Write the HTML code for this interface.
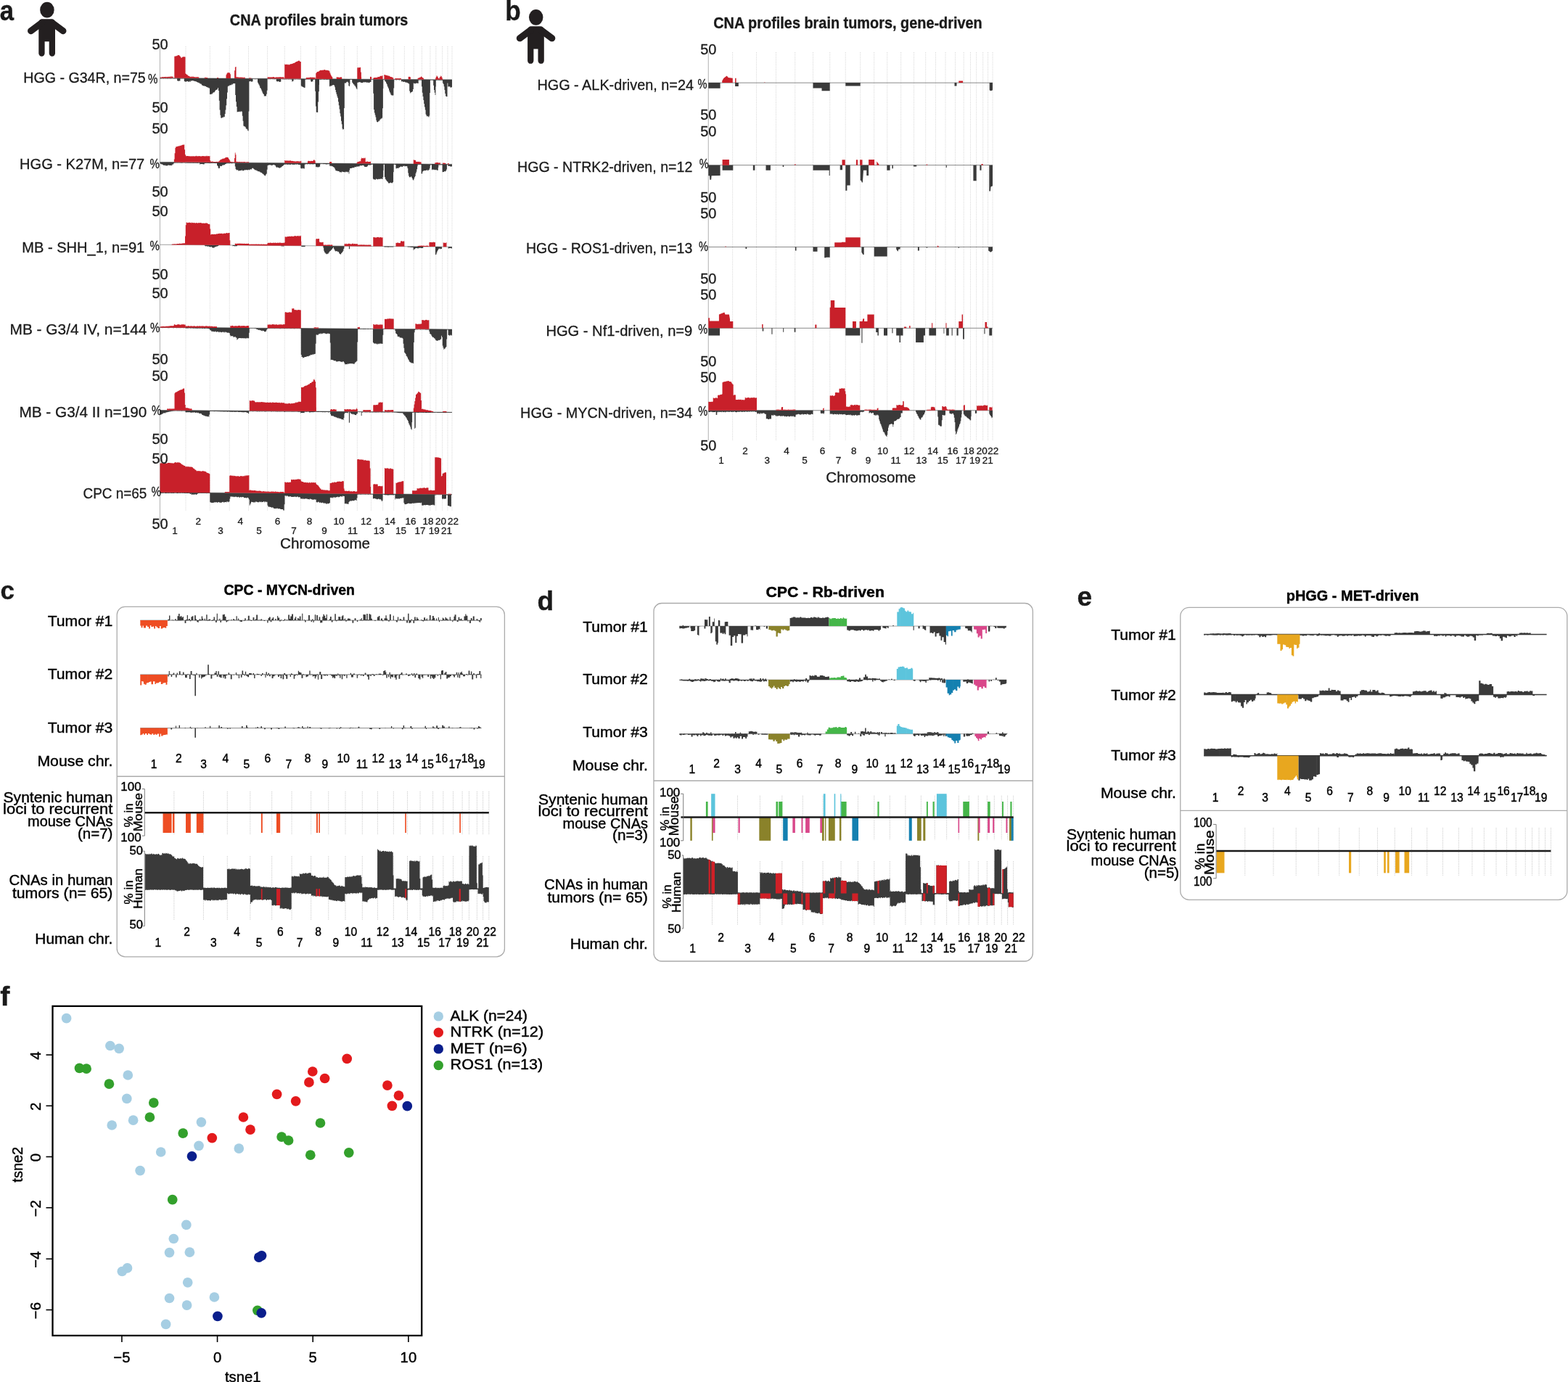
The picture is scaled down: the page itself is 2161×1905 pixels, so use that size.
<!DOCTYPE html>
<html lang="en"><head><meta charset="utf-8"><title>CNA profiles brain tumors</title>
<style>html,body{margin:0;padding:0;background:#fff}svg{display:block}text{font-family:"Liberation Sans", sans-serif;fill:#1a1a1a}text.r{stroke:#1a1a1a;stroke-width:0.3px}text.b{stroke:#1a1a1a;stroke-width:0.35px}text.k{fill:#000;stroke:#000;stroke-width:0.42px}</style></head>
<body><svg width="2161" height="1905" viewBox="0 0 2161 1905">
<line x1="255.97" y1="64.00" x2="255.97" y2="704.00" stroke="#c8c8c8" stroke-width="0.8" stroke-dasharray="1 1.3"/>
<line x1="289.33" y1="64.00" x2="289.33" y2="704.00" stroke="#c8c8c8" stroke-width="0.8" stroke-dasharray="1 1.3"/>
<line x1="316.24" y1="64.00" x2="316.24" y2="704.00" stroke="#c8c8c8" stroke-width="0.8" stroke-dasharray="1 1.3"/>
<line x1="342.50" y1="64.00" x2="342.50" y2="704.00" stroke="#c8c8c8" stroke-width="0.8" stroke-dasharray="1 1.3"/>
<line x1="368.55" y1="64.00" x2="368.55" y2="704.00" stroke="#c8c8c8" stroke-width="0.8" stroke-dasharray="1 1.3"/>
<line x1="392.23" y1="64.00" x2="392.23" y2="704.00" stroke="#c8c8c8" stroke-width="0.8" stroke-dasharray="1 1.3"/>
<line x1="414.40" y1="64.00" x2="414.40" y2="704.00" stroke="#c8c8c8" stroke-width="0.8" stroke-dasharray="1 1.3"/>
<line x1="435.28" y1="64.00" x2="435.28" y2="704.00" stroke="#c8c8c8" stroke-width="0.8" stroke-dasharray="1 1.3"/>
<line x1="455.73" y1="64.00" x2="455.73" y2="704.00" stroke="#c8c8c8" stroke-width="0.8" stroke-dasharray="1 1.3"/>
<line x1="474.46" y1="64.00" x2="474.46" y2="704.00" stroke="#c8c8c8" stroke-width="0.8" stroke-dasharray="1 1.3"/>
<line x1="492.33" y1="64.00" x2="492.33" y2="704.00" stroke="#c8c8c8" stroke-width="0.8" stroke-dasharray="1 1.3"/>
<line x1="511.49" y1="64.00" x2="511.49" y2="704.00" stroke="#c8c8c8" stroke-width="0.8" stroke-dasharray="1 1.3"/>
<line x1="527.63" y1="64.00" x2="527.63" y2="704.00" stroke="#c8c8c8" stroke-width="0.8" stroke-dasharray="1 1.3"/>
<line x1="542.70" y1="64.00" x2="542.70" y2="704.00" stroke="#c8c8c8" stroke-width="0.8" stroke-dasharray="1 1.3"/>
<line x1="557.34" y1="64.00" x2="557.34" y2="704.00" stroke="#c8c8c8" stroke-width="0.8" stroke-dasharray="1 1.3"/>
<line x1="570.25" y1="64.00" x2="570.25" y2="704.00" stroke="#c8c8c8" stroke-width="0.8" stroke-dasharray="1 1.3"/>
<line x1="581.45" y1="64.00" x2="581.45" y2="704.00" stroke="#c8c8c8" stroke-width="0.8" stroke-dasharray="1 1.3"/>
<line x1="592.86" y1="64.00" x2="592.86" y2="704.00" stroke="#c8c8c8" stroke-width="0.8" stroke-dasharray="1 1.3"/>
<line x1="600.82" y1="64.00" x2="600.82" y2="704.00" stroke="#c8c8c8" stroke-width="0.8" stroke-dasharray="1 1.3"/>
<line x1="609.65" y1="64.00" x2="609.65" y2="704.00" stroke="#c8c8c8" stroke-width="0.8" stroke-dasharray="1 1.3"/>
<line x1="616.97" y1="64.00" x2="616.97" y2="704.00" stroke="#c8c8c8" stroke-width="0.8" stroke-dasharray="1 1.3"/>
<line x1="622.99" y1="64.00" x2="622.99" y2="704.00" stroke="#c8c8c8" stroke-width="0.8" stroke-dasharray="1 1.3"/>
<line x1="220.45" y1="64.00" x2="220.45" y2="722.00" stroke="#a8a8a8" stroke-width="0.9"/>
<line x1="220.45" y1="107.48" x2="622.99" y2="109.84" stroke="#8a8a8a" stroke-width="0.8"/>
<path d="M244.1,107.6V111.3H244.9V111.4H245.7V111.9H246.5V111.3H247.3V111.4H248.1V111.5H248.4V107.6ZM253.8,107.7V112.0H254.6V112.4H255.4V112.6H256.2V112.8H257.0V111.9H257.8V112.2H258.6V111.9H259.4V112.8H260.2V112.7H261.0V111.8H261.8V113.1H262.6V111.5H263.4V111.3H264.2V111.4H265.0V111.0H265.8V111.0H266.6V111.9H267.4V111.5H268.2V111.9H269.0V112.2H269.8V112.1H270.6V112.9H271.4V113.1H272.2V113.8H273.0V113.7H273.8V114.3H274.6V114.6H275.4V115.4H276.2V115.6H277.0V115.8H277.8V117.3H278.6V117.8H279.4V118.1H280.2V118.4H281.0V118.4H281.8V118.6H282.6V119.0H283.4V118.9H284.2V120.1H285.0V119.9H285.8V120.7H286.6V120.4H287.4V121.4H288.2V121.5H289.0V130.0H289.8V129.8H290.6V130.3H291.4V129.2H292.2V129.4H293.0V128.1H293.8V127.2H294.6V127.4H295.4V126.8H296.2V125.3H297.0V124.2H297.8V123.8H298.6V123.8H299.4V122.7H300.2V121.1H301.0V124.9H301.8V138.7H302.6V151.5H303.4V158.8H304.2V162.5H305.0V162.7H305.8V162.2H306.6V161.6H307.4V162.0H308.2V160.8H309.0V161.2H309.8V157.1H310.6V151.5H311.4V145.2H312.2V136.3H313.0V127.6H313.8V119.2H314.6V118.2H315.4V118.6H316.2V117.4H317.0V117.3H317.8V117.5H318.6V116.9H319.4V115.8H320.2V116.6H321.0V115.2H321.8V114.9H322.6V115.3H323.4V115.1H324.2V131.1H325.0V140.3H325.8V147.1H326.6V154.5H327.4V153.9H328.2V154.3H329.0V153.8H329.8V153.8H330.6V154.4H331.4V153.6H332.2V153.6H333.0V153.8H333.8V159.7H334.6V166.8H335.4V173.5H336.2V174.2H337.0V174.3H337.8V175.1H338.6V176.7H339.4V177.9H340.2V177.8H341.0V179.7H341.8V180.4H342.6V153.5H343.4V112.3H344.2V111.9H345.0V111.8H345.8V113.1H346.6V112.1H347.4V112.7H348.2V112.1H348.5V108.2ZM355.0,108.3V113.8H355.8V115.4H356.6V116.8H357.4V118.5H358.2V121.0H359.0V121.7H359.8V123.5H360.6V125.6H361.4V127.6H362.2V128.9H363.0V130.0H363.8V132.5H364.6V132.5H365.4V132.2H366.2V132.6H367.0V129.7H367.8V124.7H368.6V108.3ZM380.8,108.4V112.0H381.6V112.2H382.4V112.5H383.2V111.9H384.0V112.2H384.8V113.0H385.6V113.1H386.4V112.6H387.2V112.7H387.3V108.5ZM402.3,108.5V112.5H403.1V111.9H403.9V111.8H404.5V108.6ZM414.8,108.6V118.2H415.6V119.4H416.4V119.2H417.2V119.9H418.0V120.3H418.8V121.1H419.6V120.7H420.4V120.9H420.6V108.7ZM428.2,108.7V112.2H429.0V113.1H429.8V111.9H430.6V112.5H431.4V112.7H431.4V108.7ZM434.2,108.7V125.7H435.0V146.6H435.8V154.7H436.6V154.8H437.4V155.0H438.2V140.5H439.0V126.2H439.8V117.1H440.0V108.8ZM454.0,108.8V119.3H454.8V118.4H455.6V118.6H456.4V118.4H457.2V117.8H458.0V117.6H458.8V117.0H459.6V117.0H460.4V118.1H461.2V120.3H462.0V123.9H462.8V127.3H463.6V130.0H464.4V132.7H465.2V135.1H466.0V140.2H466.8V145.3H467.6V150.4H468.4V156.3H469.2V160.6H470.0V166.8H470.8V171.2H471.6V177.3H472.4V178.8H473.2V177.9H474.0V149.1H474.8V114.5H475.6V114.4H476.4V114.5H477.2V113.3H478.0V112.7H478.8V112.8H479.6V114.1H480.4V118.3H481.2V118.9H482.0V116.5H482.4V109.0ZM485.2,109.0V113.7H486.0V114.7H486.8V116.3H487.6V116.6H488.4V118.2H489.2V118.6H490.0V120.2H490.8V121.9H491.6V123.3H492.4V114.0H493.2V113.4H494.0V113.6H494.8V113.3H495.6V113.0H496.4V113.5H497.2V114.0H498.0V114.0H498.8V113.9H499.6V114.2H500.4V113.3H501.2V113.2H502.0V113.5H502.8V113.3H503.6V113.2H504.4V113.5H505.2V113.8H506.0V113.7H506.8V113.4H507.6V114.1H508.4V114.3H509.2V113.6H510.0V113.1H510.8V113.1H511.5V109.2ZM514.3,109.2V128.7H515.1V151.1H515.9V155.4H516.7V158.6H517.5V161.6H518.3V165.7H519.1V168.1H519.9V168.4H520.7V168.0H521.5V166.6H522.3V166.9H523.1V165.3H523.9V164.4H524.7V163.4H525.5V163.4H526.3V162.4H527.1V149.2H527.9V122.0H528.3V109.3ZM530.4,109.3V112.1H531.2V112.7H532.0V114.5H532.8V115.9H533.6V118.4H534.4V120.2H535.2V122.0H536.0V124.7H536.8V127.1H537.6V128.4H538.4V130.5H539.2V131.2H540.0V131.6H540.8V131.4H541.6V131.5H542.4V121.5H543.2V112.7H543.3V109.4ZM553.0,109.4V112.2H553.8V112.6H554.6V111.8H555.4V113.1H556.2V113.0H557.0V112.4H557.8V113.1H558.6V113.5H559.4V114.1H560.2V113.6H561.0V114.1H561.8V114.7H562.6V114.8H563.4V115.7H564.2V125.4H565.0V128.4H565.8V127.2H566.6V127.3H567.4V126.8H568.2V125.9H569.0V123.1H569.8V114.4H570.6V115.1H571.4V115.2H572.2V115.2H573.0V114.6H573.8V115.0H574.6V114.3H575.4V115.1H576.2V115.1H576.7V109.6ZM581.0,109.6V119.2H581.8V127.7H582.6V133.0H583.4V137.9H584.2V143.0H585.0V147.4H585.8V151.6H586.6V157.5H587.4V159.3H588.2V160.6H589.0V160.1H589.8V160.7H590.6V161.6H591.4V159.4H592.2V128.0H592.9V109.7ZM597.2,109.7V117.8H598.0V124.0H598.8V127.7H599.6V131.0H600.4V119.5H600.8V109.7ZM610.1,109.8V114.6H610.9V115.9H611.7V119.3H612.5V124.0H613.3V128.9H614.1V132.6H614.9V133.2H615.7V133.1H616.5V114.6H617.3V119.4H618.1V119.2H618.9V119.2H619.7V119.5H620.5V120.4H621.3V120.7H622.1V120.0H622.9V121.1H623.0V109.8ZM220.5,107.5V108.5H221.3V108.4H222.1V108.4H222.9V108.2H223.7V108.4H224.5V108.4H225.3V108.4H226.1V108.2H226.9V108.6H227.7V108.4H228.5V108.3H229.3V108.5H230.1V108.4H230.9V108.4H231.7V108.5H232.5V108.2H233.3V108.4H234.1V108.4H234.9V108.6H235.7V108.6H236.5V108.3H237.3V108.4H238.1V108.3H238.9V108.4H239.7V108.6H240.5V108.6H241.3V108.5H242.1V108.4H242.9V108.4H243.7V108.5H244.5V108.6H245.3V108.3H246.1V108.6H246.9V108.3H247.7V108.4H248.5V108.4H249.3V108.6H250.1V108.4H250.9V108.5H251.7V108.6H252.5V108.4H253.3V108.6H254.1V108.4H254.9V108.5H255.7V108.4H256.5V108.4H257.3V108.6H258.1V108.5H258.9V108.5H259.7V108.5H260.5V108.6H261.3V108.4H262.1V108.5H262.9V108.6H263.7V108.6H264.5V108.6H265.3V108.7H266.1V108.7H266.9V108.8H267.7V108.5H268.5V108.7H269.3V108.7H270.1V108.8H270.9V108.6H271.7V108.6H272.5V108.8H273.3V108.5H274.1V108.8H274.9V108.8H275.7V108.5H276.5V108.6H277.3V108.8H278.1V108.6H278.9V108.5H279.7V108.8H280.5V108.7H281.3V108.8H282.1V108.6H282.9V108.7H283.7V108.8H284.5V108.5H285.3V108.6H286.1V108.8H286.9V108.9H287.7V108.9H288.5V108.6H289.3V108.7H290.1V108.8H290.9V108.8H291.7V108.8H292.5V108.6H293.3V108.6H294.1V108.6H294.9V108.6H295.7V108.8H296.5V108.8H297.3V108.8H298.1V108.7H298.9V108.7H299.7V108.7H300.5V108.9H301.3V109.0H302.1V109.0H302.9V108.7H303.7V108.7H304.5V109.0H305.3V108.8H306.1V108.9H306.9V108.8H307.7V108.8H308.5V108.9H309.3V108.8H310.1V108.9H310.9V108.7H311.7V109.0H312.5V109.0H313.3V108.8H314.1V108.9H314.9V109.0H315.7V108.9H316.5V108.8H317.3V108.8H318.1V108.9H318.9V108.7H319.7V109.1H320.5V109.0H321.3V109.0H322.1V109.1H322.9V109.0H323.7V108.9H324.5V109.0H325.3V109.0H326.1V109.1H326.9V109.1H327.7V108.9H328.5V109.1H329.3V109.1H330.1V109.1H330.9V109.1H331.7V109.0H332.5V109.2H333.3V109.2H334.1V109.1H334.9V109.1H335.7V109.1H336.5V109.0H337.3V109.1H338.1V108.9H338.9V109.0H339.7V109.0H340.5V108.9H341.3V109.0H342.1V109.1H342.9V109.1H343.7V109.0H344.5V109.2H345.3V109.1H346.1V109.0H346.9V109.1H347.7V109.1H348.5V109.1H349.3V109.1H350.1V109.3H350.9V109.2H351.7V109.2H352.5V109.2H353.3V109.3H354.1V108.9H354.9V109.2H355.7V109.2H356.5V109.0H357.3V109.1H358.1V109.0H358.9V109.0H359.7V109.1H360.5V109.0H361.3V109.1H362.1V109.3H362.9V109.2H363.7V109.2H364.5V109.4H365.3V109.2H366.1V109.4H366.9V109.3H367.7V109.3H368.5V109.0H369.3V109.3H370.1V109.3H370.9V109.0H371.7V109.4H372.5V109.1H373.3V109.2H374.1V109.1H374.9V109.2H375.7V109.3H376.5V109.1H377.3V109.4H378.1V109.2H378.9V109.3H379.7V109.3H380.5V109.2H381.3V109.2H382.1V109.3H382.9V109.3H383.7V109.2H384.5V109.4H385.3V109.2H386.1V109.1H386.9V109.2H387.7V109.1H388.5V109.2H389.3V109.4H390.1V109.3H390.9V109.5H391.7V109.4H392.5V109.2H393.3V109.5H394.1V109.5H394.9V109.2H395.7V109.5H396.5V109.3H397.3V109.4H398.1V109.6H398.9V109.3H399.7V109.4H400.5V109.6H401.3V109.5H402.1V109.4H402.9V109.6H403.7V109.5H404.5V109.5H405.3V109.3H406.1V109.5H406.9V109.4H407.7V109.3H408.5V109.3H409.3V109.5H410.1V109.3H410.9V109.4H411.7V109.5H412.5V109.5H413.3V109.4H414.1V109.5H414.9V109.5H415.7V109.6H416.5V109.5H417.3V109.7H418.1V109.7H418.9V109.6H419.7V109.4H420.5V109.4H421.3V109.7H422.1V109.6H422.9V109.6H423.7V109.5H424.5V109.5H425.3V109.6H426.1V109.6H426.9V109.6H427.7V109.6H428.5V109.7H429.3V109.4H430.1V109.5H430.9V109.8H431.7V109.7H432.5V109.7H433.3V109.4H434.1V109.4H434.9V109.5H435.7V109.6H436.5V109.7H437.3V109.5H438.1V109.6H438.9V109.5H439.7V109.5H440.5V109.7H441.3V109.7H442.1V109.7H442.9V109.6H443.7V109.6H444.5V109.5H445.3V109.6H446.1V109.8H446.9V109.8H447.7V109.5H448.5V109.5H449.3V109.8H450.1V109.7H450.9V109.8H451.7V109.6H452.5V109.7H453.3V109.6H454.1V109.8H454.9V109.7H455.7V109.8H456.5V109.9H457.3V109.7H458.1V109.8H458.9V109.8H459.7V109.9H460.5V109.7H461.3V109.7H462.1V109.6H462.9V109.9H463.7V109.6H464.5V109.6H465.3V109.8H466.1V109.8H466.9V109.9H467.7V109.7H468.5V109.9H469.3V109.6H470.1V109.7H470.9V109.9H471.7V109.7H472.5V109.7H473.3V109.9H474.1V109.9H474.9V109.8H475.7V109.7H476.5V109.8H477.3V109.9H478.1V109.8H478.9V109.7H479.7V109.9H480.5V109.9H481.3V110.0H482.1V110.0H482.9V110.0H483.7V109.9H484.5V110.0H485.3V109.8H486.1V109.8H486.9V109.9H487.7V110.1H488.5V110.1H489.3V109.8H490.1V109.9H490.9V109.9H491.7V109.9H492.5V109.9H493.3V109.9H494.1V109.8H494.9V110.0H495.7V110.1H496.5V110.0H497.3V110.1H498.1V110.0H498.9V109.9H499.7V110.1H500.5V110.1H501.3V109.9H502.1V109.8H502.9V110.0H503.7V110.0H504.5V110.0H505.3V110.2H506.1V110.1H506.9V110.1H507.7V109.9H508.5V110.1H509.3V110.1H510.1V109.9H510.9V109.9H511.7V110.1H512.5V110.2H513.3V109.9H514.1V110.1H514.9V109.9H515.7V110.2H516.5V110.1H517.3V110.0H518.1V110.0H518.9V110.2H519.7V110.1H520.5V110.2H521.3V110.1H522.1V110.1H522.9V110.3H523.7V110.2H524.5V110.1H525.3V110.1H526.1V110.2H526.9V110.2H527.7V110.3H528.5V110.1H529.3V110.3H530.1V110.2H530.9V110.3H531.7V110.3H532.5V110.3H533.3V110.3H534.1V110.4H534.9V110.2H535.7V110.2H536.5V110.3H537.3V110.3H538.1V110.2H538.9V110.2H539.7V110.1H540.5V110.3H541.3V110.4H542.1V110.2H542.9V110.1H543.7V110.1H544.5V110.2H545.3V110.2H546.1V110.4H546.9V110.1H547.7V110.2H548.5V110.1H549.3V110.3H550.1V110.4H550.9V110.2H551.7V110.1H552.5V110.3H553.3V110.3H554.1V110.5H554.9V110.1H555.7V110.2H556.5V110.2H557.3V110.2H558.1V110.2H558.9V110.4H559.7V110.4H560.5V110.2H561.3V110.2H562.1V110.3H562.9V110.2H563.7V110.5H564.5V110.3H565.3V110.4H566.1V110.5H566.9V110.4H567.7V110.3H568.5V110.5H569.3V110.6H570.1V110.3H570.9V110.4H571.7V110.6H572.5V110.4H573.3V110.3H574.1V110.2H574.9V110.6H575.7V110.5H576.5V110.4H577.3V110.4H578.1V110.4H578.9V110.4H579.7V110.6H580.5V110.5H581.3V110.4H582.1V110.3H582.9V110.5H583.7V110.4H584.5V110.6H585.3V110.6H586.1V110.5H586.9V110.4H587.7V110.4H588.5V110.4H589.3V110.4H590.1V110.7H590.9V110.5H591.7V110.6H592.5V110.7H593.3V110.4H594.1V110.6H594.9V110.4H595.7V110.7H596.5V110.4H597.3V110.7H598.1V110.7H598.9V110.7H599.7V110.4H600.5V110.5H601.3V110.7H602.1V110.4H602.9V110.6H603.7V110.6H604.5V110.8H605.3V110.6H606.1V110.7H606.9V110.5H607.7V110.7H608.5V110.6H609.3V110.8H610.1V110.5H610.9V110.8H611.7V110.5H612.5V110.7H613.3V110.7H614.1V110.5H614.9V110.8H615.7V110.6H616.5V110.6H617.3V110.5H618.1V110.6H618.9V110.7H619.7V110.8H620.5V110.6H621.3V110.8H622.1V110.5H622.9V110.7H623.0V109.8Z" fill="#3a3a3a"/>
<path d="M220.5,107.5V106.4H221.3V106.5H222.1V106.4H222.9V106.3H223.7V106.0H224.5V106.1H225.3V106.2H226.1V106.0H226.9V106.1H227.7V106.0H228.5V105.8H229.3V106.2H230.1V106.1H230.9V105.7H231.7V105.9H232.5V105.7H233.3V105.7H234.1V105.8H234.9V105.6H235.7V105.6H236.5V105.6H237.3V105.7H238.1V105.4H238.7V107.6ZM240.3,107.6V77.6H241.1V77.8H241.9V77.1H242.7V77.4H243.5V76.8H244.3V76.6H245.1V76.0H245.9V76.1H246.7V76.3H247.5V77.2H248.3V78.0H249.1V79.4H249.9V79.7H250.7V78.7H251.5V78.4H252.3V78.3H253.1V78.3H253.9V78.2H254.7V78.6H255.5V101.6H256.3V102.1H257.1V102.9H257.9V103.1H258.7V104.4H259.5V104.5H260.3V105.1H261.1V105.6H261.9V105.8H262.7V105.9H263.5V105.6H264.3V105.7H265.1V105.8H265.9V105.6H266.7V105.9H267.5V106.1H268.3V106.3H269.1V106.2H269.9V106.2H270.7V106.2H271.5V106.0H272.3V106.2H273.1V106.3H273.9V106.4H274.3V107.8ZM281.8,107.8V106.7H282.6V106.8H283.4V106.8H284.2V106.9H285.0V106.9H285.8V106.9H286.1V107.9ZM299.0,107.9V107.0H299.8V107.1H300.6V107.2H301.2V108.0ZM311.5,108.0V103.2H312.3V101.6H313.1V100.4H313.9V99.8H314.7V100.3H315.5V100.6H316.3V100.2H317.1V102.3H317.9V106.7H318.0V108.0ZM323.1,108.1V97.2H323.9V92.4H324.7V92.1H325.5V106.2H326.3V106.2H327.1V106.3H327.9V106.5H328.7V106.6H329.5V106.5H330.3V106.8H331.1V106.5H331.9V106.6H332.7V106.5H333.5V106.9H334.3V106.6H335.1V106.9H335.9V106.8H336.7V106.8H337.5V106.8H337.8V108.2ZM343.2,108.2V107.2H344.0V107.4H344.8V107.4H345.6V107.4H346.4V107.3H346.4V108.2ZM368.6,108.3V106.2H369.4V106.6H370.2V106.3H371.0V106.6H371.8V106.2H372.6V106.4H373.4V106.6H374.2V106.2H375.0V106.4H375.8V106.1H376.6V106.1H377.4V106.2H378.2V106.7H379.0V106.7H379.8V106.5H380.6V106.3H381.4V106.5H382.2V106.5H383.0V106.3H383.8V106.5H384.6V106.6H385.4V106.1H386.2V106.2H387.0V106.4H387.8V106.2H388.6V106.3H389.4V106.4H390.2V106.2H391.0V106.4H391.6V108.5ZM392.2,108.5V88.6H393.0V88.9H393.8V88.7H394.6V89.1H395.4V88.6H396.2V89.2H397.0V88.8H397.8V89.5H398.6V88.9H399.4V88.6H400.2V88.2H401.0V88.2H401.8V88.0H402.6V87.7H403.4V87.5H404.2V86.9H405.0V87.0H405.8V86.5H406.6V86.1H407.4V85.3H408.2V85.0H409.0V84.7H409.8V84.6H410.6V83.9H411.4V83.5H412.2V83.8H413.0V84.8H413.8V84.9H414.6V85.0H414.8V108.6ZM421.7,108.7V107.0H422.5V107.0H423.3V107.0H424.1V106.9H424.9V107.0H425.7V106.7H426.5V106.9H427.3V106.6H428.1V106.6H428.9V106.8H429.7V106.8H430.5V106.8H431.3V106.6H432.1V106.9H432.9V106.8H433.7V106.7H434.5V106.7H434.6V108.7ZM435.3,108.7V101.0H436.1V99.7H436.9V98.8H437.7V99.1H438.5V98.7H439.3V97.9H440.1V97.6H440.9V96.8H441.7V97.1H442.5V96.5H443.3V96.9H444.1V96.6H444.9V96.9H445.7V96.1H446.5V96.6H447.3V96.0H448.1V96.5H448.9V97.1H449.7V96.4H450.5V96.8H451.3V97.1H452.1V97.3H452.9V97.2H453.7V98.3H454.5V100.5H455.3V102.4H456.1V104.2H456.9V105.6H457.7V106.3H458.3V108.9ZM463.7,108.9V106.0H464.5V106.7H465.3V106.3H466.1V106.4H466.9V106.7H467.7V106.8H468.5V106.4H469.3V106.2H470.1V106.2H470.9V106.7H471.2V109.0ZM492.3,109.1V93.4H493.1V92.8H493.9V93.4H494.7V92.9H495.5V93.0H496.3V92.8H497.1V99.4H497.9V106.1H498.1V109.1ZM510.0,109.2V105.7H510.8V106.1H511.6V105.7H512.1V109.2ZM514.3,109.2V107.8H515.1V107.1H515.9V107.0H516.7V107.1H517.5V106.7H518.3V106.9H519.1V106.7H519.9V106.4H520.7V105.7H521.5V106.0H522.3V106.0H523.1V105.3H523.9V104.8H524.7V104.7H525.5V104.5H526.3V104.7H527.1V104.0H527.6V109.3ZM529.4,109.3V102.9H530.2V103.1H531.0V103.6H531.8V103.9H532.6V103.6H533.4V104.0H534.2V104.5H535.0V104.6H535.8V104.6H536.6V105.0H537.4V105.8H538.2V105.9H539.0V105.9H539.8V106.5H540.6V106.4H541.4V107.4H542.2V107.2H542.3V109.4ZM544.4,109.4V108.1H545.2V108.1H546.0V107.9H546.8V108.2H547.6V108.0H548.4V108.0H549.2V108.2H550.0V108.0H550.8V108.0H551.6V108.2H552.4V108.0H553.0V109.4ZM562.7,109.5V105.8H563.5V106.0H564.3V105.7H565.1V106.3H565.9V106.4H565.9V109.5ZM575.6,109.6V107.7H576.4V107.5H577.2V107.3H578.0V106.7H578.8V106.8H579.6V106.0H580.4V105.3H581.2V106.2H582.0V107.0H582.8V107.5H583.6V108.3H584.2V109.6ZM600.0,109.7V107.8H600.8V105.9H601.6V104.2H602.4V105.3H603.2V106.6H604.0V107.9H604.8V108.2H605.6V106.6H606.4V106.1H607.2V104.4H608.0V105.3H608.8V106.7H609.6V108.4H610.1V109.8Z" fill="#c8202a"/>
<line x1="220.45" y1="223.39" x2="622.99" y2="226.40" stroke="#8a8a8a" stroke-width="0.8"/>
<path d="M220.5,223.4V225.3H221.3V225.9H222.1V226.4H222.9V226.2H223.7V227.0H224.5V227.2H225.3V228.1H226.1V228.1H226.9V227.5H227.7V228.3H228.5V228.4H229.3V228.2H230.1V228.6H230.9V227.7H231.7V227.7H232.5V227.5H233.3V228.1H234.1V228.0H234.9V228.0H235.7V227.8H236.5V228.3H237.3V226.5H238.1V226.8H238.9V225.5H239.7V225.0H239.8V223.5ZM275.3,223.8V226.7H276.1V226.1H276.9V226.0H277.7V226.2H278.5V225.9H279.3V226.2H280.1V226.5H280.9V226.4H281.7V226.1H281.8V223.8ZM299.0,224.0V228.1H299.8V229.0H300.6V231.6H301.4V232.2H302.2V231.7H303.0V228.7H303.8V229.2H304.6V229.1H305.4V228.8H306.2V227.5H307.0V227.7H307.8V227.4H308.6V226.9H309.4V227.6H310.2V226.0H311.0V225.9H311.8V225.8H311.9V224.1ZM323.8,224.2V229.4H324.6V233.1H325.4V233.9H326.2V234.7H327.0V234.1H327.8V234.8H328.6V236.1H329.4V235.1H330.2V235.3H331.0V235.1H331.8V235.2H332.6V234.6H333.4V234.4H334.2V235.6H335.0V235.2H335.8V235.1H336.6V234.3H337.4V234.2H338.2V234.5H339.0V234.0H339.8V234.2H340.6V234.8H341.4V233.9H342.2V233.8H343.0V234.5H343.8V233.9H344.6V233.1H345.4V233.4H346.2V233.5H347.0V231.9H347.8V231.5H348.6V232.1H349.4V233.1H350.2V233.5H351.0V234.4H351.8V234.2H352.6V234.5H353.4V235.5H354.2V235.3H355.0V236.2H355.8V235.9H356.6V236.4H357.4V236.6H358.2V237.5H359.0V237.4H359.8V238.0H360.6V238.5H361.4V239.4H362.2V239.7H363.0V240.5H363.8V241.7H364.6V241.8H365.4V242.6H366.2V240.5H367.0V239.5H367.8V233.8H368.6V228.3H369.4V227.8H370.2V227.6H371.0V227.2H371.8V227.4H372.6V227.4H373.4V227.5H374.2V228.2H375.0V227.8H375.8V227.2H376.6V227.2H377.4V226.9H378.2V227.8H379.0V228.1H379.8V229.7H380.6V230.6H381.4V231.2H382.2V230.2H383.0V230.9H383.8V231.3H384.6V231.2H385.4V231.9H386.2V230.7H387.0V230.8H387.8V230.0H388.6V228.9H389.4V228.8H390.2V227.9H391.0V227.0H391.8V226.5H392.6V226.9H393.4V226.4H394.2V226.6H395.0V226.8H395.8V226.9H396.6V226.5H397.4V227.0H398.2V226.6H399.0V227.0H399.8V227.0H400.6V226.5H401.4V226.6H402.2V226.6H403.0V227.0H403.8V226.7H404.6V226.7H405.4V227.2H406.2V226.6H407.0V226.6H407.8V226.7H408.6V226.6H409.4V226.4H410.2V226.4H411.0V226.9H411.8V226.9H412.6V227.1H413.4V227.3H414.2V231.7H415.0V232.2H415.8V232.6H416.6V231.6H417.4V232.3H418.2V232.2H419.0V232.6H419.8V226.7H420.6V226.2H421.4V226.5H422.2V226.1H423.0V226.4H423.8V226.3H424.6V226.1H425.4V226.3H426.2V226.3H427.0V226.4H427.8V226.3H428.6V226.2H429.4V226.3H430.2V226.4H431.0V226.2H431.8V226.5H432.6V226.2H433.4V226.1H434.2V226.3H435.0V230.2H435.8V229.8H436.6V230.4H437.4V230.5H438.2V230.3H439.0V230.5H439.8V229.6H440.6V230.1H441.1V225.0ZM445.4,225.1V226.3H446.2V226.1H447.0V226.3H447.8V226.1H448.6V226.4H449.4V226.4H450.2V226.4H451.0V226.3H451.8V226.3H452.6V226.1H453.4V226.3H454.2V228.8H455.0V228.7H455.8V228.5H456.6V229.3H457.4V229.0H458.2V229.6H459.0V230.1H459.8V230.8H460.6V231.2H461.4V233.0H462.2V235.1H463.0V235.3H463.8V235.4H464.6V235.7H465.4V235.7H466.2V236.1H467.0V236.2H467.8V237.3H468.6V237.6H469.4V237.0H470.2V237.7H471.0V236.5H471.8V236.7H472.6V237.2H473.4V236.9H474.2V237.0H475.0V237.8H475.8V236.7H476.6V236.7H477.4V236.8H478.2V237.4H479.0V236.8H479.8V237.2H480.6V239.4H481.4V234.6H482.2V231.9H483.0V232.0H483.8V232.0H484.6V231.6H485.4V231.5H486.2V231.1H487.0V231.3H487.8V231.2H488.6V230.1H489.4V229.9H490.2V230.4H491.0V229.4H491.8V229.7H492.6V229.4H493.4V229.3H494.2V229.5H495.0V229.2H495.8V228.1H496.6V228.6H497.4V228.3H498.2V228.3H499.0V227.9H499.8V227.7H500.6V228.0H501.4V228.8H502.2V229.9H503.0V229.9H503.8V230.0H504.6V229.8H505.4V230.1H506.2V228.7H507.0V227.7H507.8V227.3H508.6V227.3H509.4V227.9H510.2V227.3H511.0V227.6H511.5V225.6ZM513.9,225.6V246.5H514.7V247.4H515.5V246.9H516.3V247.8H517.1V247.7H517.9V246.6H518.7V246.8H519.5V247.0H520.3V247.4H521.1V246.8H521.9V247.1H522.7V246.4H523.5V247.0H524.3V246.4H525.1V246.3H525.9V246.8H526.7V246.9H527.5V244.2H528.3V235.1H528.7V225.7ZM530.0,225.7V243.9H530.8V246.7H531.6V247.7H532.4V249.1H533.2V250.2H534.0V250.4H534.8V251.9H535.6V253.1H536.4V252.3H537.2V252.0H538.0V251.6H538.8V252.1H539.6V252.4H540.4V252.3H541.2V250.9H542.0V237.2H542.7V225.8ZM545.5,225.8V232.2H546.3V232.2H547.1V231.6H547.9V232.1H548.7V231.9H549.5V230.4H550.3V231.0H551.1V229.9H551.9V229.5H552.7V229.6H553.5V229.9H554.3V230.0H555.1V228.7H555.9V229.0H556.7V228.6H557.5V229.3H558.3V229.2H559.1V229.0H559.9V228.9H560.7V229.6H561.5V232.0H562.3V238.4H563.1V242.6H563.9V244.3H564.7V244.2H565.5V244.2H566.3V243.1H567.1V244.5H567.9V246.0H568.7V248.1H569.5V248.5H570.3V246.5H571.1V244.3H571.9V242.7H572.7V239.1H573.5V236.8H574.3V233.2H575.1V229.2H575.6V226.0ZM580.6,226.1V239.4H581.4V239.2H582.2V236.6H583.0V235.8H583.8V235.2H584.6V235.1H585.4V235.3H586.2V235.0H587.0V234.8H587.8V234.4H588.6V234.3H589.4V235.4H590.2V234.5H591.0V234.1H591.8V231.9H592.6V229.3H592.9V226.2ZM595.0,226.2V234.2H595.8V233.3H596.6V234.2H597.4V233.8H598.2V233.8H599.0V234.5H599.8V234.0H600.6V233.7H601.4V234.4H602.2V234.7H603.0V234.7H603.8V230.8H604.3V226.3ZM609.6,226.3V237.3H610.4V237.0H611.2V237.0H612.0V236.1H612.8V236.5H613.6V236.2H614.4V235.3H615.2V233.4H615.9V226.3ZM617.6,226.4V229.0H618.4V228.9H619.2V228.8H620.0V229.2H620.8V229.8H621.6V229.2H622.4V229.4H623.0V226.4ZM220.5,223.4V224.2H221.3V224.3H222.1V224.7H222.9V224.2H223.7V224.5H224.5V224.6H225.3V224.6H226.1V224.6H226.9V224.5H227.7V224.7H228.5V224.7H229.3V224.7H230.1V224.8H230.9V224.3H231.7V224.8H232.5V224.5H233.3V224.7H234.1V224.4H234.9V224.8H235.7V224.3H236.5V224.6H237.3V224.5H238.1V224.5H238.9V224.5H239.7V224.7H240.5V224.8H241.3V224.6H242.1V224.7H242.9V224.6H243.7V224.5H244.5V224.8H245.3V224.6H246.1V224.5H246.9V224.6H247.7V224.8H248.5V224.5H249.3V224.8H250.1V224.7H250.9V224.8H251.7V224.5H252.5V224.5H253.3V224.5H254.1V224.6H254.9V224.7H255.7V224.5H256.5V224.7H257.3V224.7H258.1V224.7H258.9V224.8H259.7V225.0H260.5V224.6H261.3V225.0H262.1V224.7H262.9V224.9H263.7V224.6H264.5V225.0H265.3V224.8H266.1V225.0H266.9V224.7H267.7V224.8H268.5V224.9H269.3V224.7H270.1V224.7H270.9V224.9H271.7V225.1H272.5V224.8H273.3V224.7H274.1V224.8H274.9V225.1H275.7V224.7H276.5V224.9H277.3V224.8H278.1V225.0H278.9V224.8H279.7V225.0H280.5V225.1H281.3V225.1H282.1V225.0H282.9V224.9H283.7V225.0H284.5V224.8H285.3V225.1H286.1V225.0H286.9V224.9H287.7V225.0H288.5V224.9H289.3V224.9H290.1V224.9H290.9V225.0H291.7V225.0H292.5V225.0H293.3V224.8H294.1V225.1H294.9V225.0H295.7V225.1H296.5V225.1H297.3V225.2H298.1V224.9H298.9V225.0H299.7V225.3H300.5V225.2H301.3V225.0H302.1V225.2H302.9V225.3H303.7V225.0H304.5V225.3H305.3V224.9H306.1V225.3H306.9V225.1H307.7V225.0H308.5V225.3H309.3V225.2H310.1V225.3H310.9V225.3H311.7V225.3H312.5V225.2H313.3V225.4H314.1V225.0H314.9V225.4H315.7V225.3H316.5V225.1H317.3V225.3H318.1V225.2H318.9V225.2H319.7V225.4H320.5V225.1H321.3V225.1H322.1V225.3H322.9V225.0H323.7V225.3H324.5V225.4H325.3V225.2H326.1V225.1H326.9V225.4H327.7V225.4H328.5V225.4H329.3V225.3H330.1V225.5H330.9V225.4H331.7V225.1H332.5V225.2H333.3V225.1H334.1V225.1H334.9V225.2H335.7V225.5H336.5V225.5H337.3V225.2H338.1V225.2H338.9V225.3H339.7V225.5H340.5V225.4H341.3V225.6H342.1V225.2H342.9V225.6H343.7V225.2H344.5V225.5H345.3V225.6H346.1V225.5H346.9V225.3H347.7V225.5H348.5V225.4H349.3V225.2H350.1V225.4H350.9V225.4H351.7V225.5H352.5V225.3H353.3V225.5H354.1V225.6H354.9V225.3H355.7V225.3H356.5V225.6H357.3V225.5H358.1V225.3H358.9V225.3H359.7V225.7H360.5V225.6H361.3V225.4H362.1V225.4H362.9V225.8H363.7V225.6H364.5V225.7H365.3V225.5H366.1V225.5H366.9V225.5H367.7V225.4H368.5V225.6H369.3V225.5H370.1V225.7H370.9V225.5H371.7V225.6H372.5V225.6H373.3V225.8H374.1V225.5H374.9V225.7H375.7V225.5H376.5V225.7H377.3V225.5H378.1V225.8H378.9V225.5H379.7V225.8H380.5V225.7H381.3V225.6H382.1V225.9H382.9V225.6H383.7V225.8H384.5V225.7H385.3V225.7H386.1V225.5H386.9V225.7H387.7V225.6H388.5V225.7H389.3V225.9H390.1V225.6H390.9V225.8H391.7V225.8H392.5V225.6H393.3V225.7H394.1V225.6H394.9V226.0H395.7V225.7H396.5V225.7H397.3V225.7H398.1V226.0H398.9V226.0H399.7V225.9H400.5V225.8H401.3V225.6H402.1V226.0H402.9V225.6H403.7V225.8H404.5V225.8H405.3V226.0H406.1V225.9H406.9V225.8H407.7V226.1H408.5V226.1H409.3V225.6H410.1V225.9H410.9V225.9H411.7V225.8H412.5V225.9H413.3V225.8H414.1V226.0H414.9V226.0H415.7V226.2H416.5V226.2H417.3V226.2H418.1V225.9H418.9V226.1H419.7V226.0H420.5V226.1H421.3V226.2H422.1V225.8H422.9V226.0H423.7V225.9H424.5V226.1H425.3V225.9H426.1V226.2H426.9V225.9H427.7V226.0H428.5V225.8H429.3V226.0H430.1V226.2H430.9V225.8H431.7V225.9H432.5V226.1H433.3V226.1H434.1V226.2H434.9V226.0H435.7V226.2H436.5V226.2H437.3V226.2H438.1V225.9H438.9V226.1H439.7V225.9H440.5V226.3H441.3V226.3H442.1V226.3H442.9V225.9H443.7V226.1H444.5V226.2H445.3V226.2H446.1V226.0H446.9V226.3H447.7V226.1H448.5V226.2H449.3V226.0H450.1V226.2H450.9V226.0H451.7V226.0H452.5V226.2H453.3V226.1H454.1V226.3H454.9V226.1H455.7V226.2H456.5V226.0H457.3V226.1H458.1V226.2H458.9V226.3H459.7V226.2H460.5V226.4H461.3V226.1H462.1V226.4H462.9V226.1H463.7V226.5H464.5V226.3H465.3V226.3H466.1V226.4H466.9V226.5H467.7V226.5H468.5V226.3H469.3V226.1H470.1V226.2H470.9V226.5H471.7V226.5H472.5V226.5H473.3V226.2H474.1V226.4H474.9V226.1H475.7V226.2H476.5V226.3H477.3V226.6H478.1V226.5H478.9V226.6H479.7V226.2H480.5V226.4H481.3V226.2H482.1V226.3H482.9V226.2H483.7V226.6H484.5V226.4H485.3V226.4H486.1V226.5H486.9V226.6H487.7V226.7H488.5V226.5H489.3V226.5H490.1V226.7H490.9V226.4H491.7V226.4H492.5V226.6H493.3V226.4H494.1V226.4H494.9V226.5H495.7V226.5H496.5V226.5H497.3V226.5H498.1V226.5H498.9V226.3H499.7V226.7H500.5V226.3H501.3V226.6H502.1V226.6H502.9V226.5H503.7V226.5H504.5V226.4H505.3V226.5H506.1V226.5H506.9V226.6H507.7V226.5H508.5V226.7H509.3V226.6H510.1V226.4H510.9V226.6H511.7V226.9H512.5V226.4H513.3V226.7H514.1V226.9H514.9V226.6H515.7V226.7H516.5V226.6H517.3V226.6H518.1V226.7H518.9V226.7H519.7V226.6H520.5V226.7H521.3V226.7H522.1V226.8H522.9V226.5H523.7V226.5H524.5V226.6H525.3V226.6H526.1V226.9H526.9V226.7H527.7V226.9H528.5V226.7H529.3V226.7H530.1V226.9H530.9V226.6H531.7V227.0H532.5V227.0H533.3V226.7H534.1V226.7H534.9V227.0H535.7V227.0H536.5V226.9H537.3V226.6H538.1V227.0H538.9V226.6H539.7V226.9H540.5V226.9H541.3V227.1H542.1V226.9H542.9V226.6H543.7V227.1H544.5V227.0H545.3V226.9H546.1V226.7H546.9V227.0H547.7V226.9H548.5V227.0H549.3V227.2H550.1V227.1H550.9V226.7H551.7V227.1H552.5V226.9H553.3V227.1H554.1V226.9H554.9V226.9H555.7V226.9H556.5V226.8H557.3V226.9H558.1V227.1H558.9V226.8H559.7V226.8H560.5V227.2H561.3V227.1H562.1V227.0H562.9V226.8H563.7V226.8H564.5V226.9H565.3V227.3H566.1V227.1H566.9V227.3H567.7V226.9H568.5V227.0H569.3V227.1H570.1V227.2H570.9V226.9H571.7V227.3H572.5V227.1H573.3V226.9H574.1V227.1H574.9V227.1H575.7V227.2H576.5V227.3H577.3V227.1H578.1V227.2H578.9V227.1H579.7V227.3H580.5V227.0H581.3V227.3H582.1V227.0H582.9V227.2H583.7V227.0H584.5V227.1H585.3V227.0H586.1V227.1H586.9V227.3H587.7V227.2H588.5V227.2H589.3V227.3H590.1V227.4H590.9V227.2H591.7V227.3H592.5V227.2H593.3V227.5H594.1V227.2H594.9V227.4H595.7V227.1H596.5V227.2H597.3V227.4H598.1V227.3H598.9V227.2H599.7V227.1H600.5V227.5H601.3V227.3H602.1V227.4H602.9V227.3H603.7V227.4H604.5V227.4H605.3V227.6H606.1V227.6H606.9V227.3H607.7V227.4H608.5V227.2H609.3V227.5H610.1V227.2H610.9V227.3H611.7V227.6H612.5V227.2H613.3V227.5H614.1V227.4H614.9V227.4H615.7V227.3H616.5V227.3H617.3V227.7H618.1V227.6H618.9V227.6H619.7V227.3H620.5V227.6H621.3V227.3H622.1V227.3H622.9V227.5H623.0V226.4Z" fill="#3a3a3a"/>
<path d="M239.8,223.5V219.6H240.6V211.3H241.4V204.0H242.2V202.2H243.0V202.3H243.8V202.1H244.6V201.7H245.4V201.3H246.2V201.6H247.0V201.2H247.8V200.6H248.6V200.9H249.4V200.6H250.2V200.0H251.0V199.8H251.8V199.4H252.6V199.7H253.4V199.3H254.2V206.2H255.0V212.9H255.8V214.7H256.6V215.2H257.4V215.0H258.2V215.0H259.0V215.0H259.8V215.2H260.6V215.5H261.4V214.9H262.2V215.5H263.0V215.5H263.8V215.3H264.6V215.2H265.4V215.4H266.2V215.2H267.0V215.3H267.8V215.6H268.6V215.5H269.4V215.0H270.2V214.8H271.0V215.6H271.8V215.1H272.6V215.5H273.4V215.0H274.2V215.2H275.0V215.1H275.8V215.4H276.6V215.6H277.4V215.2H278.2V215.3H279.0V215.1H279.8V215.0H280.6V215.6H281.4V214.9H282.2V215.6H283.0V215.3H283.8V214.8H284.6V215.6H285.4V214.8H286.2V215.3H287.0V214.9H287.8V215.6H288.6V215.0H289.4V221.2H290.2V222.6H291.0V222.8H291.8V222.6H292.6V222.6H293.4V222.8H294.2V223.0H295.0V222.9H295.8V223.0H296.6V223.0H297.4V222.9H298.2V222.8H299.0V222.9H299.8V222.8H300.6V223.0H301.4V222.3H302.2V221.6H303.0V220.6H303.8V220.3H304.6V219.6H305.4V219.4H306.2V218.7H307.0V218.8H307.8V218.5H308.6V218.6H309.4V217.9H310.2V217.3H311.0V217.1H311.8V216.8H312.6V216.9H313.4V216.8H314.2V217.6H315.0V218.9H315.8V220.2H316.6V221.5H317.4V223.0H318.2V223.1H319.0V223.2H319.8V223.3H320.6V223.3H321.4V223.4H322.2V223.4H323.0V218.1H323.8V210.5H324.6V213.3H325.4V223.1H326.2V222.8H327.0V222.9H327.8V223.1H328.6V223.2H329.4V222.9H330.2V222.9H331.0V223.2H331.8V223.2H332.6V223.1H333.4V223.2H334.2V223.3H335.0V223.3H335.8V223.1H336.6V223.1H337.4V223.3H338.2V223.4H339.0V223.4H339.8V223.3H340.6V223.3H341.4V223.3H342.2V223.2H343.0V223.5H343.2V224.3ZM392.2,224.7V221.0H393.0V221.4H393.8V221.4H394.6V221.2H395.4V221.6H396.2V221.4H397.0V221.2H397.8V221.9H398.6V221.3H399.4V221.3H400.2V221.4H401.0V221.7H401.8V222.1H402.6V221.8H403.4V221.9H404.2V222.3H405.0V222.2H405.8V222.5H406.6V222.3H407.4V222.7H408.2V222.2H409.0V222.2H409.8V222.2H410.6V222.2H411.4V222.4H412.2V222.4H413.0V222.4H413.8V222.2H414.6V221.8H415.3V224.8ZM423.9,224.9V222.3H424.7V221.8H425.5V221.7H426.3V221.9H427.1V222.3H427.9V221.7H428.7V221.7H429.5V222.1H430.3V222.1H431.1V221.5H431.9V220.5H432.7V220.3H433.5V221.3H434.3V221.7H434.6V225.0ZM454.0,225.1V223.3H454.8V223.1H455.6V223.0H456.4V223.2H457.2V223.3H457.2V225.2ZM491.7,225.4V223.7H492.5V223.6H493.3V222.8H494.1V222.9H494.9V222.6H495.7V222.0H496.5V222.5H497.3V219.3H498.1V217.5H498.9V218.1H499.7V218.2H500.5V218.2H501.3V217.6H502.1V218.2H502.9V217.5H503.7V222.9H504.5V223.1H505.3V222.5H506.1V222.4H506.9V222.9H507.7V223.1H508.5V222.9H509.3V223.1H510.1V222.7H510.9V222.6H511.1V225.6ZM569.8,226.0V220.2H570.6V220.4H571.4V221.0H572.2V220.7H573.0V222.7H573.8V223.0H574.6V222.8H575.4V223.0H576.2V222.9H577.0V222.8H577.8V223.2H578.6V223.2H579.4V223.2H580.2V223.4H580.6V226.1ZM599.3,226.2V224.3H600.1V224.5H600.9V224.0H601.7V224.1H602.5V224.0H603.3V224.1H604.1V224.4H604.9V224.5H605.7V224.2H606.5V224.0H606.8V226.3ZM610.1,226.3V224.6H610.9V224.7H611.7V224.6H612.5V224.8H613.3V224.9H614.1V224.7H614.4V226.3ZM617.0,226.4V225.1H617.8V225.2H618.6V225.1H618.7V226.4Z" fill="#c8202a"/>
<line x1="220.45" y1="337.26" x2="622.99" y2="340.27" stroke="#8a8a8a" stroke-width="0.8"/>
<path d="M281.8,337.7V338.5H282.6V339.3H283.4V339.5H284.2V339.0H285.0V339.7H285.8V339.6H286.6V339.5H287.4V339.7H288.2V339.9H289.0V340.7H289.8V340.2H290.6V340.1H291.4V340.6H292.2V341.5H293.0V341.3H293.8V341.7H294.6V341.4H295.4V340.7H296.2V340.2H297.0V340.3H297.8V339.7H298.6V339.6H299.4V339.6H300.2V339.1H301.0V339.0H301.2V337.9ZM320.5,338.0V339.3H321.3V339.1H322.1V339.1H322.9V339.4H323.7V339.2H324.5V339.2H325.3V339.2H326.1V339.2H326.9V339.1H327.0V338.1ZM387.3,338.5V339.6H388.1V339.3H388.9V339.6H389.7V339.6H390.5V339.6H391.3V339.3H391.6V338.5ZM415.3,338.7V340.1H416.1V340.3H416.9V339.9H417.7V339.9H418.5V340.2H419.3V339.9H420.1V340.1H420.6V338.8ZM445.4,338.9V341.5H446.2V345.7H447.0V347.8H447.8V348.5H448.6V349.7H449.4V349.7H450.2V350.4H451.0V349.8H451.8V349.7H452.6V348.4H453.4V347.5H454.2V346.3H455.0V346.1H455.8V344.8H456.6V344.2H457.4V343.3H458.2V342.1H459.0V340.8H459.8V342.7H460.6V344.3H461.4V345.7H462.2V346.5H463.0V345.9H463.8V346.4H464.6V346.3H465.4V347.5H466.2V347.1H467.0V348.7H467.8V349.9H468.6V350.4H469.4V350.5H470.2V349.0H471.0V347.9H471.8V347.2H472.6V345.7H473.4V342.9H474.2V341.5H474.5V339.2ZM480.9,339.2V343.0H481.7V343.7H482.0V339.2ZM529.4,339.6V340.5H530.2V340.4H531.0V340.4H531.8V340.4H532.6V340.6H533.4V340.6H534.2V340.7H535.0V340.7H535.8V340.6H536.6V340.6H537.4V340.6H538.2V340.6H539.0V340.6H539.8V340.4H540.6V340.6H541.4V340.4H542.2V340.4H542.3V339.7ZM561.6,339.8V340.6H562.4V340.4H563.2V340.6H564.0V340.6H564.8V340.8H565.6V340.8H566.4V341.0H567.2V341.0H568.0V340.9H568.8V341.0H569.6V344.8H570.4V343.2H571.2V343.6H572.0V342.6H572.8V342.0H573.6V341.8H574.4V342.3H575.2V342.3H576.0V342.4H576.8V342.0H577.6V341.5H578.4V342.0H579.2V341.4H580.0V342.0H580.8V341.9H581.6V341.8H582.4V341.9H583.2V340.0ZM600.0,340.1V351.2H600.8V350.6H601.6V348.2H602.4V346.2H603.2V344.8H604.0V343.6H604.8V342.6H605.6V342.7H606.4V343.5H607.2V342.7H608.0V343.1H608.8V343.2H609.0V340.2ZM617.6,340.2V342.4H618.4V342.2H619.2V342.0H620.0V342.0H620.8V341.9H621.6V342.3H622.4V342.4H623.0V340.3Z" fill="#3a3a3a"/>
<path d="M236.6,337.4V336.7H237.4V336.5H238.2V336.6H239.0V336.5H239.8V336.3H240.6V336.5H241.4V336.3H242.2V336.4H243.0V336.2H243.8V336.0H244.6V335.9H245.4V336.0H246.2V335.9H247.0V335.6H247.8V336.0H248.6V335.8H249.4V335.7H250.2V335.8H251.0V335.4H251.8V335.3H252.6V335.5H253.4V335.2H254.2V335.2H255.0V325.4H255.8V310.2H256.6V306.6H257.4V306.8H258.2V307.2H259.0V306.9H259.8V306.8H260.6V306.8H261.4V306.7H262.2V306.9H263.0V307.4H263.8V306.6H264.6V306.9H265.4V307.2H266.2V307.3H267.0V307.1H267.8V307.2H268.6V307.5H269.4V307.5H270.2V307.0H271.0V307.3H271.8V307.7H272.6V307.3H273.4V307.0H274.2V307.6H275.0V307.0H275.8V307.1H276.6V307.5H277.4V307.3H278.2V307.7H279.0V307.7H279.8V307.4H280.6V307.8H281.4V307.7H282.2V307.8H283.0V307.6H283.8V307.6H284.6V307.4H285.4V307.7H286.2V308.5H287.0V309.0H287.8V308.8H288.6V309.3H289.4V315.4H290.2V323.4H291.0V323.1H291.8V322.8H292.6V323.0H293.4V323.1H294.2V323.1H295.0V322.8H295.8V322.9H296.6V322.9H297.4V322.8H298.2V322.2H299.0V322.7H299.8V322.1H300.6V322.0H301.4V322.3H302.2V321.8H303.0V321.8H303.8V322.0H304.6V322.0H305.4V321.6H306.2V322.3H307.0V322.2H307.8V321.8H308.6V321.8H309.4V321.5H310.2V322.0H311.0V321.2H311.8V321.3H312.6V321.1H313.4V321.6H314.2V321.3H315.0V321.1H315.8V321.0H316.6V331.2H317.3V338.0ZM323.8,338.0V335.6H324.6V336.0H325.4V335.9H326.2V335.7H327.0V335.7H327.8V335.7H328.6V335.7H329.4V335.6H330.2V335.8H331.0V335.7H331.8V335.6H332.6V335.9H333.4V335.7H334.2V335.7H335.0V336.0H335.8V335.7H336.6V335.7H337.4V336.0H338.2V336.1H339.0V336.0H339.8V335.7H340.6V335.9H341.4V335.9H342.2V335.6H343.0V335.9H343.2V338.2ZM343.2,338.2V336.8H344.0V336.7H344.8V336.7H345.6V336.6H346.4V336.7H347.2V336.5H348.0V336.7H348.8V336.6H349.6V336.8H350.4V336.5H351.2V336.7H352.0V336.4H352.8V336.6H353.6V336.7H354.4V336.5H355.2V336.7H356.0V336.5H356.8V336.6H357.6V336.9H358.4V336.5H359.2V336.8H360.0V336.4H360.8V336.7H361.6V336.8H362.4V336.8H363.2V336.6H364.0V336.7H364.8V336.7H365.6V336.8H366.4V336.7H367.2V336.7H368.0V336.5H368.6V338.4ZM368.6,338.4V334.9H369.4V334.7H370.2V334.7H371.0V335.1H371.8V334.3H372.6V334.9H373.4V334.5H374.2V334.9H375.0V335.1H375.8V334.5H376.6V334.7H377.4V334.7H378.2V334.7H379.0V334.4H379.8V334.8H380.6V335.0H381.4V334.8H382.2V334.5H383.0V335.0H383.8V334.6H384.6V334.4H385.4V334.8H386.2V334.6H387.0V334.7H387.8V335.1H388.6V334.7H389.4V335.1H390.2V334.5H391.0V334.9H391.8V334.3H392.6V326.3H393.4V326.6H394.2V326.5H395.0V326.6H395.8V326.1H396.6V326.0H397.4V326.0H398.2V326.1H399.0V325.6H399.8V325.9H400.6V326.1H401.4V325.5H402.2V325.6H403.0V326.1H403.8V326.1H404.6V325.4H405.4V325.3H406.2V325.2H407.0V325.1H407.8V325.7H408.6V325.6H409.4V325.1H410.2V325.3H411.0V325.4H411.8V324.7H412.6V325.4H413.4V325.4H414.2V324.7H415.0V332.7H415.3V338.7ZM435.3,338.9V329.5H436.1V329.1H436.9V329.6H437.7V329.0H438.5V329.3H439.3V329.1H440.1V333.6H440.9V334.0H441.7V333.8H442.5V333.9H443.3V334.3H444.1V333.7H444.9V333.8H445.7V337.0H445.8V338.9ZM445.4,338.9V337.3H446.2V337.7H447.0V337.4H447.8V337.4H448.6V337.4H449.4V337.6H450.2V337.7H451.0V337.6H451.8V337.3H452.6V337.4H453.4V337.6H454.2V337.3H455.0V337.7H455.8V337.6H456.6V337.3H457.4V337.4H458.2V337.3H458.3V339.0ZM474.5,339.2V336.4H475.3V335.8H476.1V336.4H476.9V335.8H477.7V336.5H478.5V336.2H479.3V336.3H480.1V335.8H480.9V335.8H481.7V336.1H482.5V336.6H483.3V336.3H484.1V336.5H484.9V335.8H485.7V335.8H486.5V335.8H487.3V336.4H488.1V335.9H488.9V336.0H489.7V336.3H490.5V336.4H491.3V336.0H492.1V336.2H492.9V337.4H493.7V337.5H494.5V337.4H495.3V337.4H496.1V337.3H496.9V337.4H497.7V337.3H498.5V337.2H499.3V337.4H500.1V337.5H500.9V337.3H501.7V337.3H502.5V337.7H503.3V337.5H504.1V337.5H504.9V337.4H505.7V337.7H506.5V337.6H507.3V337.5H508.1V337.6H508.9V337.6H509.7V337.5H510.5V337.4H511.3V337.4H511.5V339.4ZM514.3,339.5V327.1H515.1V327.1H515.9V327.2H516.7V327.2H517.5V327.4H518.3V327.5H519.1V326.9H519.9V326.7H520.7V327.0H521.5V326.7H522.3V327.4H523.1V327.3H523.9V326.9H524.7V326.9H525.5V327.5H526.3V327.4H527.1V327.3H527.6V339.6ZM545.5,339.7V334.8H546.3V334.9H547.1V334.6H547.9V334.6H548.7V334.7H549.5V335.0H550.3V335.1H551.1V335.1H551.9V332.8H552.7V332.1H553.5V332.3H554.3V332.9H555.1V332.6H555.9V332.5H556.7V332.4H557.3V339.8ZM575.6,339.9V338.9H576.4V338.8H577.2V338.9H578.0V338.6H578.8V338.9H579.6V338.6H580.4V338.6H581.2V338.7H582.0V338.8H582.8V338.6H583.6V338.8H584.4V338.9H585.2V338.7H586.0V338.9H586.8V338.8H587.6V338.8H588.4V338.6H589.2V338.8H590.0V338.9H590.7V340.0ZM591.4,340.0V334.2H592.2V333.8H593.0V334.0H593.8V334.1H594.6V333.9H595.4V334.1H596.2V334.1H597.0V333.6H597.8V333.8H598.6V334.2H599.4V333.8H600.0V340.1ZM610.7,340.2V334.3H611.5V334.9H612.3V334.5H613.1V335.1H613.9V334.7H614.7V334.3H615.5V340.2Z" fill="#c8202a"/>
<line x1="220.45" y1="451.35" x2="622.99" y2="453.93" stroke="#8a8a8a" stroke-width="0.8"/>
<path d="M256.0,451.6V452.5H256.8V452.4H257.6V452.6H258.4V452.6H259.2V452.6H260.0V452.3H260.8V452.3H261.6V452.6H262.4V452.4H263.2V452.4H264.0V452.3H264.8V452.4H265.6V452.5H266.4V452.8H267.2V452.5H268.0V452.5H268.8V452.7H269.6V452.5H270.4V452.7H271.2V452.7H272.0V452.8H272.8V452.5H273.6V452.7H274.4V452.6H275.2V452.8H276.0V452.6H276.8V452.8H277.6V452.6H278.4V452.7H279.2V453.0H280.0V452.6H280.8V452.7H281.6V453.0H282.4V452.9H283.2V452.6H284.0V452.7H284.8V452.7H285.6V452.7H286.4V453.0H287.2V452.9H288.0V453.3H288.8V454.5H289.6V455.3H290.4V455.6H291.2V456.7H292.0V457.0H292.8V456.6H293.6V457.2H294.4V457.1H295.2V457.4H296.0V456.8H296.8V456.8H297.6V458.1H298.4V457.3H299.2V457.3H300.0V457.1H300.8V457.8H301.6V458.2H302.4V457.3H303.2V457.8H304.0V457.8H304.8V458.2H305.6V458.0H306.4V457.6H307.2V457.6H308.0V458.3H308.8V457.5H309.6V458.6H310.4V457.5H311.2V457.8H312.0V458.2H312.8V458.8H313.6V458.5H314.4V458.7H315.2V458.8H316.0V459.3H316.8V461.9H317.6V463.8H318.4V463.1H319.2V463.3H320.0V463.3H320.8V463.5H321.6V464.9H322.4V464.4H323.2V464.2H324.0V464.3H324.8V465.6H325.6V465.6H326.4V468.4H327.2V467.4H328.0V466.7H328.8V466.1H329.6V466.0H330.4V465.9H331.2V466.0H332.0V466.6H332.8V466.0H333.6V466.0H334.4V466.5H335.2V466.3H336.0V465.9H336.8V466.5H337.6V466.4H338.4V466.3H339.2V466.4H340.0V465.8H340.8V466.6H341.6V466.0H342.4V466.2H343.2V458.8H343.8V452.1ZM352.8,452.2V453.4H353.6V454.0H354.4V454.1H355.2V454.4H356.0V455.1H356.8V454.4H357.6V454.9H358.4V455.6H359.2V455.3H360.0V456.0H360.8V456.5H361.6V455.5H362.4V456.1H363.2V456.3H364.0V457.1H364.8V457.4H365.6V457.1H366.4V456.5H367.2V454.6H368.0V454.1H368.6V452.3ZM414.8,452.6V489.0H415.6V492.1H416.4V491.9H417.2V493.5H418.0V492.9H418.8V492.8H419.6V491.9H420.4V491.9H421.2V492.1H422.0V491.8H422.8V491.1H423.6V491.3H424.4V491.2H425.2V490.7H426.0V490.2H426.8V490.4H427.6V489.1H428.4V489.3H429.2V489.3H430.0V488.5H430.8V489.2H431.6V488.0H432.4V488.6H433.2V487.9H434.0V487.8H434.8V473.8H435.6V461.6H436.4V461.6H437.2V461.8H438.0V461.7H438.8V460.4H439.6V460.2H440.4V460.3H441.2V459.5H442.0V460.4H442.8V459.6H443.6V460.0H444.4V459.7H445.2V459.3H446.0V459.3H446.8V459.3H447.6V459.7H448.4V459.7H449.2V460.6H450.0V460.1H450.8V459.4H451.6V460.3H452.4V459.6H453.2V459.9H454.0V460.3H454.8V472.5H455.6V496.2H456.4V495.8H457.2V495.9H458.0V496.2H458.8V496.3H459.6V497.2H460.4V497.0H461.2V497.6H462.0V497.1H462.8V498.2H463.6V498.7H464.4V497.9H465.2V498.5H466.0V497.9H466.8V497.8H467.6V498.3H468.4V498.1H469.2V498.8H470.0V498.7H470.8V498.8H471.6V499.3H472.4V498.1H473.2V498.5H474.0V499.7H474.8V501.4H475.6V502.4H476.4V502.1H477.2V501.9H478.0V502.3H478.8V501.6H479.6V501.3H480.4V502.0H481.2V501.1H482.0V501.3H482.8V501.0H483.6V501.2H484.4V501.0H485.2V501.6H486.0V501.1H486.8V501.7H487.6V502.0H488.4V500.8H489.2V499.5H490.0V499.2H490.8V498.3H491.6V497.5H492.4V471.4H493.2V453.5H494.0V453.6H494.8V453.6H495.6V453.6H496.4V453.5H497.2V453.6H498.0V453.6H498.8V453.6H499.6V453.5H500.4V453.6H501.2V453.6H502.0V453.6H502.8V453.6H503.6V453.6H504.4V453.5H505.2V453.6H506.0V453.7H506.8V453.7H507.6V453.8H508.4V453.8H509.2V453.6H510.0V453.7H510.8V453.7H511.5V453.2ZM513.9,453.2V471.9H514.7V472.9H515.5V473.8H516.3V473.4H517.1V473.5H517.9V473.8H518.7V473.8H519.5V474.9H520.3V473.8H521.1V474.2H521.9V473.6H522.7V474.3H523.5V473.5H524.3V473.4H525.1V473.7H525.9V473.8H526.7V473.9H527.5V461.7H528.3V454.3H528.3V453.3ZM544.4,453.4V456.0H545.2V459.6H546.0V460.0H546.8V461.1H547.6V463.6H548.4V464.3H549.2V464.1H550.0V464.3H550.8V465.6H551.6V465.7H552.4V465.0H553.2V466.1H554.0V465.8H554.8V466.7H555.6V473.7H556.4V479.7H557.2V485.9H558.0V486.7H558.8V488.0H559.6V490.5H560.4V491.2H561.2V492.7H562.0V494.8H562.8V495.9H563.6V497.8H564.4V499.0H565.2V499.5H566.0V499.8H566.8V500.6H567.6V500.4H568.4V500.2H569.2V501.0H570.0V471.9H570.8V458.3H571.6V455.1H572.4V453.6ZM591.4,453.7V457.1H592.2V460.0H593.0V460.6H593.8V461.3H594.6V463.0H595.4V464.3H596.2V465.1H597.0V464.8H597.8V466.1H598.6V466.4H599.4V467.6H600.2V468.9H601.0V469.5H601.8V469.4H602.6V470.0H603.4V469.3H604.2V468.7H605.0V469.1H605.8V468.7H606.6V467.7H607.4V467.5H608.2V462.8H609.0V464.8H609.8V476.4H610.6V479.3H611.4V481.8H612.2V480.8H613.0V480.6H613.8V479.0H614.6V478.1H615.4V467.6H616.1V453.9ZM617.6,453.9V461.9H618.4V461.7H619.2V462.8H620.0V462.3H620.8V461.6H621.6V462.4H622.4V462.2H623.0V453.9ZM220.5,451.4V452.0H221.3V452.1H222.1V452.0H222.9V452.1H223.7V452.2H224.5V452.0H225.3V452.1H226.1V452.0H226.9V452.0H227.7V452.0H228.5V452.1H229.3V452.0H230.1V452.0H230.9V452.2H231.7V452.2H232.5V452.1H233.3V452.2H234.1V452.1H234.9V452.1H235.7V452.0H236.5V452.0H237.3V452.0H238.1V452.2H238.9V452.2H239.7V452.1H240.5V452.1H241.3V452.0H242.1V452.0H242.9V452.2H243.7V452.3H244.5V452.0H245.3V452.1H246.1V452.2H246.9V452.1H247.7V452.3H248.5V452.1H249.3V452.2H250.1V452.1H250.9V452.1H251.7V452.2H252.5V452.1H253.3V452.3H254.1V452.1H254.9V452.3H255.7V452.3H256.5V452.2H257.3V452.1H258.1V452.1H258.9V452.1H259.7V452.3H260.5V452.3H261.3V452.1H262.1V452.3H262.9V452.3H263.7V452.2H264.5V452.1H265.3V452.3H266.1V452.2H266.9V452.4H267.7V452.3H268.5V452.4H269.3V452.4H270.1V452.3H270.9V452.2H271.7V452.4H272.5V452.2H273.3V452.4H274.1V452.2H274.9V452.2H275.7V452.3H276.5V452.3H277.3V452.5H278.1V452.4H278.9V452.5H279.7V452.5H280.5V452.5H281.3V452.4H282.1V452.4H282.9V452.5H283.7V452.5H284.5V452.3H285.3V452.4H286.1V452.4H286.9V452.4H287.7V452.5H288.5V452.5H289.3V452.5H290.1V452.5H290.9V452.5H291.7V452.3H292.5V452.4H293.3V452.3H294.1V452.4H294.9V452.6H295.7V452.4H296.5V452.5H297.3V452.5H298.1V452.5H298.9V452.4H299.7V452.6H300.5V452.5H301.3V452.6H302.1V452.6H302.9V452.4H303.7V452.5H304.5V452.4H305.3V452.7H306.1V452.4H306.9V452.5H307.7V452.6H308.5V452.6H309.3V452.6H310.1V452.5H310.9V452.6H311.7V452.5H312.5V452.6H313.3V452.5H314.1V452.7H314.9V452.5H315.7V452.5H316.5V452.5H317.3V452.6H318.1V452.6H318.9V452.5H319.7V452.8H320.5V452.7H321.3V452.6H322.1V452.6H322.9V452.8H323.7V452.8H324.5V452.6H325.3V452.7H326.1V452.8H326.9V452.8H327.7V452.6H328.5V452.6H329.3V452.6H330.1V452.6H330.9V452.8H331.7V452.8H332.5V452.7H333.3V452.6H334.1V452.7H334.9V452.7H335.7V452.8H336.5V452.8H337.3V452.8H338.1V452.7H338.9V452.7H339.7V452.8H340.5V452.7H341.3V452.8H342.1V452.8H342.9V452.8H343.7V452.7H344.5V452.8H345.3V452.7H346.1V452.7H346.9V452.8H347.7V452.8H348.5V452.7H349.3V452.7H350.1V452.8H350.9V453.0H351.7V452.9H352.5V452.7H353.3V452.8H354.1V452.8H354.9V452.8H355.7V452.8H356.5V452.9H357.3V453.0H358.1V452.8H358.9V452.8H359.7V452.8H360.5V452.8H361.3V453.0H362.1V452.8H362.9V453.0H363.7V453.0H364.5V452.8H365.3V452.8H366.1V452.9H366.9V453.0H367.7V453.0H368.5V452.9H369.3V452.9H370.1V452.9H370.9V453.0H371.7V453.1H372.5V452.9H373.3V453.1H374.1V453.1H374.9V453.0H375.7V453.1H376.5V453.1H377.3V452.9H378.1V453.2H378.9V452.9H379.7V453.1H380.5V452.9H381.3V453.0H382.1V453.0H382.9V453.1H383.7V453.1H384.5V453.0H385.3V453.2H386.1V453.2H386.9V453.1H387.7V452.9H388.5V453.0H389.3V453.0H390.1V453.1H390.9V453.2H391.7V453.1H392.5V453.2H393.3V453.0H394.1V453.0H394.9V453.2H395.7V453.1H396.5V453.0H397.3V453.0H398.1V453.0H398.9V453.1H399.7V453.2H400.5V453.1H401.3V453.2H402.1V453.1H402.9V453.0H403.7V453.2H404.5V453.1H405.3V453.2H406.1V453.2H406.9V453.1H407.7V453.1H408.5V453.1H409.3V453.2H410.1V453.1H410.9V453.1H411.7V453.2H412.5V453.1H413.3V453.3H414.1V453.2H414.9V453.2H415.7V453.3H416.5V453.1H417.3V453.1H418.1V453.3H418.9V453.3H419.7V453.3H420.5V453.2H421.3V453.4H422.1V453.3H422.9V453.4H423.7V453.4H424.5V453.4H425.3V453.4H426.1V453.4H426.9V453.3H427.7V453.3H428.5V453.4H429.3V453.3H430.1V453.4H430.9V453.5H431.7V453.2H432.5V453.4H433.3V453.4H434.1V453.4H434.9V453.5H435.7V453.2H436.5V453.4H437.3V453.4H438.1V453.5H438.9V453.3H439.7V453.4H440.5V453.3H441.3V453.5H442.1V453.4H442.9V453.5H443.7V453.4H444.5V453.5H445.3V453.3H446.1V453.4H446.9V453.5H447.7V453.6H448.5V453.5H449.3V453.4H450.1V453.3H450.9V453.5H451.7V453.5H452.5V453.4H453.3V453.6H454.1V453.5H454.9V453.4H455.7V453.5H456.5V453.5H457.3V453.4H458.1V453.6H458.9V453.7H459.7V453.4H460.5V453.5H461.3V453.5H462.1V453.6H462.9V453.4H463.7V453.5H464.5V453.5H465.3V453.6H466.1V453.6H466.9V453.6H467.7V453.7H468.5V453.7H469.3V453.7H470.1V453.7H470.9V453.5H471.7V453.5H472.5V453.6H473.3V453.7H474.1V453.7H474.9V453.6H475.7V453.8H476.5V453.6H477.3V453.5H478.1V453.5H478.9V453.6H479.7V453.7H480.5V453.8H481.3V453.5H482.1V453.6H482.9V453.6H483.7V453.8H484.5V453.8H485.3V453.6H486.1V453.6H486.9V453.8H487.7V453.9H488.5V453.8H489.3V453.7H490.1V453.8H490.9V453.8H491.7V453.7H492.5V453.7H493.3V453.8H494.1V453.8H494.9V453.7H495.7V453.8H496.5V453.7H497.3V453.9H498.1V453.7H498.9V453.7H499.7V453.9H500.5V453.9H501.3V453.9H502.1V453.9H502.9V453.9H503.7V453.9H504.5V453.8H505.3V453.7H506.1V453.9H506.9V453.9H507.7V453.9H508.5V453.7H509.3V453.7H510.1V453.9H510.9V453.9H511.7V454.0H512.5V454.0H513.3V453.9H514.1V453.9H514.9V453.9H515.7V453.9H516.5V453.9H517.3V453.9H518.1V453.8H518.9V454.0H519.7V454.0H520.5V454.0H521.3V453.9H522.1V453.8H522.9V453.9H523.7V454.0H524.5V454.0H525.3V453.8H526.1V453.8H526.9V453.9H527.7V453.9H528.5V453.9H529.3V453.9H530.1V454.0H530.9V454.0H531.7V454.1H532.5V454.1H533.3V453.9H534.1V454.1H534.9V454.0H535.7V454.1H536.5V454.1H537.3V454.0H538.1V454.0H538.9V453.9H539.7V454.1H540.5V453.9H541.3V454.1H542.1V454.2H542.9V454.1H543.7V454.1H544.5V454.2H545.3V454.2H546.1V454.2H546.9V454.2H547.7V454.1H548.5V454.0H549.3V454.1H550.1V454.2H550.9V454.2H551.7V454.2H552.5V454.1H553.3V454.0H554.1V454.2H554.9V454.2H555.7V454.3H556.5V454.2H557.3V454.3H558.1V454.2H558.9V454.3H559.7V454.2H560.5V454.3H561.3V454.2H562.1V454.0H562.9V454.1H563.7V454.2H564.5V454.3H565.3V454.2H566.1V454.2H566.9V454.3H567.7V454.1H568.5V454.2H569.3V454.2H570.1V454.1H570.9V454.3H571.7V454.2H572.5V454.3H573.3V454.2H574.1V454.4H574.9V454.2H575.7V454.3H576.5V454.2H577.3V454.1H578.1V454.2H578.9V454.4H579.7V454.2H580.5V454.3H581.3V454.3H582.1V454.3H582.9V454.3H583.7V454.2H584.5V454.3H585.3V454.3H586.1V454.4H586.9V454.4H587.7V454.4H588.5V454.4H589.3V454.5H590.1V454.4H590.9V454.2H591.7V454.3H592.5V454.5H593.3V454.5H594.1V454.5H594.9V454.5H595.7V454.3H596.5V454.4H597.3V454.5H598.1V454.5H598.9V454.3H599.7V454.6H600.5V454.4H601.3V454.4H602.1V454.6H602.9V454.4H603.7V454.3H604.5V454.5H605.3V454.4H606.1V454.4H606.9V454.4H607.7V454.5H608.5V454.4H609.3V454.5H610.1V454.6H610.9V454.6H611.7V454.6H612.5V454.6H613.3V454.4H614.1V454.6H614.9V454.4H615.7V454.6H616.5V454.4H617.3V454.4H618.1V454.7H618.9V454.4H619.7V454.6H620.5V454.6H621.3V454.4H622.1V454.7H622.9V454.5H623.0V453.9Z" fill="#3a3a3a"/>
<path d="M220.5,451.4V450.4H221.3V450.3H222.1V450.1H222.9V450.1H223.7V449.8H224.5V450.1H225.3V449.7H226.1V449.9H226.9V450.0H227.7V449.9H228.5V449.5H229.3V449.8H230.1V449.7H230.9V449.5H231.7V449.7H232.5V449.5H233.3V449.3H234.1V449.4H234.9V449.1H235.7V449.1H236.5V449.4H237.3V449.0H238.1V449.3H238.9V448.9H239.7V447.2H240.5V447.0H241.3V447.9H242.1V447.7H242.9V447.9H243.7V447.6H244.5V447.1H245.3V447.2H246.1V447.1H246.9V447.6H247.7V447.6H248.5V447.9H249.3V447.3H250.1V447.2H250.9V447.2H251.7V447.2H252.5V447.1H253.3V447.5H254.1V447.4H254.9V447.4H255.7V449.7H256.5V449.3H257.3V449.6H258.1V449.5H258.9V449.2H259.7V449.1H260.5V449.5H261.3V449.7H262.1V449.2H262.9V449.6H263.7V449.3H264.5V449.6H265.3V449.7H266.1V449.6H266.9V449.3H267.7V449.3H268.5V449.8H269.3V449.8H270.1V449.8H270.9V449.5H271.7V449.2H272.5V449.4H273.3V449.8H274.1V449.3H274.9V449.4H275.7V449.2H276.5V449.8H277.3V449.5H278.1V449.3H278.9V449.5H279.7V449.4H280.5V449.5H281.3V449.7H282.1V449.7H282.9V449.3H283.7V449.6H284.5V449.3H285.3V449.6H286.1V449.8H286.9V449.5H287.7V449.8H288.5V449.5H289.3V449.6H290.1V449.9H290.9V449.5H291.7V449.8H292.5V449.9H293.3V450.0H294.1V450.2H294.9V450.1H295.7V449.9H296.5V450.0H297.3V450.2H298.1V450.1H298.9V450.3H299.0V451.9ZM317.3,452.0V448.9H318.1V449.4H318.9V449.1H319.7V448.8H320.5V448.9H321.3V449.6H322.1V449.5H322.9V449.5H323.7V449.1H324.5V449.6H325.3V448.9H326.1V449.4H326.9V449.6H327.7V448.9H328.5V448.8H329.3V448.9H330.1V448.8H330.9V449.5H331.7V449.3H332.5V449.2H333.3V448.9H334.1V449.3H334.9V448.9H335.7V448.9H336.5V449.3H337.3V449.3H338.1V449.5H338.9V449.5H339.7V448.9H340.5V449.0H341.3V448.9H342.1V449.2H342.9V448.8H343.2V452.1ZM368.6,452.3V447.6H369.4V447.4H370.2V447.5H371.0V447.2H371.8V447.6H372.6V447.6H373.4V447.6H374.2V447.5H375.0V447.0H375.8V447.1H376.6V446.9H377.4V447.5H378.2V447.2H379.0V447.7H379.8V447.1H380.6V447.2H381.4V447.6H382.2V447.7H383.0V447.5H383.8V447.6H384.6V447.6H385.4V447.1H386.2V447.4H387.0V446.9H387.8V447.4H388.6V447.7H389.4V447.3H390.2V446.9H391.0V447.3H391.8V446.9H392.6V430.4H393.4V430.1H394.2V430.4H395.0V430.8H395.8V430.7H396.6V430.8H397.4V430.4H398.2V430.4H399.0V430.1H399.8V430.7H400.6V430.5H401.4V430.4H402.2V425.2H403.0V425.5H403.8V425.1H404.6V425.2H405.4V426.9H406.2V427.2H407.0V426.9H407.8V427.5H408.6V427.3H409.4V427.6H410.2V427.3H411.0V426.9H411.8V427.0H412.6V427.5H413.4V427.3H414.2V427.4H414.8V452.6ZM432.5,452.7V451.4H433.3V451.2H434.1V451.2H434.9V451.3H435.7V451.5H436.5V451.5H437.3V451.4H438.1V451.2H438.9V451.2H438.9V452.8ZM492.8,453.1V451.0H493.6V450.9H494.4V451.2H495.2V450.7H496.0V450.7H496.0V453.1ZM514.3,453.2V447.0H515.1V447.1H515.9V447.8H516.7V447.8H517.5V447.2H518.3V447.0H519.1V447.5H519.9V447.2H520.7V447.6H521.5V447.8H522.3V447.7H523.1V447.3H523.9V447.6H524.7V447.3H525.5V447.7H526.3V447.3H527.1V447.8H527.6V453.3ZM530.0,453.3V439.7H530.8V439.9H531.6V439.4H532.4V439.9H533.2V439.6H534.0V439.3H534.8V439.6H535.6V439.3H536.4V439.2H537.2V439.1H538.0V439.6H538.8V439.3H539.6V439.2H540.4V439.8H541.2V439.2H542.0V439.7H542.7V453.4ZM572.4,453.6V446.2H573.2V446.3H574.0V446.8H574.8V446.7H575.6V446.7H576.4V446.8H577.2V446.5H578.0V446.8H578.8V446.5H579.6V446.5H580.4V446.2H581.2V441.1H582.0V441.3H582.8V441.0H583.6V441.4H584.4V441.6H585.2V441.4H586.0V441.0H586.8V440.8H587.6V441.1H588.4V441.2H589.2V441.5H590.0V441.3H590.8V441.2H591.4V453.7Z" fill="#c8202a"/>
<line x1="220.45" y1="565.44" x2="622.99" y2="568.24" stroke="#8a8a8a" stroke-width="0.8"/>
<path d="M220.5,565.4V571.9H221.3V571.5H222.1V571.3H222.9V570.8H223.7V570.4H224.5V569.7H225.3V569.2H226.1V569.2H226.9V569.5H227.7V569.3H228.5V568.2H229.3V568.5H230.1V568.2H230.9V568.0H231.7V567.6H232.5V568.1H233.3V567.2H234.1V567.3H234.9V567.2H235.7V567.0H236.5V566.8H237.3V566.7H238.1V566.8H238.9V566.5H239.7V566.6H239.8V565.6ZM255.5,565.7V568.2H256.3V568.4H257.1V568.3H257.9V568.4H258.7V568.1H259.5V568.3H260.3V568.6H261.1V568.0H261.9V568.7H262.7V568.5H263.5V569.0H264.3V568.6H265.1V568.5H265.9V568.8H266.7V568.3H267.5V568.4H268.3V568.5H269.1V568.9H269.9V568.9H270.7V568.2H271.5V569.2H272.3V569.3H273.1V568.8H273.9V569.9H274.7V569.8H275.5V569.9H276.3V569.9H277.1V570.2H277.9V571.4H278.7V571.9H279.5V572.2H280.3V572.8H281.1V572.8H281.9V573.4H282.7V573.5H283.5V573.7H284.3V573.8H285.1V574.2H285.9V574.3H286.7V573.8H287.5V574.8H288.3V571.5H289.1V567.6H289.3V565.9ZM294.7,566.0V567.2H295.5V567.0H296.3V566.8H297.1V567.0H297.9V567.0H298.7V566.9H299.5V567.3H300.3V567.0H301.1V567.3H301.9V567.0H302.7V567.2H303.5V567.5H304.3V567.0H305.1V567.5H305.9V567.0H306.7V567.6H307.5V567.6H308.3V567.3H309.1V567.5H309.9V567.4H310.7V567.2H311.5V567.3H312.3V567.4H313.1V567.7H313.9V567.3H314.7V567.6H315.5V567.5H316.3V567.6H317.1V567.8H317.9V567.7H318.7V567.5H319.5V568.0H320.3V567.8H321.1V567.6H321.9V567.8H322.7V568.0H323.5V567.4H324.3V567.9H325.1V567.8H325.9V567.7H326.7V567.6H327.5V567.7H328.3V567.9H329.1V567.9H329.9V568.0H330.7V567.8H331.5V568.1H332.3V568.0H333.1V568.3H333.9V568.3H334.7V567.9H335.5V568.5H336.3V568.2H337.1V568.0H337.9V568.0H338.7V568.4H339.5V568.2H340.3V569.0H341.1V569.0H341.9V570.2H342.7V569.4H343.2V566.3ZM414.2,566.8V569.5H415.0V569.0H415.8V569.0H416.6V569.2H417.4V569.1H418.2V569.1H419.0V569.2H419.6V566.8ZM426.0,566.9V568.5H426.8V568.4H427.6V568.0H428.4V568.5H429.2V567.9H430.0V568.0H430.8V568.4H431.6V568.1H432.4V568.0H432.5V566.9ZM436.8,566.9V567.7H437.6V567.8H438.4V568.0H439.2V567.7H440.0V567.8H440.8V567.7H441.6V567.7H442.4V567.9H443.2V568.0H444.0V568.2H444.8V568.1H445.6V568.2H446.4V568.1H447.2V568.3H448.0V568.2H448.8V568.0H449.6V568.1H450.4V568.1H451.2V568.0H452.0V568.4H452.8V568.2H453.6V568.1H454.4V568.2H455.2V570.9H456.0V572.7H456.8V573.4H457.6V573.0H458.4V573.4H459.2V573.6H460.0V574.2H460.8V574.7H461.6V574.4H462.4V575.2H463.2V575.3H464.0V575.8H464.8V576.4H465.6V575.7H466.4V576.8H467.2V576.5H468.0V576.9H468.8V576.9H469.6V577.2H470.4V578.3H471.2V578.0H472.0V578.3H472.8V578.8H473.6V575.9H474.4V570.6H475.2V568.9H476.0V569.3H476.8V569.1H477.6V568.8H478.4V569.3H479.2V569.5H479.8V567.2ZM480.9,567.3V582.8H481.7V582.6H482.0V567.3ZM482.4,567.3V569.3H483.2V569.8H484.0V570.4H484.8V570.7H485.6V570.4H486.4V571.4H487.2V570.8H488.0V571.2H488.8V572.0H489.6V571.9H490.4V572.3H491.2V570.6H492.0V570.2H492.8V567.3ZM497.7,567.4V572.9H498.5V573.4H498.6V567.4ZM514.3,567.5V568.4H515.1V568.2H515.9V568.3H516.7V568.2H517.5V568.2H518.3V568.1H519.1V568.3H519.9V568.4H520.7V568.3H521.5V568.2H522.3V568.2H523.1V568.2H523.9V568.2H524.7V568.3H525.5V568.1H526.3V568.2H527.1V568.2H527.9V568.1H528.3V567.6ZM544.4,567.7V568.8H545.2V568.6H546.0V568.8H546.8V568.8H547.6V569.0H548.4V569.0H549.2V569.2H550.0V569.1H550.8V569.4H551.6V569.3H552.4V569.1H553.2V569.4H554.0V569.3H554.8V569.4H555.6V571.2H556.4V571.6H557.2V573.0H558.0V573.3H558.8V575.0H559.6V575.7H560.4V577.4H561.2V578.9H562.0V580.3H562.8V583.1H563.6V585.0H564.4V586.6H565.2V588.6H566.0V591.3H566.8V592.6H567.6V581.9H568.1V567.9ZM571.3,567.9V590.8H572.1V589.8H572.8V567.9ZM220.5,565.4V566.2H221.3V566.4H222.1V566.4H222.9V566.2H223.7V566.3H224.5V566.4H225.3V566.4H226.1V566.4H226.9V566.2H227.7V566.2H228.5V566.2H229.3V566.4H230.1V566.4H230.9V566.4H231.7V566.4H232.5V566.4H233.3V566.4H234.1V566.4H234.9V566.5H235.7V566.4H236.5V566.6H237.3V566.6H238.1V566.6H238.9V566.5H239.7V566.5H240.5V566.5H241.3V566.4H242.1V566.3H242.9V566.5H243.7V566.4H244.5V566.5H245.3V566.5H246.1V566.5H246.9V566.5H247.7V566.4H248.5V566.4H249.3V566.6H250.1V566.7H250.9V566.4H251.7V566.4H252.5V566.5H253.3V566.5H254.1V566.6H254.9V566.6H255.7V566.7H256.5V566.7H257.3V566.6H258.1V566.7H258.9V566.6H259.7V566.6H260.5V566.6H261.3V566.5H262.1V566.7H262.9V566.6H263.7V566.6H264.5V566.6H265.3V566.6H266.1V566.4H266.9V566.5H267.7V566.6H268.5V566.8H269.3V566.5H270.1V566.8H270.9V566.8H271.7V566.8H272.5V566.6H273.3V566.5H274.1V566.8H274.9V566.5H275.7V566.6H276.5V566.9H277.3V566.8H278.1V566.8H278.9V566.8H279.7V566.6H280.5V566.7H281.3V566.6H282.1V566.7H282.9V566.7H283.7V566.9H284.5V566.7H285.3V566.8H286.1V566.6H286.9V566.7H287.7V566.6H288.5V566.8H289.3V566.8H290.1V566.9H290.9V566.8H291.7V567.0H292.5V566.9H293.3V566.8H294.1V567.0H294.9V566.7H295.7V566.7H296.5V566.9H297.3V566.9H298.1V567.0H298.9V566.9H299.7V566.7H300.5V567.0H301.3V566.9H302.1V566.8H302.9V567.0H303.7V566.9H304.5V567.0H305.3V566.9H306.1V566.8H306.9V566.9H307.7V566.9H308.5V566.9H309.3V567.0H310.1V566.8H310.9V566.8H311.7V566.8H312.5V566.8H313.3V567.0H314.1V567.0H314.9V566.9H315.7V567.1H316.5V567.0H317.3V567.0H318.1V566.9H318.9V567.1H319.7V566.9H320.5V567.1H321.3V566.9H322.1V567.2H322.9V567.1H323.7V566.9H324.5V567.1H325.3V566.9H326.1V567.0H326.9V567.0H327.7V567.0H328.5V567.0H329.3V566.9H330.1V567.0H330.9V566.9H331.7V567.2H332.5V567.0H333.3V567.2H334.1V567.1H334.9V567.3H335.7V567.3H336.5V567.2H337.3V567.2H338.1V567.3H338.9V567.3H339.7V567.1H340.5V567.2H341.3V567.0H342.1V567.1H342.9V567.1H343.7V567.2H344.5V567.0H345.3V567.3H346.1V567.0H346.9V567.2H347.7V567.2H348.5V567.3H349.3V567.3H350.1V567.1H350.9V567.3H351.7V567.1H352.5V567.3H353.3V567.2H354.1V567.4H354.9V567.2H355.7V567.2H356.5V567.2H357.3V567.4H358.1V567.2H358.9V567.2H359.7V567.3H360.5V567.3H361.3V567.5H362.1V567.1H362.9V567.2H363.7V567.4H364.5V567.3H365.3V567.4H366.1V567.4H366.9V567.2H367.7V567.2H368.5V567.2H369.3V567.3H370.1V567.2H370.9V567.3H371.7V567.2H372.5V567.2H373.3V567.4H374.1V567.5H374.9V567.2H375.7V567.2H376.5V567.5H377.3V567.2H378.1V567.3H378.9V567.4H379.7V567.3H380.5V567.5H381.3V567.4H382.1V567.4H382.9V567.4H383.7V567.3H384.5V567.6H385.3V567.4H386.1V567.6H386.9V567.3H387.7V567.4H388.5V567.5H389.3V567.3H390.1V567.3H390.9V567.7H391.7V567.7H392.5V567.7H393.3V567.5H394.1V567.6H394.9V567.6H395.7V567.5H396.5V567.4H397.3V567.6H398.1V567.5H398.9V567.6H399.7V567.4H400.5V567.5H401.3V567.4H402.1V567.7H402.9V567.6H403.7V567.5H404.5V567.7H405.3V567.6H406.1V567.5H406.9V567.6H407.7V567.4H408.5V567.4H409.3V567.4H410.1V567.8H410.9V567.8H411.7V567.7H412.5V567.8H413.3V567.7H414.1V567.7H414.9V567.5H415.7V567.6H416.5V567.7H417.3V567.6H418.1V567.7H418.9V567.6H419.7V567.7H420.5V567.6H421.3V567.7H422.1V567.7H422.9V567.7H423.7V567.5H424.5V567.6H425.3V567.8H426.1V567.6H426.9V567.7H427.7V567.9H428.5V567.8H429.3V567.8H430.1V567.9H430.9V567.9H431.7V567.7H432.5V567.7H433.3V567.9H434.1V567.6H434.9V567.8H435.7V567.7H436.5V567.8H437.3V567.9H438.1V568.0H438.9V567.8H439.7V567.9H440.5V567.7H441.3V567.9H442.1V568.0H442.9V567.9H443.7V567.9H444.5V567.9H445.3V567.8H446.1V567.7H446.9V567.8H447.7V568.0H448.5V567.9H449.3V567.7H450.1V567.9H450.9V568.0H451.7V568.0H452.5V567.8H453.3V568.1H454.1V567.8H454.9V567.9H455.7V567.9H456.5V567.8H457.3V567.9H458.1V567.8H458.9V567.8H459.7V567.8H460.5V568.0H461.3V568.0H462.1V567.9H462.9V568.2H463.7V568.0H464.5V568.0H465.3V568.2H466.1V568.1H466.9V568.0H467.7V568.1H468.5V568.1H469.3V568.0H470.1V567.9H470.9V568.1H471.7V568.1H472.5V568.1H473.3V567.9H474.1V568.2H474.9V567.9H475.7V568.2H476.5V568.1H477.3V568.1H478.1V567.9H478.9V568.0H479.7V568.2H480.5V568.0H481.3V567.9H482.1V568.1H482.9V568.3H483.7V568.2H484.5V568.0H485.3V568.0H486.1V568.3H486.9V568.3H487.7V568.2H488.5V568.1H489.3V568.3H490.1V568.0H490.9V568.1H491.7V568.1H492.5V568.4H493.3V568.0H494.1V568.1H494.9V568.3H495.7V568.3H496.5V568.1H497.3V568.1H498.1V568.4H498.9V568.4H499.7V568.4H500.5V568.3H501.3V568.1H502.1V568.4H502.9V568.3H503.7V568.4H504.5V568.4H505.3V568.3H506.1V568.5H506.9V568.3H507.7V568.3H508.5V568.4H509.3V568.4H510.1V568.4H510.9V568.5H511.7V568.2H512.5V568.5H513.3V568.5H514.1V568.3H514.9V568.2H515.7V568.4H516.5V568.4H517.3V568.5H518.1V568.4H518.9V568.5H519.7V568.5H520.5V568.3H521.3V568.5H522.1V568.4H522.9V568.3H523.7V568.3H524.5V568.4H525.3V568.5H526.1V568.4H526.9V568.4H527.7V568.3H528.5V568.6H529.3V568.5H530.1V568.6H530.9V568.6H531.7V568.3H532.5V568.4H533.3V568.5H534.1V568.4H534.9V568.6H535.7V568.4H536.5V568.3H537.3V568.5H538.1V568.3H538.9V568.3H539.7V568.6H540.5V568.6H541.3V568.6H542.1V568.4H542.9V568.6H543.7V568.6H544.5V568.5H545.3V568.5H546.1V568.4H546.9V568.6H547.7V568.5H548.5V568.6H549.3V568.7H550.1V568.5H550.9V568.6H551.7V568.5H552.5V568.7H553.3V568.5H554.1V568.7H554.9V568.7H555.7V568.8H556.5V568.7H557.3V568.8H558.1V568.8H558.9V568.8H559.7V568.6H560.5V568.6H561.3V568.7H562.1V568.5H562.9V568.6H563.7V568.5H564.5V568.8H565.3V568.7H566.1V568.9H566.9V568.8H567.7V568.7H568.5V568.7H569.3V568.7H570.1V568.6H570.9V568.6H571.7V568.9H572.5V568.7H573.3V568.6H574.1V568.9H574.9V568.7H575.7V568.9H576.5V568.8H577.3V569.0H578.1V568.6H578.9V568.8H579.7V568.9H580.5V568.6H581.3V569.0H582.1V568.8H582.9V568.9H583.7V568.7H584.5V568.7H585.3V568.7H586.1V569.0H586.9V569.0H587.7V569.0H588.5V568.9H589.3V568.7H590.1V569.0H590.9V568.9H591.7V569.0H592.5V568.9H593.3V568.9H594.1V568.8H594.9V568.8H595.7V568.7H596.5V568.9H597.3V568.8H598.1V569.1H598.9V568.8H599.7V569.0H600.5V568.8H601.3V568.8H602.1V569.1H602.9V568.9H603.7V569.0H604.5V569.0H605.3V568.9H606.1V568.9H606.9V568.9H607.7V569.1H608.5V569.0H609.3V569.0H610.1V569.1H610.9V568.9H611.7V569.0H612.5V569.0H613.3V569.2H614.1V569.1H614.9V568.9H615.7V569.0H616.5V568.9H617.3V569.1H618.1V568.9H618.9V568.9H619.7V569.1H620.5V569.1H621.3V569.0H622.1V569.1H622.9V569.0H623.0V568.2Z" fill="#3a3a3a"/>
<path d="M230.1,565.5V563.6H230.9V563.2H231.7V563.7H232.5V563.5H233.3V563.3H234.1V563.4H234.9V563.6H235.7V563.3H236.5V563.8H237.3V563.3H238.1V563.4H238.9V563.2H239.7V563.5H240.5V542.2H241.3V541.0H242.1V540.6H242.9V540.5H243.7V540.1H244.5V539.2H245.3V538.8H246.1V538.8H246.9V538.0H247.7V537.4H248.5V537.5H249.3V537.3H250.1V536.9H250.9V536.7H251.7V535.8H252.5V535.6H253.3V535.6H254.1V541.5H254.9V558.1H255.7V562.3H256.5V562.2H257.3V562.3H258.1V562.3H258.9V562.4H259.7V562.9H260.5V562.6H261.3V563.4H262.1V563.6H262.9V563.1H263.7V563.8H264.5V563.6H264.6V565.7ZM343.8,566.3V552.1H344.6V552.4H345.4V552.4H346.2V552.4H347.0V552.1H347.8V552.3H348.6V552.1H349.4V552.5H350.2V552.5H351.0V553.8H351.8V554.5H352.6V554.5H353.4V554.1H354.2V554.4H355.0V554.0H355.8V554.4H356.6V554.5H357.4V554.1H358.2V554.5H359.0V554.2H359.8V554.0H360.6V554.3H361.4V554.0H362.2V554.6H363.0V554.2H363.8V554.4H364.6V554.8H365.4V554.6H366.2V554.9H367.0V554.8H367.8V554.7H368.6V554.8H369.4V554.8H370.2V555.0H371.0V554.8H371.8V554.8H372.6V554.8H373.4V554.8H374.2V555.2H375.0V554.6H375.8V554.5H376.6V554.9H377.4V554.7H378.2V555.1H379.0V555.0H379.8V554.5H380.6V554.7H381.4V555.1H382.2V554.9H383.0V555.2H383.8V555.0H384.6V554.7H385.4V555.3H386.2V555.6H387.0V554.8H387.8V555.3H388.6V555.3H389.4V555.3H390.2V555.3H391.0V555.3H391.8V555.8H392.6V556.5H393.4V556.1H394.2V556.5H395.0V556.3H395.8V556.5H396.6V556.6H397.4V555.8H398.2V555.9H399.0V555.9H399.8V556.5H400.6V556.6H401.4V555.9H402.2V556.1H403.0V556.3H403.8V555.9H404.6V555.6H405.4V555.7H406.2V555.5H407.0V554.6H407.8V555.2H408.6V554.4H409.4V554.5H410.2V554.4H411.0V553.8H411.8V553.6H412.6V554.0H413.4V553.7H414.2V553.7H415.0V533.8H415.8V534.0H416.6V533.8H417.4V533.7H418.2V533.2H419.0V532.5H419.8V532.0H420.6V531.8H421.4V531.6H422.2V531.5H423.0V531.0H423.8V530.5H424.6V529.8H425.4V529.8H426.2V529.3H427.0V528.1H427.8V527.9H428.6V527.8H429.4V526.6H430.2V526.2H431.0V525.9H431.8V523.4H432.6V522.4H433.4V523.9H434.2V526.1H435.0V534.2H435.8V561.6H435.9V566.9ZM455.1,567.1V564.7H455.9V564.0H456.7V564.0H457.5V564.5H458.3V564.7H459.1V564.1H459.9V564.1H460.7V564.3H461.5V564.6H462.3V564.4H463.1V564.5H463.7V567.1ZM474.5,567.2V564.0H475.3V564.1H476.1V564.4H476.9V564.6H477.7V564.0H478.5V564.0H479.3V564.2H480.1V564.3H480.9V564.2H481.7V564.1H482.5V564.0H483.3V564.5H484.1V564.8H484.9V564.5H485.7V564.7H486.5V564.0H487.3V564.5H488.1V564.2H488.9V564.7H489.7V564.5H490.5V564.0H491.3V562.6H492.1V564.1H492.8V567.3ZM500.3,567.4V565.0H501.1V565.2H501.9V565.0H502.7V565.3H503.5V565.0H504.3V565.4H505.1V565.1H505.9V564.9H506.7V565.5H507.5V565.0H508.3V565.1H509.1V565.2H509.9V564.9H510.7V565.4H511.1V567.5ZM514.3,567.5V558.5H515.1V558.0H515.9V558.4H516.7V558.0H517.5V558.4H518.3V558.0H519.1V558.1H519.9V558.3H520.7V557.2H521.5V554.8H522.3V555.1H523.1V554.5H523.9V554.5H524.7V554.4H525.5V554.9H526.3V554.6H527.1V554.4H527.6V567.6ZM530.0,567.6V565.0H530.8V565.2H531.6V565.5H532.4V565.2H533.2V565.4H534.0V565.2H534.8V565.3H535.6V565.0H536.4V565.2H537.2V565.4H538.0V564.9H538.8V565.2H539.6V565.0H540.4V565.1H541.2V565.1H542.0V565.0H542.3V567.7ZM569.8,567.9V562.5H570.6V557.4H571.4V553.1H572.2V548.6H573.0V544.0H573.8V543.3H574.6V542.2H575.4V541.5H576.2V539.8H577.0V540.1H577.8V540.7H578.6V541.3H579.4V542.0H580.2V552.1H581.0V563.9H581.8V563.6H582.6V563.8H583.4V564.2H584.2V564.5H585.0V564.3H585.8V564.7H586.6V564.7H587.4V565.5H588.2V565.1H589.0V565.3H589.8V565.4H590.6V566.0H591.4V565.7H592.2V566.0H593.0V566.1H593.8V566.3H594.6V566.8H595.4V566.8H596.2V566.9H597.0V566.9H597.2V568.1ZM610.1,568.1V567.1H610.9V567.1H611.7V567.0H612.5V566.8H613.3V566.8H614.1V567.0H614.9V566.9H615.5V568.2Z" fill="#c8202a"/>
<line x1="220.45" y1="678.71" x2="622.99" y2="681.51" stroke="#8a8a8a" stroke-width="0.8"/>
<path d="M220.5,678.7V680.0H221.3V680.0H222.1V679.9H222.9V679.7H223.7V680.0H224.5V679.8H225.3V679.6H226.1V679.6H226.9V680.0H227.7V679.9H228.5V679.9H229.3V679.9H230.1V679.6H230.9V680.0H231.7V679.7H232.5V679.9H233.3V679.8H234.1V679.8H234.9V679.8H235.7V680.0H236.5V679.9H237.3V679.7H238.1V679.9H238.9V679.6H239.7V679.7H240.5V679.7H241.3V679.6H242.1V679.7H242.9V679.6H243.7V680.0H244.5V679.9H245.3V679.8H246.1V679.6H246.9V679.7H247.7V679.9H248.5V679.7H249.3V679.6H250.1V679.8H250.9V679.8H251.7V679.6H252.5V679.7H253.3V679.8H254.1V679.9H254.9V679.7H255.7V680.0H256.5V679.7H257.3V679.9H258.1V679.6H258.9V679.9H259.7V679.8H260.5V679.9H261.3V680.5H262.1V680.9H262.9V680.6H263.7V681.7H264.5V682.0H265.3V681.3H266.1V681.8H266.9V681.8H267.7V681.6H268.5V681.4H269.3V681.3H270.1V681.9H270.9V681.6H271.7V681.0H272.5V679.9H273.3V679.8H274.1V679.8H274.9V679.7H275.7V679.6H276.5V679.9H277.3V679.9H278.1V679.8H278.9V679.7H279.7V679.8H280.5V679.9H281.3V679.7H282.1V679.8H282.9V679.8H283.7V679.8H284.5V679.9H285.3V679.8H286.1V679.9H286.9V679.7H287.7V679.8H288.5V679.7H289.3V692.3H290.1V692.6H290.9V693.0H291.7V692.9H292.5V692.9H293.3V693.0H294.1V692.7H294.9V692.8H295.7V691.9H296.5V692.4H297.3V692.5H298.1V692.0H298.9V693.1H299.7V692.4H300.5V692.3H301.3V692.1H302.1V692.7H302.9V692.5H303.7V693.2H304.5V692.8H305.3V692.4H306.1V692.0H306.9V691.8H307.7V692.6H308.5V692.4H309.3V692.2H310.1V692.1H310.9V691.9H311.7V692.5H312.5V691.3H313.3V691.5H314.1V692.2H314.9V691.5H315.7V691.4H316.5V687.5H317.3V684.3H318.1V684.9H318.9V684.1H319.7V684.8H320.5V685.0H321.3V684.6H322.1V685.2H322.9V684.7H323.7V685.1H324.5V684.5H325.3V684.8H326.1V685.2H326.9V685.3H327.7V685.2H328.5V684.7H329.3V685.4H330.1V685.9H330.9V685.1H331.7V685.1H332.5V685.7H333.3V685.2H334.1V685.1H334.9V685.1H335.7V685.9H336.5V686.3H337.3V686.2H338.1V686.1H338.9V686.5H339.7V686.5H340.5V685.8H341.3V686.0H342.1V686.8H342.9V688.5H343.7V696.7H344.5V695.2H345.3V693.4H346.1V691.7H346.9V692.0H347.7V691.9H348.5V692.4H349.3V692.4H350.1V692.3H350.9V692.7H351.7V691.4H352.5V691.7H353.3V691.5H354.1V691.9H354.9V692.6H355.7V691.9H356.5V692.4H357.3V691.5H358.1V691.7H358.9V692.3H359.7V691.6H360.5V692.2H361.3V692.0H362.1V692.0H362.9V691.1H363.7V691.6H364.5V692.4H365.3V691.5H366.1V691.4H366.9V692.3H367.7V691.8H368.5V696.4H369.3V698.3H370.1V698.7H370.9V698.6H371.7V698.7H372.5V698.9H373.3V699.0H374.1V699.9H374.9V699.3H375.7V699.6H376.5V700.3H377.3V701.1H378.1V701.0H378.9V700.9H379.7V701.2H380.5V700.6H381.3V701.1H382.1V700.6H382.9V701.4H383.7V700.9H384.5V701.2H385.3V701.3H386.1V701.8H386.9V702.1H387.7V701.9H388.5V701.9H389.3V702.1H390.1V703.4H390.9V703.6H391.7V695.2H392.5V683.2H393.3V683.3H394.1V684.3H394.9V683.2H395.7V683.4H396.5V684.2H397.3V684.6H398.1V684.6H398.9V684.6H399.7V683.9H400.5V684.5H401.3V684.9H402.1V684.9H402.9V685.0H403.7V684.8H404.5V684.9H405.3V684.8H406.1V684.5H406.9V684.8H407.7V685.3H408.5V684.9H409.3V684.2H410.1V684.8H410.9V685.5H411.7V685.3H412.5V685.0H413.3V685.7H414.1V687.7H414.9V687.0H415.7V687.7H416.5V688.0H417.3V686.8H418.1V688.1H418.9V687.5H419.7V688.1H420.5V687.0H421.3V687.5H422.1V687.5H422.9V687.4H423.7V688.0H424.5V688.3H425.3V688.1H426.1V688.5H426.9V687.5H427.7V687.7H428.5V687.9H429.3V688.5H430.1V688.5H430.9V688.9H431.7V688.7H432.5V688.3H433.3V688.6H434.1V688.8H434.9V688.4H435.7V692.0H436.5V692.4H437.3V692.5H438.1V691.7H438.9V691.7H439.7V692.7H440.5V693.0H441.3V692.3H442.1V693.3H442.9V693.3H443.7V692.7H444.5V692.8H445.3V693.6H446.1V693.7H446.9V693.2H447.7V694.3H448.5V693.5H449.3V694.5H450.1V694.8H450.9V693.8H451.7V694.6H452.5V694.0H453.3V694.0H454.1V693.0H454.9V686.1H455.7V685.8H456.5V686.5H457.3V685.7H458.1V686.4H458.9V685.2H459.7V686.2H460.5V685.0H461.3V685.8H462.1V686.0H462.9V685.1H463.7V685.4H464.5V685.0H465.3V684.5H466.1V685.4H466.9V684.9H467.7V685.2H468.5V684.1H469.3V684.2H470.1V684.2H470.9V684.9H471.7V683.7H472.5V683.6H473.3V684.0H474.1V683.9H474.9V694.3H475.7V694.5H476.5V693.8H477.3V694.7H478.1V694.3H478.9V695.1H479.7V694.7H480.5V692.3H481.3V691.2H482.1V690.4H482.9V690.4H483.7V690.4H484.5V690.5H485.3V690.0H486.1V690.1H486.9V690.4H487.7V690.1H488.5V689.4H489.3V689.2H490.1V689.3H490.9V690.1H491.7V686.6H492.5V681.7H493.3V681.7H494.1V681.6H494.9V681.5H495.7V681.6H496.5V681.5H497.3V681.7H498.1V681.5H498.9V681.6H499.7V681.6H500.5V681.6H501.3V681.4H502.1V681.5H502.9V681.5H503.7V681.6H504.5V681.6H505.3V681.4H506.1V681.5H506.9V681.4H507.7V681.7H508.5V681.5H509.3V681.5H510.1V681.7H510.9V681.6H511.7V681.6H512.1V680.7ZM513.9,680.7V687.4H514.7V686.9H515.5V687.3H516.3V687.0H517.1V687.5H517.9V687.7H518.7V687.8H519.5V688.5H520.3V688.0H521.1V687.6H521.9V687.7H522.7V688.4H523.5V688.3H524.3V688.2H525.1V689.6H525.9V691.2H526.7V689.9H527.5V688.7H527.6V680.8ZM529.4,680.9V682.1H530.2V682.4H531.0V682.2H531.8V682.4H532.6V682.3H533.4V682.5H534.2V682.7H535.0V682.5H535.8V682.4H536.6V682.4H537.4V682.1H538.2V682.5H539.0V682.2H539.8V682.3H540.6V682.4H541.4V682.2H542.2V682.6H543.0V682.4H543.3V681.0ZM544.4,681.0V688.5H545.2V687.1H546.0V687.6H546.8V687.3H547.6V687.5H548.4V687.5H549.2V687.3H550.0V687.7H550.8V686.9H551.6V686.7H552.4V687.1H553.2V686.7H554.0V686.2H554.8V687.0H555.6V685.9H556.4V693.1H557.2V694.8H558.0V695.2H558.8V695.1H559.6V694.9H560.4V694.5H561.2V694.3H562.0V693.9H562.8V693.6H563.6V693.9H564.4V694.4H565.2V693.9H566.0V694.4H566.8V694.1H567.6V693.7H568.4V693.7H569.2V693.4H570.0V694.0H570.8V693.8H571.6V692.9H572.4V693.8H573.2V693.5H574.0V693.0H574.8V693.4H575.6V693.0H576.4V693.3H577.2V692.9H578.0V693.1H578.8V693.4H579.6V693.3H580.4V692.7H581.2V696.4H582.0V696.8H582.8V696.7H583.6V695.9H584.4V696.5H585.2V696.1H586.0V696.6H586.8V695.9H587.6V696.1H588.4V696.0H589.2V696.0H590.0V696.3H590.8V696.7H591.6V696.4H592.4V696.4H593.2V696.5H594.0V696.0H594.8V696.0H595.6V696.3H596.4V695.6H597.2V696.3H598.0V696.5H598.8V696.5H599.3V681.3ZM609.0,681.4V687.2H609.8V688.3H610.6V687.4H611.4V687.3H612.2V687.9H613.0V687.5H613.8V687.3H614.6V687.9H615.0V681.5ZM617.0,681.5V697.1H617.8V697.3H618.6V697.5H619.4V697.8H620.2V698.2H621.0V698.3H621.8V698.3H621.9V681.5ZM220.5,678.7V679.7H221.3V679.6H222.1V679.6H222.9V679.4H223.7V679.4H224.5V679.6H225.3V679.7H226.1V679.5H226.9V679.8H227.7V679.5H228.5V679.6H229.3V679.6H230.1V679.8H230.9V679.5H231.7V679.6H232.5V679.7H233.3V679.6H234.1V679.6H234.9V679.5H235.7V679.8H236.5V679.7H237.3V679.7H238.1V679.6H238.9V679.9H239.7V679.6H240.5V679.8H241.3V679.5H242.1V679.7H242.9V679.7H243.7V679.9H244.5V679.7H245.3V679.9H246.1V679.6H246.9V679.7H247.7V680.0H248.5V679.7H249.3V679.6H250.1V679.7H250.9V679.7H251.7V679.8H252.5V679.7H253.3V679.7H254.1V679.8H254.9V679.8H255.7V679.7H256.5V679.8H257.3V679.9H258.1V679.9H258.9V679.9H259.7V679.8H260.5V679.7H261.3V680.0H262.1V679.7H262.9V679.8H263.7V679.8H264.5V679.8H265.3V679.8H266.1V680.0H266.9V679.8H267.7V679.9H268.5V679.9H269.3V679.8H270.1V679.9H270.9V679.8H271.7V679.9H272.5V680.0H273.3V680.1H274.1V680.1H274.9V679.8H275.7V679.9H276.5V680.0H277.3V679.9H278.1V680.1H278.9V680.0H279.7V680.1H280.5V679.8H281.3V680.0H282.1V680.1H282.9V680.1H283.7V680.0H284.5V680.2H285.3V680.1H286.1V680.0H286.9V680.1H287.7V680.0H288.5V679.9H289.3V680.2H290.1V680.2H290.9V680.2H291.7V680.0H292.5V680.2H293.3V679.9H294.1V680.1H294.9V680.0H295.7V680.1H296.5V680.1H297.3V680.1H298.1V680.1H298.9V680.2H299.7V680.2H300.5V680.0H301.3V680.0H302.1V680.0H302.9V680.1H303.7V680.1H304.5V680.2H305.3V680.3H306.1V680.4H306.9V680.1H307.7V680.1H308.5V680.2H309.3V680.0H310.1V680.2H310.9V680.0H311.7V680.2H312.5V680.2H313.3V680.2H314.1V680.4H314.9V680.2H315.7V680.0H316.5V680.1H317.3V680.1H318.1V680.3H318.9V680.3H319.7V680.2H320.5V680.4H321.3V680.1H322.1V680.2H322.9V680.3H323.7V680.3H324.5V680.4H325.3V680.2H326.1V680.5H326.9V680.4H327.7V680.4H328.5V680.4H329.3V680.2H330.1V680.4H330.9V680.5H331.7V680.2H332.5V680.3H333.3V680.3H334.1V680.3H334.9V680.5H335.7V680.4H336.5V680.2H337.3V680.5H338.1V680.5H338.9V680.2H339.7V680.2H340.5V680.4H341.3V680.6H342.1V680.4H342.9V680.4H343.7V680.4H344.5V680.5H345.3V680.6H346.1V680.5H346.9V680.5H347.7V680.4H348.5V680.6H349.3V680.6H350.1V680.5H350.9V680.4H351.7V680.4H352.5V680.7H353.3V680.5H354.1V680.3H354.9V680.5H355.7V680.5H356.5V680.6H357.3V680.4H358.1V680.7H358.9V680.5H359.7V680.7H360.5V680.5H361.3V680.7H362.1V680.6H362.9V680.6H363.7V680.5H364.5V680.7H365.3V680.6H366.1V680.6H366.9V680.5H367.7V680.6H368.5V680.5H369.3V680.6H370.1V680.5H370.9V680.5H371.7V680.6H372.5V680.4H373.3V680.7H374.1V680.5H374.9V680.8H375.7V680.6H376.5V680.6H377.3V680.7H378.1V680.6H378.9V680.8H379.7V680.6H380.5V680.8H381.3V680.5H382.1V680.5H382.9V680.8H383.7V680.8H384.5V680.6H385.3V680.8H386.1V680.7H386.9V680.7H387.7V680.6H388.5V680.8H389.3V680.8H390.1V680.9H390.9V680.7H391.7V680.8H392.5V680.8H393.3V680.9H394.1V680.8H394.9V680.9H395.7V681.0H396.5V680.8H397.3V680.8H398.1V681.0H398.9V680.8H399.7V680.8H400.5V680.9H401.3V680.9H402.1V680.8H402.9V680.9H403.7V680.8H404.5V680.8H405.3V680.7H406.1V680.9H406.9V681.0H407.7V681.0H408.5V681.1H409.3V681.0H410.1V680.7H410.9V680.8H411.7V681.1H412.5V680.8H413.3V681.1H414.1V681.0H414.9V680.8H415.7V680.8H416.5V681.0H417.3V681.0H418.1V680.8H418.9V681.0H419.7V680.8H420.5V681.1H421.3V681.0H422.1V680.8H422.9V680.9H423.7V680.8H424.5V681.1H425.3V681.1H426.1V681.1H426.9V680.8H427.7V681.2H428.5V680.9H429.3V681.1H430.1V681.1H430.9V681.1H431.7V680.9H432.5V680.9H433.3V681.1H434.1V680.9H434.9V681.0H435.7V681.2H436.5V681.0H437.3V680.9H438.1V681.1H438.9V681.0H439.7V681.2H440.5V681.0H441.3V681.2H442.1V681.2H442.9V681.0H443.7V681.1H444.5V681.1H445.3V681.0H446.1V681.3H446.9V681.1H447.7V681.2H448.5V681.0H449.3V681.3H450.1V681.4H450.9V681.2H451.7V681.0H452.5V681.2H453.3V681.2H454.1V681.2H454.9V681.1H455.7V681.1H456.5V681.3H457.3V681.3H458.1V681.3H458.9V681.3H459.7V681.2H460.5V681.3H461.3V681.2H462.1V681.3H462.9V681.2H463.7V681.4H464.5V681.2H465.3V681.2H466.1V681.1H466.9V681.1H467.7V681.2H468.5V681.1H469.3V681.3H470.1V681.3H470.9V681.5H471.7V681.1H472.5V681.5H473.3V681.2H474.1V681.5H474.9V681.3H475.7V681.2H476.5V681.4H477.3V681.3H478.1V681.2H478.9V681.2H479.7V681.4H480.5V681.5H481.3V681.6H482.1V681.3H482.9V681.5H483.7V681.3H484.5V681.4H485.3V681.3H486.1V681.4H486.9V681.6H487.7V681.3H488.5V681.4H489.3V681.6H490.1V681.4H490.9V681.6H491.7V681.5H492.5V681.4H493.3V681.6H494.1V681.5H494.9V681.4H495.7V681.7H496.5V681.3H497.3V681.6H498.1V681.6H498.9V681.6H499.7V681.5H500.5V681.6H501.3V681.3H502.1V681.6H502.9V681.7H503.7V681.5H504.5V681.6H505.3V681.6H506.1V681.6H506.9V681.7H507.7V681.6H508.5V681.4H509.3V681.6H510.1V681.7H510.9V681.5H511.7V681.6H512.5V681.7H513.3V681.4H514.1V681.8H514.9V681.6H515.7V681.6H516.5V681.7H517.3V681.7H518.1V681.6H518.9V681.5H519.7V681.6H520.5V681.8H521.3V681.9H522.1V681.8H522.9V681.8H523.7V681.8H524.5V681.8H525.3V681.6H526.1V681.6H526.9V681.8H527.7V681.5H528.5V681.7H529.3V681.7H530.1V681.9H530.9V681.8H531.7V681.6H532.5V681.6H533.3V681.7H534.1V681.8H534.9V681.7H535.7V681.8H536.5V681.6H537.3V681.7H538.1V681.9H538.9V681.7H539.7V681.7H540.5V681.7H541.3V682.0H542.1V682.0H542.9V681.8H543.7V681.8H544.5V681.8H545.3V682.0H546.1V682.0H546.9V682.0H547.7V682.0H548.5V681.9H549.3V681.7H550.1V682.0H550.9V681.7H551.7V682.0H552.5V681.8H553.3V681.7H554.1V682.0H554.9V681.8H555.7V682.1H556.5V681.8H557.3V682.0H558.1V681.9H558.9V681.7H559.7V681.8H560.5V681.9H561.3V682.0H562.1V682.1H562.9V682.1H563.7V681.8H564.5V681.9H565.3V681.9H566.1V681.9H566.9V681.9H567.7V682.1H568.5V681.8H569.3V682.0H570.1V681.9H570.9V681.9H571.7V681.9H572.5V682.0H573.3V682.2H574.1V682.1H574.9V682.0H575.7V682.2H576.5V682.0H577.3V681.9H578.1V682.1H578.9V682.2H579.7V682.2H580.5V682.1H581.3V682.2H582.1V682.0H582.9V682.3H583.7V682.2H584.5V682.2H585.3V682.1H586.1V682.3H586.9V682.1H587.7V682.3H588.5V682.1H589.3V682.3H590.1V682.1H590.9V682.2H591.7V682.2H592.5V682.2H593.3V682.3H594.1V682.3H594.9V682.1H595.7V682.3H596.5V682.2H597.3V682.2H598.1V682.0H598.9V682.4H599.7V682.4H600.5V682.3H601.3V682.2H602.1V682.1H602.9V682.2H603.7V682.2H604.5V682.1H605.3V682.2H606.1V682.2H606.9V682.2H607.7V682.1H608.5V682.1H609.3V682.5H610.1V682.3H610.9V682.2H611.7V682.3H612.5V682.2H613.3V682.3H614.1V682.2H614.9V682.4H615.7V682.5H616.5V682.4H617.3V682.5H618.1V682.5H618.9V682.4H619.7V682.4H620.5V682.4H621.3V682.3H622.1V682.2H622.9V682.3H623.0V681.5Z" fill="#3a3a3a"/>
<path d="M220.5,678.7V638.7H221.3V638.6H222.1V638.0H222.9V638.7H223.7V638.0H224.5V638.5H225.3V638.2H226.1V638.3H226.9V638.2H227.7V638.6H228.5V638.6H229.3V638.8H230.1V638.5H230.9V638.1H231.7V638.0H232.5V638.1H233.3V638.1H234.1V638.2H234.9V638.3H235.7V638.1H236.5V638.8H237.3V638.3H238.1V638.4H238.9V638.7H239.7V637.9H240.5V637.4H241.3V637.0H242.1V637.4H242.9V637.8H243.7V637.4H244.5V637.2H245.3V637.5H246.1V637.4H246.9V637.4H247.7V638.0H248.5V638.6H249.3V639.3H250.1V639.9H250.9V640.4H251.7V640.8H252.5V641.2H253.3V641.9H254.1V641.9H254.9V642.4H255.7V643.5H256.5V643.2H257.3V642.8H258.1V643.5H258.9V643.0H259.7V643.2H260.5V643.8H261.3V643.2H262.1V643.8H262.9V643.3H263.7V643.9H264.5V643.7H265.3V644.6H266.1V645.4H266.9V646.1H267.7V646.4H268.5V647.5H269.3V647.7H270.1V648.5H270.9V649.5H271.7V648.9H272.5V649.2H273.3V649.0H274.1V649.4H274.9V649.1H275.7V649.3H276.5V649.9H277.3V649.4H278.1V649.5H278.9V649.1H279.7V649.4H280.5V649.3H281.3V649.7H282.1V649.7H282.9V650.1H283.7V650.5H284.5V651.4H285.3V651.8H286.1V651.9H286.9V652.3H287.7V652.7H288.5V653.3H289.3V653.6H289.3V679.2ZM309.8,679.3V677.9H310.6V677.9H311.4V678.1H312.2V678.0H313.0V678.1H313.8V677.9H314.6V677.9H315.4V677.9H316.2V655.8H317.0V655.6H317.8V655.2H318.6V655.6H319.4V655.9H320.2V655.6H321.0V656.2H321.8V655.5H322.6V656.0H323.4V656.2H324.2V655.9H325.0V656.7H325.8V656.3H326.6V656.0H327.4V656.7H328.2V656.1H329.0V656.7H329.8V656.8H330.6V656.5H331.4V655.9H332.2V655.9H333.0V656.5H333.8V656.5H334.6V655.9H335.4V656.4H336.2V656.2H337.0V655.5H337.8V656.2H338.6V655.3H339.4V655.6H340.2V655.4H341.0V655.3H341.8V655.5H342.6V655.1H343.4V676.0H344.2V675.3H345.0V675.8H345.8V675.6H346.6V676.2H347.4V675.9H348.2V675.9H349.0V676.2H349.8V676.1H350.6V676.1H351.4V675.9H352.2V676.5H353.0V676.5H353.8V676.4H354.6V676.9H355.4V676.5H356.2V676.8H357.0V676.4H357.8V676.6H358.6V676.9H359.4V676.7H360.2V677.4H361.0V677.4H361.8V677.2H362.6V677.3H363.4V677.1H364.2V677.5H365.0V677.6H365.8V677.4H366.6V677.5H367.4V677.7H368.2V677.5H369.0V677.4H369.8V677.5H370.6V677.7H371.4V677.8H372.2V677.9H373.0V677.6H373.8V677.5H374.6V677.7H375.4V677.6H376.2V677.6H377.0V677.8H377.8V677.9H378.6V677.6H379.4V677.6H380.2V677.8H381.0V677.9H381.8V677.7H382.6V678.0H383.4V678.0H384.2V678.2H385.0V678.2H385.8V678.0H386.6V677.7H387.4V678.0H388.2V677.9H389.0V677.9H389.8V677.8H390.6V678.2H391.4V678.1H391.6V679.9ZM392.2,679.9V664.5H393.0V664.5H393.8V665.2H394.6V664.8H395.4V664.9H396.2V664.5H397.0V665.1H397.8V664.9H398.6V664.7H399.4V664.4H400.2V664.7H401.0V661.0H401.8V661.1H402.6V661.6H403.4V660.9H404.2V660.9H405.0V661.0H405.8V661.5H406.6V660.7H407.4V660.9H408.2V660.9H409.0V660.4H409.8V660.8H410.6V660.3H411.4V660.4H412.2V660.4H413.0V660.9H413.8V660.5H414.6V662.8H415.4V663.7H416.2V663.9H417.0V664.1H417.8V664.5H418.6V665.1H419.4V665.0H420.2V664.9H421.0V664.7H421.8V665.4H422.6V665.0H423.4V664.9H424.2V665.5H425.0V665.6H425.8V665.2H426.6V664.8H427.4V665.4H428.2V665.4H429.0V664.7H429.8V665.0H430.6V665.4H431.4V665.1H432.2V664.9H433.0V665.6H433.8V664.9H434.6V665.3H435.4V666.7H436.2V667.9H437.0V668.5H437.8V668.8H438.6V669.8H439.4V670.9H440.2V672.2H441.0V673.4H441.8V673.5H442.6V675.0H443.4V675.3H444.2V674.8H445.0V675.6H445.8V675.2H446.6V675.3H447.4V675.7H448.2V675.6H449.0V675.7H449.8V675.3H450.6V675.9H451.4V675.5H452.2V676.2H453.0V676.3H453.8V676.2H454.6V665.9H455.4V666.0H456.2V665.8H457.0V665.6H457.8V665.1H458.6V664.7H459.4V665.5H460.2V664.5H461.0V664.4H461.8V664.7H462.6V665.0H463.4V664.4H464.2V664.0H465.0V663.8H465.8V663.8H466.6V663.8H467.4V663.7H468.2V663.5H469.0V663.9H469.8V663.9H470.6V663.8H471.4V663.0H472.2V663.3H473.0V663.3H473.8V673.6H474.6V676.6H475.4V676.5H476.2V676.9H477.0V676.5H477.8V677.1H478.6V677.1H479.4V677.0H480.2V676.5H481.0V676.6H481.8V677.3H482.6V677.5H483.4V676.9H484.2V677.3H485.0V677.4H485.8V677.6H486.6V677.0H487.4V677.1H488.2V677.0H489.0V677.6H489.8V677.4H490.6V677.7H491.4V677.3H492.2V633.2H493.0V632.9H493.8V633.1H494.6V633.3H495.4V633.7H496.2V633.2H497.0V633.8H497.8V633.3H498.6V633.5H499.4V634.0H500.2V633.6H501.0V634.4H501.8V634.5H502.6V634.0H503.4V634.6H504.2V634.6H505.0V635.0H505.8V634.7H506.6V634.7H507.4V635.3H508.2V634.8H509.0V635.5H509.8V645.5H510.6V670.9H511.1V680.7ZM514.3,680.8V667.6H515.1V667.5H515.9V667.0H516.7V667.4H517.5V667.7H518.3V667.2H519.1V667.4H519.9V667.4H520.7V670.3H521.5V670.0H522.3V670.0H523.1V669.8H523.9V670.2H524.7V669.9H525.5V670.4H526.3V669.7H527.1V670.3H527.6V680.8ZM530.0,680.9V645.1H530.8V645.8H531.6V645.8H532.4V645.5H533.2V645.3H534.0V645.5H534.8V645.5H535.6V646.3H536.4V646.2H537.2V645.6H538.0V645.6H538.8V646.2H539.6V646.2H540.4V646.3H541.2V646.7H542.0V646.7H542.3V680.9ZM545.5,681.0V665.4H546.3V665.9H547.1V665.3H547.9V665.1H548.7V664.6H549.5V664.5H550.3V664.3H551.1V664.2H551.9V664.2H552.7V663.8H553.5V663.6H554.3V663.2H555.1V663.0H555.9V663.6H556.3V681.0ZM568.1,681.1V676.3H568.9V676.3H569.7V676.0H570.5V676.8H571.3V675.9H572.1V676.6H572.9V675.9H573.7V676.2H574.5V673.3H575.3V673.2H576.1V673.4H576.9V673.2H577.7V673.3H578.5V672.6H579.3V672.8H580.1V672.7H580.9V672.9H581.7V672.8H582.5V672.4H583.3V672.4H584.1V672.3H584.9V672.2H585.7V672.7H586.5V672.9H587.3V672.5H588.1V672.1H588.9V672.4H589.7V672.3H590.5V675.7H591.3V676.2H592.1V675.7H592.9V675.7H593.7V675.5H594.5V675.7H595.3V676.3H596.1V675.9H596.9V676.1H597.7V675.9H598.5V675.7H599.3V630.2H600.1V630.4H600.9V630.3H601.7V630.6H602.5V630.3H603.3V630.7H604.1V630.6H604.9V631.0H605.7V631.1H606.5V631.6H607.3V631.7H608.1V656.5H608.9V656.1H609.7V652.7H610.5V652.8H611.3V651.8H612.1V651.7H612.9V651.1H613.7V651.4H614.5V651.1H615.0V681.5ZM617.6,681.5V680.8H618.4V680.6H619.2V680.7H620.0V680.7H620.8V680.7H621.6V680.6H621.9V681.5Z" fill="#c8202a"/>
<text x="220.5" y="67.7" font-size="20" text-anchor="middle" class="r">50</text>
<text x="220.5" y="154.9" font-size="20" text-anchor="middle" class="r">50</text>
<text x="220.5" y="183.9" font-size="20" text-anchor="middle" class="r">50</text>
<text x="220.5" y="271.1" font-size="20" text-anchor="middle" class="r">50</text>
<text x="220.5" y="297.6" font-size="20" text-anchor="middle" class="r">50</text>
<text x="220.5" y="384.8" font-size="20" text-anchor="middle" class="r">50</text>
<text x="220.5" y="411.2" font-size="20" text-anchor="middle" class="r">50</text>
<text x="220.5" y="501.6" font-size="20" text-anchor="middle" class="r">50</text>
<text x="220.5" y="525.2" font-size="20" text-anchor="middle" class="r">50</text>
<text x="220.5" y="612.0" font-size="20" text-anchor="middle" class="r">50</text>
<text x="220.5" y="638.9" font-size="20" text-anchor="middle" class="r">50</text>
<text x="220.5" y="729.3" font-size="20" text-anchor="middle" class="r">50</text>
<text x="32.3" y="113.7" font-size="20.5" textLength="168.5" lengthAdjust="spacingAndGlyphs" class="r">HGG - G34R, n=75</text>
<text x="204.1" y="114.6" font-size="17.5" textLength="13.4" lengthAdjust="spacingAndGlyphs" class="r">%</text>
<text x="27.1" y="233.1" font-size="20.5" textLength="172.1" lengthAdjust="spacingAndGlyphs" class="r">HGG - K27M, n=77</text>
<text x="206.4" y="231.8" font-size="17.5" textLength="13.4" lengthAdjust="spacingAndGlyphs" class="r">%</text>
<text x="30.3" y="348.1" font-size="20.5" textLength="168.9" lengthAdjust="spacingAndGlyphs" class="r">MB - SHH_1, n=91</text>
<text x="206.4" y="344.8" font-size="17.5" textLength="13.4" lengthAdjust="spacingAndGlyphs" class="r">%</text>
<text x="13.5" y="460.7" font-size="20.5" textLength="188.9" lengthAdjust="spacingAndGlyphs" class="r">MB - G3/4 IV, n=144</text>
<text x="207.0" y="457.5" font-size="17.5" textLength="13.4" lengthAdjust="spacingAndGlyphs" class="r">%</text>
<text x="26.4" y="574.7" font-size="20.5" textLength="176.0" lengthAdjust="spacingAndGlyphs" class="r">MB - G3/4 II n=190</text>
<text x="209.0" y="571.5" font-size="17.5" textLength="13.4" lengthAdjust="spacingAndGlyphs" class="r">%</text>
<text x="114.6" y="686.7" font-size="20.5" textLength="87.8" lengthAdjust="spacingAndGlyphs" class="r">CPC n=65</text>
<text x="208.6" y="684.2" font-size="17.5" textLength="13.4" lengthAdjust="spacingAndGlyphs" class="r">%</text>
<text x="240.9" y="736.2" font-size="13.5" text-anchor="middle" class="r">1</text>
<text x="273.2" y="723.3" font-size="13.5" text-anchor="middle" class="r">2</text>
<text x="304.0" y="736.2" font-size="13.5" text-anchor="middle" class="r">3</text>
<text x="331.3" y="723.3" font-size="13.5" text-anchor="middle" class="r">4</text>
<text x="357.1" y="736.2" font-size="13.5" text-anchor="middle" class="r">5</text>
<text x="382.5" y="723.3" font-size="13.5" text-anchor="middle" class="r">6</text>
<text x="404.9" y="736.2" font-size="13.5" text-anchor="middle" class="r">7</text>
<text x="426.5" y="723.3" font-size="13.5" text-anchor="middle" class="r">8</text>
<text x="446.9" y="736.2" font-size="13.5" text-anchor="middle" class="r">9</text>
<text x="466.9" y="723.3" font-size="13.5" text-anchor="middle" class="r">10</text>
<text x="485.9" y="736.2" font-size="13.5" text-anchor="middle" class="r">11</text>
<text x="504.6" y="723.3" font-size="13.5" text-anchor="middle" class="r">12</text>
<text x="522.3" y="736.2" font-size="13.5" text-anchor="middle" class="r">13</text>
<text x="537.5" y="723.3" font-size="13.5" text-anchor="middle" class="r">14</text>
<text x="552.4" y="736.2" font-size="13.5" text-anchor="middle" class="r">15</text>
<text x="565.9" y="723.3" font-size="13.5" text-anchor="middle" class="r">16</text>
<text x="578.9" y="736.2" font-size="13.5" text-anchor="middle" class="r">17</text>
<text x="590.1" y="723.3" font-size="13.5" text-anchor="middle" class="r">18</text>
<text x="598.2" y="736.2" font-size="13.5" text-anchor="middle" class="r">19</text>
<text x="607.5" y="723.3" font-size="13.5" text-anchor="middle" class="r">20</text>
<text x="615.5" y="736.2" font-size="13.5" text-anchor="middle" class="r">21</text>
<text x="624.5" y="723.3" font-size="13.5" text-anchor="middle" class="r">22</text>
<text x="448.1" y="755.5" font-size="20" text-anchor="middle" textLength="124.0" lengthAdjust="spacingAndGlyphs" class="r">Chromosome</text>
<text x="439.6" y="34.9" font-size="21.6" text-anchor="middle" font-weight="bold" textLength="245.5" lengthAdjust="spacingAndGlyphs" class="b">CNA profiles brain tumors</text>
<text x="-0.2" y="28.3" font-size="38" font-weight="bold" textLength="19.3" lengthAdjust="spacingAndGlyphs" class="b">a</text>
<g transform="translate(0.0 0.0)" fill="#231f20" stroke="#231f20"><ellipse cx="64.9" cy="13.7" rx="9.75" ry="10.85" stroke="none"/><path d="M58.1,26.2 h13.1 a4.8,4.8 0 0 1 4.8,4.8 v42.6 a4.15,4.15 0 0 1 -8.3,0 v-16.3 h-6.1 v16.3 a4.15,4.15 0 0 1 -8.3,0 v-42.6 a4.8,4.8 0 0 1 4.8,-4.8 z" stroke="none"/><path d="M57.6,31.4 L42.6,42.6 M71.8,31.4 L86.9,42.6" stroke-width="9.2" stroke-linecap="round" fill="none"/></g>
<line x1="1009.63" y1="72.00" x2="1009.63" y2="607.00" stroke="#c8c8c8" stroke-width="0.8" stroke-dasharray="1 1.3"/>
<line x1="1042.56" y1="72.00" x2="1042.56" y2="607.00" stroke="#c8c8c8" stroke-width="0.8" stroke-dasharray="1 1.3"/>
<line x1="1069.47" y1="72.00" x2="1069.47" y2="607.00" stroke="#c8c8c8" stroke-width="0.8" stroke-dasharray="1 1.3"/>
<line x1="1095.73" y1="72.00" x2="1095.73" y2="607.00" stroke="#c8c8c8" stroke-width="0.8" stroke-dasharray="1 1.3"/>
<line x1="1120.49" y1="72.00" x2="1120.49" y2="607.00" stroke="#c8c8c8" stroke-width="0.8" stroke-dasharray="1 1.3"/>
<line x1="1143.74" y1="72.00" x2="1143.74" y2="607.00" stroke="#c8c8c8" stroke-width="0.8" stroke-dasharray="1 1.3"/>
<line x1="1165.26" y1="72.00" x2="1165.26" y2="607.00" stroke="#c8c8c8" stroke-width="0.8" stroke-dasharray="1 1.3"/>
<line x1="1185.71" y1="72.00" x2="1185.71" y2="607.00" stroke="#c8c8c8" stroke-width="0.8" stroke-dasharray="1 1.3"/>
<line x1="1204.66" y1="72.00" x2="1204.66" y2="607.00" stroke="#c8c8c8" stroke-width="0.8" stroke-dasharray="1 1.3"/>
<line x1="1222.74" y1="72.00" x2="1222.74" y2="607.00" stroke="#c8c8c8" stroke-width="0.8" stroke-dasharray="1 1.3"/>
<line x1="1241.68" y1="72.00" x2="1241.68" y2="607.00" stroke="#c8c8c8" stroke-width="0.8" stroke-dasharray="1 1.3"/>
<line x1="1259.55" y1="72.00" x2="1259.55" y2="607.00" stroke="#c8c8c8" stroke-width="0.8" stroke-dasharray="1 1.3"/>
<line x1="1275.69" y1="72.00" x2="1275.69" y2="607.00" stroke="#c8c8c8" stroke-width="0.8" stroke-dasharray="1 1.3"/>
<line x1="1289.47" y1="72.00" x2="1289.47" y2="607.00" stroke="#c8c8c8" stroke-width="0.8" stroke-dasharray="1 1.3"/>
<line x1="1303.03" y1="72.00" x2="1303.03" y2="607.00" stroke="#c8c8c8" stroke-width="0.8" stroke-dasharray="1 1.3"/>
<line x1="1316.59" y1="72.00" x2="1316.59" y2="607.00" stroke="#c8c8c8" stroke-width="0.8" stroke-dasharray="1 1.3"/>
<line x1="1328.22" y1="72.00" x2="1328.22" y2="607.00" stroke="#c8c8c8" stroke-width="0.8" stroke-dasharray="1 1.3"/>
<line x1="1337.48" y1="72.00" x2="1337.48" y2="607.00" stroke="#c8c8c8" stroke-width="0.8" stroke-dasharray="1 1.3"/>
<line x1="1345.66" y1="72.00" x2="1345.66" y2="607.00" stroke="#c8c8c8" stroke-width="0.8" stroke-dasharray="1 1.3"/>
<line x1="1354.70" y1="72.00" x2="1354.70" y2="607.00" stroke="#c8c8c8" stroke-width="0.8" stroke-dasharray="1 1.3"/>
<line x1="1361.59" y1="72.00" x2="1361.59" y2="607.00" stroke="#c8c8c8" stroke-width="0.8" stroke-dasharray="1 1.3"/>
<line x1="1368.04" y1="72.00" x2="1368.04" y2="607.00" stroke="#c8c8c8" stroke-width="0.8" stroke-dasharray="1 1.3"/>
<line x1="976.26" y1="72.00" x2="976.26" y2="607.00" stroke="#a8a8a8" stroke-width="0.9"/>
<line x1="976.26" y1="114.15" x2="1368.04" y2="114.15" stroke="#6a6a6a" stroke-width="0.8"/>
<path d="M976.3,114.1L976.3,121.7L992.6,121.7L992.6,114.1ZM1013.1,114.1L1013.1,118.9L1017.8,118.9L1017.8,114.1ZM1120.5,114.1L1120.5,121.5L1132.5,121.5L1132.5,125.3L1143.7,125.3L1143.7,114.1ZM1165.3,114.1L1165.3,118.5L1185.7,118.5L1185.7,114.1ZM1315.5,114.1L1315.5,118.5L1318.5,118.5L1318.5,114.1ZM1363.7,114.1L1363.7,124.3L1365.5,125.3L1368.0,124.3L1368.0,114.1Z" fill="#3a3a3a"/>
<path d="M995.2,114.1L995.2,111.4L997.4,107.7L1001.7,104.5L1003.8,107.0L1009.8,107.7L1009.8,114.1ZM1013.1,114.1L1013.1,107.7L1014.6,107.7L1014.6,114.1ZM1053.3,114.1L1053.3,113.5L1054.4,113.5L1054.4,114.1ZM1321.3,114.1L1321.3,111.4L1327.1,111.4L1327.1,114.1Z" fill="#c8202a"/>
<line x1="976.26" y1="227.65" x2="1368.04" y2="227.65" stroke="#6a6a6a" stroke-width="0.8"/>
<path d="M976.3,227.7L976.3,242.3L978.0,242.3L978.4,247.7L980.1,247.7L980.6,242.3L992.6,241.9L992.6,227.7ZM995.6,227.7L995.6,234.8L1010.3,234.8L1010.3,227.7ZM1037.8,227.7L1037.8,234.8L1040.4,234.8L1040.4,227.7ZM1055.5,227.7L1055.5,234.8L1061.9,234.8L1061.9,227.7ZM1078.7,227.7L1078.7,230.0L1080.2,230.0L1080.2,227.7ZM1120.5,227.7L1120.5,234.8L1142.7,234.8L1142.7,241.9L1143.7,241.9L1143.7,227.7ZM1157.7,227.7L1157.7,234.3L1161.0,234.3L1161.0,227.7ZM1165.3,227.7L1165.3,262.7L1167.4,262.7L1167.4,255.6L1171.7,255.6L1171.7,227.7ZM1185.7,227.7L1185.7,248.7L1186.8,248.7L1187.9,251.5L1188.9,251.5L1190.0,234.8L1194.3,234.8L1194.3,241.9L1197.1,241.9L1197.1,227.7ZM1222.3,227.7L1222.3,234.8L1226.6,234.8L1226.6,227.7ZM1229.4,227.7L1229.4,232.2L1230.9,232.2L1230.9,227.7ZM1258.9,227.7L1258.9,229.6L1263.2,229.6L1263.2,227.7ZM1303.7,227.7L1303.7,231.1L1304.8,231.1L1304.8,227.7ZM1341.4,227.7L1341.4,249.2L1345.7,249.2L1345.7,227.7ZM1350.4,227.7L1350.4,234.8L1352.5,234.8L1352.5,227.7ZM1363.3,227.7L1363.3,263.4L1365.0,263.4L1365.5,257.4L1368.0,256.3L1368.0,227.7Z" fill="#3a3a3a"/>
<path d="M995.6,227.7L995.6,220.1L1004.9,220.1L1004.9,227.7ZM1160.5,227.7L1160.5,220.3L1164.8,220.3L1164.8,227.7ZM1179.9,227.7L1179.9,220.3L1182.1,220.3L1182.1,227.7ZM1185.1,227.7L1185.1,220.3L1188.5,220.3L1188.5,227.7ZM1197.1,227.7L1197.1,219.9L1205.1,219.9L1205.1,227.7ZM1208.3,227.7L1208.3,222.5L1211.5,226.8L1211.5,227.7ZM1095.3,227.7L1095.3,226.1L1096.4,226.1L1096.4,227.7ZM1276.8,227.7L1276.8,226.4L1278.1,226.4L1278.1,227.7ZM1352.5,227.7L1352.5,226.1L1354.7,226.1L1354.7,227.7Z" fill="#c8202a"/>
<line x1="976.26" y1="340.45" x2="1368.04" y2="340.45" stroke="#6a6a6a" stroke-width="0.8"/>
<path d="M1027.5,340.5L1027.5,343.0L1029.2,343.0L1029.2,340.5ZM1095.9,340.5L1095.9,345.6L1097.5,345.6L1097.5,340.5ZM1120.5,340.5L1120.5,346.7L1126.5,346.7L1126.5,340.5ZM1136.2,340.5L1136.2,355.3L1138.4,355.3L1138.4,354.7L1143.7,354.7L1143.7,340.5ZM1187.4,340.5L1187.4,347.8L1189.4,351.0L1190.7,351.0L1190.7,340.5ZM1204.7,340.5L1204.7,353.6L1222.7,353.6L1222.7,340.5ZM1235.2,340.5L1235.2,343.5L1237.4,346.7L1238.5,343.5L1240.6,343.5L1240.6,340.5ZM1264.9,340.5L1264.9,345.6L1266.9,345.6L1266.9,340.5ZM1276.8,340.5L1276.8,341.7L1278.1,341.7L1278.1,340.5ZM1320.7,340.5L1320.7,341.7L1322.0,341.7L1322.0,340.5ZM1362.2,340.5L1362.2,345.6L1365.5,347.8L1368.0,345.6L1368.0,340.5Z" fill="#3a3a3a"/>
<path d="M1150.2,340.5L1150.2,334.2L1159.9,334.2L1159.9,333.8L1165.3,333.8L1165.3,327.3L1185.7,327.3L1185.7,340.5ZM1291.2,340.5L1291.2,340.5L1292.7,338.3L1294.0,340.5L1294.0,340.5ZM999.5,340.5L999.5,339.6L1000.6,339.6L1000.6,340.5Z" fill="#c8202a"/>
<line x1="976.26" y1="452.31" x2="1368.04" y2="452.31" stroke="#6a6a6a" stroke-width="0.8"/>
<path d="M976.3,452.3L976.3,462.4L992.0,462.4L992.0,452.3ZM1050.7,452.3L1050.7,456.4L1052.3,456.4L1052.3,452.3ZM1063.4,452.3L1063.4,460.7L1064.5,460.7L1064.5,452.3ZM1079.2,452.3L1079.2,457.7L1080.2,457.7L1080.2,452.3ZM1094.7,452.3L1094.7,457.7L1096.4,457.7L1096.4,452.3ZM1165.3,452.3L1165.3,462.4L1185.3,462.4L1185.3,452.3ZM1187.4,452.3L1187.4,472.8L1188.5,472.8L1188.5,452.3ZM1207.2,452.3L1207.2,458.1L1209.4,458.1L1209.4,462.4L1210.9,462.4L1210.9,452.3ZM1218.0,452.3L1218.0,462.4L1223.0,462.4L1223.0,452.3ZM1229.4,452.3L1229.4,459.2L1230.5,459.2L1230.5,452.3ZM1235.2,452.3L1235.2,462.4L1239.5,462.4L1239.5,472.1L1241.0,472.1L1241.0,462.4L1244.5,462.4L1244.5,452.3ZM1262.1,452.3L1262.1,472.1L1272.9,472.1L1272.9,462.4L1275.0,462.4L1275.0,452.3ZM1280.4,452.3L1280.4,462.4L1290.1,462.4L1290.1,452.3ZM1300.5,452.3L1300.5,459.8L1301.3,459.8L1301.3,452.3ZM1304.1,452.3L1304.1,462.4L1307.8,462.4L1307.8,452.3ZM1311.6,452.3L1311.6,462.4L1312.7,462.4L1312.7,452.3ZM1318.5,452.3L1318.5,462.4L1320.7,462.4L1320.7,452.3ZM1327.1,452.3L1327.1,467.4L1328.9,467.4L1328.9,452.3ZM1356.4,452.3L1356.4,460.3L1357.5,460.3L1357.5,452.3ZM1363.3,452.3L1363.3,462.4L1367.2,462.4L1367.2,452.3Z" fill="#3a3a3a"/>
<path d="M976.3,452.3L976.3,438.3L978.0,438.3L978.0,442.6L990.9,442.6L990.9,433.4L998.4,430.6L999.5,433.4L1004.9,433.4L1006.0,439.8L1006.0,443.1L1010.3,443.1L1010.3,452.3ZM1050.1,452.3L1050.1,446.9L1051.6,446.9L1051.6,452.3ZM1123.3,452.3L1123.3,447.4L1125.4,447.4L1125.4,452.3ZM1143.7,452.3L1143.7,423.7L1144.8,423.7L1144.8,414.0L1150.2,414.0L1150.2,424.1L1165.3,424.1L1165.3,452.3ZM1175.0,452.3L1175.0,443.1L1179.9,443.1L1179.9,452.3ZM1184.6,452.3L1184.6,443.1L1188.5,443.1L1189.4,439.2L1191.1,439.2L1191.1,443.1L1195.4,443.1L1195.4,433.4L1204.7,433.4L1204.7,452.3ZM1246.0,452.3L1246.0,450.6L1249.2,450.6L1249.2,452.3ZM1253.1,452.3L1253.1,449.1L1254.6,449.1L1254.6,452.3ZM1284.1,452.3L1284.1,445.2L1285.2,445.2L1285.2,452.3ZM1303.5,452.3L1303.5,445.2L1304.5,445.2L1304.5,452.3ZM1321.3,452.3L1321.3,443.1L1325.6,443.1L1325.6,433.4L1327.1,433.4L1327.1,452.3ZM1357.5,452.3L1357.5,444.1L1360.1,444.1L1360.1,450.6L1361.6,450.6L1361.6,452.3Z" fill="#c8202a"/>
<line x1="976.26" y1="565.75" x2="1368.04" y2="565.75" stroke="#6a6a6a" stroke-width="0.8"/>
<path d="M976.3,565.8V567.9H977.1V568.1H977.9V568.1H978.7V567.5H979.5V567.4H980.3V567.8H981.1V567.7H981.9V568.2H982.7V568.1H983.5V568.0H984.3V568.0H985.1V568.1H985.9V567.5H986.7V572.1H987.5V571.7H988.3V568.3H989.1V567.4H989.9V568.2H990.7V567.4H991.5V568.1H992.3V567.7H993.1V567.8H993.9V568.2H994.7V567.4H995.5V567.4H996.3V568.3H997.1V567.9H997.9V567.4H998.7V568.3H999.5V568.3H1000.3V567.4H1001.1V567.7H1001.9V567.4H1002.7V567.6H1003.5V567.9H1004.3V567.4H1005.1V568.0H1005.9V567.3H1006.7V567.4H1007.5V568.1H1008.3V567.7H1009.1V567.7H1009.9V567.8H1010.7V567.7H1011.5V567.6H1012.3V567.3H1013.1V567.9H1013.9V568.2H1014.7V568.2H1015.5V567.9H1016.3V567.6H1017.1V567.6H1017.9V567.9H1018.7V567.8H1019.5V567.3H1020.3V567.4H1021.1V567.5H1021.9V567.7H1022.7V567.9H1023.5V567.6H1024.3V567.2H1025.1V567.9H1025.9V567.5H1026.7V567.6H1027.5V567.3H1028.3V567.5H1029.1V567.5H1029.9V567.8H1030.7V567.2H1031.5V567.6H1032.3V567.3H1033.1V567.7H1033.9V567.1H1034.7V567.3H1035.5V567.4H1036.3V567.6H1037.1V567.1H1037.9V567.5H1038.7V567.3H1039.5V567.3H1040.3V567.5H1041.1V567.9H1041.9V567.5H1042.7V567.9H1043.0V565.8ZM1043.0,565.8V569.6H1043.8V570.7H1044.6V569.9H1045.4V569.6H1046.2V570.4H1047.0V570.7H1047.8V569.3H1048.6V569.7H1049.4V570.5H1050.2V569.8H1051.0V569.7H1051.8V569.3H1052.6V569.4H1053.4V570.2H1054.2V570.8H1055.0V570.8H1055.8V577.6H1056.6V576.9H1057.4V577.3H1058.2V578.0H1059.0V578.1H1059.8V577.8H1060.6V577.2H1061.4V577.6H1062.2V577.6H1063.0V572.4H1063.8V571.9H1064.6V572.9H1065.4V572.8H1066.2V571.7H1067.0V571.9H1067.8V572.8H1068.6V572.5H1069.4V574.0H1070.2V573.3H1071.0V573.6H1071.8V573.7H1072.6V572.9H1073.4V573.1H1074.2V573.0H1075.0V573.7H1075.8V573.7H1076.6V572.9H1077.4V574.1H1078.2V573.4H1079.0V573.1H1079.8V573.4H1080.6V574.3H1081.4V573.7H1082.2V573.8H1083.0V574.3H1083.8V574.3H1084.6V574.1H1085.4V573.6H1086.2V573.8H1087.0V574.3H1087.8V574.2H1088.6V573.9H1089.4V573.5H1090.2V573.6H1091.0V574.2H1091.8V573.9H1092.6V573.1H1093.4V574.2H1094.2V574.5H1095.0V574.4H1095.8V574.5H1096.6V571.8H1097.4V571.2H1098.2V571.6H1099.0V571.0H1099.8V570.5H1100.6V570.9H1101.4V570.9H1102.2V571.8H1103.0V571.4H1103.8V571.2H1104.6V571.3H1105.4V570.6H1106.2V571.2H1107.0V571.4H1107.8V571.0H1108.6V570.8H1109.4V571.0H1110.2V570.9H1111.0V571.4H1111.8V570.6H1112.6V570.5H1113.4V570.9H1114.2V571.4H1115.0V571.5H1115.8V571.4H1116.6V571.8H1117.4V570.9H1118.2V570.4H1119.0V571.1H1119.8V571.1H1120.5V565.8ZM1130.8,565.8V569.6H1131.6V570.3H1132.4V569.8H1133.2V569.7H1134.0V569.8H1134.8V570.7H1135.6V569.3H1136.2V565.8ZM1143.7,565.8V570.7H1144.5V570.6H1145.3V570.5H1146.1V570.8H1146.9V570.5H1147.7V571.5H1148.5V570.9H1149.3V571.2H1150.1V570.4H1150.9V570.9H1151.7V571.1H1152.5V571.4H1153.3V570.5H1154.1V570.9H1154.9V571.5H1155.7V571.4H1156.5V570.5H1157.3V571.0H1158.1V571.3H1158.9V570.8H1159.7V571.2H1160.5V571.2H1161.3V571.6H1162.1V571.0H1162.9V571.2H1163.7V570.7H1164.5V571.3H1165.3V565.8ZM1165.3,565.8V571.9H1166.1V572.2H1166.9V572.0H1167.7V571.9H1168.5V571.7H1169.3V571.8H1170.1V572.3H1170.9V571.8H1171.7V571.5H1172.5V572.7H1173.3V571.9H1174.1V572.9H1174.9V572.4H1175.7V572.0H1176.5V572.8H1177.3V572.8H1178.1V571.9H1178.9V571.7H1179.7V572.4H1180.5V572.7H1181.3V572.4H1182.1V572.6H1182.9V572.1H1183.7V572.4H1184.5V571.9H1185.3V568.3H1186.1V567.8H1186.9V567.8H1187.7V567.8H1188.5V568.2H1189.3V567.6H1190.1V567.6H1190.9V567.6H1191.1V565.8ZM1197.6,565.8V569.7H1198.4V569.0H1199.2V568.3H1200.0V569.5H1200.8V569.5H1201.6V569.5H1202.4V568.8H1203.2V569.3H1204.0V571.9H1204.8V571.7H1205.6V572.8H1206.4V572.7H1207.2V571.8H1208.0V572.8H1208.8V571.5H1209.6V571.9H1210.4V573.2H1211.2V578.2H1212.0V580.4H1212.8V583.5H1213.6V585.1H1214.4V587.2H1215.2V589.4H1216.0V591.8H1216.8V594.7H1217.6V595.7H1218.4V596.3H1219.2V598.6H1220.0V599.8H1220.8V601.1H1221.6V602.0H1222.4V599.4H1223.2V593.9H1224.0V589.6H1224.8V586.8H1225.6V585.0H1226.4V585.0H1227.2V584.5H1228.0V584.3H1228.8V584.2H1229.6V584.9H1230.4V588.3H1231.2V585.0H1232.0V580.6H1232.8V580.7H1233.6V580.0H1234.4V580.0H1235.2V579.1H1236.0V578.3H1236.8V577.8H1237.6V577.7H1238.4V577.4H1239.2V577.1H1240.0V575.6H1240.8V575.1H1241.6V569.5H1242.4V569.4H1243.2V569.4H1243.8V565.8ZM1262.1,565.8V568.0H1262.9V569.9H1263.7V571.0H1264.5V573.1H1265.3V574.3H1266.1V576.1H1266.9V577.3H1267.7V578.3H1268.5V578.8H1269.3V576.2H1270.1V575.3H1270.9V575.2H1271.7V573.3H1272.5V571.7H1273.3V570.9H1274.1V568.8H1274.9V568.1H1275.0V565.8ZM1292.3,565.8V574.4H1293.1V585.8H1293.9V585.8H1294.7V586.8H1295.5V587.5H1296.3V587.8H1297.1V587.6H1297.9V579.3H1298.7V572.0H1299.5V571.9H1300.3V572.8H1301.1V572.4H1301.9V572.5H1302.7V571.5H1303.0V565.8ZM1308.4,565.8V569.7H1309.2V570.0H1310.0V570.4H1310.8V570.5H1311.6V570.4H1312.4V569.8H1313.2V569.9H1314.0V571.8H1314.8V575.7H1315.6V581.9H1316.4V594.6H1317.2V598.7H1318.0V597.5H1318.8V594.7H1319.6V591.9H1320.4V589.9H1321.2V588.1H1322.0V585.3H1322.8V583.8H1323.6V580.5H1324.4V575.4H1325.2V571.0H1325.6V565.8ZM1327.8,565.8V570.7H1328.6V571.7H1329.4V573.3H1330.2V573.8H1331.0V573.8H1331.8V575.1H1332.6V575.8H1333.4V576.4H1334.2V576.8H1335.0V577.4H1335.8V578.0H1336.6V579.6H1337.4V579.2H1338.2V574.1H1338.6V565.8ZM1343.9,565.8V570.0H1344.7V569.6H1345.5V569.9H1346.1V565.8ZM1363.3,565.8V570.4H1364.1V572.1H1364.9V573.2H1365.7V574.3H1366.5V576.2H1367.3V575.3H1368.0V565.8Z" fill="#3a3a3a"/>
<path d="M976.3,565.8V553.7H977.1V554.1H977.9V553.8H978.7V553.9H979.5V554.1H980.3V553.5H981.1V554.1H981.9V553.5H982.7V548.3H983.5V548.8H984.3V549.0H985.1V548.7H985.9V548.2H986.7V548.5H987.5V548.3H988.3V548.9H989.1V544.8H989.9V544.5H990.7V544.7H991.5V544.4H992.3V544.1H993.1V543.7H993.9V543.9H994.7V543.2H995.5V527.3H996.3V526.5H997.1V526.4H997.9V526.1H998.7V526.3H999.5V526.1H1000.3V525.4H1001.1V525.5H1001.9V525.5H1002.7V525.0H1003.5V525.0H1004.3V525.4H1005.1V525.9H1005.9V525.9H1006.7V526.3H1007.5V526.4H1008.3V528.2H1009.1V529.3H1009.9V530.1H1010.7V544.7H1011.5V544.6H1012.3V543.9H1013.1V544.6H1013.9V551.0H1014.7V550.9H1015.5V550.9H1016.3V551.0H1017.1V550.7H1017.9V550.7H1018.7V550.7H1019.5V550.9H1020.3V550.8H1021.1V550.7H1021.9V551.4H1022.7V551.0H1023.5V551.1H1024.3V551.2H1025.1V551.5H1025.9V550.8H1026.7V547.8H1027.5V548.5H1028.3V548.5H1029.1V548.5H1029.9V548.1H1030.7V548.0H1031.5V547.8H1032.3V548.5H1033.1V548.4H1033.9V548.2H1034.7V548.4H1035.5V547.9H1036.3V548.1H1037.1V548.5H1037.9V547.7H1038.7V548.2H1039.5V547.8H1040.3V548.4H1041.1V548.4H1041.9V548.2H1042.7V548.0H1043.0V565.8ZM1069.5,565.8V564.5H1070.3V564.7H1071.1V564.6H1071.9V564.6H1072.7V564.5H1073.5V564.8H1074.3V564.7H1075.1V564.7H1075.9V564.8H1076.7V561.4H1077.5V561.1H1078.3V561.1H1079.1V564.8H1079.9V564.6H1080.7V564.8H1081.5V564.5H1082.3V564.8H1083.1V564.7H1083.9V564.7H1084.7V564.9H1085.5V564.6H1086.3V564.6H1087.1V564.8H1087.9V564.8H1088.7V564.7H1089.5V564.8H1090.3V564.7H1091.1V564.8H1091.9V564.7H1092.7V564.6H1093.5V564.6H1094.3V564.5H1095.1V564.5H1095.9V564.5H1096.4V565.8ZM1134.1,565.8V563.0H1134.9V562.2H1135.6V565.8ZM1143.7,565.8V545.4H1144.5V544.9H1145.3V545.8H1146.1V545.3H1146.9V545.0H1147.7V545.6H1148.5V545.7H1149.3V545.8H1150.1V545.0H1150.9V540.9H1151.7V541.2H1152.5V540.8H1153.3V541.1H1154.1V541.2H1154.9V541.2H1155.7V541.3H1156.5V535.9H1157.3V535.4H1158.1V535.9H1158.9V535.6H1159.7V535.3H1160.5V535.1H1161.3V535.7H1162.1V535.5H1162.9V535.2H1163.7V535.6H1164.5V539.3H1165.3V543.2H1166.1V560.4H1166.9V560.4H1167.7V560.4H1168.5V560.9H1169.3V560.8H1170.1V560.2H1170.9V560.7H1171.7V558.0H1172.5V558.7H1173.3V557.8H1174.1V558.0H1174.9V558.7H1175.7V558.4H1176.5V558.4H1177.3V557.9H1178.1V557.8H1178.9V558.7H1179.7V557.8H1180.5V557.9H1181.3V558.1H1182.1V558.5H1182.9V558.4H1183.7V558.7H1184.5V558.5H1185.3V565.8ZM1191.1,565.8V564.7H1191.9V564.8H1192.7V564.6H1193.5V564.5H1194.3V564.8H1195.1V564.8H1195.9V564.7H1196.7V564.7H1197.5V564.6H1198.3V564.6H1199.1V564.5H1199.9V564.5H1200.7V564.7H1201.5V564.8H1202.3V564.8H1203.1V564.7H1203.9V564.7H1204.7V564.7H1205.5V564.8H1206.3V564.8H1207.1V564.9H1207.9V564.8H1208.7V562.7H1209.5V562.6H1210.3V562.2H1210.5V565.8ZM1229.8,565.8V562.5H1230.6V562.5H1231.4V562.2H1232.2V562.2H1233.0V562.4H1233.8V562.2H1234.6V562.6H1235.4V558.0H1236.2V558.7H1237.0V558.4H1237.8V558.2H1238.6V558.2H1239.4V558.1H1240.2V557.9H1241.0V558.7H1241.8V558.6H1242.6V558.4H1243.4V558.3H1244.2V552.9H1245.0V553.3H1245.8V561.1H1246.6V561.3H1247.4V561.5H1248.2V561.1H1249.0V561.2H1249.8V561.7H1250.6V561.4H1251.4V562.5H1252.2V563.1H1253.0V564.1H1253.5V565.8ZM1277.2,565.8V564.8H1278.0V564.7H1278.8V564.7H1279.6V564.7H1280.4V564.6H1281.2V564.8H1282.0V564.7H1282.8V561.4H1283.6V560.7H1284.4V560.8H1285.2V561.1H1286.0V560.8H1286.8V561.4H1287.6V560.9H1288.4V563.3H1289.0V565.8ZM1298.3,565.8V560.0H1299.1V560.1H1299.9V560.8H1300.7V560.8H1301.5V560.5H1302.3V560.3H1303.1V559.9H1303.9V561.5H1304.7V564.1H1305.5V564.6H1306.3V564.7H1307.1V564.8H1307.9V564.6H1308.7V564.5H1309.5V564.8H1310.3V564.5H1311.1V564.8H1311.9V564.5H1312.7V564.6H1313.5V564.6H1314.3V564.7H1315.1V564.8H1315.9V564.8H1315.9V565.8ZM1327.8,565.8V558.7H1328.6V558.2H1329.4V558.3H1329.9V565.8ZM1346.1,565.8V559.1H1346.9V559.6H1347.7V559.7H1348.5V558.8H1349.3V559.1H1350.1V559.8H1350.9V558.9H1351.7V558.9H1352.5V559.1H1353.3V559.7H1354.1V559.1H1354.9V559.2H1355.7V558.3H1356.5V558.8H1357.3V558.3H1358.1V558.7H1358.9V558.9H1359.7V559.0H1360.5V558.6H1361.2V565.8ZM1363.3,565.8V561.5H1364.1V560.9H1364.9V561.5H1365.7V561.4H1366.5V561.5H1367.3V560.6H1367.6V565.8Z" fill="#c8202a"/>
<text x="976.3" y="75.4" font-size="20" text-anchor="middle" class="r">50</text>
<text x="976.3" y="165.4" font-size="20" text-anchor="middle" class="r">50</text>
<text x="976.3" y="188.1" font-size="20" text-anchor="middle" class="r">50</text>
<text x="976.3" y="278.8" font-size="20" text-anchor="middle" class="r">50</text>
<text x="976.3" y="300.9" font-size="20" text-anchor="middle" class="r">50</text>
<text x="976.3" y="391.4" font-size="20" text-anchor="middle" class="r">50</text>
<text x="976.3" y="412.8" font-size="20" text-anchor="middle" class="r">50</text>
<text x="976.3" y="504.5" font-size="20" text-anchor="middle" class="r">50</text>
<text x="976.3" y="526.6" font-size="20" text-anchor="middle" class="r">50</text>
<text x="976.3" y="621.1" font-size="20" text-anchor="middle" class="r">50</text>
<text x="740.4" y="124.0" font-size="20.5" textLength="215.6" lengthAdjust="spacingAndGlyphs" class="r">HGG - ALK-driven, n=24</text>
<text x="961.6" y="122.3" font-size="17.5" textLength="13.0" lengthAdjust="spacingAndGlyphs" class="r">%</text>
<text x="713.0" y="237.0" font-size="20.5" textLength="241.3" lengthAdjust="spacingAndGlyphs" class="r">HGG - NTRK2-driven, n=12</text>
<text x="963.8" y="231.8" font-size="17.5" textLength="13.0" lengthAdjust="spacingAndGlyphs" class="r">%</text>
<text x="725.0" y="349.3" font-size="20.5" textLength="229.3" lengthAdjust="spacingAndGlyphs" class="r">HGG - ROS1-driven, n=13</text>
<text x="963.1" y="345.9" font-size="17.5" textLength="13.0" lengthAdjust="spacingAndGlyphs" class="r">%</text>
<text x="752.4" y="462.9" font-size="20.5" textLength="201.9" lengthAdjust="spacingAndGlyphs" class="r">HGG - Nf1-driven, n=9</text>
<text x="962.3" y="459.5" font-size="17.5" textLength="13.0" lengthAdjust="spacingAndGlyphs" class="r">%</text>
<text x="717.1" y="576.2" font-size="20.5" textLength="237.2" lengthAdjust="spacingAndGlyphs" class="r">HGG - MYCN-driven, n=34</text>
<text x="962.3" y="572.5" font-size="17.5" textLength="13.0" lengthAdjust="spacingAndGlyphs" class="r">%</text>
<text x="994.1" y="639.1" font-size="13.5" text-anchor="middle" class="r">1</text>
<text x="1027.1" y="626.2" font-size="13.5" text-anchor="middle" class="r">2</text>
<text x="1057.2" y="639.1" font-size="13.5" text-anchor="middle" class="r">3</text>
<text x="1084.1" y="626.2" font-size="13.5" text-anchor="middle" class="r">4</text>
<text x="1108.9" y="639.1" font-size="13.5" text-anchor="middle" class="r">5</text>
<text x="1133.4" y="626.2" font-size="13.5" text-anchor="middle" class="r">6</text>
<text x="1155.6" y="639.1" font-size="13.5" text-anchor="middle" class="r">7</text>
<text x="1176.7" y="626.2" font-size="13.5" text-anchor="middle" class="r">8</text>
<text x="1196.5" y="639.1" font-size="13.5" text-anchor="middle" class="r">9</text>
<text x="1216.5" y="626.2" font-size="13.5" text-anchor="middle" class="r">10</text>
<text x="1234.6" y="639.1" font-size="13.5" text-anchor="middle" class="r">11</text>
<text x="1253.1" y="626.2" font-size="13.5" text-anchor="middle" class="r">12</text>
<text x="1270.1" y="639.1" font-size="13.5" text-anchor="middle" class="r">13</text>
<text x="1285.4" y="626.2" font-size="13.5" text-anchor="middle" class="r">14</text>
<text x="1299.2" y="639.1" font-size="13.5" text-anchor="middle" class="r">15</text>
<text x="1312.9" y="626.2" font-size="13.5" text-anchor="middle" class="r">16</text>
<text x="1324.6" y="639.1" font-size="13.5" text-anchor="middle" class="r">17</text>
<text x="1335.3" y="626.2" font-size="13.5" text-anchor="middle" class="r">18</text>
<text x="1343.5" y="639.1" font-size="13.5" text-anchor="middle" class="r">19</text>
<text x="1353.2" y="626.2" font-size="13.5" text-anchor="middle" class="r">20</text>
<text x="1361.2" y="639.1" font-size="13.5" text-anchor="middle" class="r">21</text>
<text x="1368.7" y="626.2" font-size="13.5" text-anchor="middle" class="r">22</text>
<text x="1200.3" y="665.0" font-size="20" text-anchor="middle" textLength="124.0" lengthAdjust="spacingAndGlyphs" class="r">Chromosome</text>
<text x="1168.5" y="38.6" font-size="21.6" text-anchor="middle" font-weight="bold" textLength="370.5" lengthAdjust="spacingAndGlyphs" class="b">CNA profiles brain tumors, gene-driven</text>
<text x="696.3" y="28.3" font-size="38" font-weight="bold" textLength="21.5" lengthAdjust="spacingAndGlyphs" class="b">b</text>
<g transform="translate(673.8 10.1)" fill="#231f20" stroke="#231f20"><ellipse cx="64.9" cy="13.7" rx="9.75" ry="10.85" stroke="none"/><path d="M58.1,26.2 h13.1 a4.8,4.8 0 0 1 4.8,4.8 v42.6 a4.15,4.15 0 0 1 -8.3,0 v-16.3 h-6.1 v16.3 a4.15,4.15 0 0 1 -8.3,0 v-42.6 a4.8,4.8 0 0 1 4.8,-4.8 z" stroke="none"/><path d="M57.6,31.4 L42.6,42.6 M71.8,31.4 L86.9,42.6" stroke-width="9.2" stroke-linecap="round" fill="none"/></g>
<rect x="161.2" y="836.4" width="534.2" height="482.4" rx="11" ry="11" fill="none" stroke="#ababab" stroke-width="1.3"/>
<line x1="161.20" y1="1070.20" x2="695.40" y2="1070.20" stroke="#ababab" stroke-width="1.4"/>
<line x1="193.29" y1="855.14" x2="663.70" y2="855.14" stroke="#555" stroke-width="0.7"/>
<path d="M193.3,855.1h1.39v7.4h-1.39zM194.6,855.1h1.83v10.1h-1.83zM196.4,855.1h1.54v7.4h-1.54zM197.9,855.1h1.64v10.4h-1.64zM199.5,855.1h1.55v10.3h-1.55zM201.0,855.1h2.13v7.5h-2.13zM203.1,855.1h1.99v9.0h-1.99zM205.0,855.1h1.85v11.5h-1.85zM206.8,855.1h1.49v7.0h-1.49zM208.3,855.1h2.45v8.8h-2.45zM210.7,855.1h1.61v8.4h-1.61zM212.2,855.1h1.80v11.3h-1.80zM214.0,855.1h1.62v7.9h-1.62zM215.5,855.1h2.05v9.4h-2.05zM217.5,855.1h2.47v10.8h-2.47zM219.9,855.1h1.79v7.8h-1.79zM221.7,855.1h2.33v11.5h-2.33zM224.0,855.1h1.41v10.3h-1.41zM225.3,855.1h2.37v9.9h-2.37zM227.6,855.1h1.63v10.6h-1.63zM229.2,855.1h1.65v7.8h-1.65z" fill="#ee4d23"/>
<path d="M231.4,853.7h1.68v1.5h-1.68zM233.0,848.5h1.40v6.6h-1.40zM236.3,854.4h1.99v0.7h-1.99zM238.2,854.7h1.66v0.5h-1.66zM241.0,853.3h1.64v1.8h-1.64zM242.6,855.1h1.92v0.5h-1.92zM244.5,849.3h1.51v5.9h-1.51zM246.0,846.0h1.61v9.2h-1.61zM247.5,850.3h1.21v4.9h-1.21zM248.7,849.3h1.87v5.9h-1.87zM250.5,851.2h1.35v3.9h-1.35zM251.8,850.1h1.13v5.0h-1.13zM254.6,855.1h1.79v3.9h-1.79zM256.3,854.0h1.41v1.2h-1.41zM257.7,848.1h1.26v7.1h-1.26zM258.9,854.4h1.14v0.8h-1.14zM260.0,852.9h1.84v2.2h-1.84zM261.7,855.1h1.73v1.1h-1.73zM263.4,850.2h1.57v4.9h-1.57zM264.9,849.3h1.52v5.8h-1.52zM268.1,848.3h1.72v6.9h-1.72zM269.8,853.4h1.21v1.7h-1.21zM271.0,855.1h1.38v1.6h-1.38zM272.3,855.1h1.32v2.9h-1.32zM273.6,855.1h1.13v0.7h-1.13zM274.6,853.3h1.28v1.9h-1.28zM275.9,854.3h1.84v0.9h-1.84zM277.7,849.5h1.41v5.6h-1.41zM279.0,852.7h1.16v2.4h-1.16zM281.6,852.7h1.35v2.5h-1.35zM282.9,854.9h1.37v0.3h-1.37zM284.2,847.3h1.44v7.9h-1.44zM285.6,855.1h1.62v0.6h-1.62zM287.2,853.8h1.64v1.4h-1.64zM288.8,853.5h1.19v1.7h-1.19zM291.5,855.1h1.71v0.8h-1.71zM293.1,854.2h1.45v0.9h-1.45zM294.5,850.4h1.47v4.8h-1.47zM297.0,855.1h1.72v2.8h-1.72zM298.7,845.7h1.16v9.5h-1.16zM299.8,854.8h1.23v0.3h-1.23zM301.0,854.5h1.47v0.6h-1.47zM302.4,852.7h1.12v2.4h-1.12zM303.5,855.1h1.53v2.9h-1.53zM305.0,854.7h1.75v0.5h-1.75zM306.7,847.3h1.87v7.8h-1.87zM308.5,846.7h1.39v8.4h-1.39zM309.8,850.1h1.72v5.1h-1.72zM311.5,855.1h1.51v2.5h-1.51zM312.9,855.1h1.92v1.2h-1.92zM314.8,854.5h1.60v0.6h-1.60zM317.9,854.2h1.88v0.9h-1.88zM321.1,853.0h1.48v2.1h-1.48zM322.6,854.2h1.70v0.9h-1.70zM325.5,849.3h1.25v5.8h-1.25zM326.7,854.7h1.34v0.4h-1.34zM328.0,852.6h1.19v2.5h-1.19zM329.1,854.8h1.42v0.4h-1.42zM330.5,855.1h1.64v1.6h-1.64zM332.1,855.1h1.80v1.9h-1.80zM335.6,855.1h1.60v0.7h-1.60zM337.2,852.2h1.59v3.0h-1.59zM340.6,854.5h1.33v0.6h-1.33zM341.8,848.8h1.97v6.3h-1.97zM343.8,854.4h1.88v0.7h-1.88zM345.6,855.1h1.51v0.9h-1.51zM348.5,850.9h1.84v4.2h-1.84zM350.3,855.1h1.27v0.5h-1.27zM351.5,853.6h1.74v1.5h-1.74zM353.2,847.5h1.87v7.6h-1.87zM355.0,854.7h1.67v0.5h-1.67zM356.6,854.4h1.83v0.7h-1.83zM358.4,854.8h1.17v0.4h-1.17zM359.5,853.3h1.37v1.9h-1.37zM360.8,854.7h1.56v0.4h-1.56zM363.5,855.1h1.88v0.8h-1.88zM368.2,855.1h1.42v3.3h-1.42zM369.6,852.0h1.25v3.1h-1.25zM370.8,850.6h1.93v4.6h-1.93zM372.7,855.1h1.68v2.1h-1.68zM374.3,852.8h1.54v2.3h-1.54zM375.8,850.9h1.43v4.2h-1.43zM379.1,853.0h1.52v2.1h-1.52zM382.1,849.0h1.14v6.1h-1.14zM383.2,851.6h1.96v3.5h-1.96zM385.1,855.1h1.63v1.3h-1.63zM386.7,854.2h1.59v1.0h-1.59zM389.9,855.1h1.95v0.7h-1.95zM391.8,853.3h1.51v1.8h-1.51zM394.9,854.0h1.22v1.1h-1.22zM397.2,847.5h1.73v7.6h-1.73zM398.8,853.0h1.46v2.2h-1.46zM400.2,849.5h1.96v5.7h-1.96zM402.1,846.6h1.94v8.5h-1.94zM404.0,855.1h1.65v0.4h-1.65zM405.6,852.6h1.33v2.5h-1.33zM406.9,850.3h1.37v4.8h-1.37zM408.2,855.1h1.78v0.2h-1.78zM410.0,852.0h1.61v3.1h-1.61zM411.5,853.4h1.18v1.7h-1.18zM412.7,849.6h1.85v5.6h-1.85zM416.2,845.8h1.14v9.3h-1.14zM418.9,854.2h1.30v0.9h-1.30zM420.1,855.1h1.57v2.3h-1.57zM423.4,854.8h1.64v0.4h-1.64zM425.0,848.0h1.93v7.2h-1.93zM426.9,854.7h1.72v0.4h-1.72zM428.6,855.1h1.33v2.1h-1.33zM429.9,853.4h1.64v1.8h-1.64zM431.5,855.1h1.15v2.9h-1.15zM432.5,855.1h1.32v0.5h-1.32zM433.8,847.3h1.42v7.8h-1.42zM436.3,848.0h1.70v7.1h-1.70zM437.9,854.7h1.74v0.5h-1.74zM439.6,850.4h1.67v4.7h-1.67zM441.2,855.1h1.33v3.3h-1.33zM442.5,855.1h1.83v3.2h-1.83zM444.3,850.0h1.13v5.1h-1.13zM445.4,846.7h1.40v8.5h-1.40zM446.7,848.8h1.49v6.4h-1.49zM448.2,852.0h1.61v3.2h-1.61zM449.7,847.1h1.17v8.0h-1.17zM452.2,854.9h1.75v0.3h-1.75zM453.9,853.2h1.18v1.9h-1.18zM455.0,849.9h1.73v5.2h-1.73zM456.7,855.1h1.85v2.5h-1.85zM458.5,854.7h1.30v0.5h-1.30zM461.3,846.2h1.54v9.0h-1.54zM462.8,855.1h1.59v1.1h-1.59zM464.4,854.4h1.99v0.8h-1.99zM466.3,850.1h1.11v5.0h-1.11zM467.4,850.2h1.86v5.0h-1.86zM469.2,854.0h1.68v1.2h-1.68zM470.8,849.5h1.12v5.7h-1.12zM471.9,848.3h1.50v6.8h-1.50zM473.3,854.3h1.60v0.8h-1.60zM474.9,852.4h1.17v2.7h-1.17zM476.0,855.1h1.92v1.4h-1.92zM477.9,854.4h1.19v0.8h-1.19zM479.0,852.6h1.80v2.6h-1.80zM480.8,852.7h1.98v2.5h-1.98zM482.7,854.8h1.43v0.3h-1.43zM485.5,855.1h1.78v3.7h-1.78zM488.6,852.2h1.90v2.9h-1.90zM491.9,855.1h1.32v1.8h-1.32zM495.8,854.0h1.90v1.1h-1.90zM497.6,851.9h1.16v3.3h-1.16zM498.7,855.1h1.82v0.4h-1.82zM500.5,847.0h1.74v8.1h-1.74zM502.2,847.2h1.89v7.9h-1.89zM504.0,853.9h1.26v1.2h-1.26zM505.2,846.1h1.54v9.0h-1.54zM506.7,854.6h1.79v0.6h-1.79zM508.5,846.3h1.66v8.8h-1.66zM510.1,847.2h1.44v7.9h-1.44zM511.5,852.8h1.41v2.3h-1.41zM516.0,855.1h2.00v0.7h-2.00zM519.9,850.4h1.97v4.7h-1.97zM521.8,849.1h1.62v6.1h-1.62zM525.0,852.5h1.97v2.7h-1.97zM527.0,855.1h1.26v1.2h-1.26zM529.6,852.2h1.82v2.9h-1.82zM531.4,848.3h1.31v6.8h-1.31zM532.7,852.4h1.22v2.8h-1.22zM533.8,854.8h1.33v0.4h-1.33zM535.1,855.1h1.84v1.5h-1.84zM536.9,846.8h1.87v8.3h-1.87zM541.7,848.8h1.18v6.3h-1.18zM544.7,855.1h1.45v0.5h-1.45zM546.1,855.1h1.84v2.3h-1.84zM547.9,850.4h1.31v4.7h-1.31zM550.8,853.0h1.58v2.2h-1.58zM552.3,854.3h1.64v0.8h-1.64zM553.9,855.1h1.67v0.4h-1.67zM555.6,850.6h1.76v4.5h-1.76zM557.3,855.1h1.47v0.2h-1.47zM560.2,855.1h1.89v3.5h-1.89zM562.1,845.7h1.47v9.4h-1.47zM563.5,855.1h1.27v3.8h-1.27zM564.7,855.1h1.87v3.1h-1.87zM566.5,853.7h1.48v1.4h-1.48zM567.9,855.1h1.61v0.2h-1.61zM569.5,855.1h1.64v4.0h-1.64zM571.1,850.5h1.74v4.7h-1.74zM572.8,854.2h1.32v0.9h-1.32zM574.1,850.9h1.29v4.3h-1.29zM575.3,852.9h1.52v2.2h-1.52zM580.3,854.1h1.24v1.0h-1.24zM581.5,855.1h1.35v0.9h-1.35zM582.8,855.1h1.39v1.4h-1.39zM584.1,851.3h1.98v3.9h-1.98zM586.1,854.3h1.75v0.8h-1.75zM587.8,852.6h1.20v2.6h-1.20zM588.9,855.1h1.13v0.2h-1.13zM590.0,854.8h1.99v0.3h-1.99zM591.9,848.0h1.73v7.1h-1.73zM594.7,853.7h1.24v1.4h-1.24zM595.9,848.9h1.91v6.2h-1.91zM597.7,851.8h1.49v3.4h-1.49zM601.0,852.6h1.12v2.6h-1.12zM603.8,851.0h1.14v4.1h-1.14zM604.9,855.1h1.27v2.1h-1.27zM606.1,854.7h1.68v0.4h-1.68zM607.8,855.1h1.95v0.3h-1.95zM609.7,851.5h1.11v3.7h-1.11zM610.7,852.5h1.38v2.6h-1.38zM612.0,854.4h1.47v0.8h-1.47zM613.5,850.9h1.37v4.2h-1.37zM614.8,852.4h1.89v2.7h-1.89zM616.6,854.0h1.24v1.2h-1.24zM617.8,854.8h1.93v0.3h-1.93zM619.7,850.5h1.26v4.6h-1.26zM620.9,854.6h1.25v0.6h-1.25zM623.3,855.1h1.12v2.2h-1.12zM624.4,854.2h1.11v0.9h-1.11zM625.5,849.7h1.22v5.4h-1.22zM626.6,847.3h1.91v7.9h-1.91zM629.7,855.1h1.98v1.9h-1.98zM631.6,850.7h1.73v4.4h-1.73zM633.3,853.7h1.54v1.4h-1.54zM634.8,852.8h1.72v2.4h-1.72zM636.5,855.1h1.93v0.4h-1.93zM639.5,849.6h1.84v5.5h-1.84zM641.3,846.6h1.17v8.5h-1.17zM642.4,848.8h2.00v6.3h-2.00zM644.4,855.1h1.24v1.4h-1.24zM647.0,855.1h1.86v3.9h-1.86zM648.8,852.0h1.72v3.2h-1.72zM650.5,854.4h1.36v0.7h-1.36zM651.8,849.4h1.96v5.8h-1.96zM653.7,854.9h1.82v0.3h-1.82zM656.5,853.3h1.96v1.9h-1.96zM658.4,855.1h1.37v0.3h-1.37zM659.8,855.1h1.20v1.4h-1.20zM660.9,855.1h1.17v2.6h-1.17zM662.0,852.1h1.76v3.0h-1.76z" fill="#3a3a3a"/>
<line x1="193.29" y1="929.93" x2="663.70" y2="929.93" stroke="#555" stroke-width="0.7"/>
<path d="M193.3,929.9h1.89v14.7h-1.89zM195.1,929.9h1.41v9.2h-1.41zM196.5,929.9h1.42v9.5h-1.42zM197.9,929.9h1.74v12.9h-1.74zM199.5,929.9h2.24v13.9h-2.24zM201.7,929.9h1.47v11.5h-1.47zM203.2,929.9h2.05v11.1h-2.05zM205.2,929.9h1.69v10.1h-1.69zM206.8,929.9h1.77v9.6h-1.77zM208.5,929.9h2.52v13.4h-2.52zM211.0,929.9h2.46v9.4h-2.46zM213.4,929.9h1.51v13.0h-1.51zM214.9,929.9h2.49v11.5h-2.49zM217.3,929.9h1.74v11.4h-1.74zM219.0,929.9h1.38v10.3h-1.38zM220.3,929.9h1.55v9.9h-1.55zM221.8,929.9h2.49v13.0h-2.49zM224.3,929.9h2.33v11.6h-2.33zM226.5,929.9h1.99v11.2h-1.99zM228.5,929.9h1.91v13.8h-1.91zM230.3,929.9h0.54v10.0h-0.54z" fill="#ee4d23"/>
<path d="M231.4,929.9h1.34v2.7h-1.34zM232.7,925.1h1.14v4.8h-1.14zM233.7,929.4h1.98v0.5h-1.98zM235.7,929.9h1.47v3.1h-1.47zM237.1,929.4h1.66v0.5h-1.66zM238.7,927.5h1.54v2.4h-1.54zM242.0,929.9h1.62v3.8h-1.62zM243.6,927.4h1.30v2.6h-1.30zM246.8,925.2h1.78v4.7h-1.78zM248.5,929.7h1.54v0.3h-1.54zM250.0,929.9h1.96v0.5h-1.96zM251.9,926.4h1.66v3.6h-1.66zM253.5,929.7h1.53v0.3h-1.53zM255.0,929.9h1.40v4.1h-1.40zM256.3,929.9h1.51v4.4h-1.51zM257.8,929.2h1.78v0.8h-1.78zM259.5,929.7h1.44v0.2h-1.44zM260.9,929.9h1.76v6.1h-1.76zM262.6,925.0h1.91v4.9h-1.91zM264.5,929.7h1.14v0.3h-1.14zM265.6,929.9h1.87v0.9h-1.87zM267.4,929.9h1.32v1.1h-1.32zM270.3,927.8h1.19v2.1h-1.19zM274.1,929.9h1.46v4.2h-1.46zM275.5,929.7h1.69v0.3h-1.69zM277.1,929.9h1.30v5.6h-1.30zM278.4,929.9h1.34v3.9h-1.34zM279.7,929.9h1.88v3.3h-1.88zM281.5,929.9h1.59v2.5h-1.59zM283.1,929.9h1.60v0.9h-1.60zM285.8,929.5h1.85v0.4h-1.85zM287.6,929.3h1.44v0.6h-1.44zM290.4,929.9h1.95v5.5h-1.95zM292.3,929.9h1.98v0.6h-1.98zM294.2,929.9h1.37v0.7h-1.37zM295.5,927.5h1.87v2.4h-1.87zM297.4,925.1h1.37v4.8h-1.37zM298.7,929.9h1.74v2.9h-1.74zM300.4,925.3h1.47v4.7h-1.47zM301.8,929.9h1.94v3.4h-1.94zM303.7,929.9h1.92v4.4h-1.92zM305.5,929.9h1.77v0.4h-1.77zM307.3,929.9h1.21v4.6h-1.21zM308.4,929.9h1.22v2.3h-1.22zM309.6,929.9h1.85v5.6h-1.85zM311.4,929.9h1.79v1.0h-1.79zM314.6,927.2h1.40v2.7h-1.40zM315.9,929.5h1.88v0.4h-1.88zM317.8,929.9h1.85v6.4h-1.85zM321.2,929.9h1.89v0.7h-1.89zM324.9,927.0h1.19v3.0h-1.19zM326.0,929.9h1.32v1.1h-1.32zM327.3,929.9h1.60v0.4h-1.60zM328.8,929.9h1.20v5.1h-1.20zM331.8,929.9h1.72v3.8h-1.72zM333.5,924.6h1.65v5.3h-1.65zM335.1,929.3h1.58v0.7h-1.58zM336.6,929.9h1.24v1.6h-1.24zM337.8,925.7h1.37v4.2h-1.37zM339.2,929.9h1.98v1.9h-1.98zM341.1,929.9h2.00v3.4h-2.00zM343.0,928.1h1.98v1.9h-1.98zM345.0,928.1h1.84v1.8h-1.84zM348.5,928.0h1.64v2.0h-1.64zM350.1,929.9h1.42v5.0h-1.42zM353.7,928.7h1.33v1.2h-1.33zM355.0,929.0h1.68v0.9h-1.68zM356.6,929.6h1.62v0.4h-1.62zM359.4,929.9h1.64v1.8h-1.64zM361.0,928.1h1.67v1.8h-1.67zM364.0,929.6h1.45v0.3h-1.45zM365.4,929.9h1.14v4.0h-1.14zM366.5,926.2h1.41v3.7h-1.41zM367.8,929.9h1.70v1.6h-1.70zM369.5,927.7h1.50v2.3h-1.50zM370.9,929.9h1.89v2.4h-1.89zM372.8,929.7h1.87v0.2h-1.87zM374.6,929.9h1.92v5.1h-1.92zM376.5,929.9h1.97v2.3h-1.97zM378.4,929.9h1.65v0.6h-1.65zM381.9,929.9h1.22v0.4h-1.22zM383.0,929.9h1.84v3.2h-1.84zM384.8,929.9h1.79v1.0h-1.79zM386.6,929.9h1.62v5.1h-1.62zM388.1,929.9h1.38v0.7h-1.38zM389.5,929.9h1.77v6.4h-1.77zM391.2,927.9h1.97v2.0h-1.97zM393.1,929.9h1.22v1.5h-1.22zM394.3,929.9h1.94v5.9h-1.94zM397.9,929.7h1.83v0.2h-1.83zM399.7,929.9h1.26v3.2h-1.26zM400.9,928.3h1.40v1.6h-1.40zM402.2,929.1h1.30v0.8h-1.30zM404.7,929.9h1.48v5.9h-1.48zM406.1,929.9h1.59v1.5h-1.59zM407.7,929.2h1.42v0.7h-1.42zM409.0,929.9h1.78v0.8h-1.78zM410.8,924.7h1.21v5.3h-1.21zM411.9,926.6h1.96v3.3h-1.96zM413.8,927.2h1.72v2.8h-1.72zM415.5,929.9h1.96v4.8h-1.96zM417.4,929.0h1.26v0.9h-1.26zM418.6,929.9h1.64v0.6h-1.64zM421.5,929.9h1.49v3.3h-1.49zM422.9,929.9h1.91v2.5h-1.91zM424.8,929.9h1.55v0.7h-1.55zM426.3,924.6h1.33v5.4h-1.33zM427.6,929.9h1.30v0.5h-1.30zM428.8,929.5h1.98v0.4h-1.98zM430.7,929.9h1.21v2.6h-1.21zM431.9,929.9h1.94v1.9h-1.94zM433.8,929.9h1.39v5.4h-1.39zM435.1,929.9h1.41v2.5h-1.41zM436.5,929.2h1.46v0.7h-1.46zM437.9,929.9h1.22v6.8h-1.22zM440.3,926.1h1.97v3.8h-1.97zM442.2,929.9h1.96v6.1h-1.96zM445.5,929.9h1.78v1.0h-1.78zM447.3,929.9h1.91v1.7h-1.91zM449.1,929.6h1.15v0.3h-1.15zM450.2,929.9h1.76v1.5h-1.76zM454.6,929.5h1.76v0.4h-1.76zM456.3,929.9h1.77v1.9h-1.77zM458.0,929.9h1.35v4.5h-1.35zM459.3,929.9h1.11v3.4h-1.11zM460.4,929.9h1.78v5.2h-1.78zM462.1,929.9h1.64v1.4h-1.64zM463.7,929.9h1.38v1.8h-1.38zM465.0,928.6h1.43v1.3h-1.43zM466.4,929.9h1.69v1.2h-1.69zM468.1,929.9h1.46v4.6h-1.46zM469.5,929.7h1.40v0.2h-1.40zM470.8,929.9h1.44v6.4h-1.44zM472.2,929.9h1.75v0.6h-1.75zM473.9,929.9h1.89v1.9h-1.89zM477.3,929.9h1.34v4.9h-1.34zM479.7,929.7h1.72v0.2h-1.72zM482.7,927.8h1.35v2.1h-1.35zM484.0,929.9h1.61v3.7h-1.61zM485.5,929.9h1.38v3.6h-1.38zM486.9,928.6h2.00v1.4h-2.00zM491.7,929.9h1.29v4.8h-1.29zM492.9,929.9h1.59v0.5h-1.59zM494.5,929.2h1.16v0.8h-1.16zM496.7,929.9h1.77v1.3h-1.77zM498.4,929.9h1.66v0.6h-1.66zM500.0,929.9h1.66v2.2h-1.66zM502.7,927.6h1.75v2.3h-1.75zM505.8,929.9h1.56v2.6h-1.56zM507.3,929.9h1.62v6.9h-1.62zM508.9,929.9h1.56v0.7h-1.56zM510.4,929.9h1.38v2.1h-1.38zM511.7,929.5h1.55v0.4h-1.55zM513.2,929.0h1.65v0.9h-1.65zM514.8,929.9h1.64v2.1h-1.64zM516.4,929.9h1.11v0.4h-1.11zM517.4,929.4h1.23v0.5h-1.23zM518.6,929.3h1.55v0.6h-1.55zM521.5,928.8h1.67v1.1h-1.67zM523.1,928.6h1.61v1.4h-1.61zM524.6,929.1h1.21v0.8h-1.21zM527.1,929.9h1.22v1.2h-1.22zM528.2,924.9h1.56v5.0h-1.56zM529.8,924.0h1.51v5.9h-1.51zM531.2,926.5h1.17v3.5h-1.17zM532.3,929.9h1.53v4.7h-1.53zM533.8,929.7h1.28v0.3h-1.28zM535.0,929.9h1.46v3.4h-1.46zM536.5,926.7h1.34v3.3h-1.34zM537.7,929.9h1.32v5.6h-1.32zM539.0,929.9h1.27v2.9h-1.27zM540.2,929.9h1.84v3.6h-1.84zM543.6,929.9h1.61v4.1h-1.61zM545.2,929.9h1.52v6.8h-1.52zM546.7,929.9h1.38v1.0h-1.38zM549.5,929.9h1.79v5.9h-1.79zM551.2,928.9h1.54v1.0h-1.54zM552.7,926.9h1.89v3.1h-1.89zM554.5,929.9h1.36v0.6h-1.36zM559.2,928.4h1.66v1.5h-1.66zM562.3,929.9h1.99v2.0h-1.99zM564.2,929.9h1.38v1.2h-1.38zM566.9,928.3h1.40v1.6h-1.40zM568.2,929.9h1.92v1.5h-1.92zM570.1,928.1h1.38v1.8h-1.38zM571.4,929.9h1.80v4.2h-1.80zM573.2,928.4h1.95v1.6h-1.95zM576.3,929.9h1.66v5.2h-1.66zM577.9,929.9h1.52v6.7h-1.52zM580.7,929.9h1.25v3.2h-1.25zM581.9,929.9h1.39v4.8h-1.39zM583.3,929.9h1.48v0.6h-1.48zM584.7,929.9h1.73v0.5h-1.73zM586.4,929.9h1.51v0.4h-1.51zM587.8,929.9h1.53v0.4h-1.53zM589.3,929.9h1.86v3.1h-1.86zM592.8,929.9h1.31v5.7h-1.31zM594.1,929.9h1.26v1.8h-1.26zM595.3,929.9h1.79v4.6h-1.79zM597.0,929.9h1.50v6.2h-1.50zM598.5,929.9h1.83v4.4h-1.83zM600.2,929.6h1.13v0.3h-1.13zM602.7,929.9h1.36v1.9h-1.36zM605.5,929.3h1.34v0.6h-1.34zM606.8,929.9h1.16v6.3h-1.16zM607.9,924.5h1.45v5.4h-1.45zM609.3,924.0h1.64v5.9h-1.64zM612.3,927.4h1.55v2.6h-1.55zM613.9,926.1h1.51v3.8h-1.51zM615.3,929.9h1.94v5.7h-1.94zM617.2,929.9h1.44v4.2h-1.44zM618.6,929.9h1.75v3.9h-1.75zM620.3,929.9h1.72v2.1h-1.72zM622.0,929.7h1.94v0.2h-1.94zM623.9,929.9h1.47v1.4h-1.47zM625.3,929.9h1.78v3.7h-1.78zM627.0,929.9h1.76v0.6h-1.76zM628.7,926.8h1.52v3.1h-1.52zM630.2,929.9h1.36v3.9h-1.36zM631.5,927.0h1.11v2.9h-1.11zM632.6,929.9h1.58v4.5h-1.58zM634.1,927.1h1.62v2.8h-1.62zM635.7,925.7h1.18v4.2h-1.18zM636.8,928.4h1.37v1.5h-1.37zM638.1,929.9h1.13v2.3h-1.13zM639.2,929.9h1.81v2.3h-1.81zM642.1,928.9h1.67v1.1h-1.67zM643.7,929.9h1.93v0.5h-1.93zM645.6,924.4h1.82v5.6h-1.82zM647.4,929.5h1.67v0.5h-1.67zM649.0,925.6h1.34v4.3h-1.34zM650.3,929.9h1.89v6.6h-1.89zM652.1,928.2h1.96v1.7h-1.96zM654.0,929.9h1.90v0.4h-1.90zM655.9,929.9h1.42v4.9h-1.42zM657.2,929.0h1.55v1.0h-1.55zM658.7,928.9h1.68v1.1h-1.68zM660.4,925.0h1.84v4.9h-1.84zM662.2,929.9h1.19v5.0h-1.19z" fill="#3a3a3a"/>
<rect x="268.38" y="929.93" width="1.60" height="29.32" fill="#3a3a3a"/>
<rect x="286.19" y="916.23" width="1.60" height="13.70" fill="#3a3a3a"/>
<line x1="193.29" y1="1003.63" x2="663.70" y2="1003.63" stroke="#555" stroke-width="0.7"/>
<path d="M193.3,1003.6h1.77v9.7h-1.77zM195.0,1003.6h1.84v9.0h-1.84zM196.8,1003.6h1.46v7.4h-1.46zM198.2,1003.6h1.84v9.1h-1.84zM200.0,1003.6h2.32v7.5h-2.32zM202.3,1003.6h1.74v9.5h-1.74zM204.0,1003.6h2.03v7.3h-2.03zM205.9,1003.6h2.03v8.7h-2.03zM207.9,1003.6h1.48v9.2h-1.48zM209.4,1003.6h2.02v7.6h-2.02zM211.3,1003.6h1.90v9.4h-1.90zM213.2,1003.6h1.43v8.2h-1.43zM214.6,1003.6h2.12v9.1h-2.12zM216.6,1003.6h2.47v7.9h-2.47zM219.1,1003.6h1.65v11.9h-1.65zM220.7,1003.6h1.50v8.0h-1.50zM222.1,1003.6h2.35v10.9h-2.35zM224.4,1003.6h1.63v9.7h-1.63zM226.0,1003.6h2.45v9.5h-2.45zM228.4,1003.6h2.44v8.8h-2.44zM230.8,1003.6h0.09v10.4h-0.09z" fill="#ee4d23"/>
<path d="M233.9,1003.4h1.49v0.2h-1.49zM235.3,1003.6h1.85v1.8h-1.85zM241.9,1000.5h1.18v3.1h-1.18zM246.6,999.8h1.41v3.8h-1.41zM254.6,1003.0h1.46v0.7h-1.46zM259.3,1003.5h1.27v0.1h-1.27zM261.7,1001.8h1.24v1.8h-1.24zM262.9,1003.6h1.91v0.7h-1.91zM271.6,1003.3h1.39v0.3h-1.39zM280.7,1003.5h1.69v0.1h-1.69zM282.3,1002.3h1.44v1.3h-1.44zM288.9,1000.8h1.35v2.8h-1.35zM301.3,1000.0h1.60v3.7h-1.60zM304.2,1002.1h1.97v1.5h-1.97zM311.6,1003.6h1.75v0.2h-1.75zM313.3,1003.6h1.29v1.4h-1.29zM316.2,1003.6h1.86v1.0h-1.86zM332.9,1001.0h1.70v2.6h-1.70zM336.3,1003.5h1.62v0.2h-1.62zM339.0,999.7h1.69v3.9h-1.69zM340.7,1002.6h1.11v1.0h-1.11zM352.1,1002.8h1.10v0.9h-1.10zM354.3,1002.0h1.72v1.6h-1.72zM359.3,1001.3h1.80v2.3h-1.80zM364.1,1003.6h1.80v1.6h-1.80zM373.1,1003.6h1.89v1.9h-1.89zM379.9,1003.2h1.84v0.4h-1.84zM381.7,1003.6h1.72v0.3h-1.72zM383.4,1003.6h1.96v1.4h-1.96zM386.7,1003.6h1.44v0.2h-1.44zM392.3,1001.6h1.61v2.0h-1.61zM403.3,1003.6h1.40v0.5h-1.40zM404.7,1003.6h1.26v0.7h-1.26zM410.1,1002.3h1.86v1.3h-1.86zM411.9,1002.5h1.46v1.1h-1.46zM416.1,1001.0h1.52v2.6h-1.52zM417.6,1003.6h1.75v0.9h-1.75zM419.3,1003.5h1.38v0.2h-1.38zM420.6,1003.1h1.68v0.5h-1.68zM423.5,1001.2h1.18v2.5h-1.18zM426.2,1002.0h1.98v1.7h-1.98zM440.6,1003.0h1.13v0.6h-1.13zM441.7,1003.6h1.81v1.1h-1.81zM452.8,1003.6h1.34v0.7h-1.34zM454.1,1003.0h1.84v0.6h-1.84zM463.7,1003.6h1.29v0.9h-1.29zM466.2,1003.4h1.34v0.2h-1.34zM467.5,1003.6h1.25v1.1h-1.25zM468.7,1002.3h1.75v1.3h-1.75zM478.8,1003.4h1.22v0.2h-1.22zM481.4,1003.6h1.49v0.6h-1.49zM482.9,1002.7h1.35v0.9h-1.35zM485.6,1003.1h1.63v0.5h-1.63zM489.1,1003.3h1.19v0.3h-1.19zM493.5,1001.8h1.91v1.8h-1.91zM509.2,1003.6h1.76v1.3h-1.76zM510.9,1003.6h1.89v1.6h-1.89zM522.4,1003.6h1.76v1.3h-1.76zM530.2,1003.6h1.83v0.1h-1.83zM532.0,1003.5h1.71v0.1h-1.71zM538.9,1001.0h1.40v2.6h-1.40zM541.8,1003.6h1.17v1.0h-1.17zM553.8,1003.6h1.85v1.6h-1.85zM555.6,999.9h1.57v3.7h-1.57zM557.2,1002.9h2.00v0.7h-2.00zM565.4,1001.1h1.96v2.5h-1.96zM567.3,1003.6h1.28v1.4h-1.28zM571.4,1003.5h1.25v0.1h-1.25zM575.7,1003.5h1.27v0.1h-1.27zM585.5,1000.8h1.45v2.8h-1.45zM586.9,1003.6h1.18v1.5h-1.18zM588.0,1003.4h1.98v0.2h-1.98zM596.1,1001.2h1.60v2.4h-1.60zM597.6,1002.8h1.82v0.9h-1.82zM599.4,1003.4h1.88v0.2h-1.88zM601.2,1000.2h1.95v3.5h-1.95zM603.1,1003.6h1.83v1.3h-1.83zM604.9,1003.0h1.58v0.6h-1.58zM609.2,999.7h1.96v4.0h-1.96zM611.1,1001.6h1.86v2.0h-1.86zM618.2,1001.3h1.39v2.4h-1.39zM622.6,1003.6h1.85v0.3h-1.85zM629.3,1003.2h1.83v0.4h-1.83zM632.7,1002.6h1.55v1.0h-1.55zM634.2,1001.9h1.33v1.7h-1.33zM647.4,1003.3h1.12v0.4h-1.12zM649.5,1003.0h1.36v0.7h-1.36zM652.6,1003.6h1.76v2.0h-1.76zM657.4,1003.6h1.66v0.9h-1.66zM659.0,1001.1h1.72v2.6h-1.72zM660.7,1002.2h1.73v1.5h-1.73z" fill="#3a3a3a"/>
<rect x="268.38" y="1003.63" width="1.60" height="13.15" fill="#3a3a3a"/>
<text x="212.2" y="1059.0" font-size="15.6" text-anchor="middle" class="r k">1</text>
<text x="246.4" y="1051.1" font-size="15.6" text-anchor="middle" class="r k">2</text>
<text x="280.7" y="1059.0" font-size="15.6" text-anchor="middle" class="r k">3</text>
<text x="310.8" y="1051.1" font-size="15.6" text-anchor="middle" class="r k">4</text>
<text x="339.9" y="1059.0" font-size="15.6" text-anchor="middle" class="r k">5</text>
<text x="368.9" y="1051.1" font-size="15.6" text-anchor="middle" class="r k">6</text>
<text x="397.9" y="1059.0" font-size="15.6" text-anchor="middle" class="r k">7</text>
<text x="424.2" y="1051.1" font-size="15.6" text-anchor="middle" class="r k">8</text>
<text x="447.8" y="1059.0" font-size="15.6" text-anchor="middle" class="r k">9</text>
<text x="473.3" y="1051.1" font-size="15.6" text-anchor="middle" class="r k">10</text>
<text x="498.8" y="1059.0" font-size="15.6" text-anchor="middle" class="r k">11</text>
<text x="521.2" y="1051.1" font-size="15.6" text-anchor="middle" class="r k">12</text>
<text x="544.5" y="1059.0" font-size="15.6" text-anchor="middle" class="r k">13</text>
<text x="567.8" y="1051.1" font-size="15.6" text-anchor="middle" class="r k">14</text>
<text x="589.2" y="1059.0" font-size="15.6" text-anchor="middle" class="r k">15</text>
<text x="608.4" y="1051.1" font-size="15.6" text-anchor="middle" class="r k">16</text>
<text x="627.3" y="1059.0" font-size="15.6" text-anchor="middle" class="r k">17</text>
<text x="644.5" y="1051.1" font-size="15.6" text-anchor="middle" class="r k">18</text>
<text x="660.1" y="1059.0" font-size="15.6" text-anchor="middle" class="r k">19</text>
<text x="65.7" y="862.9" font-size="21" textLength="89.7" lengthAdjust="spacingAndGlyphs" class="r k">Tumor #1</text>
<text x="65.7" y="935.9" font-size="21" textLength="89.7" lengthAdjust="spacingAndGlyphs" class="r k">Tumor #2</text>
<text x="65.7" y="1009.5" font-size="21" textLength="89.7" lengthAdjust="spacingAndGlyphs" class="r k">Tumor #3</text>
<text x="51.4" y="1055.7" font-size="21" textLength="104.0" lengthAdjust="spacingAndGlyphs" class="r k">Mouse chr.</text>
<text x="4.6" y="1106.0" font-size="21" textLength="150.8" lengthAdjust="spacingAndGlyphs" class="r k">Syntenic human</text>
<text x="4.1" y="1122.4" font-size="21" textLength="151.3" lengthAdjust="spacingAndGlyphs" class="r k">loci to recurrent</text>
<text x="38.1" y="1139.0" font-size="21" textLength="117.3" lengthAdjust="spacingAndGlyphs" class="r k">mouse CNAs</text>
<text x="106.9" y="1155.7" font-size="21" textLength="48.5" lengthAdjust="spacingAndGlyphs" class="r k">(n=7)</text>
<text x="12.5" y="1219.9" font-size="21" textLength="142.9" lengthAdjust="spacingAndGlyphs" class="r k">CNAs in human</text>
<text x="16.9" y="1238.0" font-size="21" textLength="138.5" lengthAdjust="spacingAndGlyphs" class="r k">tumors (n= 65)</text>
<text x="48.3" y="1301.2" font-size="21" textLength="107.1" lengthAdjust="spacingAndGlyphs" class="r k">Human chr.</text>
<text x="398.7" y="820.3" font-size="20.3" text-anchor="middle" font-weight="bold" textLength="180.6" lengthAdjust="spacingAndGlyphs" class="b k">CPC - MYCN-driven</text>
<text x="0.5" y="825.6" font-size="35" font-weight="bold" class="b">c</text>
<line x1="239.86" y1="1091.03" x2="239.86" y2="1149.93" stroke="#bdbdbd" stroke-width="0.8" stroke-dasharray="1.2 1.2"/>
<line x1="239.86" y1="1180.07" x2="239.86" y2="1267.74" stroke="#bdbdbd" stroke-width="0.8" stroke-dasharray="1.2 1.2"/>
<line x1="280.41" y1="1091.03" x2="280.41" y2="1149.93" stroke="#bdbdbd" stroke-width="0.8" stroke-dasharray="1.2 1.2"/>
<line x1="280.41" y1="1180.07" x2="280.41" y2="1267.74" stroke="#bdbdbd" stroke-width="0.8" stroke-dasharray="1.2 1.2"/>
<line x1="313.29" y1="1091.03" x2="313.29" y2="1149.93" stroke="#bdbdbd" stroke-width="0.8" stroke-dasharray="1.2 1.2"/>
<line x1="313.29" y1="1180.07" x2="313.29" y2="1267.74" stroke="#bdbdbd" stroke-width="0.8" stroke-dasharray="1.2 1.2"/>
<line x1="344.79" y1="1091.03" x2="344.79" y2="1149.93" stroke="#bdbdbd" stroke-width="0.8" stroke-dasharray="1.2 1.2"/>
<line x1="344.79" y1="1180.07" x2="344.79" y2="1267.74" stroke="#bdbdbd" stroke-width="0.8" stroke-dasharray="1.2 1.2"/>
<line x1="374.66" y1="1091.03" x2="374.66" y2="1149.93" stroke="#bdbdbd" stroke-width="0.8" stroke-dasharray="1.2 1.2"/>
<line x1="374.66" y1="1180.07" x2="374.66" y2="1267.74" stroke="#bdbdbd" stroke-width="0.8" stroke-dasharray="1.2 1.2"/>
<line x1="402.05" y1="1091.03" x2="402.05" y2="1149.93" stroke="#bdbdbd" stroke-width="0.8" stroke-dasharray="1.2 1.2"/>
<line x1="402.05" y1="1180.07" x2="402.05" y2="1267.74" stroke="#bdbdbd" stroke-width="0.8" stroke-dasharray="1.2 1.2"/>
<line x1="428.63" y1="1091.03" x2="428.63" y2="1149.93" stroke="#bdbdbd" stroke-width="0.8" stroke-dasharray="1.2 1.2"/>
<line x1="428.63" y1="1180.07" x2="428.63" y2="1267.74" stroke="#bdbdbd" stroke-width="0.8" stroke-dasharray="1.2 1.2"/>
<line x1="452.74" y1="1091.03" x2="452.74" y2="1149.93" stroke="#bdbdbd" stroke-width="0.8" stroke-dasharray="1.2 1.2"/>
<line x1="452.74" y1="1180.07" x2="452.74" y2="1267.74" stroke="#bdbdbd" stroke-width="0.8" stroke-dasharray="1.2 1.2"/>
<line x1="476.03" y1="1091.03" x2="476.03" y2="1149.93" stroke="#bdbdbd" stroke-width="0.8" stroke-dasharray="1.2 1.2"/>
<line x1="476.03" y1="1180.07" x2="476.03" y2="1267.74" stroke="#bdbdbd" stroke-width="0.8" stroke-dasharray="1.2 1.2"/>
<line x1="499.32" y1="1091.03" x2="499.32" y2="1149.93" stroke="#bdbdbd" stroke-width="0.8" stroke-dasharray="1.2 1.2"/>
<line x1="499.32" y1="1180.07" x2="499.32" y2="1267.74" stroke="#bdbdbd" stroke-width="0.8" stroke-dasharray="1.2 1.2"/>
<line x1="520.41" y1="1091.03" x2="520.41" y2="1149.93" stroke="#bdbdbd" stroke-width="0.8" stroke-dasharray="1.2 1.2"/>
<line x1="520.41" y1="1180.07" x2="520.41" y2="1267.74" stroke="#bdbdbd" stroke-width="0.8" stroke-dasharray="1.2 1.2"/>
<line x1="542.33" y1="1091.03" x2="542.33" y2="1149.93" stroke="#bdbdbd" stroke-width="0.8" stroke-dasharray="1.2 1.2"/>
<line x1="542.33" y1="1180.07" x2="542.33" y2="1267.74" stroke="#bdbdbd" stroke-width="0.8" stroke-dasharray="1.2 1.2"/>
<line x1="561.51" y1="1091.03" x2="561.51" y2="1149.93" stroke="#bdbdbd" stroke-width="0.8" stroke-dasharray="1.2 1.2"/>
<line x1="561.51" y1="1180.07" x2="561.51" y2="1267.74" stroke="#bdbdbd" stroke-width="0.8" stroke-dasharray="1.2 1.2"/>
<line x1="579.04" y1="1091.03" x2="579.04" y2="1149.93" stroke="#bdbdbd" stroke-width="0.8" stroke-dasharray="1.2 1.2"/>
<line x1="579.04" y1="1180.07" x2="579.04" y2="1267.74" stroke="#bdbdbd" stroke-width="0.8" stroke-dasharray="1.2 1.2"/>
<line x1="596.58" y1="1091.03" x2="596.58" y2="1149.93" stroke="#bdbdbd" stroke-width="0.8" stroke-dasharray="1.2 1.2"/>
<line x1="596.58" y1="1180.07" x2="596.58" y2="1267.74" stroke="#bdbdbd" stroke-width="0.8" stroke-dasharray="1.2 1.2"/>
<line x1="610.82" y1="1091.03" x2="610.82" y2="1149.93" stroke="#bdbdbd" stroke-width="0.8" stroke-dasharray="1.2 1.2"/>
<line x1="610.82" y1="1180.07" x2="610.82" y2="1267.74" stroke="#bdbdbd" stroke-width="0.8" stroke-dasharray="1.2 1.2"/>
<line x1="624.52" y1="1091.03" x2="624.52" y2="1149.93" stroke="#bdbdbd" stroke-width="0.8" stroke-dasharray="1.2 1.2"/>
<line x1="624.52" y1="1180.07" x2="624.52" y2="1267.74" stroke="#bdbdbd" stroke-width="0.8" stroke-dasharray="1.2 1.2"/>
<line x1="637.12" y1="1091.03" x2="637.12" y2="1149.93" stroke="#bdbdbd" stroke-width="0.8" stroke-dasharray="1.2 1.2"/>
<line x1="637.12" y1="1180.07" x2="637.12" y2="1267.74" stroke="#bdbdbd" stroke-width="0.8" stroke-dasharray="1.2 1.2"/>
<line x1="646.44" y1="1091.03" x2="646.44" y2="1149.93" stroke="#bdbdbd" stroke-width="0.8" stroke-dasharray="1.2 1.2"/>
<line x1="646.44" y1="1180.07" x2="646.44" y2="1267.74" stroke="#bdbdbd" stroke-width="0.8" stroke-dasharray="1.2 1.2"/>
<line x1="657.40" y1="1091.03" x2="657.40" y2="1149.93" stroke="#bdbdbd" stroke-width="0.8" stroke-dasharray="1.2 1.2"/>
<line x1="657.40" y1="1180.07" x2="657.40" y2="1267.74" stroke="#bdbdbd" stroke-width="0.8" stroke-dasharray="1.2 1.2"/>
<line x1="665.62" y1="1091.03" x2="665.62" y2="1149.93" stroke="#bdbdbd" stroke-width="0.8" stroke-dasharray="1.2 1.2"/>
<line x1="665.62" y1="1180.07" x2="665.62" y2="1267.74" stroke="#bdbdbd" stroke-width="0.8" stroke-dasharray="1.2 1.2"/>
<line x1="673.84" y1="1091.03" x2="673.84" y2="1149.93" stroke="#bdbdbd" stroke-width="0.8" stroke-dasharray="1.2 1.2"/>
<line x1="673.84" y1="1180.07" x2="673.84" y2="1267.74" stroke="#bdbdbd" stroke-width="0.8" stroke-dasharray="1.2 1.2"/>
<rect x="224.52" y="1120.34" width="12.05" height="27.67" fill="#ee4d23"/>
<rect x="237.95" y="1120.34" width="2.47" height="27.67" fill="#ee4d23"/>
<rect x="256.03" y="1120.34" width="6.85" height="27.67" fill="#ee4d23"/>
<rect x="270.82" y="1120.34" width="9.59" height="27.67" fill="#ee4d23"/>
<rect x="359.86" y="1120.34" width="1.92" height="27.67" fill="#ee4d23"/>
<rect x="380.96" y="1120.34" width="5.21" height="27.67" fill="#ee4d23"/>
<rect x="436.03" y="1120.34" width="1.92" height="27.67" fill="#ee4d23"/>
<rect x="439.32" y="1120.34" width="1.64" height="27.67" fill="#ee4d23"/>
<rect x="558.22" y="1120.34" width="1.64" height="27.67" fill="#ee4d23"/>
<rect x="633.29" y="1120.34" width="1.64" height="27.67" fill="#ee4d23"/>
<line x1="199.32" y1="1120.34" x2="673.84" y2="1120.34" stroke="#1a1a1a" stroke-width="2.5"/>
<path d="M195.7,1087.5H199.3V1152.1H195.7" fill="none" stroke="#6e6e6e" stroke-width="0.9"/>
<text x="166.3" y="1090.3" font-size="17" textLength="28.3" lengthAdjust="spacingAndGlyphs" class="r k">100</text>
<text x="166.3" y="1159.9" font-size="17" textLength="28.3" lengthAdjust="spacingAndGlyphs" class="r k">100</text>
<text x="182.6" y="1123.7" font-size="17" text-anchor="middle" transform="rotate(-90 182.6 1123.7)" textLength="33.0" lengthAdjust="spacingAndGlyphs" class="r k">% in</text>
<text x="196.1" y="1119.6" font-size="17.3" text-anchor="middle" transform="rotate(-90 196.1 1119.6)" textLength="53.5" lengthAdjust="spacingAndGlyphs" class="r k">Mouse</text>
<path d="M200.1,1225.3V1176.8H200.9V1177.2H201.7V1177.4H202.5V1177.5H203.3V1177.2H204.1V1177.8H204.9V1176.8H205.7V1177.8H206.5V1177.3H207.3V1177.2H208.1V1176.6H208.9V1176.7H209.7V1178.0H210.5V1176.7H211.3V1177.3H212.1V1177.2H212.9V1177.8H213.7V1177.7H214.5V1177.5H215.3V1177.1H216.1V1177.8H216.9V1177.5H217.7V1176.7H218.5V1177.0H219.3V1177.9H220.1V1179.1H220.9V1178.6H221.7V1178.4H222.5V1178.6H223.3V1176.1H224.1V1175.7H224.9V1177.0H225.7V1175.9H226.5V1176.3H227.3V1176.9H228.1V1175.7H228.9V1176.1H229.7V1176.9H230.5V1175.7H231.3V1176.7H232.1V1176.5H232.9V1177.5H233.7V1177.0H234.5V1177.4H235.3V1177.8H236.1V1178.5H236.9V1179.6H237.7V1180.5H238.5V1180.8H239.3V1180.6H240.1V1182.6H240.9V1183.1H241.7V1183.4H242.5V1183.9H243.3V1184.5H244.1V1182.7H244.9V1182.9H245.7V1183.8H246.5V1183.3H247.3V1183.9H248.1V1183.0H248.9V1183.3H249.7V1183.8H250.5V1182.7H251.3V1182.6H252.1V1183.8H252.9V1183.4H253.7V1183.8H254.5V1184.0H255.3V1184.5H256.1V1186.0H256.9V1186.5H257.7V1187.7H258.5V1188.9H259.3V1190.7H260.1V1189.7H260.9V1190.9H261.7V1189.7H262.5V1190.2H263.3V1190.3H264.1V1190.8H264.9V1189.9H265.7V1189.7H266.5V1189.9H267.3V1190.6H268.1V1190.1H268.9V1190.8H269.7V1191.0H270.5V1190.4H271.3V1190.8H272.1V1192.1H272.9V1193.1H273.7V1194.1H274.5V1194.3H275.3V1195.0H276.1V1194.9H276.9V1195.8H277.7V1195.2H278.5V1195.5H279.3V1195.1H280.1V1223.6H280.9V1223.6H281.7V1223.9H282.5V1223.6H283.3V1224.1H284.1V1224.0H284.9V1224.0H285.7V1223.6H286.5V1223.7H287.3V1223.9H288.1V1223.7H288.9V1223.9H289.7V1223.8H290.5V1223.6H291.3V1223.7H292.1V1223.6H292.9V1224.3H293.7V1223.6H294.5V1223.6H295.3V1223.6H296.1V1224.1H296.9V1224.3H297.7V1223.8H298.5V1224.1H299.3V1223.8H300.1V1223.8H300.9V1224.2H301.7V1223.6H302.5V1224.1H303.3V1224.2H304.1V1224.2H304.9V1223.8H305.7V1223.8H306.5V1224.1H307.3V1224.3H308.1V1223.7H308.9V1223.8H309.7V1223.8H310.5V1223.6H311.3V1224.2H312.1V1224.0H312.9V1197.8H313.7V1198.0H314.5V1198.2H315.3V1196.9H316.1V1198.2H316.9V1198.2H317.7V1197.8H318.5V1197.9H319.3V1197.3H320.1V1197.5H320.9V1197.6H321.7V1197.5H322.5V1197.8H323.3V1197.4H324.1V1197.6H324.9V1198.8H325.7V1197.5H326.5V1198.0H327.3V1199.0H328.1V1197.7H328.9V1198.7H329.7V1198.1H330.5V1198.6H331.3V1198.1H332.1V1197.7H332.9V1197.7H333.7V1198.1H334.5V1198.3H335.3V1198.7H336.1V1197.7H336.9V1198.2H337.7V1197.3H338.5V1197.0H339.3V1197.3H340.1V1198.1H340.9V1197.8H341.7V1197.5H342.5V1196.8H343.3V1197.3H344.1V1197.7H344.9V1220.9H345.7V1220.8H346.5V1220.7H347.3V1220.6H348.1V1221.5H348.9V1220.9H349.7V1221.5H350.5V1220.9H351.3V1221.0H352.1V1222.0H352.9V1221.1H353.7V1221.9H354.5V1221.2H355.3V1221.3H356.1V1221.2H356.9V1221.4H357.7V1221.0H358.5V1222.5H359.3V1222.5H360.1V1222.5H360.9V1222.8H361.7V1222.4H362.5V1222.7H363.3V1221.8H364.1V1222.8H364.9V1223.2H365.7V1221.9H366.5V1223.2H367.3V1222.5H368.1V1223.3H368.9V1222.4H369.7V1222.9H370.5V1223.4H371.3V1223.1H372.1V1222.8H372.9V1223.4H373.7V1223.5H374.5V1223.9H375.3V1223.2H376.1V1223.0H376.9V1223.4H377.7V1223.9H378.5V1223.0H379.3V1223.1H380.1V1223.1H380.9V1223.6H381.7V1223.5H382.5V1223.6H383.3V1224.0H384.1V1223.4H384.9V1223.7H385.7V1223.9H386.5V1224.0H387.3V1223.8H388.1V1223.8H388.9V1223.2H389.7V1224.0H390.5V1223.3H391.3V1223.9H392.1V1223.6H392.9V1223.3H393.7V1223.8H394.5V1223.6H395.3V1223.4H396.1V1223.8H396.9V1223.7H397.7V1224.0H398.5V1223.8H399.3V1224.0H400.1V1223.6H400.9V1223.5H401.7V1208.2H402.5V1207.4H403.3V1208.3H404.1V1208.6H404.9V1207.3H405.7V1207.5H406.5V1207.9H407.3V1207.6H408.1V1207.9H408.9V1207.8H409.7V1208.3H410.5V1208.1H411.3V1207.6H412.1V1208.5H412.9V1204.0H413.7V1205.0H414.5V1204.9H415.3V1204.3H416.1V1204.9H416.9V1203.7H417.7V1203.5H418.5V1204.6H419.3V1204.1H420.1V1203.8H420.9V1203.3H421.7V1203.6H422.5V1204.5H423.3V1203.8H424.1V1204.1H424.9V1203.1H425.7V1203.8H426.5V1203.1H427.3V1202.9H428.1V1203.9H428.9V1206.8H429.7V1206.9H430.5V1206.8H431.3V1207.7H432.1V1207.7H432.9V1207.0H433.7V1206.9H434.5V1207.8H435.3V1209.5H436.1V1208.8H436.9V1209.0H437.7V1209.9H438.5V1209.7H439.3V1210.1H440.1V1209.2H440.9V1210.1H441.7V1209.0H442.5V1210.1H443.3V1209.8H444.1V1209.6H444.9V1209.6H445.7V1208.6H446.5V1210.1H447.3V1209.8H448.1V1209.8H448.9V1209.8H449.7V1209.8H450.5V1209.3H451.3V1208.6H452.1V1209.1H452.9V1210.7H453.7V1210.4H454.5V1212.1H455.3V1212.4H456.1V1213.2H456.9V1215.3H457.7V1215.5H458.5V1216.7H459.3V1217.2H460.1V1219.1H460.9V1219.9H461.7V1220.4H462.5V1220.2H463.3V1221.5H464.1V1221.5H464.9V1221.0H465.7V1221.2H466.5V1220.8H467.3V1220.8H468.1V1220.6H468.9V1221.9H469.7V1221.7H470.5V1220.8H471.3V1221.1H472.1V1222.1H472.9V1221.9H473.7V1222.1H474.5V1222.4H475.3V1209.3H476.1V1209.1H476.9V1209.3H477.7V1209.0H478.5V1208.6H479.3V1208.5H480.1V1209.1H480.9V1208.3H481.7V1208.5H482.5V1208.6H483.3V1208.6H484.1V1208.2H484.9V1208.5H485.7V1207.4H486.5V1207.4H487.3V1207.1H488.1V1207.5H488.9V1207.8H489.7V1207.5H490.5V1206.7H491.3V1206.8H492.1V1206.6H492.9V1206.2H493.7V1206.8H494.5V1206.7H495.3V1206.4H496.1V1206.4H496.9V1206.4H497.7V1209.0H498.5V1218.2H499.3V1222.9H500.1V1223.3H500.9V1223.1H501.7V1222.7H502.5V1223.4H503.3V1222.2H504.1V1223.1H504.9V1222.8H505.7V1223.1H506.5V1222.7H507.3V1223.4H508.1V1223.0H508.9V1223.3H509.7V1222.9H510.5V1223.2H511.3V1222.9H512.1V1223.2H512.9V1223.5H513.7V1223.9H514.5V1223.5H515.3V1223.5H516.1V1223.3H516.9V1224.0H517.7V1224.0H518.5V1224.1H519.3V1223.8H520.1V1170.5H520.9V1171.4H521.7V1171.9H522.5V1172.8H523.3V1173.4H524.1V1172.6H524.9V1173.9H525.7V1174.0H526.5V1173.1H527.3V1173.0H528.1V1172.7H528.9V1172.9H529.7V1174.3H530.5V1172.9H531.3V1173.1H532.1V1173.9H532.9V1173.5H533.7V1173.7H534.5V1173.9H535.3V1174.3H536.1V1173.3H536.9V1174.3H537.7V1174.1H538.5V1173.6H539.3V1173.6H540.1V1174.5H540.9V1174.8H541.7V1206.4H542.5V1224.4H543.3V1224.4H544.1V1224.4H544.9V1224.6H545.7V1211.0H546.5V1211.7H547.3V1210.9H548.1V1211.0H548.9V1211.4H549.7V1210.8H550.5V1211.9H551.3V1211.6H552.1V1211.8H552.9V1212.3H553.7V1214.0H554.5V1214.5H555.3V1214.4H556.1V1213.9H556.9V1214.5H557.7V1214.6H558.5V1214.6H559.3V1214.3H560.1V1214.9H560.9V1214.6H561.7V1224.7H562.5V1224.4H563.3V1224.5H564.1V1186.9H564.9V1185.7H565.7V1186.9H566.5V1186.2H567.3V1186.4H568.1V1186.9H568.9V1186.8H569.7V1186.8H570.5V1187.4H571.3V1186.3H572.1V1187.5H572.9V1186.6H573.7V1186.7H574.5V1186.5H575.3V1186.8H576.1V1187.3H576.9V1187.7H577.7V1186.7H578.5V1211.0H579.3V1224.5H580.1V1224.4H580.9V1224.3H581.7V1224.6H582.5V1209.5H583.3V1209.0H584.1V1208.2H584.9V1209.1H585.7V1208.1H586.5V1209.0H587.3V1208.6H588.1V1207.4H588.9V1207.9H589.7V1207.3H590.5V1207.2H591.3V1207.5H592.1V1207.2H592.9V1206.3H593.7V1205.7H594.5V1205.6H595.3V1212.6H596.1V1223.6H596.9V1223.7H597.7V1223.9H598.5V1223.8H599.3V1223.7H600.1V1223.6H600.9V1223.6H601.7V1224.3H602.5V1224.1H603.3V1223.6H604.1V1223.9H604.9V1224.3H605.7V1223.6H606.5V1224.1H607.3V1223.7H608.1V1223.6H608.9V1223.8H609.7V1224.2H610.5V1221.5H611.3V1220.7H612.1V1220.4H612.9V1221.6H613.7V1221.0H614.5V1221.1H615.3V1221.3H616.1V1221.3H616.9V1220.6H617.7V1220.4H618.5V1214.8H619.3V1215.9H620.1V1214.8H620.9V1214.5H621.7V1215.3H622.5V1215.4H623.3V1215.7H624.1V1214.5H624.9V1214.7H625.7V1215.3H626.5V1215.2H627.3V1215.2H628.1V1214.6H628.9V1214.8H629.7V1214.5H630.5V1214.1H631.3V1215.0H632.1V1214.4H632.9V1214.8H633.7V1214.9H634.5V1214.6H635.3V1214.2H636.1V1215.0H636.9V1218.0H637.7V1218.3H638.5V1218.5H639.3V1218.5H640.1V1218.9H640.9V1217.7H641.7V1217.9H642.5V1218.9H643.3V1218.7H644.1V1218.0H644.9V1218.4H645.7V1219.2H646.5V1165.6H647.3V1166.2H648.1V1165.5H648.9V1165.5H649.7V1166.2H650.5V1165.2H651.3V1165.8H652.1V1166.7H652.9V1166.3H653.7V1166.7H654.5V1166.9H655.3V1165.6H656.1V1165.8H656.9V1217.3H657.7V1224.5H658.5V1224.6H659.3V1191.5H660.1V1191.6H660.9V1190.4H661.7V1189.8H662.5V1189.7H663.3V1189.4H664.1V1188.8H664.9V1206.5H665.7V1224.1H666.5V1224.0H667.3V1223.3H668.1V1223.5H668.9V1223.0H669.7V1222.9H670.5V1222.9H671.3V1223.0H672.1V1223.2H672.9V1223.0H673.7V1223.4H673.8V1225.3ZM200.1,1225.3V1226.9H200.9V1226.6H201.7V1226.9H202.5V1226.4H203.3V1227.0H204.1V1226.4H204.9V1227.0H205.7V1226.6H206.5V1226.5H207.3V1226.4H208.1V1226.6H208.9V1226.7H209.7V1226.3H210.5V1226.8H211.3V1226.7H212.1V1226.3H212.9V1226.3H213.7V1226.5H214.5V1226.6H215.3V1226.4H216.1V1226.4H216.9V1226.9H217.7V1226.4H218.5V1226.3H219.3V1226.4H220.1V1226.9H220.9V1226.7H221.7V1226.3H222.5V1226.4H223.3V1226.8H224.1V1226.5H224.9V1226.3H225.7V1226.7H226.5V1226.5H227.3V1226.6H228.1V1226.5H228.9V1226.8H229.7V1226.8H230.5V1226.6H231.3V1226.8H232.1V1226.3H232.9V1226.5H233.7V1227.0H234.5V1227.0H235.3V1226.4H236.1V1226.4H236.9V1226.4H237.7V1226.8H238.5V1226.4H239.3V1226.7H240.1V1226.4H240.9V1227.2H241.7V1227.6H242.5V1227.4H243.3V1228.5H244.1V1228.4H244.9V1228.7H245.7V1227.9H246.5V1228.0H247.3V1228.1H248.1V1227.6H248.9V1227.5H249.7V1228.5H250.5V1228.6H251.3V1227.6H252.1V1227.8H252.9V1228.3H253.7V1228.0H254.5V1227.2H255.3V1227.0H256.1V1227.1H256.9V1226.9H257.7V1226.5H258.5V1226.5H259.3V1226.7H260.1V1226.9H260.9V1226.5H261.7V1226.4H262.5V1226.5H263.3V1226.5H264.1V1226.4H264.9V1226.4H265.7V1226.9H266.5V1226.6H267.3V1226.9H268.1V1226.5H268.9V1226.7H269.7V1226.7H270.5V1226.4H271.3V1226.8H272.1V1226.8H272.9V1226.8H273.7V1226.5H274.5V1226.4H275.3V1226.6H276.1V1227.0H276.9V1226.9H277.7V1226.7H278.5V1226.3H279.3V1226.7H280.1V1240.6H280.9V1240.6H281.7V1240.5H282.5V1241.8H283.3V1240.4H284.1V1240.4H284.9V1241.2H285.7V1241.0H286.5V1241.4H287.3V1240.9H288.1V1241.0H288.9V1241.4H289.7V1241.7H290.5V1241.0H291.3V1240.2H292.1V1240.6H292.9V1241.5H293.7V1240.4H294.5V1240.9H295.3V1241.2H296.1V1240.4H296.9V1240.7H297.7V1241.2H298.5V1240.5H299.3V1241.0H300.1V1241.2H300.9V1240.8H301.7V1239.9H302.5V1240.6H303.3V1240.0H304.1V1241.1H304.9V1240.8H305.7V1240.5H306.5V1240.3H307.3V1240.9H308.1V1240.1H308.9V1240.2H309.7V1240.4H310.5V1240.2H311.3V1239.9H312.1V1240.0H312.9V1231.3H313.7V1231.7H314.5V1232.2H315.3V1232.4H316.1V1231.7H316.9V1231.8H317.7V1231.8H318.5V1231.4H319.3V1232.0H320.1V1231.5H320.9V1232.2H321.7V1232.4H322.5V1231.6H323.3V1231.8H324.1V1233.0H324.9V1232.7H325.7V1231.8H326.5V1232.2H327.3V1231.9H328.1V1232.7H328.9V1232.8H329.7V1232.1H330.5V1233.2H331.3V1233.2H332.1V1232.5H332.9V1232.1H333.7V1232.4H334.5V1233.1H335.3V1233.4H336.1V1232.4H336.9V1232.2H337.7V1233.2H338.5V1232.7H339.3V1233.6H340.1V1233.6H340.9V1233.6H341.7V1232.8H342.5V1232.8H343.3V1233.6H344.1V1233.0H344.9V1246.0H345.7V1243.8H346.5V1243.2H347.3V1243.4H348.1V1241.2H348.9V1241.6H349.7V1240.1H350.5V1240.4H351.3V1240.3H352.1V1239.8H352.9V1239.8H353.7V1240.7H354.5V1240.4H355.3V1239.8H356.1V1240.5H356.9V1240.4H357.7V1239.9H358.5V1240.1H359.3V1240.1H360.1V1239.7H360.9V1241.1H361.7V1240.6H362.5V1240.2H363.3V1240.5H364.1V1239.8H364.9V1239.9H365.7V1239.6H366.5V1241.0H367.3V1240.9H368.1V1240.1H368.9V1240.1H369.7V1240.6H370.5V1240.4H371.3V1240.1H372.1V1239.7H372.9V1240.5H373.7V1241.1H374.5V1248.1H375.3V1248.1H376.1V1248.6H376.9V1247.5H377.7V1247.6H378.5V1247.9H379.3V1248.4H380.1V1248.3H380.9V1248.0H381.7V1247.8H382.5V1247.8H383.3V1247.4H384.1V1248.1H384.9V1247.6H385.7V1252.5H386.5V1251.8H387.3V1252.6H388.1V1251.5H388.9V1252.7H389.7V1252.6H390.5V1252.4H391.3V1253.1H392.1V1252.1H392.9V1252.1H393.7V1252.6H394.5V1252.0H395.3V1253.6H396.1V1252.9H396.9V1252.6H397.7V1253.5H398.5V1253.6H399.3V1254.0H400.1V1253.7H400.9V1252.8H401.7V1231.1H402.5V1230.8H403.3V1231.6H404.1V1230.4H404.9V1231.1H405.7V1231.7H406.5V1230.4H407.3V1230.5H408.1V1230.6H408.9V1232.0H409.7V1231.1H410.5V1231.1H411.3V1231.3H412.1V1231.9H412.9V1230.9H413.7V1231.1H414.5V1232.4H415.3V1231.6H416.1V1232.5H416.9V1231.9H417.7V1231.7H418.5V1231.9H419.3V1231.4H420.1V1232.2H420.9V1232.7H421.7V1232.1H422.5V1232.3H423.3V1231.8H424.1V1231.7H424.9V1232.8H425.7V1231.7H426.5V1231.9H427.3V1232.1H428.1V1232.0H428.9V1234.7H429.7V1234.5H430.5V1234.3H431.3V1235.7H432.1V1234.6H432.9V1235.1H433.7V1235.8H434.5V1234.8H435.3V1236.0H436.1V1235.3H436.9V1235.2H437.7V1235.3H438.5V1235.1H439.3V1235.2H440.1V1235.2H440.9V1235.4H441.7V1235.3H442.5V1236.2H443.3V1235.2H444.1V1236.5H444.9V1235.7H445.7V1235.9H446.5V1236.1H447.3V1236.1H448.1V1235.9H448.9V1236.4H449.7V1236.2H450.5V1236.0H451.3V1236.6H452.1V1235.8H452.9V1239.8H453.7V1239.9H454.5V1240.2H455.3V1240.6H456.1V1240.5H456.9V1240.8H457.7V1240.5H458.5V1241.5H459.3V1240.9H460.1V1241.6H460.9V1241.7H461.7V1240.9H462.5V1241.9H463.3V1242.1H464.1V1242.2H464.9V1241.1H465.7V1242.1H466.5V1241.4H467.3V1241.8H468.1V1242.2H468.9V1242.3H469.7V1242.4H470.5V1242.8H471.3V1242.8H472.1V1242.2H472.9V1242.0H473.7V1242.1H474.5V1242.7H475.3V1232.0H476.1V1232.0H476.9V1232.7H477.7V1231.8H478.5V1232.2H479.3V1231.6H480.1V1231.7H480.9V1231.8H481.7V1232.4H482.5V1231.2H483.3V1231.1H484.1V1230.9H484.9V1232.3H485.7V1231.3H486.5V1230.9H487.3V1231.7H488.1V1231.0H488.9V1231.3H489.7V1231.6H490.5V1231.4H491.3V1231.4H492.1V1230.8H492.9V1231.4H493.7V1231.6H494.5V1230.8H495.3V1230.2H496.1V1230.6H496.9V1231.3H497.7V1230.3H498.5V1230.8H499.3V1242.4H500.1V1242.3H500.9V1242.6H501.7V1243.3H502.5V1242.2H503.3V1242.9H504.1V1243.5H504.9V1243.1H505.7V1243.7H506.5V1241.2H507.3V1240.2H508.1V1239.7H508.9V1238.5H509.7V1238.9H510.5V1238.4H511.3V1238.2H512.1V1238.1H512.9V1237.7H513.7V1238.4H514.5V1238.2H515.3V1237.8H516.1V1237.3H516.9V1238.7H517.7V1238.6H518.5V1237.7H519.3V1238.1H520.1V1226.7H520.9V1226.7H521.7V1226.7H522.5V1226.5H523.3V1226.4H524.1V1226.4H524.9V1226.6H525.7V1226.6H526.5V1226.4H527.3V1226.9H528.1V1226.7H528.9V1226.6H529.7V1226.8H530.5V1226.5H531.3V1227.0H532.1V1226.8H532.9V1226.6H533.7V1226.4H534.5V1226.8H535.3V1226.4H536.1V1226.3H536.9V1226.3H537.7V1226.3H538.5V1226.3H539.3V1226.9H540.1V1226.5H540.9V1226.9H541.7V1226.5H542.5V1226.4H543.3V1226.4H544.1V1236.1H544.9V1235.8H545.7V1235.3H546.5V1235.9H547.3V1235.7H548.1V1236.7H548.9V1236.9H549.7V1236.1H550.5V1236.6H551.3V1236.0H552.1V1236.2H552.9V1237.3H553.7V1237.4H554.5V1237.0H555.3V1236.4H556.1V1237.2H556.9V1238.1H557.7V1237.2H558.5V1237.4H559.3V1240.1H560.1V1241.4H560.9V1240.5H561.7V1227.0H562.5V1226.7H563.3V1226.3H564.1V1226.8H564.9V1226.9H565.7V1226.6H566.5V1226.6H567.3V1226.9H568.1V1227.0H568.9V1226.4H569.7V1226.3H570.5V1226.3H571.3V1226.9H572.1V1226.6H572.9V1226.8H573.7V1226.9H574.5V1226.8H575.3V1226.4H576.1V1226.9H576.9V1226.8H577.7V1226.6H578.5V1226.3H579.3V1226.6H580.1V1227.0H580.9V1226.6H581.7V1234.2H582.5V1235.4H583.3V1235.9H584.1V1235.6H584.9V1235.9H585.7V1236.1H586.5V1235.9H587.3V1235.5H588.1V1235.1H588.9V1236.2H589.7V1235.3H590.5V1234.8H591.3V1234.9H592.1V1235.3H592.9V1234.5H593.7V1234.6H594.5V1234.3H595.3V1235.6H596.1V1234.8H596.9V1243.2H597.7V1243.1H598.5V1242.6H599.3V1242.5H600.1V1242.7H600.9V1241.6H601.7V1242.4H602.5V1241.2H603.3V1241.0H604.1V1241.7H604.9V1242.0H605.7V1241.8H606.5V1241.6H607.3V1240.8H608.1V1241.3H608.9V1240.4H609.7V1240.0H610.5V1239.9H611.3V1240.3H612.1V1240.7H612.9V1239.4H613.7V1239.1H614.5V1239.3H615.3V1238.5H616.1V1238.5H616.9V1238.6H617.7V1238.8H618.5V1238.6H619.3V1238.9H620.1V1238.2H620.9V1238.5H621.7V1237.5H622.5V1237.9H623.3V1237.4H624.1V1242.8H624.9V1243.8H625.7V1243.7H626.5V1243.5H627.3V1243.4H628.1V1243.5H628.9V1242.1H629.7V1243.2H630.5V1242.1H631.3V1243.1H632.1V1242.5H632.9V1242.4H633.7V1243.3H634.5V1242.4H635.3V1242.7H636.1V1242.3H636.9V1241.5H637.7V1242.7H638.5V1242.1H639.3V1241.9H640.1V1242.8H640.9V1242.8H641.7V1242.6H642.5V1242.7H643.3V1242.6H644.1V1241.9H644.9V1242.5H645.7V1241.2H646.5V1226.2H647.3V1226.3H648.1V1226.3H648.9V1226.1H649.7V1226.0H650.5V1225.9H651.3V1226.1H652.1V1226.3H652.9V1225.9H653.7V1226.3H654.5V1226.1H655.3V1226.1H656.1V1226.2H656.9V1225.9H657.7V1226.0H658.5V1232.0H659.3V1231.7H660.1V1232.3H660.9V1231.7H661.7V1231.8H662.5V1232.5H663.3V1232.3H664.1V1232.9H664.9V1231.5H665.7V1236.0H666.5V1241.9H667.3V1243.4H668.1V1244.0H668.9V1244.5H669.7V1244.4H670.5V1243.5H671.3V1243.2H672.1V1243.5H672.9V1243.5H673.7V1243.6H673.8V1225.3Z" fill="#3a3a3a"/>
<path d="M359.9,1225.3H361.5V1240.3H359.9zM381.0,1225.3H386.2V1248.0H381.0zM435.5,1225.3H437.7V1235.3H435.5zM439.0,1225.3H441.0V1235.5H439.0zM558.2,1225.3H560.1V1237.5H558.2zM632.7,1225.3H634.9V1242.5H632.7z" fill="#cf2027"/>
<path d="M197.3,1173.2H199.3V1276.5H197.3" fill="none" stroke="#6e6e6e" stroke-width="0.9"/>
<text x="197.0" y="1178.0" font-size="16.6" text-anchor="end" class="r k">50</text>
<text x="197.0" y="1280.3" font-size="16.6" text-anchor="end" class="r k">50</text>
<text x="182.9" y="1229.9" font-size="17" text-anchor="middle" transform="rotate(-90 182.9 1229.9)" textLength="33.0" lengthAdjust="spacingAndGlyphs" class="r k">% in</text>
<text x="195.8" y="1224.9" font-size="17.3" text-anchor="middle" transform="rotate(-90 195.8 1224.9)" textLength="55.5" lengthAdjust="spacingAndGlyphs" class="r k">Human</text>
<text x="217.9" y="1305.3" font-size="15.6" text-anchor="middle" class="r k">1</text>
<text x="257.7" y="1290.3" font-size="15.6" text-anchor="middle" class="r k">2</text>
<text x="294.4" y="1305.3" font-size="15.6" text-anchor="middle" class="r k">3</text>
<text x="326.7" y="1290.3" font-size="15.6" text-anchor="middle" class="r k">4</text>
<text x="357.1" y="1305.3" font-size="15.6" text-anchor="middle" class="r k">5</text>
<text x="386.4" y="1290.3" font-size="15.6" text-anchor="middle" class="r k">6</text>
<text x="413.0" y="1305.3" font-size="15.6" text-anchor="middle" class="r k">7</text>
<text x="438.5" y="1290.3" font-size="15.6" text-anchor="middle" class="r k">8</text>
<text x="462.9" y="1305.3" font-size="15.6" text-anchor="middle" class="r k">9</text>
<text x="483.4" y="1290.3" font-size="15.6" text-anchor="middle" class="r k">10</text>
<text x="505.3" y="1305.3" font-size="15.6" text-anchor="middle" class="r k">11</text>
<text x="527.5" y="1290.3" font-size="15.6" text-anchor="middle" class="r k">12</text>
<text x="548.1" y="1305.3" font-size="15.6" text-anchor="middle" class="r k">13</text>
<text x="566.4" y="1290.3" font-size="15.6" text-anchor="middle" class="r k">14</text>
<text x="583.7" y="1305.3" font-size="15.6" text-anchor="middle" class="r k">15</text>
<text x="599.3" y="1290.3" font-size="15.6" text-anchor="middle" class="r k">16</text>
<text x="613.0" y="1305.3" font-size="15.6" text-anchor="middle" class="r k">17</text>
<text x="627.5" y="1290.3" font-size="15.6" text-anchor="middle" class="r k">18</text>
<text x="637.7" y="1305.3" font-size="15.6" text-anchor="middle" class="r k">19</text>
<text x="651.4" y="1290.3" font-size="15.6" text-anchor="middle" class="r k">20</text>
<text x="665.1" y="1305.3" font-size="15.6" text-anchor="middle" class="r k">21</text>
<text x="675.2" y="1290.3" font-size="15.6" text-anchor="middle" class="r k">22</text>
<rect x="901.0" y="831.5" width="522.4" height="493.5" rx="11" ry="11" fill="none" stroke="#ababab" stroke-width="1.3"/>
<line x1="901.00" y1="1076.30" x2="1423.40" y2="1076.30" stroke="#ababab" stroke-width="1.4"/>
<line x1="936.28" y1="863.05" x2="1387.26" y2="863.05" stroke="#9a9a9a" stroke-width="0.9"/>
<path d="M937.8,863.1h1.70v0.9h-1.70zM940.7,861.7h1.26v1.4h-1.26zM945.7,863.1h1.82v0.8h-1.82zM947.5,863.1h2.22v1.9h-2.22zM951.5,863.1h2.02v3.0h-2.02zM953.4,863.1h1.28v0.9h-1.28zM954.7,863.1h1.79v2.8h-1.79zM961.9,863.1h1.93v0.5h-1.93zM963.8,863.1h1.81v0.2h-1.81zM970.5,863.1h1.88v3.3h-1.88z" fill="#3a3a3a"/>
<path d="M1036.9,863.1h1.32v1.4h-1.32zM1040.1,862.4h2.18v0.6h-2.18zM1045.6,862.9h2.05v0.2h-2.05zM1052.7,863.1h1.37v0.8h-1.37zM1054.0,863.0h1.64v0.1h-1.64zM1055.6,862.9h1.31v0.1h-1.31z" fill="#3a3a3a"/>
<path d="M1171.4,863.1h1.25v3.1h-1.25zM1174.1,863.0h2.14v0.1h-2.14zM1176.2,863.1h1.33v0.5h-1.33zM1189.3,863.1h1.74v0.3h-1.74zM1199.7,863.1h1.36v0.4h-1.36zM1201.0,863.1h1.26v1.1h-1.26zM1205.6,863.1h2.22v0.2h-2.22zM1221.4,863.1h1.76v1.4h-1.76zM1223.1,863.1h1.61v2.7h-1.61zM1230.3,862.0h1.51v1.1h-1.51z" fill="#3a3a3a"/>
<path d="M1265.5,863.1h2.12v3.1h-2.12zM1271.4,862.5h1.76v0.6h-1.76z" fill="#3a3a3a"/>
<path d="M1362.1,863.1h1.43v0.5h-1.43zM1364.9,862.8h1.24v0.3h-1.24zM1369.5,863.1h1.76v1.0h-1.76zM1371.2,863.1h2.15v3.0h-2.15zM1378.7,863.1h2.17v0.3h-2.17zM1382.8,863.1h1.90v3.4h-1.90zM1384.6,863.1h1.60v0.3h-1.60z" fill="#3a3a3a"/>
<path d="M936.3,863.1h1.96v3.2h-1.96zM938.2,863.1h2.25v2.8h-2.25zM940.4,863.1h2.07v3.4h-2.07zM942.4,863.1h1.45v3.2h-1.45zM943.8,863.1h1.94v2.7h-1.94zM945.7,863.1h1.93v2.5h-1.93zM952.2,863.1h2.38v7.0h-2.38zM954.5,863.1h2.09v6.9h-2.09zM956.5,863.1h1.60v5.9h-1.60zM961.0,863.1h1.45v11.8h-1.45zM962.4,863.1h1.07v12.9h-1.07zM979.3,863.1h1.47v10.0h-1.47zM980.8,863.1h1.05v8.6h-1.05zM985.8,863.1h1.52v21.2h-1.52zM987.3,863.1h1.78v25.3h-1.78zM989.0,863.1h0.89v23.0h-0.89zM992.3,863.1h2.15v9.5h-2.15zM994.4,863.1h1.48v9.4h-1.48zM995.8,863.1h1.42v11.0h-1.42zM997.2,863.1h1.53v9.4h-1.53zM998.6,863.1h1.73v11.1h-1.73zM1004.6,863.1h2.26v12.6h-2.26zM1006.8,863.1h2.46v26.9h-2.46zM1009.2,863.1h2.00v14.9h-2.00zM1011.2,863.1h2.16v13.1h-2.16zM1013.3,863.1h1.97v22.9h-1.97zM1015.2,863.1h1.88v13.7h-1.88zM1017.1,863.1h2.21v11.0h-2.21zM1019.2,863.1h2.48v11.1h-2.48zM1021.6,863.1h2.45v23.5h-2.45zM1024.0,863.1h1.88v12.3h-1.88zM1025.9,863.1h1.49v12.3h-1.49zM1027.3,863.1h2.22v11.1h-2.22zM1029.5,863.1h1.02v14.1h-1.02zM1034.5,863.1h2.42v5.3h-2.42zM1036.9,863.1h1.18v5.7h-1.18zM1042.0,863.1h1.97v4.8h-1.97zM1044.0,863.1h1.52v5.1h-1.52zM1045.4,863.1h1.61v3.8h-1.61zM1047.0,863.1h0.49v5.1h-0.49zM1055.8,863.1h2.15v3.3h-2.15zM1057.9,863.1h0.10v3.2h-0.10zM1167.2,863.1h2.41v5.4h-2.41zM1169.5,863.1h2.11v6.4h-2.11zM1171.6,863.1h1.39v5.5h-1.39zM1172.9,863.1h1.60v5.2h-1.60zM1174.5,863.1h2.41v5.1h-2.41zM1176.8,863.1h2.48v6.0h-2.48zM1179.2,863.1h2.29v6.3h-2.29zM1181.5,863.1h1.72v6.1h-1.72zM1183.2,863.1h1.86v5.6h-1.86zM1185.0,863.1h1.86v6.2h-1.86zM1186.8,863.1h2.48v4.9h-2.48zM1189.2,863.1h2.02v6.1h-2.02zM1191.2,863.1h1.94v5.3h-1.94zM1193.1,863.1h1.45v4.9h-1.45zM1194.5,863.1h1.60v5.6h-1.60zM1196.0,863.1h1.97v5.5h-1.97zM1197.9,863.1h2.48v6.4h-2.48zM1200.4,863.1h2.52v6.0h-2.52zM1202.8,863.1h1.88v6.4h-1.88zM1204.7,863.1h2.51v4.9h-2.51zM1207.1,863.1h1.92v4.9h-1.92zM1209.0,863.1h1.56v5.2h-1.56zM1210.5,863.1h1.86v6.3h-1.86zM1212.3,863.1h1.69v5.0h-1.69zM1216.4,863.1h2.02v2.5h-2.02zM1218.4,863.1h1.99v3.0h-1.99zM1220.3,863.1h1.25v3.5h-1.25zM1258.6,863.1h1.13v5.7h-1.13zM1271.6,863.1h2.15v3.7h-2.15zM1273.7,863.1h1.75v5.1h-1.75zM1275.4,863.1h0.83v6.0h-0.83zM1281.5,863.1h1.50v9.3h-1.50zM1283.0,863.1h1.44v8.9h-1.44zM1284.4,863.1h2.32v9.8h-2.32zM1286.6,863.1h2.08v8.1h-2.08zM1288.6,863.1h2.01v14.5h-2.01zM1290.6,863.1h2.40v9.9h-2.40zM1293.0,863.1h1.48v9.3h-1.48zM1294.4,863.1h2.15v13.3h-2.15zM1296.5,863.1h1.83v19.7h-1.83zM1298.3,863.1h2.39v15.2h-2.39zM1300.6,863.1h2.19v22.0h-2.19zM1302.8,863.1h1.14v25.4h-1.14zM1330.2,863.1h2.21v2.8h-2.21zM1332.4,863.1h1.48v3.3h-1.48zM1333.8,863.1h2.46v6.2h-2.46zM1336.2,863.1h1.49v6.2h-1.49zM1337.7,863.1h1.58v7.4h-1.58zM1339.2,863.1h0.49v9.2h-0.49zM1362.0,863.1h2.31v7.5h-2.31zM1364.2,863.1h0.22v5.9h-0.22zM1374.3,863.1h1.39v2.4h-1.39zM1375.7,863.1h2.19v2.6h-2.19zM1377.8,863.1h1.53v2.7h-1.53zM1379.3,863.1h2.22v2.7h-2.22zM1381.5,863.1h1.81v2.6h-1.81zM1383.2,863.1h2.51v2.3h-2.51zM1385.7,863.1h1.08v2.2h-1.08z" fill="#3a3a3a"/>
<path d="M971.0,854.0h1.43v9.0h-1.43zM972.4,854.2h2.21v8.8h-2.21zM974.5,854.2h0.82v8.9h-0.82zM976.9,849.9h1.93v13.1h-1.93zM981.8,857.3h2.35v5.8h-2.35zM984.1,852.5h0.71v10.6h-0.71zM989.8,855.0h2.00v8.1h-2.00zM991.8,855.4h0.52v7.6h-0.52zM998.7,857.2h1.41v5.8h-1.41zM1000.1,856.9h2.06v6.1h-2.06zM1002.1,856.9h1.26v6.2h-1.26zM1088.6,852.0h1.64v11.1h-1.64zM1090.2,851.6h2.40v11.4h-2.40zM1092.5,850.6h1.93v12.4h-1.93zM1094.4,850.6h1.94v12.4h-1.94zM1096.3,851.4h2.07v11.7h-2.07zM1098.3,851.3h2.44v11.7h-2.44zM1100.7,851.4h1.59v11.7h-1.59zM1102.2,850.5h2.28v12.5h-2.28zM1104.5,851.4h1.94v11.7h-1.94zM1106.4,851.6h1.81v11.4h-1.81zM1108.1,851.4h2.40v11.6h-2.40zM1110.5,852.1h2.32v10.9h-2.32zM1112.7,851.7h2.25v11.4h-2.25zM1114.9,852.0h1.91v11.1h-1.91zM1116.8,850.9h2.39v12.1h-2.39zM1119.1,851.5h2.06v11.6h-2.06zM1121.1,850.5h2.11v12.6h-2.11zM1123.2,851.1h2.14v12.0h-2.14zM1125.3,851.7h1.55v11.4h-1.55zM1126.8,850.5h1.56v12.5h-1.56zM1128.3,851.4h2.29v11.7h-2.29zM1130.5,851.9h2.20v11.2h-2.20zM1132.7,851.5h2.46v11.5h-2.46zM1135.1,851.8h2.13v11.3h-2.13zM1137.2,850.9h2.48v12.2h-2.48zM1139.6,850.5h1.58v12.6h-1.58zM1141.1,850.9h1.31v12.1h-1.31z" fill="#3a3a3a"/>
<path d="M1059.3,863.1h1.66v4.8h-1.66zM1060.9,863.1h1.98v5.1h-1.98zM1062.8,863.1h2.46v6.1h-2.46zM1065.2,863.1h2.40v5.7h-2.40zM1067.6,863.1h2.02v6.6h-2.02zM1069.5,863.1h2.34v14.4h-2.34zM1071.8,863.1h2.33v9.3h-2.33zM1074.1,863.1h2.28v10.0h-2.28zM1076.3,863.1h2.28v4.5h-2.28zM1078.6,863.1h1.43v5.7h-1.43zM1079.9,863.1h2.40v4.4h-2.40zM1082.3,863.1h2.07v5.3h-2.07zM1084.3,863.1h2.21v6.3h-2.21zM1086.5,863.1h1.60v6.0h-1.60zM1088.0,863.1h0.34v5.4h-0.34z" fill="#8a822a"/>
<path d="M1142.4,852.2h2.01v10.8h-2.01zM1144.4,853.2h1.68v9.9h-1.68zM1146.0,852.3h2.14v10.8h-2.14zM1148.1,851.9h2.23v11.1h-2.23zM1150.3,852.1h1.62v11.0h-1.62zM1151.8,852.9h2.37v10.1h-2.37zM1154.1,852.6h1.79v10.4h-1.79zM1155.9,853.0h2.12v10.1h-2.12zM1157.9,852.1h1.67v11.0h-1.67zM1159.6,852.8h2.18v10.3h-2.18zM1161.7,851.2h1.42v11.8h-1.42zM1163.1,852.5h1.62v10.6h-1.62zM1164.6,852.7h2.43v10.3h-2.43zM1167.0,852.1h0.19v10.9h-0.19z" fill="#45b649"/>
<path d="M1236.3,843.6h2.39v19.5h-2.39zM1238.6,839.3h1.77v23.8h-1.77zM1240.4,837.5h1.62v25.5h-1.62zM1241.9,836.9h1.69v26.1h-1.69zM1243.6,837.7h1.63v25.3h-1.63zM1245.1,838.5h1.94v24.5h-1.94zM1247.0,841.8h1.41v21.3h-1.41zM1248.4,843.2h2.06v19.8h-2.06zM1250.4,841.4h1.86v21.6h-1.86zM1252.2,843.2h2.35v19.8h-2.35zM1254.5,843.4h1.48v19.6h-1.48zM1255.9,846.2h2.38v16.9h-2.38zM1258.3,844.8h0.96v18.3h-0.96z" fill="#5cc4dc"/>
<path d="M1303.8,863.1h1.73v12.7h-1.73zM1305.5,863.1h1.52v14.1h-1.52zM1307.0,863.1h1.90v7.1h-1.90zM1308.8,863.1h2.12v6.6h-2.12zM1310.9,863.1h1.77v13.5h-1.77zM1312.6,863.1h2.52v6.0h-2.52zM1315.1,863.1h2.49v8.2h-2.49zM1317.5,863.1h2.28v5.4h-2.28zM1319.8,863.1h2.28v4.6h-2.28zM1322.0,863.1h1.80v4.3h-1.80z" fill="#1480b0"/>
<path d="M1342.1,863.1h1.90v4.5h-1.90zM1343.9,863.1h1.96v4.6h-1.96zM1345.8,863.1h1.88v10.2h-1.88zM1347.6,863.1h2.08v15.3h-2.08zM1349.7,863.1h2.11v13.5h-2.11zM1351.7,863.1h2.10v17.3h-2.10zM1353.8,863.1h2.32v4.8h-2.32zM1356.1,863.1h2.24v4.7h-2.24zM1358.2,863.1h1.89v9.9h-1.89z" fill="#d9478a"/>
<line x1="936.28" y1="937.05" x2="1387.26" y2="937.05" stroke="#9a9a9a" stroke-width="0.9"/>
<path d="M938.4,936.5h1.99v0.5h-1.99zM946.1,937.0h1.62v0.3h-1.62zM949.3,935.7h1.95v1.3h-1.95zM952.9,937.0h2.23v2.9h-2.23zM957.2,936.3h1.68v0.8h-1.68zM958.8,936.6h1.40v0.4h-1.40zM961.5,936.0h1.27v1.0h-1.27zM964.7,937.0h1.70v2.4h-1.70zM966.4,936.9h1.99v0.1h-1.99zM970.2,937.0h1.34v1.6h-1.34zM971.5,935.1h2.10v2.0h-2.10zM973.5,936.0h2.21v1.1h-2.21zM977.6,936.1h2.06v1.0h-2.06zM983.2,937.0h1.27v3.3h-1.27zM984.4,937.0h1.97v2.7h-1.97zM989.7,937.0h1.46v2.8h-1.46zM991.1,937.0h1.77v2.5h-1.77zM992.8,935.1h1.32v1.9h-1.32zM997.3,937.0h1.87v0.5h-1.87zM999.1,935.2h1.70v1.8h-1.70zM1010.8,937.0h1.56v1.2h-1.56zM1013.8,937.0h1.43v1.1h-1.43zM1021.2,937.0h1.88v1.7h-1.88zM1028.0,937.0h2.05v0.3h-2.05zM1030.0,937.0h1.55v1.9h-1.55zM1033.1,937.0h1.39v1.5h-1.39zM1034.4,937.0h1.66v0.5h-1.66zM1037.6,935.3h2.16v1.7h-2.16zM1039.7,937.0h1.49v0.2h-1.49zM1044.2,936.8h1.50v0.2h-1.50zM1045.6,937.0h1.60v0.7h-1.60zM1047.2,934.9h1.85v2.2h-1.85zM1050.7,935.3h1.78v1.8h-1.78zM1052.4,936.8h2.17v0.2h-2.17zM1054.5,935.5h1.57v1.6h-1.57z" fill="#3a3a3a"/>
<path d="M1092.2,937.0h1.71v3.3h-1.71zM1093.9,936.2h1.81v0.9h-1.81zM1095.6,937.0h1.55v1.0h-1.55zM1097.1,936.7h1.67v0.4h-1.67zM1098.7,937.0h1.78v2.2h-1.78zM1110.1,934.9h2.10v2.2h-2.10zM1112.2,937.0h2.26v3.8h-2.26zM1114.4,937.0h1.28v1.2h-1.28z" fill="#3a3a3a"/>
<path d="M1167.7,937.0h2.02v0.3h-2.02zM1169.7,936.2h1.44v0.9h-1.44zM1172.3,937.0h1.54v2.1h-1.54zM1177.4,937.0h1.93v1.8h-1.93zM1179.2,936.4h1.75v0.7h-1.75zM1182.1,937.0h1.80v3.0h-1.80zM1183.9,934.6h2.13v2.5h-2.13zM1187.4,937.0h1.94v1.0h-1.94zM1194.5,937.0h1.61v0.5h-1.61zM1198.0,935.3h1.92v1.7h-1.92zM1202.1,937.0h1.49v2.5h-1.49zM1203.5,935.7h1.51v1.3h-1.51zM1205.0,937.0h1.52v1.3h-1.52zM1206.4,937.0h1.39v0.2h-1.39zM1220.8,937.0h2.03v1.5h-2.03zM1224.4,936.6h1.89v0.5h-1.89zM1228.0,935.7h1.80v1.3h-1.80zM1231.6,937.0h2.12v1.1h-2.12z" fill="#3a3a3a"/>
<path d="M1261.0,937.0h1.45v0.2h-1.45zM1264.6,937.0h1.36v0.3h-1.36zM1267.8,937.0h1.61v3.2h-1.61zM1269.4,937.0h1.69v1.0h-1.69zM1275.4,937.0h1.45v3.9h-1.45zM1281.3,937.0h2.01v0.5h-2.01zM1284.7,936.6h1.50v0.5h-1.50zM1288.2,936.8h2.17v0.2h-2.17zM1291.9,937.0h1.56v1.0h-1.56zM1293.4,934.4h2.17v2.7h-2.17zM1295.6,937.0h1.31v2.8h-1.31zM1298.2,937.0h2.08v4.0h-2.08zM1300.3,935.6h2.00v1.5h-2.00zM1302.2,936.9h1.37v0.1h-1.37z" fill="#3a3a3a"/>
<path d="M1331.5,937.0h1.49v0.2h-1.49zM1332.9,936.6h2.16v0.4h-2.16zM1336.6,937.0h2.14v2.0h-2.14z" fill="#3a3a3a"/>
<path d="M1362.6,937.0h1.47v2.6h-1.47zM1364.0,936.9h1.29v0.1h-1.29zM1365.3,937.0h1.59v1.9h-1.59zM1368.6,936.7h1.63v0.4h-1.63zM1371.9,934.2h1.83v2.9h-1.83zM1374.9,937.0h1.31v1.2h-1.31zM1381.7,937.0h1.28v1.0h-1.28zM1385.0,937.0h2.00v1.4h-2.00z" fill="#3a3a3a"/>
<path d="M936.3,937.0h1.57v0.8h-1.57zM937.8,937.0h1.89v1.1h-1.89zM939.6,937.0h1.68v1.3h-1.68zM941.3,937.0h2.47v1.4h-2.47zM943.7,937.0h1.56v1.5h-1.56zM945.2,937.0h1.73v1.6h-1.73zM946.9,937.0h1.94v1.7h-1.94zM948.8,937.0h2.44v1.5h-2.44zM951.2,937.0h2.29v2.3h-2.29zM953.4,937.0h1.62v1.7h-1.62zM955.0,937.0h1.69v2.4h-1.69zM956.6,937.0h1.51v1.4h-1.51zM958.1,937.0h1.58v1.7h-1.58zM959.6,937.0h2.24v1.5h-2.24zM961.8,937.0h1.83v1.0h-1.83zM963.6,937.0h2.46v1.6h-2.46zM966.0,937.0h2.39v1.6h-2.39zM968.3,937.0h1.99v1.7h-1.99zM970.3,937.0h1.58v1.9h-1.58zM971.8,937.0h2.10v1.5h-2.10zM973.8,937.0h2.37v1.1h-2.37zM976.2,937.0h1.85v1.5h-1.85zM978.0,937.0h1.76v1.1h-1.76zM979.7,937.0h2.16v1.7h-2.16zM981.8,937.0h1.84v1.9h-1.84zM983.6,937.0h2.18v1.7h-2.18zM985.7,937.0h2.33v0.9h-2.33zM988.0,937.0h1.78v2.2h-1.78zM989.7,937.0h1.91v1.5h-1.91zM991.5,937.0h2.40v0.8h-2.40zM993.9,937.0h1.46v1.3h-1.46zM995.3,937.0h2.27v1.5h-2.27zM997.5,937.0h1.56v1.8h-1.56zM999.0,937.0h2.31v1.4h-2.31zM1001.3,937.0h1.62v1.3h-1.62zM1002.9,937.0h1.82v1.4h-1.82zM1004.6,937.0h2.18v4.3h-2.18zM1006.8,937.0h1.95v1.0h-1.95zM1008.7,937.0h1.75v0.9h-1.75zM1010.4,937.0h1.39v1.4h-1.39zM1011.7,937.0h1.83v1.2h-1.83zM1013.5,937.0h1.50v0.9h-1.50zM1014.9,937.0h1.67v1.3h-1.67zM1016.6,937.0h2.31v1.9h-2.31zM1018.8,937.0h2.36v1.3h-2.36zM1021.1,937.0h2.49v0.7h-2.49zM1023.6,937.0h1.56v1.3h-1.56zM1025.1,937.0h2.42v2.0h-2.42zM1027.4,937.0h1.99v1.3h-1.99zM1029.4,937.0h1.55v0.8h-1.55zM1030.9,937.0h2.12v0.8h-2.12zM1032.9,937.0h1.53v1.1h-1.53zM1034.4,937.0h1.44v2.0h-1.44zM1035.8,937.0h2.42v2.3h-2.42zM1038.2,937.0h1.96v1.0h-1.96zM1040.1,937.0h1.41v1.4h-1.41zM1041.4,937.0h1.67v1.6h-1.67zM1043.1,937.0h2.31v2.2h-2.31zM1045.3,937.0h1.54v2.3h-1.54zM1046.8,937.0h1.89v2.7h-1.89zM1048.6,937.0h1.56v2.5h-1.56zM1050.2,937.0h1.87v1.1h-1.87zM1052.0,937.0h1.59v2.6h-1.59zM1053.5,937.0h1.52v1.7h-1.52zM1055.0,937.0h1.41v2.0h-1.41zM1056.3,937.0h0.54v2.6h-0.54zM1088.6,937.0h1.70v2.4h-1.70zM1090.2,937.0h1.73v2.2h-1.73zM1091.9,937.0h1.59v1.6h-1.59zM1093.4,937.0h1.50v1.7h-1.50zM1094.9,937.0h2.30v2.3h-2.30zM1097.1,937.0h1.63v2.9h-1.63zM1098.7,937.0h2.08v1.9h-2.08zM1100.8,937.0h1.59v2.7h-1.59zM1102.3,937.0h1.69v2.8h-1.69zM1103.9,937.0h2.10v1.9h-2.10zM1106.0,937.0h1.80v2.5h-1.80zM1107.7,937.0h1.88v1.3h-1.88zM1109.6,937.0h1.67v2.6h-1.67zM1111.2,937.0h1.80v1.1h-1.80zM1112.9,937.0h1.63v1.8h-1.63zM1114.5,937.0h0.21v2.6h-0.21zM1167.2,937.0h2.38v2.3h-2.38zM1169.5,937.0h1.53v2.6h-1.53zM1171.0,937.0h1.96v3.0h-1.96zM1172.9,937.0h1.75v1.9h-1.75zM1174.6,937.0h1.91v2.1h-1.91zM1176.4,937.0h1.57v2.8h-1.57zM1177.9,937.0h1.86v3.1h-1.86zM1179.8,937.0h2.31v2.2h-2.31zM1182.0,937.0h1.80v1.5h-1.80zM1183.8,937.0h2.12v2.5h-2.12zM1185.8,937.0h1.64v2.2h-1.64zM1187.4,937.0h1.30v2.0h-1.30zM1212.9,937.0h1.73v1.6h-1.73zM1214.6,937.0h1.92v3.0h-1.92zM1216.4,937.0h1.48v3.5h-1.48zM1217.9,937.0h2.14v2.5h-2.14zM1220.0,937.0h1.06v1.8h-1.06zM1258.6,937.0h1.66v1.6h-1.66zM1260.3,937.0h1.13v2.0h-1.13zM1266.7,937.0h1.64v1.4h-1.64zM1268.3,937.0h2.35v1.6h-2.35zM1270.6,937.0h1.76v1.7h-1.76zM1272.3,937.0h2.48v1.9h-2.48zM1274.7,937.0h1.90v2.0h-1.90zM1276.6,937.0h2.04v1.2h-2.04zM1278.6,937.0h1.49v1.0h-1.49zM1280.0,937.0h0.19v1.4h-0.19zM1300.3,937.0h2.05v4.5h-2.05zM1302.3,937.0h0.74v3.9h-0.74zM1327.3,937.0h2.26v2.8h-2.26zM1329.5,937.0h2.39v2.5h-2.39zM1331.8,937.0h2.48v5.0h-2.48zM1334.2,937.0h2.17v3.5h-2.17zM1336.3,937.0h2.33v4.3h-2.33zM1338.6,937.0h1.53v4.9h-1.53zM1340.1,937.0h0.65v5.5h-0.65zM1377.0,937.0h1.70v2.4h-1.70zM1378.7,937.0h1.88v7.3h-1.88zM1380.5,937.0h2.00v6.2h-2.00zM1382.5,937.0h1.82v6.0h-1.82zM1384.2,937.0h2.25v5.7h-2.25zM1386.4,937.0h0.87v4.8h-0.87z" fill="#3a3a3a"/>
<path d="M1115.5,930.9h2.01v6.1h-2.01zM1117.4,931.9h1.38v5.1h-1.38zM1118.8,931.2h1.67v5.8h-1.67zM1120.4,931.8h2.13v5.3h-2.13zM1122.5,930.6h1.60v6.4h-1.60zM1124.0,931.0h1.83v6.1h-1.83zM1125.8,932.8h2.37v4.2h-2.37zM1128.1,932.8h1.71v4.3h-1.71zM1129.8,931.0h2.46v6.1h-2.46zM1132.2,931.0h2.19v6.1h-2.19zM1134.3,931.8h2.51v5.3h-2.51zM1136.8,933.0h2.36v4.0h-2.36zM1139.1,933.0h1.46v4.1h-1.46zM1140.5,932.6h2.38v4.5h-2.38zM1142.8,932.9h0.14v4.2h-0.14zM1190.0,933.5h2.09v3.6h-2.09zM1192.1,929.8h1.77v7.3h-1.77zM1193.8,932.6h2.30v4.4h-2.30zM1196.0,935.2h2.27v1.9h-2.27zM1198.2,935.2h1.94v1.9h-1.94zM1200.1,935.4h1.45v1.6h-1.45zM1201.5,934.7h1.88v2.3h-1.88zM1203.4,935.0h2.20v2.0h-2.20zM1205.5,934.9h1.93v2.2h-1.93zM1207.4,935.5h2.26v1.5h-2.26zM1209.6,935.7h1.45v1.4h-1.45zM1211.0,935.6h1.60v1.4h-1.60zM1212.6,935.2h0.39v1.8h-0.39zM1280.2,934.3h2.39v2.7h-2.39zM1282.5,934.3h2.23v2.7h-2.23zM1284.7,934.5h1.84v2.5h-1.84zM1286.5,934.6h1.57v2.4h-1.57zM1288.0,934.8h2.08v2.3h-2.08zM1290.0,935.0h1.49v2.1h-1.49zM1291.5,934.7h2.30v2.4h-2.30zM1293.7,935.4h1.64v1.7h-1.64zM1295.3,935.4h2.09v1.6h-2.09zM1297.3,934.9h1.72v2.2h-1.72zM965.3,935.2h1.73v1.9h-1.73zM967.0,935.4h1.58v1.7h-1.58zM968.5,935.8h1.56v1.2h-1.56zM970.1,935.4h0.72v1.7h-0.72zM994.9,935.7h2.39v1.4h-2.39zM997.3,935.3h0.40v1.7h-0.40zM1005.7,935.7h2.34v1.4h-2.34zM1008.0,935.1h1.39v1.9h-1.39zM1009.3,935.6h1.96v1.4h-1.96zM1011.2,935.8h1.91v1.3h-1.91zM1013.1,935.1h2.25v2.0h-2.25zM1015.3,935.2h1.98v1.9h-1.98zM1017.2,935.7h1.97v1.4h-1.97zM1032.6,935.6h2.22v1.5h-2.22zM1034.8,935.5h1.72v1.5h-1.72zM1036.5,935.1h0.25v2.0h-0.25z" fill="#3a3a3a"/>
<path d="M1059.0,937.0h1.73v9.1h-1.73zM1060.7,937.0h2.02v10.7h-2.02zM1062.6,937.0h1.74v12.2h-1.74zM1064.3,937.0h1.75v10.6h-1.75zM1066.0,937.0h1.43v8.6h-1.43zM1067.4,937.0h2.22v11.1h-2.22zM1069.6,937.0h2.13v13.1h-2.13zM1071.7,937.0h1.71v10.5h-1.71zM1073.3,937.0h1.53v12.1h-1.53zM1074.8,937.0h1.46v13.0h-1.46zM1076.2,937.0h1.80v9.9h-1.80zM1078.0,937.0h2.34v11.9h-2.34zM1080.2,937.0h1.71v8.9h-1.71zM1081.9,937.0h2.35v8.0h-2.35zM1084.2,937.0h1.59v9.1h-1.59zM1085.7,937.0h1.59v8.4h-1.59zM1087.3,937.0h1.34v5.9h-1.34z" fill="#8a822a"/>
<path d="M1142.9,934.7h1.80v2.4h-1.80zM1144.7,934.2h2.33v2.9h-2.33zM1147.0,934.3h2.05v2.7h-2.05zM1149.0,934.1h2.31v2.9h-2.31zM1151.2,934.4h2.20v2.7h-2.20zM1153.4,933.5h1.82v3.5h-1.82zM1155.2,933.4h2.15v3.7h-2.15zM1157.3,933.8h1.52v3.3h-1.52zM1158.7,931.9h2.50v5.1h-2.50zM1161.2,931.4h2.34v5.6h-2.34zM1163.5,934.1h2.37v2.9h-2.37zM1165.8,934.4h1.42v2.7h-1.42z" fill="#45b649"/>
<path d="M1235.8,921.9h1.89v15.2h-1.89zM1237.6,919.6h2.40v17.4h-2.40zM1240.0,919.1h1.47v18.0h-1.47zM1241.4,919.0h2.16v18.0h-2.16zM1243.5,918.4h1.71v18.7h-1.71zM1245.1,919.2h1.54v17.9h-1.54zM1246.6,921.0h1.97v16.1h-1.97zM1248.6,920.6h2.46v16.5h-2.46zM1251.0,922.2h2.37v14.8h-2.37zM1253.3,921.9h2.07v15.2h-2.07zM1255.3,920.8h2.20v16.3h-2.20zM1257.5,922.2h0.70v14.9h-0.70z" fill="#5cc4dc"/>
<path d="M1303.6,937.0h2.07v10.4h-2.07zM1305.6,937.0h2.18v18.7h-2.18zM1307.7,937.0h1.55v21.2h-1.55zM1309.2,937.0h2.06v20.2h-2.06zM1311.2,937.0h2.08v17.9h-2.08zM1313.3,937.0h1.91v14.5h-1.91zM1315.1,937.0h1.98v13.3h-1.98zM1317.0,937.0h2.42v15.1h-2.42zM1319.4,937.0h1.96v9.6h-1.96zM1321.3,937.0h1.87v11.6h-1.87zM1323.1,937.0h0.67v9.3h-0.67z" fill="#1480b0"/>
<path d="M1342.1,937.0h2.24v6.7h-2.24zM1344.2,937.0h2.50v8.6h-2.50zM1346.7,937.0h2.17v14.5h-2.17zM1348.8,937.0h1.43v10.4h-1.43zM1350.2,937.0h2.26v9.9h-2.26zM1352.4,937.0h2.43v12.3h-2.43zM1354.8,937.0h2.12v9.3h-2.12zM1356.9,937.0h2.51v11.0h-2.51zM1359.3,937.0h0.28v12.4h-0.28z" fill="#d9478a"/>
<line x1="936.28" y1="1011.59" x2="1387.26" y2="1011.59" stroke="#9a9a9a" stroke-width="0.9"/>
<path d="M937.5,1011.6h2.03v1.9h-2.03zM942.0,1011.6h2.15v0.8h-2.15zM953.2,1011.6h2.25v0.9h-2.25zM955.4,1011.6h1.95v1.8h-1.95zM957.3,1011.6h1.75v0.2h-1.75zM959.0,1011.6h1.75v1.7h-1.75zM960.7,1011.6h1.57v3.2h-1.57zM962.2,1011.6h1.40v1.4h-1.40zM965.0,1011.6h1.58v2.9h-1.58zM966.6,1011.4h1.86v0.2h-1.86zM969.8,1011.6h1.47v2.6h-1.47zM971.2,1011.0h1.73v0.6h-1.73zM972.9,1009.9h2.02v1.7h-2.02zM974.9,1010.7h1.89v0.9h-1.89zM976.7,1011.6h2.23v0.5h-2.23zM978.9,1009.6h1.67v2.0h-1.67zM983.2,1011.5h1.53v0.1h-1.53zM990.2,1011.6h1.84v1.6h-1.84zM999.2,1011.6h2.00v0.9h-2.00zM1002.9,1011.6h1.65v1.1h-1.65zM1008.1,1011.6h1.87v3.7h-1.87zM1011.5,1011.6h1.64v0.2h-1.64zM1013.0,1009.1h1.63v2.5h-1.63zM1014.6,1011.3h1.92v0.3h-1.92zM1016.5,1011.6h1.27v2.3h-1.27zM1017.7,1011.6h1.97v0.7h-1.97zM1019.6,1009.7h1.63v1.9h-1.63zM1021.2,1011.6h2.20v0.5h-2.20zM1025.3,1011.6h1.50v2.4h-1.50zM1026.7,1011.6h1.98v0.3h-1.98zM1031.4,1011.6h1.78v0.5h-1.78zM1037.1,1011.6h2.16v1.1h-2.16zM1039.2,1011.2h1.34v0.4h-1.34zM1040.5,1011.6h2.06v0.6h-2.06zM1044.5,1011.6h2.09v1.2h-2.09zM1050.3,1011.6h1.57v0.9h-1.57zM1053.4,1011.6h1.97v0.5h-1.97z" fill="#3a3a3a"/>
<path d="M1089.1,1011.6h1.42v0.3h-1.42zM1090.5,1011.6h1.29v1.3h-1.29zM1091.7,1011.6h1.94v0.3h-1.94zM1097.3,1010.7h1.47v0.8h-1.47zM1100.0,1011.6h2.18v3.9h-2.18zM1102.2,1011.6h1.46v0.3h-1.46zM1103.6,1011.6h1.86v1.5h-1.86zM1109.4,1011.3h1.41v0.2h-1.41zM1112.3,1009.7h1.40v1.9h-1.40z" fill="#3a3a3a"/>
<path d="M1167.7,1011.6h1.68v0.8h-1.68zM1169.3,1011.6h1.71v0.2h-1.71zM1172.2,1009.1h2.01v2.5h-2.01zM1174.1,1011.6h1.99v2.6h-1.99zM1177.9,1008.8h1.46v2.8h-1.46zM1182.6,1010.8h1.34v0.8h-1.34zM1185.3,1011.6h1.99v3.3h-1.99zM1188.8,1011.6h1.37v1.7h-1.37zM1190.2,1011.6h1.78v2.1h-1.78zM1193.3,1010.5h2.24v1.1h-2.24zM1196.9,1011.6h1.94v1.3h-1.94zM1202.1,1011.5h1.95v0.1h-1.95zM1208.9,1011.6h1.89v1.0h-1.89zM1210.7,1011.6h1.88v2.2h-1.88zM1214.0,1008.9h1.96v2.7h-1.96zM1219.3,1011.6h1.29v3.7h-1.29zM1222.1,1011.2h1.48v0.3h-1.48zM1223.5,1011.1h1.87v0.5h-1.87zM1227.0,1010.0h1.65v1.6h-1.65zM1228.6,1010.0h1.82v1.6h-1.82z" fill="#3a3a3a"/>
<path d="M1259.7,1011.6h1.94v3.3h-1.94zM1263.1,1011.6h2.06v0.9h-2.06zM1265.1,1011.1h1.45v0.4h-1.45zM1269.9,1011.2h1.44v0.4h-1.44zM1271.3,1011.6h1.41v0.7h-1.41zM1272.6,1011.6h1.62v1.1h-1.62zM1274.2,1010.8h1.52v0.8h-1.52zM1275.7,1011.4h2.02v0.2h-2.02zM1279.6,1009.3h1.54v2.3h-1.54zM1281.1,1011.6h1.93v1.8h-1.93zM1283.0,1011.0h1.78v0.6h-1.78zM1288.6,1011.6h1.43v0.6h-1.43zM1289.9,1011.6h2.24v0.3h-2.24zM1292.1,1011.6h2.15v3.5h-2.15zM1294.2,1011.6h2.18v1.4h-2.18zM1300.2,1011.6h1.25v3.5h-1.25zM1301.4,1011.6h1.27v0.7h-1.27zM1302.6,1011.6h1.78v3.2h-1.78z" fill="#3a3a3a"/>
<path d="M1327.9,1011.6h2.22v3.9h-2.22zM1331.8,1011.1h1.45v0.5h-1.45zM1333.2,1011.6h1.36v3.4h-1.36zM1337.7,1011.6h2.10v0.8h-2.10zM1339.7,1010.5h1.68v1.1h-1.68z" fill="#3a3a3a"/>
<path d="M1360.9,1008.4h2.01v3.2h-2.01zM1362.8,1011.3h2.23v0.3h-2.23zM1372.4,1010.2h2.03v1.4h-2.03zM1375.9,1011.6h1.70v0.5h-1.70zM1377.5,1011.6h1.55v2.6h-1.55zM1379.0,1011.6h1.97v2.6h-1.97zM1381.0,1009.4h1.76v2.2h-1.76zM1382.7,1011.6h2.20v3.9h-2.20zM1384.8,1011.6h2.21v0.5h-2.21zM1387.0,1010.7h1.36v0.9h-1.36z" fill="#3a3a3a"/>
<path d="M936.3,1011.6h2.13v1.3h-2.13zM938.4,1011.6h2.41v0.9h-2.41zM940.7,1011.6h2.50v1.4h-2.50zM943.2,1011.6h2.23v0.9h-2.23zM945.4,1011.6h2.51v0.6h-2.51zM947.8,1011.6h2.52v1.3h-2.52zM950.3,1011.6h2.37v1.2h-2.37zM952.6,1011.6h2.02v3.9h-2.02zM954.6,1011.6h2.51v1.1h-2.51zM957.0,1011.6h1.67v1.7h-1.67zM958.6,1011.6h2.07v0.6h-2.07zM960.7,1011.6h1.43v3.5h-1.43zM962.0,1011.6h2.35v1.1h-2.35zM964.3,1011.6h2.28v1.2h-2.28zM966.6,1011.6h2.48v1.7h-2.48zM969.0,1011.6h2.22v2.0h-2.22zM971.2,1011.6h1.56v2.3h-1.56zM972.7,1011.6h1.65v1.4h-1.65zM974.3,1011.6h1.79v1.6h-1.79zM976.0,1011.6h2.45v2.1h-2.45zM978.4,1011.6h1.74v2.1h-1.74zM980.1,1011.6h1.75v2.4h-1.75zM981.8,1011.6h2.39v1.0h-2.39zM984.2,1011.6h1.95v2.3h-1.95zM986.1,1011.6h1.49v2.2h-1.49zM987.5,1011.6h1.82v1.7h-1.82zM989.3,1011.6h2.49v1.9h-2.49zM991.7,1011.6h1.81v1.6h-1.81zM993.5,1011.6h2.01v1.1h-2.01zM995.4,1011.6h1.80v2.5h-1.80zM997.2,1011.6h1.69v1.2h-1.69zM998.8,1011.6h2.24v2.8h-2.24zM1001.0,1011.6h1.89v2.1h-1.89zM1002.8,1011.6h1.56v2.2h-1.56zM1004.3,1011.6h2.01v2.9h-2.01zM1006.3,1011.6h1.94v5.0h-1.94zM1008.2,1011.6h2.24v3.2h-2.24zM1010.4,1011.6h2.21v6.2h-2.21zM1012.5,1011.6h1.42v5.0h-1.42zM1013.9,1011.6h1.83v6.1h-1.83zM1015.7,1011.6h1.69v4.6h-1.69zM1017.3,1011.6h2.46v6.3h-2.46zM1019.7,1011.6h2.28v3.2h-2.28zM1022.0,1011.6h2.08v6.8h-2.08zM1024.0,1011.6h1.41v4.4h-1.41zM1025.4,1011.6h1.90v4.4h-1.90zM1027.2,1011.6h1.85v6.3h-1.85zM1029.0,1011.6h1.50v3.8h-1.50zM1048.8,1011.6h1.56v0.8h-1.56zM1050.3,1011.6h1.98v1.0h-1.98zM1052.2,1011.6h1.72v1.1h-1.72zM1053.9,1011.6h2.42v1.1h-2.42zM1056.2,1011.6h1.43v1.1h-1.43zM1057.6,1011.6h0.61v1.3h-0.61zM1088.6,1011.6h1.56v0.9h-1.56zM1090.1,1011.6h1.96v1.0h-1.96zM1092.0,1011.6h1.73v0.8h-1.73zM1093.7,1011.6h1.74v1.6h-1.74zM1095.4,1011.6h2.05v0.8h-2.05zM1097.4,1011.6h2.30v1.3h-2.30zM1099.6,1011.6h1.63v0.8h-1.63zM1101.2,1011.6h1.74v1.2h-1.74zM1102.9,1011.6h1.55v1.0h-1.55zM1104.4,1011.6h1.67v1.9h-1.67zM1106.0,1011.6h2.24v1.3h-2.24zM1108.2,1011.6h1.75v1.9h-1.75zM1109.9,1011.6h2.41v1.0h-2.41zM1112.3,1011.6h2.41v1.7h-2.41zM1114.6,1011.6h1.42v1.8h-1.42zM1116.0,1011.6h1.76v1.8h-1.76zM1117.7,1011.6h2.34v0.9h-2.34zM1120.0,1011.6h1.42v0.8h-1.42zM1121.3,1011.6h1.39v1.6h-1.39zM1122.7,1011.6h1.71v2.1h-1.71zM1124.3,1011.6h2.39v1.5h-2.39zM1126.7,1011.6h2.48v1.3h-2.48zM1129.1,1011.6h2.47v2.2h-2.47zM1131.5,1011.6h0.69v1.0h-0.69zM1167.2,1011.6h2.31v1.8h-2.31zM1169.4,1011.6h2.36v2.9h-2.36zM1171.7,1011.6h2.21v1.5h-2.21zM1258.6,1011.6h1.59v2.3h-1.59zM1260.2,1011.6h2.05v1.7h-2.05zM1262.2,1011.6h1.47v1.7h-1.47zM1263.6,1011.6h1.66v1.3h-1.66zM1265.2,1011.6h2.01v2.6h-2.01zM1267.2,1011.6h1.75v1.0h-1.75zM1268.9,1011.6h2.52v2.4h-2.52zM1271.3,1011.6h2.34v2.1h-2.34zM1273.6,1011.6h1.57v4.4h-1.57zM1275.1,1011.6h2.39v2.7h-2.39zM1277.5,1011.6h1.49v2.8h-1.49zM1278.9,1011.6h1.99v2.2h-1.99zM1280.9,1011.6h1.78v2.0h-1.78zM1282.6,1011.6h2.21v2.1h-2.21zM1284.7,1011.6h2.01v2.6h-2.01zM1286.7,1011.6h2.02v2.0h-2.02zM1288.7,1011.6h2.51v1.1h-2.51zM1291.1,1011.6h2.42v1.5h-2.42zM1293.5,1011.6h1.80v2.3h-1.80zM1295.2,1011.6h2.11v2.5h-2.11zM1297.3,1011.6h1.98v2.0h-1.98zM1299.2,1011.6h1.66v1.0h-1.66zM1300.9,1011.6h0.89v1.2h-0.89zM1331.3,1011.6h1.57v2.8h-1.57zM1332.8,1011.6h2.46v2.5h-2.46zM1335.2,1011.6h1.71v2.9h-1.71zM1336.9,1011.6h1.70v1.3h-1.70zM1338.5,1011.6h0.88v1.4h-0.88zM1377.0,1011.6h2.20v2.3h-2.20zM1379.2,1011.6h1.69v1.4h-1.69zM1380.8,1011.6h1.59v3.1h-1.59zM1382.4,1011.6h1.47v2.2h-1.47zM1383.8,1011.6h1.96v3.2h-1.96zM1385.7,1011.6h1.61v1.3h-1.61z" fill="#3a3a3a"/>
<path d="M1031.8,1008.3h2.48v3.2h-2.48zM1034.2,1007.7h2.02v3.9h-2.02zM1036.2,1008.3h2.16v3.3h-2.16zM1038.3,1009.1h1.47v2.5h-1.47zM1039.7,1008.4h2.08v3.2h-2.08zM1041.8,1008.7h1.66v2.8h-1.66zM1089.1,1009.4h2.04v2.2h-2.04zM1091.1,1009.5h1.85v2.1h-1.85zM1092.9,1009.8h1.86v1.8h-1.86zM1094.7,1009.3h1.95v2.3h-1.95zM1096.6,1009.4h1.88v2.1h-1.88zM1098.4,1009.9h2.10v1.7h-2.10zM1100.5,1010.0h1.62v1.6h-1.62zM1102.1,1010.1h2.28v1.5h-2.28zM1104.3,1009.7h1.01v1.9h-1.01zM1186.0,1008.3h1.71v3.2h-1.71zM1187.6,1007.9h2.30v3.7h-2.30zM1189.9,1008.6h2.23v3.0h-2.23zM1192.1,1003.5h1.52v8.0h-1.52zM1193.5,1009.5h1.86v2.1h-1.86zM1195.3,1008.3h2.44v3.3h-2.44zM1197.7,1009.4h1.62v2.2h-1.62zM1199.3,1008.1h1.84v3.5h-1.84zM1201.1,1009.4h1.40v2.2h-1.40zM1202.4,1009.6h2.15v2.0h-2.15zM1204.5,1009.6h1.93v2.0h-1.93zM1206.4,1009.9h2.36v1.7h-2.36zM1208.7,1009.2h1.59v2.4h-1.59zM1210.3,1009.8h1.56v1.8h-1.56zM1211.8,1009.0h1.17v2.6h-1.17zM1215.6,1010.5h2.21v1.0h-2.21zM1217.7,1010.2h2.50v1.3h-2.50zM1220.2,1010.0h1.98v1.5h-1.98zM1222.1,1010.5h1.53v1.0h-1.53zM1223.6,1010.3h1.98v1.3h-1.98zM1225.5,1010.6h2.18v1.0h-2.18zM1227.7,1010.7h1.70v0.9h-1.70zM1229.3,1010.5h1.90v1.1h-1.90zM1231.2,1010.5h2.00v1.0h-2.00zM1233.1,1010.2h1.34v1.4h-1.34zM1277.5,1009.4h2.18v2.2h-2.18zM1279.6,1009.4h1.96v2.2h-1.96zM1281.5,1009.2h2.04v2.3h-2.04zM1283.5,1009.7h1.63v1.9h-1.63zM1285.1,1010.0h2.43v1.6h-2.43zM1287.5,1009.0h1.41v2.6h-1.41zM1288.8,1009.9h2.22v1.6h-2.22zM1291.0,1009.2h1.87v2.4h-1.87zM1292.8,1009.6h0.86v2.0h-0.86zM968.0,1009.5h2.19v2.1h-2.19zM970.2,1009.9h0.60v1.7h-0.60z" fill="#3a3a3a"/>
<path d="M1059.0,1011.6h2.18v7.6h-2.18zM1061.1,1011.6h2.07v7.9h-2.07zM1063.1,1011.6h2.34v8.0h-2.34zM1065.4,1011.6h2.40v10.1h-2.40zM1067.8,1011.6h1.57v8.1h-1.57zM1069.3,1011.6h1.93v10.5h-1.93zM1071.2,1011.6h2.25v13.4h-2.25zM1073.4,1011.6h2.08v13.2h-2.08zM1075.4,1011.6h2.05v12.3h-2.05zM1077.4,1011.6h2.08v7.6h-2.08zM1079.4,1011.6h1.73v9.7h-1.73zM1081.1,1011.6h1.52v8.0h-1.52zM1082.6,1011.6h2.48v8.2h-2.48zM1085.0,1011.6h2.50v6.9h-2.50zM1087.4,1011.6h1.19v6.8h-1.19z" fill="#8a822a"/>
<path d="M1137.6,1008.4h2.26v3.2h-2.26zM1139.8,1005.6h1.88v6.0h-1.88zM1141.6,1002.7h2.33v8.9h-2.33zM1143.9,1003.4h2.47v8.2h-2.47zM1146.3,1003.3h1.86v8.3h-1.86zM1148.1,1002.5h1.84v9.1h-1.84zM1149.9,1002.6h1.86v9.0h-1.86zM1151.7,1002.1h1.63v9.5h-1.63zM1153.3,1003.2h2.15v8.4h-2.15zM1155.4,1002.1h2.10v9.5h-2.10zM1157.4,1002.4h1.60v9.2h-1.60zM1159.0,1002.9h2.21v8.6h-2.21zM1161.1,1002.9h1.82v8.7h-1.82zM1162.9,1002.9h1.52v8.7h-1.52zM1164.4,1001.9h1.71v9.7h-1.71zM1166.0,1002.7h1.16v8.9h-1.16z" fill="#45b649"/>
<path d="M1235.8,1000.5h1.62v11.1h-1.62zM1237.3,997.9h2.22v13.7h-2.22zM1239.5,1000.7h1.62v10.9h-1.62zM1241.1,1002.0h1.71v9.6h-1.71zM1242.7,1002.4h1.76v9.2h-1.76zM1244.4,1002.7h1.40v8.9h-1.40zM1245.8,1003.0h2.00v8.6h-2.00zM1247.7,1003.4h2.17v8.2h-2.17zM1249.9,1004.4h2.48v7.1h-2.48zM1252.3,1005.2h2.22v6.4h-2.22zM1254.5,1005.7h1.91v5.9h-1.91zM1256.3,1005.7h1.83v5.9h-1.83z" fill="#5cc4dc"/>
<path d="M1303.6,1011.6h2.13v2.8h-2.13zM1305.7,1011.6h2.16v4.7h-2.16zM1307.8,1011.6h2.25v5.3h-2.25zM1310.0,1011.6h1.46v6.0h-1.46zM1311.4,1011.6h1.85v8.5h-1.85zM1313.2,1011.6h2.12v10.0h-2.12zM1315.3,1011.6h1.88v13.0h-1.88zM1317.1,1011.6h2.23v9.3h-2.23zM1319.3,1011.6h2.10v12.5h-2.10zM1321.3,1011.6h1.78v9.0h-1.78zM1323.0,1011.6h0.76v8.2h-0.76z" fill="#1480b0"/>
<path d="M1343.4,1011.6h1.60v3.3h-1.60zM1345.0,1011.6h1.45v5.3h-1.45zM1346.4,1011.6h1.45v6.9h-1.45zM1347.8,1011.6h1.68v9.7h-1.68zM1349.4,1011.6h1.75v6.3h-1.75zM1351.1,1011.6h1.99v7.7h-1.99zM1353.0,1011.6h2.43v5.4h-2.43zM1355.4,1011.6h1.62v4.5h-1.62zM1357.0,1011.6h1.65v4.8h-1.65zM1358.6,1011.6h1.82v2.3h-1.82z" fill="#d9478a"/>
<text x="953.8" y="1065.6" font-size="15.6" text-anchor="middle" class="r k">1</text>
<text x="987.7" y="1057.5" font-size="15.6" text-anchor="middle" class="r k">2</text>
<text x="1016.5" y="1065.6" font-size="15.6" text-anchor="middle" class="r k">3</text>
<text x="1045.5" y="1057.5" font-size="15.6" text-anchor="middle" class="r k">4</text>
<text x="1073.8" y="1065.6" font-size="15.6" text-anchor="middle" class="r k">5</text>
<text x="1102.0" y="1057.5" font-size="15.6" text-anchor="middle" class="r k">6</text>
<text x="1130.0" y="1065.6" font-size="15.6" text-anchor="middle" class="r k">7</text>
<text x="1155.0" y="1057.5" font-size="15.6" text-anchor="middle" class="r k">8</text>
<text x="1177.9" y="1065.6" font-size="15.6" text-anchor="middle" class="r k">9</text>
<text x="1202.1" y="1057.5" font-size="15.6" text-anchor="middle" class="r k">10</text>
<text x="1227.7" y="1065.6" font-size="15.6" text-anchor="middle" class="r k">11</text>
<text x="1249.2" y="1057.5" font-size="15.6" text-anchor="middle" class="r k">12</text>
<text x="1271.6" y="1065.6" font-size="15.6" text-anchor="middle" class="r k">13</text>
<text x="1294.2" y="1057.5" font-size="15.6" text-anchor="middle" class="r k">14</text>
<text x="1315.1" y="1065.6" font-size="15.6" text-anchor="middle" class="r k">15</text>
<text x="1333.4" y="1057.5" font-size="15.6" text-anchor="middle" class="r k">16</text>
<text x="1351.5" y="1065.6" font-size="15.6" text-anchor="middle" class="r k">17</text>
<text x="1368.4" y="1057.5" font-size="15.6" text-anchor="middle" class="r k">18</text>
<text x="1383.8" y="1065.6" font-size="15.6" text-anchor="middle" class="r k">19</text>
<text x="803.2" y="870.5" font-size="21" textLength="89.7" lengthAdjust="spacingAndGlyphs" class="r k">Tumor #1</text>
<text x="803.2" y="942.8" font-size="21" textLength="89.7" lengthAdjust="spacingAndGlyphs" class="r k">Tumor #2</text>
<text x="803.2" y="1015.7" font-size="21" textLength="89.7" lengthAdjust="spacingAndGlyphs" class="r k">Tumor #3</text>
<text x="788.9" y="1061.9" font-size="21" textLength="104.0" lengthAdjust="spacingAndGlyphs" class="r k">Mouse chr.</text>
<text x="742.1" y="1108.5" font-size="21" textLength="150.8" lengthAdjust="spacingAndGlyphs" class="r k">Syntenic human</text>
<text x="741.6" y="1124.8" font-size="21" textLength="151.3" lengthAdjust="spacingAndGlyphs" class="r k">loci to recurrent</text>
<text x="775.6" y="1141.5" font-size="21" textLength="117.3" lengthAdjust="spacingAndGlyphs" class="r k">mouse CNAs</text>
<text x="844.1" y="1158.1" font-size="21" textLength="48.8" lengthAdjust="spacingAndGlyphs" class="r k">(n=3)</text>
<text x="750.0" y="1225.9" font-size="21" textLength="142.9" lengthAdjust="spacingAndGlyphs" class="r k">CNAs in human</text>
<text x="754.4" y="1243.9" font-size="21" textLength="138.5" lengthAdjust="spacingAndGlyphs" class="r k">tumors (n= 65)</text>
<text x="785.8" y="1307.5" font-size="21" textLength="107.1" lengthAdjust="spacingAndGlyphs" class="r k">Human chr.</text>
<text x="1137.2" y="823.0" font-size="20.3" text-anchor="middle" font-weight="bold" textLength="163.5" lengthAdjust="spacingAndGlyphs" class="b k">CPC - Rb-driven</text>
<text x="740.5" y="840.6" font-size="37" font-weight="bold" class="b">d</text>
<line x1="981.49" y1="1096.91" x2="981.49" y2="1157.45" stroke="#bdbdbd" stroke-width="0.8" stroke-dasharray="1.2 1.2"/>
<line x1="981.49" y1="1187.05" x2="981.49" y2="1274.50" stroke="#bdbdbd" stroke-width="0.8" stroke-dasharray="1.2 1.2"/>
<line x1="1016.47" y1="1096.91" x2="1016.47" y2="1157.45" stroke="#bdbdbd" stroke-width="0.8" stroke-dasharray="1.2 1.2"/>
<line x1="1016.47" y1="1187.05" x2="1016.47" y2="1274.50" stroke="#bdbdbd" stroke-width="0.8" stroke-dasharray="1.2 1.2"/>
<line x1="1047.41" y1="1096.91" x2="1047.41" y2="1157.45" stroke="#bdbdbd" stroke-width="0.8" stroke-dasharray="1.2 1.2"/>
<line x1="1047.41" y1="1187.05" x2="1047.41" y2="1274.50" stroke="#bdbdbd" stroke-width="0.8" stroke-dasharray="1.2 1.2"/>
<line x1="1077.82" y1="1096.91" x2="1077.82" y2="1157.45" stroke="#bdbdbd" stroke-width="0.8" stroke-dasharray="1.2 1.2"/>
<line x1="1077.82" y1="1187.05" x2="1077.82" y2="1274.50" stroke="#bdbdbd" stroke-width="0.8" stroke-dasharray="1.2 1.2"/>
<line x1="1106.34" y1="1096.91" x2="1106.34" y2="1157.45" stroke="#bdbdbd" stroke-width="0.8" stroke-dasharray="1.2 1.2"/>
<line x1="1106.34" y1="1187.05" x2="1106.34" y2="1274.50" stroke="#bdbdbd" stroke-width="0.8" stroke-dasharray="1.2 1.2"/>
<line x1="1134.06" y1="1096.91" x2="1134.06" y2="1157.45" stroke="#bdbdbd" stroke-width="0.8" stroke-dasharray="1.2 1.2"/>
<line x1="1134.06" y1="1187.05" x2="1134.06" y2="1274.50" stroke="#bdbdbd" stroke-width="0.8" stroke-dasharray="1.2 1.2"/>
<line x1="1159.08" y1="1096.91" x2="1159.08" y2="1157.45" stroke="#bdbdbd" stroke-width="0.8" stroke-dasharray="1.2 1.2"/>
<line x1="1159.08" y1="1187.05" x2="1159.08" y2="1274.50" stroke="#bdbdbd" stroke-width="0.8" stroke-dasharray="1.2 1.2"/>
<line x1="1182.49" y1="1096.91" x2="1182.49" y2="1157.45" stroke="#bdbdbd" stroke-width="0.8" stroke-dasharray="1.2 1.2"/>
<line x1="1182.49" y1="1187.05" x2="1182.49" y2="1274.50" stroke="#bdbdbd" stroke-width="0.8" stroke-dasharray="1.2 1.2"/>
<line x1="1204.82" y1="1096.91" x2="1204.82" y2="1157.45" stroke="#bdbdbd" stroke-width="0.8" stroke-dasharray="1.2 1.2"/>
<line x1="1204.82" y1="1187.05" x2="1204.82" y2="1274.50" stroke="#bdbdbd" stroke-width="0.8" stroke-dasharray="1.2 1.2"/>
<line x1="1226.35" y1="1096.91" x2="1226.35" y2="1157.45" stroke="#bdbdbd" stroke-width="0.8" stroke-dasharray="1.2 1.2"/>
<line x1="1226.35" y1="1187.05" x2="1226.35" y2="1274.50" stroke="#bdbdbd" stroke-width="0.8" stroke-dasharray="1.2 1.2"/>
<line x1="1247.88" y1="1096.91" x2="1247.88" y2="1157.45" stroke="#bdbdbd" stroke-width="0.8" stroke-dasharray="1.2 1.2"/>
<line x1="1247.88" y1="1187.05" x2="1247.88" y2="1274.50" stroke="#bdbdbd" stroke-width="0.8" stroke-dasharray="1.2 1.2"/>
<line x1="1269.40" y1="1096.91" x2="1269.40" y2="1157.45" stroke="#bdbdbd" stroke-width="0.8" stroke-dasharray="1.2 1.2"/>
<line x1="1269.40" y1="1187.05" x2="1269.40" y2="1274.50" stroke="#bdbdbd" stroke-width="0.8" stroke-dasharray="1.2 1.2"/>
<line x1="1288.24" y1="1096.91" x2="1288.24" y2="1157.45" stroke="#bdbdbd" stroke-width="0.8" stroke-dasharray="1.2 1.2"/>
<line x1="1288.24" y1="1187.05" x2="1288.24" y2="1274.50" stroke="#bdbdbd" stroke-width="0.8" stroke-dasharray="1.2 1.2"/>
<line x1="1304.65" y1="1096.91" x2="1304.65" y2="1157.45" stroke="#bdbdbd" stroke-width="0.8" stroke-dasharray="1.2 1.2"/>
<line x1="1304.65" y1="1187.05" x2="1304.65" y2="1274.50" stroke="#bdbdbd" stroke-width="0.8" stroke-dasharray="1.2 1.2"/>
<line x1="1321.34" y1="1096.91" x2="1321.34" y2="1157.45" stroke="#bdbdbd" stroke-width="0.8" stroke-dasharray="1.2 1.2"/>
<line x1="1321.34" y1="1187.05" x2="1321.34" y2="1274.50" stroke="#bdbdbd" stroke-width="0.8" stroke-dasharray="1.2 1.2"/>
<line x1="1335.33" y1="1096.91" x2="1335.33" y2="1157.45" stroke="#bdbdbd" stroke-width="0.8" stroke-dasharray="1.2 1.2"/>
<line x1="1335.33" y1="1187.05" x2="1335.33" y2="1274.50" stroke="#bdbdbd" stroke-width="0.8" stroke-dasharray="1.2 1.2"/>
<line x1="1348.24" y1="1096.91" x2="1348.24" y2="1157.45" stroke="#bdbdbd" stroke-width="0.8" stroke-dasharray="1.2 1.2"/>
<line x1="1348.24" y1="1187.05" x2="1348.24" y2="1274.50" stroke="#bdbdbd" stroke-width="0.8" stroke-dasharray="1.2 1.2"/>
<line x1="1360.35" y1="1096.91" x2="1360.35" y2="1157.45" stroke="#bdbdbd" stroke-width="0.8" stroke-dasharray="1.2 1.2"/>
<line x1="1360.35" y1="1187.05" x2="1360.35" y2="1274.50" stroke="#bdbdbd" stroke-width="0.8" stroke-dasharray="1.2 1.2"/>
<line x1="1370.31" y1="1096.91" x2="1370.31" y2="1157.45" stroke="#bdbdbd" stroke-width="0.8" stroke-dasharray="1.2 1.2"/>
<line x1="1370.31" y1="1187.05" x2="1370.31" y2="1274.50" stroke="#bdbdbd" stroke-width="0.8" stroke-dasharray="1.2 1.2"/>
<line x1="1380.26" y1="1096.91" x2="1380.26" y2="1157.45" stroke="#bdbdbd" stroke-width="0.8" stroke-dasharray="1.2 1.2"/>
<line x1="1380.26" y1="1187.05" x2="1380.26" y2="1274.50" stroke="#bdbdbd" stroke-width="0.8" stroke-dasharray="1.2 1.2"/>
<line x1="1388.61" y1="1096.91" x2="1388.61" y2="1157.45" stroke="#bdbdbd" stroke-width="0.8" stroke-dasharray="1.2 1.2"/>
<line x1="1388.61" y1="1187.05" x2="1388.61" y2="1274.50" stroke="#bdbdbd" stroke-width="0.8" stroke-dasharray="1.2 1.2"/>
<line x1="1396.68" y1="1096.91" x2="1396.68" y2="1157.45" stroke="#bdbdbd" stroke-width="0.8" stroke-dasharray="1.2 1.2"/>
<line x1="1396.68" y1="1187.05" x2="1396.68" y2="1274.50" stroke="#bdbdbd" stroke-width="0.8" stroke-dasharray="1.2 1.2"/>
<rect x="951.35" y="1126.51" width="2.42" height="32.29" fill="#8a822a"/>
<rect x="980.95" y="1126.51" width="1.61" height="32.29" fill="#8a822a"/>
<rect x="1046.34" y="1126.51" width="15.88" height="32.29" fill="#8a822a"/>
<rect x="1132.98" y="1126.51" width="2.69" height="32.29" fill="#8a822a"/>
<rect x="1137.02" y="1126.51" width="1.35" height="32.29" fill="#8a822a"/>
<rect x="1141.86" y="1126.51" width="8.88" height="32.29" fill="#8a822a"/>
<rect x="1156.93" y="1126.51" width="2.42" height="32.29" fill="#8a822a"/>
<rect x="1264.02" y="1126.51" width="5.65" height="32.29" fill="#8a822a"/>
<rect x="1272.36" y="1126.51" width="2.96" height="32.29" fill="#8a822a"/>
<rect x="1347.44" y="1126.51" width="1.88" height="32.29" fill="#8a822a"/>
<rect x="1391.03" y="1126.51" width="3.50" height="32.29" fill="#8a822a"/>
<rect x="982.29" y="1126.51" width="3.23" height="21.53" fill="#d9478a"/>
<rect x="1017.54" y="1126.51" width="2.15" height="21.53" fill="#d9478a"/>
<rect x="1092.35" y="1126.51" width="3.50" height="21.53" fill="#d9478a"/>
<rect x="1104.46" y="1126.51" width="1.88" height="21.53" fill="#d9478a"/>
<rect x="1110.11" y="1126.51" width="5.65" height="21.53" fill="#d9478a"/>
<rect x="1130.29" y="1126.51" width="2.69" height="21.53" fill="#d9478a"/>
<rect x="1320.53" y="1126.51" width="1.61" height="21.53" fill="#d9478a"/>
<rect x="1348.24" y="1126.51" width="2.42" height="21.53" fill="#d9478a"/>
<rect x="1361.16" y="1126.51" width="2.96" height="21.53" fill="#d9478a"/>
<rect x="1368.16" y="1126.51" width="2.15" height="21.53" fill="#d9478a"/>
<rect x="1386.45" y="1126.51" width="1.88" height="21.53" fill="#d9478a"/>
<rect x="1079.16" y="1126.51" width="6.46" height="32.29" fill="#1480b0"/>
<rect x="1174.42" y="1126.51" width="8.61" height="32.29" fill="#1480b0"/>
<rect x="1252.72" y="1126.51" width="4.04" height="32.29" fill="#1480b0"/>
<rect x="1393.72" y="1126.51" width="2.96" height="32.29" fill="#1480b0"/>
<rect x="972.88" y="1104.98" width="2.69" height="21.53" fill="#45b649"/>
<rect x="1069.48" y="1104.98" width="2.69" height="21.53" fill="#45b649"/>
<rect x="1073.24" y="1104.98" width="5.11" height="21.53" fill="#45b649"/>
<rect x="1159.08" y="1104.98" width="7.53" height="21.53" fill="#45b649"/>
<rect x="1209.40" y="1104.98" width="2.15" height="21.53" fill="#45b649"/>
<rect x="1276.94" y="1104.98" width="1.88" height="21.53" fill="#45b649"/>
<rect x="1285.55" y="1104.98" width="2.15" height="21.53" fill="#45b649"/>
<rect x="1327.26" y="1104.98" width="8.61" height="21.53" fill="#45b649"/>
<rect x="1361.16" y="1104.98" width="3.50" height="21.53" fill="#45b649"/>
<rect x="1381.07" y="1104.98" width="1.88" height="21.53" fill="#45b649"/>
<rect x="1392.37" y="1104.98" width="2.15" height="21.53" fill="#45b649"/>
<rect x="980.14" y="1094.22" width="5.38" height="32.29" fill="#5cc4dc"/>
<rect x="1134.86" y="1094.22" width="2.69" height="32.29" fill="#5cc4dc"/>
<rect x="1149.66" y="1094.22" width="1.61" height="32.29" fill="#5cc4dc"/>
<rect x="1158.27" y="1094.22" width="1.08" height="32.29" fill="#5cc4dc"/>
<rect x="1290.93" y="1094.22" width="13.72" height="32.29" fill="#5cc4dc"/>
<line x1="938.43" y1="1126.51" x2="1396.68" y2="1126.51" stroke="#1a1a1a" stroke-width="2.5"/>
<path d="M938.1,1094.2H941.7V1158.8H938.1" fill="none" stroke="#6e6e6e" stroke-width="0.9"/>
<text x="909.0" y="1097.6" font-size="17" textLength="28.3" lengthAdjust="spacingAndGlyphs" class="r k">100</text>
<text x="909.0" y="1166.9" font-size="17" textLength="28.3" lengthAdjust="spacingAndGlyphs" class="r k">100</text>
<text x="921.7" y="1128.4" font-size="17" text-anchor="middle" transform="rotate(-90 921.7 1128.4)" textLength="33.0" lengthAdjust="spacingAndGlyphs" class="r k">% in</text>
<text x="935.5" y="1124.9" font-size="18" text-anchor="middle" transform="rotate(-90 935.5 1124.9)" textLength="54.5" lengthAdjust="spacingAndGlyphs" class="r k">Mouse</text>
<path d="M941.7,1231.4V1182.3H942.5V1183.6H943.3V1183.6H944.1V1183.2H944.9V1183.2H945.7V1183.3H946.5V1182.7H947.3V1182.6H948.1V1182.9H948.9V1182.6H949.7V1182.5H950.5V1183.0H951.3V1183.1H952.1V1183.3H952.9V1182.3H953.7V1182.3H954.5V1182.3H955.3V1183.6H956.1V1183.3H956.9V1182.7H957.7V1183.7H958.5V1183.1H959.3V1183.7H960.1V1183.1H960.9V1183.0H961.7V1183.3H962.5V1183.3H963.3V1182.1H964.1V1182.0H964.9V1181.8H965.7V1182.9H966.5V1182.3H967.3V1182.5H968.1V1182.0H968.9V1181.8H969.7V1182.8H970.5V1183.0H971.3V1182.5H972.1V1182.4H972.9V1182.2H973.7V1183.4H974.5V1183.8H975.3V1184.7H976.1V1184.5H976.9V1184.9H977.7V1185.2H978.5V1186.2H979.3V1185.9H980.1V1187.2H980.9V1187.2H981.7V1186.6H982.5V1188.3H983.3V1188.3H984.1V1187.9H984.9V1188.7H985.7V1189.9H986.5V1190.3H987.3V1189.8H988.1V1189.5H988.9V1190.1H989.7V1189.8H990.5V1189.2H991.3V1189.9H992.1V1190.1H992.9V1190.0H993.7V1189.7H994.5V1191.3H995.3V1191.3H996.1V1193.0H996.9V1192.6H997.7V1193.1H998.5V1194.1H999.3V1194.9H1000.1V1195.6H1000.9V1196.4H1001.7V1195.1H1002.5V1195.1H1003.3V1196.2H1004.1V1195.9H1004.9V1195.5H1005.7V1195.6H1006.5V1196.0H1007.3V1196.8H1008.1V1195.7H1008.9V1195.7H1009.7V1200.8H1010.5V1201.2H1011.3V1200.7H1012.1V1201.1H1012.9V1201.3H1013.7V1201.7H1014.5V1201.8H1015.3V1200.6H1016.1V1202.1H1016.9V1230.2H1017.7V1230.3H1018.5V1230.2H1019.3V1230.4H1020.1V1230.6H1020.9V1230.6H1021.7V1230.2H1022.5V1230.4H1023.3V1230.1H1024.1V1230.1H1024.9V1230.2H1025.7V1230.4H1026.5V1230.3H1027.3V1230.4H1028.1V1230.1H1028.9V1230.2H1029.7V1230.1H1030.5V1230.4H1031.3V1230.5H1032.1V1230.3H1032.9V1230.2H1033.7V1230.1H1034.5V1230.4H1035.3V1230.1H1036.1V1230.5H1036.9V1230.4H1037.7V1230.5H1038.5V1230.1H1039.3V1230.5H1040.1V1230.4H1040.9V1230.3H1041.7V1230.2H1042.5V1230.3H1043.3V1230.1H1044.1V1230.4H1044.9V1230.6H1045.7V1230.2H1046.5V1230.7H1047.3V1202.1H1048.1V1203.6H1048.9V1202.4H1049.7V1202.5H1050.5V1203.7H1051.3V1202.7H1052.1V1203.6H1052.9V1203.1H1053.7V1202.9H1054.5V1202.8H1055.3V1203.9H1056.1V1202.9H1056.9V1202.8H1057.7V1203.1H1058.5V1203.0H1059.3V1202.6H1060.1V1204.1H1060.9V1203.1H1061.7V1203.5H1062.5V1203.3H1063.3V1203.9H1064.1V1204.2H1064.9V1203.0H1065.7V1203.5H1066.5V1204.2H1067.3V1203.7H1068.1V1203.4H1068.9V1204.1H1069.7V1203.9H1070.5V1203.9H1071.3V1204.4H1072.1V1203.9H1072.9V1203.4H1073.7V1204.7H1074.5V1203.6H1075.3V1204.7H1076.1V1203.8H1076.9V1203.8H1077.7V1226.0H1078.5V1225.7H1079.3V1227.3H1080.1V1226.2H1080.9V1226.3H1081.7V1226.2H1082.5V1226.7H1083.3V1227.2H1084.1V1227.1H1084.9V1226.9H1085.7V1227.1H1086.5V1227.7H1087.3V1226.7H1088.1V1226.7H1088.9V1227.8H1089.7V1227.3H1090.5V1227.8H1091.3V1227.8H1092.1V1228.5H1092.9V1227.5H1093.7V1227.4H1094.5V1227.4H1095.3V1228.7H1096.1V1228.1H1096.9V1227.8H1097.7V1228.7H1098.5V1228.0H1099.3V1227.8H1100.1V1228.8H1100.9V1229.1H1101.7V1228.6H1102.5V1228.5H1103.3V1228.8H1104.1V1229.6H1104.9V1229.6H1105.7V1228.8H1106.5V1230.4H1107.3V1230.5H1108.1V1230.5H1108.9V1230.2H1109.7V1230.4H1110.5V1230.6H1111.3V1230.4H1112.1V1230.3H1112.9V1230.4H1113.7V1230.4H1114.5V1230.2H1115.3V1230.5H1116.1V1230.2H1116.9V1230.6H1117.7V1230.6H1118.5V1230.6H1119.3V1230.4H1120.1V1230.2H1120.9V1230.3H1121.7V1230.4H1122.5V1230.6H1123.3V1230.4H1124.1V1230.5H1124.9V1230.1H1125.7V1230.4H1126.5V1230.3H1127.3V1230.6H1128.1V1230.2H1128.9V1230.1H1129.7V1230.4H1130.5V1230.3H1131.3V1230.5H1132.1V1230.4H1132.9V1230.1H1133.7V1214.7H1134.5V1214.3H1135.3V1215.1H1136.1V1215.1H1136.9V1213.8H1137.7V1214.2H1138.5V1213.8H1139.3V1214.9H1140.1V1214.8H1140.9V1214.1H1141.7V1213.7H1142.5V1215.2H1143.3V1215.1H1144.1V1210.1H1144.9V1211.1H1145.7V1210.6H1146.5V1210.4H1147.3V1209.7H1148.1V1210.5H1148.9V1209.4H1149.7V1210.6H1150.5V1209.5H1151.3V1209.4H1152.1V1209.1H1152.9V1208.9H1153.7V1209.7H1154.5V1210.3H1155.3V1208.6H1156.1V1208.8H1156.9V1209.7H1157.7V1209.2H1158.5V1209.5H1159.3V1214.1H1160.1V1213.5H1160.9V1213.5H1161.7V1214.2H1162.5V1214.4H1163.3V1214.7H1164.1V1214.7H1164.9V1213.9H1165.7V1215.3H1166.5V1215.5H1167.3V1216.1H1168.1V1216.0H1168.9V1215.0H1169.7V1215.8H1170.5V1215.8H1171.3V1214.9H1172.1V1215.7H1172.9V1215.4H1173.7V1215.9H1174.5V1215.9H1175.3V1214.8H1176.1V1215.9H1176.9V1214.7H1177.7V1214.8H1178.5V1214.9H1179.3V1215.7H1180.1V1215.7H1180.9V1214.8H1181.7V1216.1H1182.5V1216.4H1183.3V1217.1H1184.1V1217.6H1184.9V1218.5H1185.7V1219.0H1186.5V1220.4H1187.3V1221.5H1188.1V1221.9H1188.9V1224.0H1189.7V1224.5H1190.5V1225.7H1191.3V1225.9H1192.1V1226.4H1192.9V1226.1H1193.7V1225.6H1194.5V1226.4H1195.3V1225.7H1196.1V1227.1H1196.9V1225.7H1197.7V1225.8H1198.5V1226.5H1199.3V1226.7H1200.1V1226.8H1200.9V1226.5H1201.7V1226.1H1202.5V1227.0H1203.3V1226.7H1204.1V1227.2H1204.9V1215.3H1205.7V1215.2H1206.5V1214.8H1207.3V1214.6H1208.1V1214.6H1208.9V1215.0H1209.7V1214.1H1210.5V1214.7H1211.3V1214.0H1212.1V1213.3H1212.9V1214.5H1213.7V1213.1H1214.5V1214.1H1215.3V1212.7H1216.1V1213.1H1216.9V1213.5H1217.7V1212.1H1218.5V1213.4H1219.3V1212.3H1220.1V1213.0H1220.9V1212.4H1221.7V1211.8H1222.5V1212.2H1223.3V1211.4H1224.1V1212.4H1224.9V1212.2H1225.7V1210.7H1226.5V1229.0H1227.3V1227.5H1228.1V1229.0H1228.9V1228.8H1229.7V1229.1H1230.5V1228.5H1231.3V1228.6H1232.1V1229.0H1232.9V1228.8H1233.7V1228.4H1234.5V1228.4H1235.3V1228.2H1236.1V1228.9H1236.9V1228.5H1237.7V1228.1H1238.5V1228.7H1239.3V1228.7H1240.1V1229.2H1240.9V1229.3H1241.7V1228.8H1242.5V1228.8H1243.3V1228.6H1244.1V1229.5H1244.9V1229.7H1245.7V1229.1H1246.5V1229.0H1247.3V1229.1H1248.1V1176.6H1248.9V1176.4H1249.7V1176.8H1250.5V1179.6H1251.3V1178.3H1252.1V1179.5H1252.9V1179.0H1253.7V1179.4H1254.5V1179.5H1255.3V1179.4H1256.1V1178.3H1256.9V1179.7H1257.7V1179.4H1258.5V1178.2H1259.3V1178.9H1260.1V1178.6H1260.9V1179.0H1261.7V1178.6H1262.5V1178.8H1263.3V1179.1H1264.1V1179.0H1264.9V1178.6H1265.7V1179.5H1266.5V1179.4H1267.3V1179.2H1268.1V1195.3H1268.9V1226.0H1269.7V1230.8H1270.5V1230.9H1271.3V1231.0H1272.1V1217.1H1272.9V1217.5H1273.7V1217.2H1274.5V1218.1H1275.3V1217.7H1276.1V1217.6H1276.9V1217.0H1277.7V1217.0H1278.5V1220.1H1279.3V1220.1H1280.1V1219.9H1280.9V1220.2H1281.7V1221.3H1282.5V1221.0H1283.3V1221.0H1284.1V1221.3H1284.9V1221.1H1285.7V1221.2H1286.5V1220.8H1287.3V1221.1H1288.1V1230.9H1288.9V1230.9H1289.7V1231.0H1290.5V1192.3H1291.3V1193.1H1292.1V1192.5H1292.9V1192.3H1293.7V1193.0H1294.5V1193.4H1295.3V1193.7H1296.1V1192.4H1296.9V1193.2H1297.7V1193.8H1298.5V1193.2H1299.3V1193.9H1300.1V1193.8H1300.9V1193.0H1301.7V1193.4H1302.5V1193.4H1303.3V1193.9H1304.1V1193.8H1304.9V1231.0H1305.7V1230.8H1306.5V1230.9H1307.3V1230.8H1308.1V1215.0H1308.9V1214.6H1309.7V1214.4H1310.5V1214.2H1311.3V1215.0H1312.1V1214.7H1312.9V1213.5H1313.7V1214.0H1314.5V1214.5H1315.3V1213.4H1316.1V1213.0H1316.9V1212.7H1317.7V1213.4H1318.5V1213.7H1319.3V1212.2H1320.1V1211.9H1320.9V1228.0H1321.7V1229.9H1322.5V1230.0H1323.3V1230.0H1324.1V1229.9H1324.9V1230.1H1325.7V1230.1H1326.5V1230.3H1327.3V1230.3H1328.1V1229.8H1328.9V1230.0H1329.7V1229.8H1330.5V1230.3H1331.3V1230.4H1332.1V1229.9H1332.9V1230.0H1333.7V1230.1H1334.5V1230.0H1335.3V1226.1H1336.1V1225.9H1336.9V1226.4H1337.7V1226.3H1338.5V1226.5H1339.3V1226.4H1340.1V1226.3H1340.9V1226.2H1341.7V1221.5H1342.5V1220.4H1343.3V1220.3H1344.1V1221.4H1344.9V1221.7H1345.7V1220.1H1346.5V1220.4H1347.3V1221.2H1348.1V1220.1H1348.9V1219.9H1349.7V1220.5H1350.5V1221.1H1351.3V1220.2H1352.1V1220.2H1352.9V1220.6H1353.7V1219.5H1354.5V1220.3H1355.3V1219.3H1356.1V1220.2H1356.9V1219.3H1357.7V1219.5H1358.5V1218.8H1359.3V1219.7H1360.1V1223.1H1360.9V1223.9H1361.7V1223.6H1362.5V1223.1H1363.3V1223.2H1364.1V1224.0H1364.9V1224.5H1365.7V1224.4H1366.5V1224.1H1367.3V1224.3H1368.1V1224.3H1368.9V1224.2H1369.7V1224.4H1370.5V1170.7H1371.3V1171.0H1372.1V1172.1H1372.9V1171.6H1373.7V1171.1H1374.5V1170.9H1375.3V1171.1H1376.1V1170.9H1376.9V1171.3H1377.7V1172.2H1378.5V1171.4H1379.3V1171.2H1380.1V1230.9H1380.9V1230.9H1381.7V1198.5H1382.5V1197.9H1383.3V1197.9H1384.1V1197.6H1384.9V1197.3H1385.7V1195.8H1386.5V1196.0H1387.3V1194.5H1388.1V1225.4H1388.9V1230.6H1389.7V1230.1H1390.5V1230.0H1391.3V1230.0H1392.1V1229.8H1392.9V1230.3H1393.7V1229.9H1394.5V1230.2H1395.3V1230.3H1396.1V1229.8H1396.7V1231.4ZM941.7,1231.4V1232.9H942.5V1232.9H943.3V1233.1H944.1V1232.5H944.9V1232.9H945.7V1233.0H946.5V1232.8H947.3V1232.6H948.1V1232.8H948.9V1232.5H949.7V1232.8H950.5V1232.8H951.3V1233.1H952.1V1232.5H952.9V1232.5H953.7V1233.0H954.5V1232.8H955.3V1233.1H956.1V1233.1H956.9V1232.8H957.7V1232.9H958.5V1232.6H959.3V1233.0H960.1V1232.9H960.9V1232.6H961.7V1232.8H962.5V1232.9H963.3V1233.1H964.1V1232.9H964.9V1232.8H965.7V1233.1H966.5V1232.7H967.3V1232.9H968.1V1232.9H968.9V1232.9H969.7V1232.7H970.5V1232.6H971.3V1232.7H972.1V1232.9H972.9V1233.0H973.7V1232.8H974.5V1232.6H975.3V1233.0H976.1V1232.6H976.9V1232.7H977.7V1232.7H978.5V1232.7H979.3V1233.0H980.1V1232.7H980.9V1232.7H981.7V1233.0H982.5V1232.7H983.3V1233.1H984.1V1232.9H984.9V1232.6H985.7V1232.5H986.5V1232.5H987.3V1233.1H988.1V1232.6H988.9V1232.7H989.7V1232.5H990.5V1233.1H991.3V1232.6H992.1V1233.1H992.9V1232.5H993.7V1232.5H994.5V1232.7H995.3V1232.9H996.1V1233.1H996.9V1232.5H997.7V1233.1H998.5V1232.6H999.3V1233.0H1000.1V1232.6H1000.9V1233.1H1001.7V1233.0H1002.5V1232.8H1003.3V1232.7H1004.1V1233.0H1004.9V1233.0H1005.7V1233.1H1006.5V1232.7H1007.3V1233.0H1008.1V1233.1H1008.9V1233.1H1009.7V1232.6H1010.5V1232.8H1011.3V1233.1H1012.1V1232.6H1012.9V1232.7H1013.7V1233.0H1014.5V1232.6H1015.3V1232.5H1016.1V1232.7H1016.9V1246.5H1017.7V1246.6H1018.5V1246.5H1019.3V1246.9H1020.1V1247.1H1020.9V1246.5H1021.7V1247.1H1022.5V1246.2H1023.3V1247.3H1024.1V1247.1H1024.9V1246.1H1025.7V1247.5H1026.5V1247.4H1027.3V1246.1H1028.1V1246.7H1028.9V1246.2H1029.7V1246.6H1030.5V1246.7H1031.3V1246.6H1032.1V1246.9H1032.9V1247.0H1033.7V1245.8H1034.5V1246.8H1035.3V1246.0H1036.1V1247.2H1036.9V1247.0H1037.7V1245.9H1038.5V1247.3H1039.3V1246.7H1040.1V1246.6H1040.9V1246.6H1041.7V1247.0H1042.5V1246.4H1043.3V1246.5H1044.1V1247.1H1044.9V1246.0H1045.7V1246.4H1046.5V1246.4H1047.3V1238.2H1048.1V1238.4H1048.9V1238.5H1049.7V1238.3H1050.5V1238.4H1051.3V1237.6H1052.1V1238.3H1052.9V1238.5H1053.7V1238.2H1054.5V1238.2H1055.3V1238.1H1056.1V1238.5H1056.9V1239.2H1057.7V1239.1H1058.5V1238.3H1059.3V1239.5H1060.1V1238.7H1060.9V1238.1H1061.7V1239.5H1062.5V1238.9H1063.3V1238.5H1064.1V1238.7H1064.9V1238.6H1065.7V1239.6H1066.5V1238.8H1067.3V1239.1H1068.1V1238.9H1068.9V1239.0H1069.7V1240.0H1070.5V1238.9H1071.3V1239.5H1072.1V1239.9H1072.9V1238.9H1073.7V1239.6H1074.5V1240.1H1075.3V1238.7H1076.1V1239.0H1076.9V1238.9H1077.7V1252.8H1078.5V1252.7H1079.3V1252.6H1080.1V1252.1H1080.9V1249.3H1081.7V1246.7H1082.5V1247.1H1083.3V1246.5H1084.1V1246.6H1084.9V1247.2H1085.7V1246.8H1086.5V1246.5H1087.3V1246.7H1088.1V1247.2H1088.9V1246.3H1089.7V1247.1H1090.5V1247.0H1091.3V1247.1H1092.1V1246.5H1092.9V1246.9H1093.7V1245.9H1094.5V1246.1H1095.3V1245.6H1096.1V1246.2H1096.9V1246.1H1097.7V1246.7H1098.5V1245.7H1099.3V1245.7H1100.1V1245.9H1100.9V1246.3H1101.7V1246.0H1102.5V1246.2H1103.3V1246.2H1104.1V1246.7H1104.9V1245.6H1105.7V1247.0H1106.5V1254.1H1107.3V1254.0H1108.1V1253.6H1108.9V1253.8H1109.7V1254.3H1110.5V1255.0H1111.3V1255.0H1112.1V1253.9H1112.9V1253.5H1113.7V1254.1H1114.5V1254.2H1115.3V1253.7H1116.1V1254.4H1116.9V1254.4H1117.7V1257.6H1118.5V1257.3H1119.3V1257.2H1120.1V1258.1H1120.9V1257.4H1121.7V1257.6H1122.5V1257.6H1123.3V1259.1H1124.1V1258.0H1124.9V1258.9H1125.7V1259.1H1126.5V1258.8H1127.3V1259.3H1128.1V1258.2H1128.9V1258.7H1129.7V1259.7H1130.5V1260.0H1131.3V1260.1H1132.1V1260.0H1132.9V1259.2H1133.7V1237.9H1134.5V1238.1H1135.3V1238.2H1136.1V1238.2H1136.9V1237.3H1137.7V1238.1H1138.5V1238.2H1139.3V1237.3H1140.1V1237.5H1140.9V1238.5H1141.7V1238.4H1142.5V1237.7H1143.3V1237.5H1144.1V1237.9H1144.9V1237.5H1145.7V1238.2H1146.5V1238.2H1147.3V1238.8H1148.1V1237.9H1148.9V1238.2H1149.7V1237.8H1150.5V1238.7H1151.3V1239.2H1152.1V1238.1H1152.9V1239.0H1153.7V1238.9H1154.5V1239.3H1155.3V1238.4H1156.1V1238.5H1156.9V1239.3H1157.7V1238.9H1158.5V1239.4H1159.3V1240.6H1160.1V1240.2H1160.9V1240.3H1161.7V1241.0H1162.5V1240.3H1163.3V1241.0H1164.1V1241.0H1164.9V1241.5H1165.7V1241.3H1166.5V1240.9H1167.3V1242.0H1168.1V1241.9H1168.9V1242.1H1169.7V1241.4H1170.5V1242.3H1171.3V1242.0H1172.1V1242.3H1172.9V1241.4H1173.7V1241.6H1174.5V1242.4H1175.3V1241.7H1176.1V1241.8H1176.9V1241.4H1177.7V1242.6H1178.5V1241.4H1179.3V1241.5H1180.1V1241.8H1180.9V1242.8H1181.7V1241.5H1182.5V1246.8H1183.3V1246.3H1184.1V1245.8H1184.9V1246.1H1185.7V1246.1H1186.5V1247.0H1187.3V1247.0H1188.1V1247.1H1188.9V1246.9H1189.7V1247.3H1190.5V1247.0H1191.3V1248.0H1192.1V1246.7H1192.9V1248.1H1193.7V1248.0H1194.5V1248.2H1195.3V1247.1H1196.1V1248.6H1196.9V1248.6H1197.7V1248.8H1198.5V1248.6H1199.3V1248.0H1200.1V1248.2H1200.9V1248.2H1201.7V1247.8H1202.5V1248.8H1203.3V1248.2H1204.1V1249.7H1204.9V1237.9H1205.7V1237.7H1206.5V1238.1H1207.3V1237.4H1208.1V1237.9H1208.9V1237.9H1209.7V1238.3H1210.5V1237.9H1211.3V1237.1H1212.1V1237.8H1212.9V1238.2H1213.7V1236.9H1214.5V1236.9H1215.3V1237.5H1216.1V1238.1H1216.9V1237.5H1217.7V1236.9H1218.5V1237.8H1219.3V1237.4H1220.1V1236.5H1220.9V1236.8H1221.7V1237.9H1222.5V1237.8H1223.3V1236.9H1224.1V1237.3H1224.9V1237.7H1225.7V1236.5H1226.5V1249.1H1227.3V1248.3H1228.1V1249.5H1228.9V1249.6H1229.7V1249.4H1230.5V1248.7H1231.3V1248.4H1232.1V1248.6H1232.9V1249.2H1233.7V1248.9H1234.5V1248.5H1235.3V1247.3H1236.1V1245.8H1236.9V1244.5H1237.7V1245.5H1238.5V1244.5H1239.3V1244.8H1240.1V1245.0H1240.9V1244.1H1241.7V1243.8H1242.5V1243.6H1243.3V1244.2H1244.1V1244.6H1244.9V1244.5H1245.7V1243.8H1246.5V1243.4H1247.3V1244.4H1248.1V1232.5H1248.9V1232.6H1249.7V1232.7H1250.5V1232.8H1251.3V1232.9H1252.1V1233.1H1252.9V1232.6H1253.7V1232.8H1254.5V1232.6H1255.3V1232.9H1256.1V1232.7H1256.9V1233.1H1257.7V1232.6H1258.5V1232.8H1259.3V1233.1H1260.1V1232.5H1260.9V1232.5H1261.7V1233.1H1262.5V1233.0H1263.3V1232.7H1264.1V1232.8H1264.9V1232.7H1265.7V1232.6H1266.5V1232.4H1267.3V1232.7H1268.1V1232.7H1268.9V1232.6H1269.7V1232.6H1270.5V1242.1H1271.3V1242.3H1272.1V1241.4H1272.9V1241.6H1273.7V1242.3H1274.5V1242.5H1275.3V1242.6H1276.1V1242.0H1276.9V1242.1H1277.7V1242.9H1278.5V1243.0H1279.3V1241.9H1280.1V1242.5H1280.9V1242.3H1281.7V1242.7H1282.5V1242.4H1283.3V1242.8H1284.1V1242.7H1284.9V1242.7H1285.7V1247.5H1286.5V1246.7H1287.3V1247.5H1288.1V1233.0H1288.9V1232.7H1289.7V1232.6H1290.5V1232.8H1291.3V1232.5H1292.1V1232.6H1292.9V1232.6H1293.7V1232.9H1294.5V1232.4H1295.3V1232.8H1296.1V1232.7H1296.9V1233.0H1297.7V1233.0H1298.5V1233.1H1299.3V1232.7H1300.1V1233.1H1300.9V1232.5H1301.7V1232.5H1302.5V1232.9H1303.3V1232.6H1304.1V1233.1H1304.9V1233.1H1305.7V1232.5H1306.5V1233.0H1307.3V1240.4H1308.1V1242.1H1308.9V1242.7H1309.7V1241.9H1310.5V1242.2H1311.3V1242.2H1312.1V1242.2H1312.9V1241.1H1313.7V1241.8H1314.5V1241.2H1315.3V1241.3H1316.1V1241.3H1316.9V1241.6H1317.7V1241.9H1318.5V1241.7H1319.3V1241.2H1320.1V1241.7H1320.9V1241.2H1321.7V1249.0H1322.5V1248.5H1323.3V1248.1H1324.1V1247.9H1324.9V1247.9H1325.7V1248.2H1326.5V1247.3H1327.3V1247.8H1328.1V1246.8H1328.9V1246.8H1329.7V1247.9H1330.5V1247.3H1331.3V1247.2H1332.1V1246.1H1332.9V1247.0H1333.7V1246.7H1334.5V1247.1H1335.3V1246.1H1336.1V1246.3H1336.9V1245.5H1337.7V1245.8H1338.5V1245.4H1339.3V1245.0H1340.1V1245.6H1340.9V1244.3H1341.7V1244.1H1342.5V1245.0H1343.3V1244.6H1344.1V1243.8H1344.9V1243.6H1345.7V1244.5H1346.5V1243.9H1347.3V1244.0H1348.1V1249.4H1348.9V1250.1H1349.7V1249.8H1350.5V1249.1H1351.3V1248.9H1352.1V1250.1H1352.9V1249.3H1353.7V1249.5H1354.5V1249.2H1355.3V1248.5H1356.1V1249.7H1356.9V1248.7H1357.7V1249.4H1358.5V1248.8H1359.3V1247.9H1360.1V1248.1H1360.9V1248.9H1361.7V1248.9H1362.5V1247.7H1363.3V1248.9H1364.1V1247.4H1364.9V1248.0H1365.7V1248.6H1366.5V1247.8H1367.3V1248.5H1368.1V1248.1H1368.9V1247.8H1369.7V1248.1H1370.5V1232.0H1371.3V1232.3H1372.1V1232.2H1372.9V1232.1H1373.7V1232.3H1374.5V1232.3H1375.3V1232.2H1376.1V1232.2H1376.9V1232.1H1377.7V1232.3H1378.5V1232.3H1379.3V1232.4H1380.1V1232.3H1380.9V1239.3H1381.7V1239.6H1382.5V1238.8H1383.3V1239.1H1384.1V1238.8H1384.9V1238.8H1385.7V1239.3H1386.5V1239.1H1387.3V1239.2H1388.1V1239.0H1388.9V1244.0H1389.7V1250.5H1390.5V1250.0H1391.3V1250.0H1392.1V1249.5H1392.9V1250.0H1393.7V1249.6H1394.5V1250.4H1395.3V1251.1H1396.1V1251.0H1396.7V1231.4Z" fill="#3a3a3a"/>
<path d="M976.6,1185.0H978.8V1231.4H976.6zM980.4,1187.7H985.0V1231.4H980.4zM1016.7,1231.4H1020.0V1247.0H1016.7zM1047.7,1231.4H1062.2V1238.5H1047.7zM1068.9,1203.8H1077.8V1231.4H1068.9zM1079.2,1231.4H1085.1V1246.5H1079.2zM1092.3,1231.4H1095.8V1246.4H1092.3zM1104.5,1231.4H1106.3V1246.3H1104.5zM1110.1,1231.4H1115.8V1254.3H1110.1zM1130.3,1231.4H1134.1V1259.5H1130.3zM1134.3,1214.5H1137.3V1231.4H1134.3zM1142.1,1231.4H1150.7V1238.2H1142.1zM1149.7,1209.9H1151.3V1231.4H1149.7zM1158.8,1214.0H1166.6V1231.4H1158.8zM1174.4,1231.4H1182.5V1242.0H1174.4zM1209.4,1214.2H1211.6V1231.4H1209.4zM1272.1,1231.4H1275.3V1241.8H1272.1zM1276.9,1217.5H1278.8V1231.4H1276.9zM1285.5,1220.7H1287.7V1231.4H1285.5zM1290.4,1193.1H1304.7V1231.4H1290.4zM1320.5,1231.4H1322.1V1248.9H1320.5zM1347.4,1231.4H1350.7V1249.7H1347.4zM1361.2,1223.9H1364.7V1231.4H1361.2zM1361.2,1231.4H1364.7V1248.3H1361.2zM1368.2,1231.4H1370.3V1247.7H1368.2zM1381.3,1198.2H1383.0V1231.4H1381.3zM1390.2,1231.4H1396.7V1250.3H1390.2z" fill="#cf2027"/>
<path d="M939.7,1179.0H941.7V1279.9H939.7" fill="none" stroke="#6e6e6e" stroke-width="0.9"/>
<text x="938.6" y="1184.4" font-size="16.6" text-anchor="end" class="r k">50</text>
<text x="938.6" y="1286.4" font-size="16.6" text-anchor="end" class="r k">50</text>
<text x="925.0" y="1235.7" font-size="17" text-anchor="middle" transform="rotate(-90 925.0 1235.7)" textLength="33.0" lengthAdjust="spacingAndGlyphs" class="r k">% in</text>
<text x="937.9" y="1229.9" font-size="17.3" text-anchor="middle" transform="rotate(-90 937.9 1229.9)" textLength="56.3" lengthAdjust="spacingAndGlyphs" class="r k">Human</text>
<text x="954.6" y="1312.9" font-size="15.6" text-anchor="middle" class="r k">1</text>
<text x="993.6" y="1298.1" font-size="15.6" text-anchor="middle" class="r k">2</text>
<text x="1030.7" y="1312.9" font-size="15.6" text-anchor="middle" class="r k">3</text>
<text x="1063.0" y="1298.1" font-size="15.6" text-anchor="middle" class="r k">4</text>
<text x="1093.4" y="1312.9" font-size="15.6" text-anchor="middle" class="r k">5</text>
<text x="1119.0" y="1298.1" font-size="15.6" text-anchor="middle" class="r k">6</text>
<text x="1145.6" y="1312.9" font-size="15.6" text-anchor="middle" class="r k">7</text>
<text x="1171.2" y="1298.1" font-size="15.6" text-anchor="middle" class="r k">8</text>
<text x="1194.9" y="1312.9" font-size="15.6" text-anchor="middle" class="r k">9</text>
<text x="1215.6" y="1298.1" font-size="15.6" text-anchor="middle" class="r k">10</text>
<text x="1237.9" y="1312.9" font-size="15.6" text-anchor="middle" class="r k">11</text>
<text x="1255.9" y="1298.1" font-size="15.6" text-anchor="middle" class="r k">12</text>
<text x="1276.9" y="1312.9" font-size="15.6" text-anchor="middle" class="r k">13</text>
<text x="1291.5" y="1298.1" font-size="15.6" text-anchor="middle" class="r k">14</text>
<text x="1308.4" y="1312.9" font-size="15.6" text-anchor="middle" class="r k">15</text>
<text x="1328.6" y="1298.1" font-size="15.6" text-anchor="middle" class="r k">16</text>
<text x="1342.1" y="1312.9" font-size="15.6" text-anchor="middle" class="r k">17</text>
<text x="1355.5" y="1298.1" font-size="15.6" text-anchor="middle" class="r k">18</text>
<text x="1366.8" y="1312.9" font-size="15.6" text-anchor="middle" class="r k">19</text>
<text x="1379.2" y="1298.1" font-size="15.6" text-anchor="middle" class="r k">20</text>
<text x="1393.2" y="1312.9" font-size="15.6" text-anchor="middle" class="r k">21</text>
<text x="1403.9" y="1298.1" font-size="15.6" text-anchor="middle" class="r k">22</text>
<rect x="1626.8" y="837.4" width="533.0" height="402.9" rx="12" ry="12" fill="none" stroke="#ababab" stroke-width="1.3"/>
<line x1="1626.80" y1="1117.40" x2="2159.80" y2="1117.40" stroke="#ababab" stroke-width="1.4"/>
<line x1="1659.17" y1="874.47" x2="2131.62" y2="874.47" stroke="#3a3a3a" stroke-width="1.6"/>
<path d="M1659.2,874.5h1.64v1.1h-1.64zM1660.8,874.5h2.46v0.3h-2.46zM1663.2,874.5h2.35v0.9h-2.35zM1665.5,874.5h2.16v0.3h-2.16zM1667.6,874.5h2.32v0.6h-2.32zM1669.8,874.5h2.30v0.8h-2.30zM1672.1,874.5h2.25v1.0h-2.25zM1674.3,874.5h1.77v0.9h-1.77zM1676.0,874.5h2.48v1.1h-2.48zM1678.4,874.5h2.41v0.4h-2.41zM1680.8,874.5h2.11v1.1h-2.11zM1682.9,874.5h1.73v0.4h-1.73zM1684.5,874.5h2.23v0.9h-2.23zM1686.7,874.5h2.48v0.6h-2.48zM1689.2,874.5h1.48v0.9h-1.48zM1690.6,874.5h2.34v1.0h-2.34zM1692.9,874.5h1.50v0.7h-1.50zM1694.3,874.5h1.53v0.7h-1.53zM1695.8,874.5h2.27v0.8h-2.27zM1698.0,874.5h1.99v0.6h-1.99zM1700.0,874.5h1.97v1.4h-1.97zM1701.9,874.5h1.84v0.7h-1.84zM1703.7,874.5h2.17v1.3h-2.17zM1705.8,874.5h1.44v1.0h-1.44zM1707.2,874.5h2.07v1.0h-2.07zM1709.2,874.5h1.96v1.6h-1.96zM1711.1,874.5h2.35v2.8h-2.35zM1713.4,874.5h1.55v1.8h-1.55zM1714.9,874.5h2.01v0.6h-2.01zM1716.9,874.5h1.92v0.9h-1.92zM1718.7,874.5h1.88v1.0h-1.88zM1720.6,874.5h1.98v0.9h-1.98zM1722.5,874.5h2.27v0.8h-2.27zM1724.7,874.5h1.41v1.3h-1.41zM1726.1,874.5h1.79v0.8h-1.79zM1727.8,874.5h1.52v1.0h-1.52zM1729.3,874.5h2.30v0.4h-2.30zM1731.5,874.5h2.02v0.4h-2.02zM1733.5,874.5h1.86v1.5h-1.86zM1735.3,874.5h2.21v3.8h-2.21zM1737.5,874.5h1.99v2.1h-1.99zM1739.4,874.5h2.22v3.4h-2.22zM1741.6,874.5h1.46v2.4h-1.46zM1743.0,874.5h2.21v3.7h-2.21zM1745.1,874.5h1.57v1.3h-1.57zM1746.7,874.5h1.64v1.0h-1.64zM1748.3,874.5h2.33v1.3h-2.33zM1750.5,874.5h1.74v1.2h-1.74zM1752.2,874.5h1.80v0.7h-1.80zM1754.0,874.5h2.47v0.4h-2.47zM1756.4,874.5h2.49v0.4h-2.49zM1758.8,874.5h2.33v0.7h-2.33zM1761.1,874.5h1.76v0.4h-1.76zM1762.8,874.5h2.03v1.4h-2.03zM1764.8,874.5h2.32v0.7h-2.32zM1767.1,874.5h1.66v0.5h-1.66zM1768.7,874.5h1.53v1.3h-1.53zM1770.2,874.5h1.59v0.7h-1.59zM1771.7,874.5h1.50v0.6h-1.50zM1773.2,874.5h1.57v1.4h-1.57zM1774.7,874.5h2.07v1.3h-2.07zM1776.7,874.5h1.73v1.6h-1.73zM1778.4,874.5h1.65v1.5h-1.65zM1780.0,874.5h2.10v1.6h-2.10zM1782.1,874.5h2.04v0.7h-2.04zM1784.1,874.5h2.16v1.3h-2.16zM1786.2,874.5h1.39v1.3h-1.39zM1787.5,874.5h1.64v0.8h-1.64zM1789.1,874.5h1.88v2.0h-1.88zM1790.9,874.5h1.59v1.2h-1.59zM1792.5,874.5h2.27v1.3h-2.27zM1794.7,874.5h2.49v2.0h-2.49zM1797.1,874.5h2.23v1.4h-2.23zM1799.3,874.5h2.03v1.7h-2.03zM1801.3,874.5h2.38v0.6h-2.38zM1803.6,874.5h2.40v1.0h-2.40zM1806.0,874.5h1.39v1.4h-1.39zM1807.3,874.5h1.62v1.2h-1.62zM1808.9,874.5h1.50v1.7h-1.50zM1810.3,874.5h1.82v0.8h-1.82zM1812.1,874.5h2.39v0.6h-2.39zM1814.4,874.5h2.41v2.1h-2.41zM1816.8,874.5h1.65v1.8h-1.65zM1818.4,874.5h1.92v0.8h-1.92zM1820.3,874.5h1.68v1.2h-1.68zM1821.9,874.5h1.70v0.9h-1.70zM1823.5,874.5h2.07v1.2h-2.07zM1825.6,874.5h2.43v1.8h-2.43zM1827.9,874.5h1.52v1.7h-1.52zM1829.4,874.5h1.60v1.5h-1.60zM1831.0,874.5h1.77v1.9h-1.77zM1832.7,874.5h1.81v1.9h-1.81zM1834.4,874.5h2.40v0.8h-2.40zM1836.8,874.5h2.37v0.6h-2.37zM1839.1,874.5h1.58v1.0h-1.58zM1840.6,874.5h2.12v1.2h-2.12zM1842.7,874.5h2.02v3.2h-2.02zM1844.7,874.5h1.42v2.1h-1.42zM1846.0,874.5h1.96v1.5h-1.96zM1848.0,874.5h1.93v1.4h-1.93zM1849.8,874.5h1.92v2.3h-1.92zM1851.7,874.5h2.41v2.1h-2.41zM1854.1,874.5h2.20v1.2h-2.20zM1856.2,874.5h1.42v2.2h-1.42zM1857.6,874.5h1.93v1.6h-1.93zM1859.5,874.5h2.17v1.3h-2.17zM1861.6,874.5h1.92v1.8h-1.92zM1863.5,874.5h2.22v0.7h-2.22zM1865.6,874.5h1.40v2.6h-1.40zM1867.0,874.5h2.36v2.2h-2.36zM1869.3,874.5h2.35v1.9h-2.35zM1871.6,874.5h1.38v1.5h-1.38zM1872.9,874.5h1.86v1.9h-1.86zM1874.7,874.5h2.13v1.8h-2.13zM1876.8,874.5h2.40v1.0h-2.40zM1879.2,874.5h1.56v1.6h-1.56zM1880.7,874.5h2.12v2.9h-2.12zM1882.8,874.5h1.92v1.5h-1.92zM1884.6,874.5h1.56v1.4h-1.56zM1886.1,874.5h2.28v1.6h-2.28zM1888.4,874.5h1.91v1.8h-1.91zM1890.2,874.5h2.47v3.3h-2.47zM1892.6,874.5h1.49v3.6h-1.49zM1894.1,874.5h2.38v1.5h-2.38zM1896.4,874.5h2.45v2.7h-2.45zM1898.8,874.5h1.40v1.7h-1.40zM1900.1,874.5h2.37v1.0h-2.37zM1902.5,874.5h1.60v1.4h-1.60zM1904.0,874.5h2.10v0.7h-2.10zM1906.1,874.5h1.80v1.1h-1.80zM1907.8,874.5h1.67v1.7h-1.67zM1909.4,874.5h1.84v2.3h-1.84zM1911.2,874.5h2.28v1.8h-2.28zM1913.5,874.5h1.94v2.2h-1.94zM1915.4,874.5h1.13v2.0h-1.13zM1976.0,874.5h2.39v2.2h-2.39zM1978.3,874.5h1.61v2.2h-1.61zM1979.9,874.5h1.41v2.6h-1.41zM1981.2,874.5h1.47v1.4h-1.47zM1982.7,874.5h1.70v2.1h-1.70zM1984.3,874.5h1.62v1.0h-1.62zM1985.9,874.5h2.18v1.3h-2.18zM1988.0,874.5h1.44v2.3h-1.44zM1989.4,874.5h2.34v1.3h-2.34zM1991.7,874.5h1.71v2.9h-1.71zM1993.4,874.5h1.64v1.5h-1.64zM1994.9,874.5h1.68v1.6h-1.68zM1996.6,874.5h1.92v1.6h-1.92zM1998.4,874.5h2.39v2.3h-2.39zM2000.8,874.5h2.02v1.3h-2.02zM2002.7,874.5h1.93v1.7h-1.93zM2004.6,874.5h2.14v3.2h-2.14zM2006.7,874.5h2.39v1.7h-2.39zM2009.0,874.5h2.41v1.5h-2.41zM2011.4,874.5h2.29v2.1h-2.29zM2013.6,874.5h1.93v2.9h-1.93zM2015.5,874.5h2.48v3.0h-2.48zM2017.9,874.5h2.04v0.9h-2.04zM2019.9,874.5h1.84v2.3h-1.84zM2021.7,874.5h1.79v3.2h-1.79zM2023.5,874.5h1.81v3.0h-1.81zM2025.2,874.5h1.64v2.1h-1.64zM2026.8,874.5h1.54v1.9h-1.54zM2028.3,874.5h1.43v2.6h-1.43zM2029.7,874.5h2.08v4.1h-2.08zM2031.7,874.5h2.46v8.5h-2.46zM2034.1,874.5h2.03v1.3h-2.03zM2036.1,874.5h1.54v1.9h-1.54zM2037.6,874.5h2.45v0.9h-2.45zM2040.0,874.5h1.67v0.9h-1.67zM2041.6,874.5h1.66v0.9h-1.66zM2043.2,874.5h0.29v1.9h-0.29zM2056.7,874.5h1.46v1.9h-1.46zM2058.1,874.5h2.47v2.1h-2.47zM2060.5,874.5h2.52v2.5h-2.52zM2063.0,874.5h1.61v1.8h-1.61zM2064.6,874.5h2.24v2.5h-2.24zM2066.8,874.5h1.88v5.5h-1.88zM2068.6,874.5h2.44v8.7h-2.44zM2071.0,874.5h2.46v3.3h-2.46zM2073.4,874.5h1.71v3.9h-1.71zM2075.0,874.5h1.95v4.8h-1.95zM2077.0,874.5h2.23v1.8h-2.23zM2079.1,874.5h1.85v2.8h-1.85zM2080.9,874.5h1.84v2.7h-1.84zM2082.7,874.5h1.91v1.7h-1.91zM2084.6,874.5h1.88v1.5h-1.88zM2086.4,874.5h2.35v3.4h-2.35zM2088.7,874.5h1.47v1.2h-1.47zM2090.1,874.5h1.05v2.4h-1.05z" fill="#3a3a3a"/>
<path d="M1667.6,873.4h1.80v1.1h-1.80zM1669.4,873.4h1.61v1.1h-1.61zM1671.0,873.3h2.13v1.1h-2.13zM1673.0,873.4h2.37v1.1h-2.37zM1675.4,873.3h2.37v1.2h-2.37zM1677.7,873.1h1.86v1.4h-1.86zM1679.5,873.3h2.38v1.2h-2.38zM1681.8,873.4h2.15v1.1h-2.15zM1683.9,873.4h1.67v1.1h-1.67zM1685.5,873.1h2.13v1.4h-2.13zM1687.6,873.3h2.45v1.2h-2.45zM1690.0,873.2h2.40v1.2h-2.40zM1692.4,873.1h2.17v1.3h-2.17zM1694.5,873.1h1.98v1.4h-1.98zM1696.4,873.4h0.38v1.1h-0.38zM1817.2,873.1h1.85v1.4h-1.85zM1819.0,872.9h0.11v1.6h-0.11zM1921.7,872.2h2.33v2.3h-2.33zM1924.0,872.1h1.64v2.3h-1.64zM1925.6,872.4h2.28v2.0h-2.28zM1927.8,872.2h1.63v2.2h-1.63zM1929.4,872.6h1.38v1.9h-1.38zM1930.7,872.4h1.49v2.1h-1.49zM1932.2,872.2h1.70v2.3h-1.70zM1933.8,872.0h2.24v2.5h-2.24zM1936.0,872.0h1.74v2.5h-1.74zM1937.7,872.2h1.62v2.3h-1.62zM1939.3,872.2h1.88v2.2h-1.88zM1941.1,871.9h2.10v2.5h-2.10zM1943.2,872.0h2.01v2.4h-2.01zM1945.1,872.0h1.51v2.4h-1.51zM1946.6,872.2h2.47v2.2h-2.47zM1949.0,870.2h2.27v4.2h-2.27zM1951.2,869.9h2.01v4.5h-2.01zM1953.2,870.0h2.18v4.5h-2.18zM1955.3,870.6h2.17v3.8h-2.17zM1957.4,870.8h1.48v3.6h-1.48zM1958.9,870.3h2.12v4.1h-2.12zM1960.9,869.6h1.82v4.9h-1.82zM1962.7,869.4h1.96v5.0h-1.96zM1964.6,870.4h2.32v4.1h-2.32zM1966.9,870.0h2.40v4.5h-2.40zM1969.3,869.8h1.50v4.7h-1.50zM2048.8,873.1h1.66v1.3h-1.66zM2050.4,872.8h1.61v1.7h-1.61zM2051.9,873.1h2.02v1.4h-2.02zM2053.9,872.8h2.23v1.7h-2.23zM2056.1,872.9h0.67v1.6h-0.67zM2093.8,872.6h2.13v1.8h-2.13zM2095.8,872.3h2.11v2.2h-2.11zM2097.9,872.4h2.06v2.0h-2.06zM2099.9,872.3h2.15v2.2h-2.15zM2102.0,872.5h2.02v1.9h-2.02zM2104.0,872.3h1.79v2.2h-1.79zM2105.7,872.8h1.51v1.7h-1.51zM2107.2,872.4h2.08v2.0h-2.08zM2109.2,872.3h0.48v2.2h-0.48z" fill="#3a3a3a"/>
<path d="M1760.3,874.5h1.97v13.2h-1.97zM1762.2,874.5h2.36v13.2h-2.36zM1764.5,874.5h2.03v22.6h-2.03zM1766.5,874.5h1.57v20.8h-1.57zM1768.0,874.5h2.25v14.0h-2.25zM1770.2,874.5h2.06v14.8h-2.06zM1772.2,874.5h1.89v17.2h-1.89zM1774.1,874.5h2.38v17.6h-2.38zM1776.4,874.5h1.46v19.6h-1.46zM1777.8,874.5h2.16v18.6h-2.16zM1779.9,874.5h1.68v28.7h-1.68zM1781.5,874.5h1.81v29.9h-1.81zM1783.3,874.5h1.39v13.9h-1.39zM1784.6,874.5h2.48v14.4h-2.48zM1787.1,874.5h1.41v19.6h-1.41zM1788.4,874.5h2.06v18.2h-2.06zM1790.4,874.5h1.13v13.3h-1.13z" fill="#e8a71f"/>
<line x1="1659.17" y1="957.57" x2="2131.62" y2="957.57" stroke="#3a3a3a" stroke-width="1.6"/>
<path d="M1696.8,957.6h2.09v9.6h-2.09zM1698.8,957.6h1.80v8.7h-1.80zM1700.5,957.6h2.26v8.9h-2.26zM1702.8,957.6h1.75v10.7h-1.75zM1704.5,957.6h1.64v8.9h-1.64zM1706.0,957.6h1.65v10.7h-1.65zM1707.6,957.6h2.49v11.0h-2.49zM1710.1,957.6h1.96v15.9h-1.96zM1712.0,957.6h2.11v18.1h-2.11zM1714.0,957.6h1.78v10.4h-1.78zM1715.8,957.6h1.75v7.4h-1.75zM1717.5,957.6h1.53v12.8h-1.53zM1719.0,957.6h1.97v10.6h-1.97zM1720.9,957.6h2.17v8.6h-2.17zM1723.0,957.6h1.96v7.2h-1.96zM1724.9,957.6h2.43v9.3h-2.43zM1727.3,957.6h2.38v7.8h-2.38zM1729.6,957.6h1.06v5.1h-1.06zM1789.4,957.6h2.48v5.8h-2.48zM1791.8,957.6h2.24v6.0h-2.24zM1794.0,957.6h2.12v4.5h-2.12zM1796.1,957.6h2.14v5.8h-2.14zM1798.2,957.6h2.26v8.7h-2.26zM1800.4,957.6h1.61v7.0h-1.61zM1801.9,957.6h1.99v7.8h-1.99zM1803.9,957.6h1.98v8.5h-1.98zM1805.8,957.6h2.48v10.0h-2.48zM1808.3,957.6h2.36v4.6h-2.36zM1810.6,957.6h1.96v3.6h-1.96zM1812.5,957.6h1.72v3.5h-1.72zM1814.1,957.6h2.06v2.9h-2.06zM1816.1,957.6h1.09v2.3h-1.09zM1847.6,957.6h1.73v7.8h-1.73zM1849.3,957.6h2.30v7.9h-2.30zM1851.6,957.6h2.03v6.5h-2.03zM1853.5,957.6h2.18v6.7h-2.18zM1855.7,957.6h1.89v8.3h-1.89zM1857.5,957.6h1.99v10.2h-1.99zM1859.4,957.6h2.14v4.4h-2.14zM1861.5,957.6h1.65v7.3h-1.65zM1863.1,957.6h2.11v3.5h-2.11zM1865.2,957.6h2.33v2.9h-2.33zM1867.5,957.6h1.67v4.3h-1.67zM1869.1,957.6h1.97v2.5h-1.97zM1871.0,957.6h0.48v2.4h-0.48zM1915.1,957.6h2.28v2.7h-2.28zM1917.3,957.6h1.59v2.1h-1.59zM1918.9,957.6h1.64v1.6h-1.64zM1920.5,957.6h2.19v1.4h-2.19zM1922.6,957.6h2.18v1.7h-2.18zM1924.8,957.6h2.19v1.8h-2.19zM1926.9,957.6h2.15v2.3h-2.15zM1929.0,957.6h2.11v2.3h-2.11zM1931.1,957.6h1.41v2.0h-1.41zM1932.4,957.6h2.26v2.4h-2.26zM1934.6,957.6h1.40v1.8h-1.40zM1936.0,957.6h1.75v1.7h-1.75zM1937.7,957.6h2.51v1.9h-2.51zM1940.1,957.6h2.14v2.2h-2.14zM1942.2,957.6h2.42v2.8h-2.42zM1944.6,957.6h1.02v1.5h-1.02zM1985.3,957.6h1.47v5.1h-1.47zM1986.7,957.6h1.73v5.3h-1.73zM1988.4,957.6h1.90v3.8h-1.90zM1990.2,957.6h2.08v3.6h-2.08zM1992.2,957.6h2.18v2.5h-2.18zM1994.4,957.6h2.47v2.0h-2.47zM1996.8,957.6h1.75v2.8h-1.75zM2006.4,957.6h2.43v3.4h-2.43zM2008.8,957.6h2.30v3.4h-2.30zM2011.1,957.6h2.30v4.0h-2.30zM2013.3,957.6h1.42v2.8h-1.42zM2014.7,957.6h1.43v2.5h-1.43zM2016.1,957.6h1.71v4.5h-1.71zM2017.7,957.6h1.61v3.6h-1.61zM2019.3,957.6h1.72v5.8h-1.72zM2021.0,957.6h2.34v5.3h-2.34zM2023.3,957.6h2.24v4.8h-2.24zM2025.4,957.6h1.87v5.6h-1.87zM2027.3,957.6h2.11v9.0h-2.11zM2029.3,957.6h1.95v10.8h-1.95zM2031.2,957.6h2.16v12.6h-2.16zM2033.3,957.6h1.55v9.5h-1.55zM2034.8,957.6h2.19v8.7h-2.19zM2037.0,957.6h1.25v8.6h-1.25zM2058.0,957.6h2.15v3.1h-2.15zM2060.1,957.6h1.80v4.2h-1.80zM2061.9,957.6h2.48v3.0h-2.48zM2064.3,957.6h2.35v5.0h-2.35zM2066.6,957.6h1.77v5.0h-1.77zM2068.3,957.6h2.31v4.4h-2.31zM2070.6,957.6h2.00v4.6h-2.00zM2072.5,957.6h1.40v3.5h-1.40zM2073.9,957.6h1.75v4.2h-1.75zM2075.6,957.6h1.02v3.2h-1.02zM2112.3,957.6h2.43v1.3h-2.43zM2114.7,957.6h0.32v1.8h-0.32z" fill="#3a3a3a"/>
<path d="M1659.2,954.4h2.23v3.2h-2.23zM1661.4,955.2h2.32v2.4h-2.32zM1663.6,954.5h1.77v3.1h-1.77zM1665.4,953.9h2.42v3.6h-2.42zM1667.7,954.6h1.78v2.9h-1.78zM1669.4,954.2h2.30v3.3h-2.30zM1671.7,954.0h1.64v3.6h-1.64zM1673.3,954.3h2.16v3.3h-2.16zM1675.4,954.6h1.64v3.0h-1.64zM1677.0,955.1h2.40v2.5h-2.40zM1679.3,955.1h1.92v2.5h-1.92zM1681.2,955.1h1.49v2.5h-1.49zM1682.6,954.9h2.09v2.7h-2.09zM1684.7,954.8h1.92v2.7h-1.92zM1686.5,955.3h2.24v2.3h-2.24zM1688.7,954.0h2.17v3.6h-2.17zM1690.9,954.9h2.14v2.7h-2.14zM1692.9,954.1h2.37v3.4h-2.37zM1695.3,954.3h1.54v3.3h-1.54zM1732.5,955.5h1.39v2.1h-1.39zM1733.8,955.0h1.36v2.6h-1.36zM1745.7,954.5h1.91v3.1h-1.91zM1747.6,954.3h1.60v3.3h-1.60zM1749.1,955.1h2.36v2.5h-2.36zM1751.4,955.4h0.94v2.1h-0.94zM1818.5,951.7h1.43v5.9h-1.43zM1819.9,952.2h1.68v5.4h-1.68zM1821.5,951.8h1.45v5.8h-1.45zM1822.9,951.8h1.91v5.8h-1.91zM1824.8,952.2h1.69v5.4h-1.69zM1826.4,951.4h1.39v6.2h-1.39zM1827.8,952.1h1.66v5.4h-1.66zM1829.4,952.1h1.41v5.5h-1.41zM1830.7,948.5h1.89v9.1h-1.89zM1832.6,951.9h2.05v5.7h-2.05zM1834.6,950.7h1.71v6.8h-1.71zM1836.2,951.1h2.44v6.5h-2.44zM1838.6,951.0h2.37v6.6h-2.37zM1840.9,953.1h2.11v4.4h-2.11zM1843.0,951.6h2.28v6.0h-2.28zM1845.2,952.4h2.29v5.2h-2.29zM1847.5,952.5h0.20v5.1h-0.20zM1874.1,953.0h1.50v4.6h-1.50zM1875.5,951.2h2.23v6.4h-2.23zM1877.7,951.0h2.28v6.6h-2.28zM1879.9,951.5h2.35v6.1h-2.35zM1882.2,951.7h1.93v5.9h-1.93zM1884.1,953.4h2.40v4.1h-2.40zM1886.5,952.9h1.45v4.7h-1.45zM1887.9,950.7h1.39v6.9h-1.39zM1889.2,953.4h2.23v4.2h-2.23zM1891.4,951.1h2.03v6.5h-2.03zM1893.4,951.0h2.09v6.6h-2.09zM1895.4,952.8h2.19v4.8h-2.19zM1897.6,951.5h2.10v6.0h-2.10zM1899.6,954.8h1.78v2.7h-1.78zM1901.3,955.4h2.27v2.2h-2.27zM1903.6,954.8h2.35v2.8h-2.35zM1905.9,955.0h1.64v2.6h-1.64zM1907.5,955.8h1.09v1.7h-1.09zM1946.9,953.2h2.44v4.4h-2.44zM1949.3,952.7h2.03v4.9h-2.03zM1951.2,952.3h2.24v5.3h-2.24zM1953.4,953.0h1.85v4.6h-1.85zM1955.2,952.5h2.34v5.1h-2.34zM1957.5,953.2h2.36v4.4h-2.36zM1959.8,952.8h1.82v4.8h-1.82zM1961.6,952.2h1.60v5.3h-1.60zM1963.2,952.2h2.49v5.4h-2.49zM1965.6,953.7h2.30v3.9h-2.30zM1967.9,952.8h1.65v4.7h-1.65zM1969.4,951.9h1.90v5.7h-1.90zM1971.3,951.6h2.27v6.0h-2.27zM1973.5,953.4h1.67v4.2h-1.67zM1975.1,952.2h1.72v5.3h-1.72zM1976.8,953.8h1.76v3.8h-1.76zM1978.5,952.6h1.50v5.0h-1.50zM1990.5,954.9h1.60v2.7h-1.60zM1992.1,955.8h1.68v1.8h-1.68zM2076.6,953.2h1.57v4.4h-1.57zM2078.1,953.0h1.75v4.6h-1.75zM2079.8,953.5h1.90v4.1h-1.90zM2081.6,952.9h2.22v4.7h-2.22zM2083.8,952.9h1.73v4.7h-1.73zM2085.5,953.2h2.49v4.4h-2.49zM2087.9,953.0h2.10v4.6h-2.10zM2090.0,953.5h1.77v4.1h-1.77zM2091.7,952.0h2.13v5.5h-2.13zM2093.8,953.0h1.44v4.6h-1.44zM2095.2,952.7h1.70v4.9h-1.70zM2096.8,953.0h1.57v4.6h-1.57zM2098.3,954.0h1.96v3.6h-1.96zM2100.2,952.7h2.24v4.9h-2.24zM2102.4,952.7h1.81v4.8h-1.81zM2104.2,952.4h1.51v5.2h-1.51zM2105.7,953.4h2.51v4.2h-2.51zM2108.1,952.2h1.76v5.4h-1.76zM2109.8,952.4h2.50v5.2h-2.50zM2112.3,952.1h0.07v5.5h-0.07z" fill="#3a3a3a"/>
<path d="M2038.2,938.3h2.28v19.3h-2.28zM2040.4,941.7h2.52v15.9h-2.52zM2042.9,942.4h1.91v15.1h-1.91zM2044.7,943.6h1.81v14.0h-1.81zM2046.5,942.7h2.35v14.9h-2.35zM2048.8,943.5h1.82v14.1h-1.82zM2050.6,943.9h1.95v13.7h-1.95zM2052.5,943.0h1.84v14.6h-1.84zM2054.3,943.1h1.71v14.5h-1.71zM2055.9,946.1h2.09v11.5h-2.09zM2058.0,945.7h0.12v11.8h-0.12z" fill="#3a3a3a"/>
<path d="M1760.3,957.6h2.35v12.0h-2.35zM1762.6,957.6h2.09v12.1h-2.09zM1764.6,957.6h1.40v12.0h-1.40zM1766.0,957.6h2.26v12.9h-2.26zM1768.2,957.6h1.99v11.8h-1.99zM1770.1,957.6h2.28v11.0h-2.28zM1772.3,957.6h1.66v13.7h-1.66zM1774.0,957.6h2.03v18.9h-2.03zM1775.9,957.6h1.55v17.0h-1.55zM1777.4,957.6h1.62v15.1h-1.62zM1779.0,957.6h1.61v12.6h-1.61zM1780.6,957.6h1.83v10.1h-1.83zM1782.3,957.6h2.35v9.1h-2.35zM1784.6,957.6h1.54v11.8h-1.54zM1786.1,957.6h1.55v9.5h-1.55zM1787.6,957.6h1.28v9.8h-1.28z" fill="#e8a71f"/>
<line x1="1659.17" y1="1041.74" x2="2131.62" y2="1041.74" stroke="#3a3a3a" stroke-width="1.6"/>
<path d="M1696.8,1041.7h1.54v2.1h-1.54zM1698.2,1041.7h2.29v1.5h-2.29zM1700.5,1041.7h2.01v1.7h-2.01zM1702.4,1041.7h1.51v1.9h-1.51zM1703.9,1041.7h2.09v1.7h-2.09zM1705.9,1041.7h2.01v2.1h-2.01zM1707.9,1041.7h1.63v1.8h-1.63zM1709.5,1041.7h1.78v1.8h-1.78zM1711.2,1041.7h2.30v1.9h-2.30zM1713.5,1041.7h1.73v2.2h-1.73zM1715.1,1041.7h2.30v2.3h-2.30zM1717.4,1041.7h2.33v2.3h-2.33zM1719.7,1041.7h2.37v2.6h-2.37zM1722.0,1041.7h1.29v1.9h-1.29zM1842.3,1041.7h1.85v2.3h-1.85zM1844.1,1041.7h0.89v2.3h-0.89zM1858.2,1041.7h1.56v1.8h-1.56zM1859.7,1041.7h1.40v2.0h-1.40zM1861.1,1041.7h1.98v1.8h-1.98zM1863.0,1041.7h1.45v1.8h-1.45zM1864.4,1041.7h1.80v2.3h-1.80zM1985.3,1041.7h1.98v6.3h-1.98zM1987.2,1041.7h0.77v5.6h-0.77zM2014.4,1041.7h2.24v6.4h-2.24zM2016.6,1041.7h2.07v7.6h-2.07zM2018.6,1041.7h1.46v6.8h-1.46zM2020.0,1041.7h1.41v7.7h-1.41zM2021.4,1041.7h2.33v8.0h-2.33zM2023.6,1041.7h1.74v8.2h-1.74zM2025.3,1041.7h1.93v11.1h-1.93zM2027.2,1041.7h2.29v12.8h-2.29zM2029.4,1041.7h1.50v16.7h-1.50zM2030.9,1041.7h2.37v21.5h-2.37zM2033.2,1041.7h2.28v12.0h-2.28zM2035.5,1041.7h1.99v10.8h-1.99zM2037.4,1041.7h0.32v8.1h-0.32zM2067.3,1041.7h1.51v2.2h-1.51zM2068.8,1041.7h2.49v1.8h-2.49zM2071.2,1041.7h1.44v2.0h-1.44z" fill="#3a3a3a"/>
<path d="M1659.2,1032.2h1.41v9.5h-1.41zM1660.5,1032.5h1.88v9.2h-1.88zM1662.4,1032.7h1.75v9.1h-1.75zM1664.1,1031.9h2.14v9.8h-2.14zM1666.2,1032.4h1.66v9.3h-1.66zM1667.8,1031.9h1.40v9.8h-1.40zM1669.1,1031.8h1.80v9.9h-1.80zM1670.9,1032.1h2.46v9.7h-2.46zM1673.3,1032.0h1.70v9.8h-1.70zM1674.9,1032.5h2.52v9.3h-2.52zM1677.4,1032.3h1.59v9.4h-1.59zM1678.9,1032.0h1.67v9.7h-1.67zM1680.6,1032.0h2.04v9.7h-2.04zM1682.6,1031.8h2.08v9.9h-2.08zM1684.6,1032.1h2.32v9.6h-2.32zM1686.9,1031.4h2.22v10.4h-2.22zM1689.0,1032.1h1.70v9.7h-1.70zM1690.7,1031.6h1.96v10.2h-1.96zM1692.6,1031.8h2.14v9.9h-2.14zM1694.7,1031.6h2.13v10.2h-2.13zM1921.7,1032.6h1.81v9.1h-1.81zM1923.5,1031.8h2.45v9.9h-2.45zM1925.9,1032.8h1.42v8.9h-1.42zM1927.3,1032.9h2.31v8.9h-2.31zM1929.5,1032.0h2.30v9.7h-2.30zM1931.8,1031.8h2.41v9.9h-2.41zM1934.1,1032.4h1.45v9.4h-1.45zM1935.5,1031.9h2.52v9.9h-2.52zM1938.0,1032.3h2.10v9.4h-2.10zM1940.1,1030.6h2.30v11.2h-2.30zM1942.3,1032.7h2.15v9.0h-2.15zM1944.4,1032.5h1.81v9.2h-1.81zM1946.2,1033.0h0.75v8.7h-0.75z" fill="#3a3a3a"/>
<path d="M1699.4,1039.7h2.06v2.0h-2.06zM1701.4,1040.1h1.99v1.6h-1.99zM1703.4,1040.2h1.39v1.5h-1.39zM1728.5,1037.9h1.94v3.8h-1.94zM1730.4,1039.4h2.33v2.3h-2.33zM1732.7,1038.7h1.78v3.1h-1.78zM1734.4,1038.0h1.96v3.8h-1.96zM1736.3,1039.5h2.46v2.2h-2.46zM1738.7,1039.0h1.45v2.8h-1.45zM1740.1,1037.7h2.07v4.0h-2.07zM1742.2,1038.3h1.51v3.5h-1.51zM1743.6,1039.4h2.07v2.3h-2.07zM1745.6,1039.2h1.55v2.6h-1.55zM1747.1,1039.4h2.30v2.3h-2.30zM1749.4,1039.8h2.49v2.0h-2.49zM1751.8,1039.2h2.07v2.5h-2.07zM1753.8,1039.6h1.91v2.1h-1.91zM1755.7,1038.5h1.74v3.2h-1.74zM1757.4,1039.3h2.50v2.4h-2.50zM1759.8,1038.2h0.49v3.5h-0.49zM1819.0,1038.3h1.96v3.5h-1.96zM1820.9,1038.7h1.77v3.0h-1.77zM1822.7,1038.6h1.76v3.2h-1.76zM1824.4,1039.5h1.98v2.3h-1.98zM1826.3,1037.9h1.66v3.9h-1.66zM1827.9,1038.5h2.12v3.2h-2.12zM1830.0,1039.7h2.29v2.0h-2.29zM1832.2,1039.5h1.39v2.2h-1.39zM1833.6,1039.4h2.39v2.3h-2.39zM1835.9,1038.5h1.62v3.3h-1.62zM1837.5,1038.3h1.66v3.4h-1.66zM1839.1,1039.3h2.40v2.4h-2.40zM1841.4,1038.1h2.30v3.6h-2.30zM1843.7,1038.9h1.65v2.8h-1.65zM1845.3,1038.5h1.52v3.3h-1.52zM1846.7,1039.2h1.83v2.5h-1.83zM1848.5,1039.6h1.67v2.2h-1.67zM1850.1,1039.2h2.13v2.5h-2.13zM1852.2,1038.2h1.39v3.5h-1.39zM1853.6,1038.7h1.68v3.0h-1.68zM1855.2,1039.1h1.71v2.6h-1.71zM1856.9,1039.7h1.40v2.0h-1.40zM1867.5,1039.8h2.23v2.0h-2.23zM1869.7,1038.5h2.17v3.3h-2.17zM1871.8,1038.7h2.37v3.0h-2.37zM1874.1,1038.4h1.71v3.4h-1.71zM1875.7,1038.9h2.42v2.8h-2.42zM1878.1,1038.2h2.16v3.5h-2.16zM1880.2,1039.0h1.46v2.8h-1.46zM1881.6,1038.4h2.19v3.4h-2.19zM1883.8,1038.2h2.31v3.6h-2.31zM1886.0,1038.6h2.21v3.1h-2.21zM1888.2,1038.8h1.63v3.0h-1.63zM1889.8,1038.5h1.88v3.2h-1.88zM1891.6,1038.4h2.44v3.3h-2.44zM1894.0,1038.6h2.33v3.2h-2.33zM1896.3,1039.0h2.35v2.7h-2.35zM1898.6,1038.6h2.42v3.2h-2.42zM1901.0,1038.2h2.32v3.6h-2.32zM1903.2,1038.4h1.63v3.3h-1.63zM1904.8,1039.1h2.50v2.6h-2.50zM1907.3,1039.1h2.32v2.6h-2.32zM1909.5,1039.2h2.33v2.6h-2.33zM1911.8,1038.7h2.43v3.0h-2.43zM1914.2,1039.2h1.79v2.5h-1.79zM1915.9,1038.1h1.46v3.6h-1.46zM1917.4,1038.9h2.23v2.9h-2.23zM1919.5,1038.7h2.20v3.1h-2.20zM1921.7,1039.4h0.10v2.3h-0.10zM1946.9,1038.4h2.49v3.4h-2.49zM1949.3,1038.3h2.45v3.4h-2.45zM1951.7,1038.1h2.40v3.6h-2.40zM1954.1,1039.1h2.34v2.6h-2.34zM1956.4,1039.2h2.09v2.5h-2.09zM1958.4,1038.5h1.53v3.2h-1.53zM1959.9,1039.7h1.63v2.0h-1.63zM1961.5,1038.6h2.38v3.1h-2.38zM1963.8,1039.1h2.13v2.7h-2.13zM1965.9,1038.2h1.51v3.5h-1.51zM1967.3,1039.7h2.37v2.0h-2.37zM1969.7,1039.4h1.93v2.4h-1.93zM1971.5,1039.1h2.19v2.6h-2.19zM1973.7,1038.9h1.82v2.8h-1.82zM1975.5,1038.3h2.36v3.4h-2.36zM1977.8,1039.7h1.46v2.0h-1.46zM1979.2,1038.7h2.34v3.0h-2.34zM1981.5,1038.6h1.71v3.1h-1.71zM1983.1,1038.5h1.79v3.2h-1.79zM1984.9,1039.7h0.43v2.0h-0.43zM1989.2,1039.1h1.95v2.7h-1.95zM1991.1,1037.3h1.89v4.4h-1.89zM1993.0,1038.6h1.45v3.2h-1.45zM1994.4,1038.5h1.77v3.2h-1.77zM1996.1,1039.4h1.96v2.4h-1.96zM1998.0,1038.8h2.44v2.9h-2.44zM2000.4,1038.3h2.26v3.4h-2.26zM2002.6,1038.3h1.81v3.4h-1.81zM2004.4,1038.3h2.24v3.4h-2.24zM2006.6,1039.2h2.38v2.6h-2.38zM2008.9,1038.5h1.60v3.3h-1.60zM2010.4,1038.5h1.34v3.2h-1.34zM2038.2,1039.0h1.77v2.7h-1.77zM2039.9,1038.4h2.39v3.3h-2.39zM2042.3,1038.8h1.76v2.9h-1.76zM2044.0,1039.4h2.12v2.3h-2.12zM2046.0,1039.1h2.33v2.6h-2.33zM2048.3,1039.0h1.62v2.8h-1.62zM2049.9,1038.3h1.77v3.4h-1.77zM2051.6,1037.9h2.47v3.8h-2.47zM2054.0,1038.7h2.23v3.1h-2.23zM2056.2,1039.3h2.07v2.4h-2.07zM2058.2,1037.7h2.30v4.1h-2.30zM2060.5,1039.5h1.58v2.2h-1.58zM2062.0,1038.9h2.25v2.8h-2.25zM2064.2,1038.1h2.50v3.7h-2.50zM2066.6,1038.1h2.28v3.7h-2.28zM2068.9,1038.4h2.12v3.4h-2.12zM2070.9,1039.6h1.85v2.2h-1.85zM2072.7,1038.9h2.11v2.9h-2.11zM2074.8,1038.0h1.87v3.7h-1.87zM2076.6,1039.5h1.74v2.3h-1.74zM2078.3,1039.5h2.36v2.3h-2.36zM2080.6,1037.9h2.02v3.9h-2.02zM2082.6,1038.6h2.36v3.2h-2.36zM2084.9,1038.9h1.91v2.8h-1.91zM2086.8,1038.5h1.75v3.2h-1.75zM2088.5,1039.6h1.89v2.1h-1.89zM2090.3,1037.9h1.70v3.8h-1.70zM2092.0,1038.6h2.47v3.1h-2.47zM2094.4,1038.5h2.11v3.3h-2.11zM2096.4,1038.7h1.45v3.1h-1.45zM2097.8,1038.5h1.88v3.2h-1.88zM2099.7,1039.4h2.03v2.4h-2.03zM2101.7,1039.5h1.73v2.2h-1.73zM2103.3,1037.7h1.43v4.0h-1.43zM2104.7,1039.3h1.62v2.4h-1.62zM2106.3,1039.0h1.95v2.8h-1.95zM2108.2,1038.5h2.38v3.2h-2.38zM2110.5,1039.5h2.48v2.2h-2.48zM2112.9,1038.8h1.42v2.9h-1.42zM2114.3,1038.6h2.47v3.2h-2.47zM2116.7,1037.8h1.90v4.0h-1.90zM2118.6,1038.4h2.44v3.3h-2.44zM2121.0,1038.2h1.64v3.6h-1.64zM2122.6,1038.1h1.41v3.6h-1.41zM2123.9,1039.2h1.50v2.5h-1.50zM2125.4,1040.0h1.63v1.7h-1.63zM2126.9,1040.0h2.26v1.8h-2.26zM2129.2,1040.8h2.14v0.9h-2.14zM2131.2,1041.0h0.43v0.7h-0.43z" fill="#3a3a3a"/>
<path d="M1789.4,1041.7h2.19v34.1h-2.19zM1791.5,1041.7h1.48v31.9h-1.48zM1793.0,1041.7h2.47v32.4h-2.47zM1795.4,1041.7h2.13v32.3h-2.13zM1797.5,1041.7h2.07v32.7h-2.07zM1799.5,1041.7h1.45v32.5h-1.45zM1800.9,1041.7h1.61v33.3h-1.61zM1802.4,1041.7h1.70v31.8h-1.70zM1804.1,1041.7h2.35v34.0h-2.35zM1806.4,1041.7h1.83v33.7h-1.83zM1808.2,1041.7h1.74v32.5h-1.74zM1809.9,1041.7h2.32v28.6h-2.32zM1812.1,1041.7h2.36v29.1h-2.36zM1814.5,1041.7h2.48v26.2h-2.48zM1816.9,1041.7h2.08v25.6h-2.08zM1818.9,1041.7h0.18v25.6h-0.18z" fill="#3a3a3a"/>
<path d="M1760.3,1041.7h0.91v33.1h-0.91zM1761.1,1041.7h1.02v33.6h-1.02zM1762.1,1041.7h1.13v32.9h-1.13zM1763.2,1041.7h1.22v33.4h-1.22zM1764.4,1041.7h0.88v33.0h-0.88zM1765.2,1041.7h0.91v33.5h-0.91zM1766.0,1041.7h0.98v33.5h-0.98zM1767.0,1041.7h1.14v33.0h-1.14zM1768.1,1041.7h1.12v33.0h-1.12zM1769.1,1041.7h0.78v33.3h-0.78zM1769.9,1041.7h1.25v33.2h-1.25zM1771.1,1041.7h1.29v33.2h-1.29zM1772.3,1041.7h0.97v33.5h-0.97zM1773.2,1041.7h1.32v33.1h-1.32zM1774.5,1041.7h0.98v33.5h-0.98zM1775.4,1041.7h1.10v33.3h-1.10zM1776.5,1041.7h1.25v33.2h-1.25zM1777.7,1041.7h1.20v33.7h-1.20zM1778.8,1041.7h0.76v33.4h-0.76zM1779.5,1041.7h1.11v33.5h-1.11zM1780.6,1041.7h1.27v33.4h-1.27zM1781.8,1041.7h1.02v33.0h-1.02zM1782.8,1041.7h1.16v31.3h-1.16zM1783.9,1041.7h1.00v30.0h-1.00zM1784.9,1041.7h1.19v28.9h-1.19zM1786.0,1041.7h1.01v27.4h-1.01zM1787.0,1041.7h0.82v29.5h-0.82zM1787.7,1041.7h0.92v32.4h-0.92zM1788.6,1041.7h0.85v33.2h-0.85z" fill="#e8a71f"/>
<text x="1675.1" y="1104.9" font-size="15.6" text-anchor="middle" class="r k">1</text>
<text x="1710.0" y="1096.4" font-size="15.6" text-anchor="middle" class="r k">2</text>
<text x="1743.6" y="1104.9" font-size="15.6" text-anchor="middle" class="r k">3</text>
<text x="1774.3" y="1096.4" font-size="15.6" text-anchor="middle" class="r k">4</text>
<text x="1803.2" y="1104.9" font-size="15.6" text-anchor="middle" class="r k">5</text>
<text x="1832.5" y="1096.4" font-size="15.6" text-anchor="middle" class="r k">6</text>
<text x="1861.4" y="1104.9" font-size="15.6" text-anchor="middle" class="r k">7</text>
<text x="1887.9" y="1096.4" font-size="15.6" text-anchor="middle" class="r k">8</text>
<text x="1910.6" y="1104.9" font-size="15.6" text-anchor="middle" class="r k">9</text>
<text x="1936.3" y="1096.4" font-size="15.6" text-anchor="middle" class="r k">10</text>
<text x="1962.2" y="1104.9" font-size="15.6" text-anchor="middle" class="r k">11</text>
<text x="1984.7" y="1096.4" font-size="15.6" text-anchor="middle" class="r k">12</text>
<text x="2008.0" y="1104.9" font-size="15.6" text-anchor="middle" class="r k">13</text>
<text x="2031.0" y="1096.4" font-size="15.6" text-anchor="middle" class="r k">14</text>
<text x="2053.0" y="1104.9" font-size="15.6" text-anchor="middle" class="r k">15</text>
<text x="2072.1" y="1096.4" font-size="15.6" text-anchor="middle" class="r k">16</text>
<text x="2090.6" y="1104.9" font-size="15.6" text-anchor="middle" class="r k">17</text>
<text x="2107.8" y="1096.4" font-size="15.6" text-anchor="middle" class="r k">18</text>
<text x="2123.7" y="1104.9" font-size="15.6" text-anchor="middle" class="r k">19</text>
<text x="1531.2" y="881.9" font-size="21" textLength="89.7" lengthAdjust="spacingAndGlyphs" class="r k">Tumor #1</text>
<text x="1531.2" y="964.9" font-size="21" textLength="89.7" lengthAdjust="spacingAndGlyphs" class="r k">Tumor #2</text>
<text x="1531.2" y="1048.3" font-size="21" textLength="89.7" lengthAdjust="spacingAndGlyphs" class="r k">Tumor #3</text>
<text x="1516.9" y="1100.4" font-size="21" textLength="104.0" lengthAdjust="spacingAndGlyphs" class="r k">Mouse chr.</text>
<text x="1470.1" y="1156.9" font-size="21" textLength="150.8" lengthAdjust="spacingAndGlyphs" class="r k">Syntenic human</text>
<text x="1469.6" y="1173.1" font-size="21" textLength="151.3" lengthAdjust="spacingAndGlyphs" class="r k">loci to recurrent</text>
<text x="1503.6" y="1192.9" font-size="21" textLength="117.3" lengthAdjust="spacingAndGlyphs" class="r k">mouse CNAs</text>
<text x="1576.7" y="1210.1" font-size="21" textLength="48.5" lengthAdjust="spacingAndGlyphs" class="r k">(n=5)</text>
<text x="1864.1" y="827.8" font-size="20.3" text-anchor="middle" font-weight="bold" textLength="182.7" lengthAdjust="spacingAndGlyphs" class="b k">pHGG - MET-driven</text>
<text x="1484.5" y="834.8" font-size="37" font-weight="bold" class="b">e</text>
<line x1="1715.81" y1="1141.16" x2="1715.81" y2="1206.80" stroke="#bdbdbd" stroke-width="0.8" stroke-dasharray="1.2 1.2"/>
<line x1="1754.99" y1="1141.16" x2="1754.99" y2="1206.80" stroke="#bdbdbd" stroke-width="0.8" stroke-dasharray="1.2 1.2"/>
<line x1="1786.22" y1="1141.16" x2="1786.22" y2="1206.80" stroke="#bdbdbd" stroke-width="0.8" stroke-dasharray="1.2 1.2"/>
<line x1="1817.18" y1="1141.16" x2="1817.18" y2="1206.80" stroke="#bdbdbd" stroke-width="0.8" stroke-dasharray="1.2 1.2"/>
<line x1="1845.77" y1="1141.16" x2="1845.77" y2="1206.80" stroke="#bdbdbd" stroke-width="0.8" stroke-dasharray="1.2 1.2"/>
<line x1="1873.30" y1="1141.16" x2="1873.30" y2="1206.80" stroke="#bdbdbd" stroke-width="0.8" stroke-dasharray="1.2 1.2"/>
<line x1="1898.44" y1="1141.16" x2="1898.44" y2="1206.80" stroke="#bdbdbd" stroke-width="0.8" stroke-dasharray="1.2 1.2"/>
<line x1="1922.26" y1="1141.16" x2="1922.26" y2="1206.80" stroke="#bdbdbd" stroke-width="0.8" stroke-dasharray="1.2 1.2"/>
<line x1="1945.55" y1="1141.16" x2="1945.55" y2="1206.80" stroke="#bdbdbd" stroke-width="0.8" stroke-dasharray="1.2 1.2"/>
<line x1="1966.73" y1="1141.16" x2="1966.73" y2="1206.80" stroke="#bdbdbd" stroke-width="0.8" stroke-dasharray="1.2 1.2"/>
<line x1="1988.43" y1="1141.16" x2="1988.43" y2="1206.80" stroke="#bdbdbd" stroke-width="0.8" stroke-dasharray="1.2 1.2"/>
<line x1="2010.40" y1="1141.16" x2="2010.40" y2="1206.80" stroke="#bdbdbd" stroke-width="0.8" stroke-dasharray="1.2 1.2"/>
<line x1="2028.93" y1="1141.16" x2="2028.93" y2="1206.80" stroke="#bdbdbd" stroke-width="0.8" stroke-dasharray="1.2 1.2"/>
<line x1="2045.34" y1="1141.16" x2="2045.34" y2="1206.80" stroke="#bdbdbd" stroke-width="0.8" stroke-dasharray="1.2 1.2"/>
<line x1="2062.01" y1="1141.16" x2="2062.01" y2="1206.80" stroke="#bdbdbd" stroke-width="0.8" stroke-dasharray="1.2 1.2"/>
<line x1="2076.57" y1="1141.16" x2="2076.57" y2="1206.80" stroke="#bdbdbd" stroke-width="0.8" stroke-dasharray="1.2 1.2"/>
<line x1="2089.27" y1="1141.16" x2="2089.27" y2="1206.80" stroke="#bdbdbd" stroke-width="0.8" stroke-dasharray="1.2 1.2"/>
<line x1="2102.24" y1="1141.16" x2="2102.24" y2="1206.80" stroke="#bdbdbd" stroke-width="0.8" stroke-dasharray="1.2 1.2"/>
<line x1="2111.51" y1="1141.16" x2="2111.51" y2="1206.80" stroke="#bdbdbd" stroke-width="0.8" stroke-dasharray="1.2 1.2"/>
<line x1="2121.03" y1="1141.16" x2="2121.03" y2="1206.80" stroke="#bdbdbd" stroke-width="0.8" stroke-dasharray="1.2 1.2"/>
<line x1="2129.50" y1="1141.16" x2="2129.50" y2="1206.80" stroke="#bdbdbd" stroke-width="0.8" stroke-dasharray="1.2 1.2"/>
<line x1="2137.44" y1="1141.16" x2="2137.44" y2="1206.80" stroke="#bdbdbd" stroke-width="0.8" stroke-dasharray="1.2 1.2"/>
<rect x="1676.64" y="1172.93" width="10.85" height="30.44" fill="#e8a71f"/>
<rect x="1859.00" y="1172.93" width="3.18" height="30.44" fill="#e8a71f"/>
<rect x="1907.17" y="1172.93" width="2.65" height="30.44" fill="#e8a71f"/>
<rect x="1911.94" y="1172.93" width="2.65" height="30.44" fill="#e8a71f"/>
<rect x="1923.06" y="1172.93" width="5.56" height="30.44" fill="#e8a71f"/>
<rect x="1935.50" y="1172.93" width="6.62" height="30.44" fill="#e8a71f"/>
<line x1="1676.11" y1="1172.93" x2="2137.44" y2="1172.93" stroke="#1a1a1a" stroke-width="2.5"/>
<path d="M1672.1,1136.4H1676.1V1210.8H1672.1" fill="none" stroke="#6e6e6e" stroke-width="0.9"/>
<text x="1644.9" y="1140.0" font-size="17.7" textLength="25.6" lengthAdjust="spacingAndGlyphs" class="r k">100</text>
<text x="1644.9" y="1221.0" font-size="17.7" textLength="25.6" lengthAdjust="spacingAndGlyphs" class="r k">100</text>
<text x="1659.9" y="1180.8" font-size="18" text-anchor="middle" transform="rotate(-90 1659.9 1180.8)" textLength="36.5" lengthAdjust="spacingAndGlyphs" class="r k">% in</text>
<text x="1673.2" y="1175.2" font-size="18.3" text-anchor="middle" transform="rotate(-90 1673.2 1175.2)" textLength="61.5" lengthAdjust="spacingAndGlyphs" class="r k">Mouse</text>
<circle cx="91.6" cy="1403.7" r="6.85" fill="#a6cee3"/>
<circle cx="151.9" cy="1441.5" r="6.85" fill="#a6cee3"/>
<circle cx="164.1" cy="1445.3" r="6.85" fill="#a6cee3"/>
<circle cx="176.3" cy="1482.0" r="6.85" fill="#a6cee3"/>
<circle cx="174.8" cy="1514.4" r="6.85" fill="#a6cee3"/>
<circle cx="183.6" cy="1544.2" r="6.85" fill="#a6cee3"/>
<circle cx="154.2" cy="1551.0" r="6.85" fill="#a6cee3"/>
<circle cx="277.4" cy="1546.8" r="6.85" fill="#a6cee3"/>
<circle cx="274.0" cy="1579.3" r="6.85" fill="#a6cee3"/>
<circle cx="221.7" cy="1588.0" r="6.85" fill="#a6cee3"/>
<circle cx="329.3" cy="1583.1" r="6.85" fill="#a6cee3"/>
<circle cx="193.1" cy="1613.6" r="6.85" fill="#a6cee3"/>
<circle cx="256.8" cy="1688.4" r="6.85" fill="#a6cee3"/>
<circle cx="239.3" cy="1707.5" r="6.85" fill="#a6cee3"/>
<circle cx="233.5" cy="1726.6" r="6.85" fill="#a6cee3"/>
<circle cx="261.4" cy="1726.2" r="6.85" fill="#a6cee3"/>
<circle cx="175.5" cy="1747.9" r="6.85" fill="#a6cee3"/>
<circle cx="168.3" cy="1752.5" r="6.85" fill="#a6cee3"/>
<circle cx="258.7" cy="1767.8" r="6.85" fill="#a6cee3"/>
<circle cx="233.5" cy="1789.5" r="6.85" fill="#a6cee3"/>
<circle cx="295.4" cy="1788.0" r="6.85" fill="#a6cee3"/>
<circle cx="257.6" cy="1799.1" r="6.85" fill="#a6cee3"/>
<circle cx="228.6" cy="1825.4" r="6.85" fill="#a6cee3"/>
<circle cx="109.5" cy="1472.4" r="6.85" fill="#33a02c"/>
<circle cx="119.1" cy="1473.2" r="6.85" fill="#33a02c"/>
<circle cx="150.4" cy="1494.2" r="6.85" fill="#33a02c"/>
<circle cx="211.8" cy="1520.1" r="6.85" fill="#33a02c"/>
<circle cx="206.4" cy="1540.0" r="6.85" fill="#33a02c"/>
<circle cx="252.2" cy="1562.1" r="6.85" fill="#33a02c"/>
<circle cx="441.5" cy="1548.0" r="6.85" fill="#33a02c"/>
<circle cx="388.1" cy="1567.1" r="6.85" fill="#33a02c"/>
<circle cx="397.6" cy="1572.0" r="6.85" fill="#33a02c"/>
<circle cx="427.8" cy="1592.2" r="6.85" fill="#33a02c"/>
<circle cx="480.8" cy="1588.8" r="6.85" fill="#33a02c"/>
<circle cx="237.7" cy="1653.7" r="6.85" fill="#33a02c"/>
<circle cx="354.9" cy="1806.3" r="6.85" fill="#33a02c"/>
<circle cx="478.2" cy="1459.4" r="6.85" fill="#e31a1c"/>
<circle cx="430.8" cy="1477.0" r="6.85" fill="#e31a1c"/>
<circle cx="447.6" cy="1486.5" r="6.85" fill="#e31a1c"/>
<circle cx="425.9" cy="1491.9" r="6.85" fill="#e31a1c"/>
<circle cx="381.6" cy="1508.3" r="6.85" fill="#e31a1c"/>
<circle cx="407.6" cy="1517.8" r="6.85" fill="#e31a1c"/>
<circle cx="533.9" cy="1496.1" r="6.85" fill="#e31a1c"/>
<circle cx="549.5" cy="1510.2" r="6.85" fill="#e31a1c"/>
<circle cx="540.4" cy="1524.3" r="6.85" fill="#e31a1c"/>
<circle cx="335.4" cy="1540.0" r="6.85" fill="#e31a1c"/>
<circle cx="345.0" cy="1557.1" r="6.85" fill="#e31a1c"/>
<circle cx="292.3" cy="1568.6" r="6.85" fill="#e31a1c"/>
<circle cx="561.3" cy="1524.7" r="6.85" fill="#0a1e8c"/>
<circle cx="264.5" cy="1593.8" r="6.85" fill="#0a1e8c"/>
<circle cx="360.6" cy="1730.8" r="6.85" fill="#0a1e8c"/>
<circle cx="356.8" cy="1733.1" r="6.85" fill="#0a1e8c"/>
<circle cx="299.9" cy="1814.3" r="6.85" fill="#0a1e8c"/>
<circle cx="360.2" cy="1809.8" r="6.85" fill="#0a1e8c"/>
<rect x="72.5" y="1386.9" width="508.7" height="454.1" fill="none" stroke="#000" stroke-width="2.3"/>
<line x1="167.91" y1="1841.05" x2="167.91" y2="1850.05" stroke="#000" stroke-width="1.6"/>
<text x="167.9" y="1878.3" font-size="20.3" text-anchor="middle" class="r k">−5</text>
<line x1="299.56" y1="1841.05" x2="299.56" y2="1850.05" stroke="#000" stroke-width="1.6"/>
<text x="299.6" y="1878.3" font-size="20.3" text-anchor="middle" class="r k">0</text>
<line x1="431.21" y1="1841.05" x2="431.21" y2="1850.05" stroke="#000" stroke-width="1.6"/>
<text x="431.2" y="1878.3" font-size="20.3" text-anchor="middle" class="r k">5</text>
<line x1="562.87" y1="1841.05" x2="562.87" y2="1850.05" stroke="#000" stroke-width="1.6"/>
<text x="562.9" y="1878.3" font-size="20.3" text-anchor="middle" class="r k">10</text>
<line x1="63.50" y1="1454.10" x2="72.50" y2="1454.10" stroke="#000" stroke-width="1.6"/>
<text x="56.1" y="1455.1" font-size="20.3" text-anchor="middle" transform="rotate(-90 56.1 1455.1)" class="r k">4</text>
<line x1="63.50" y1="1524.32" x2="72.50" y2="1524.32" stroke="#000" stroke-width="1.6"/>
<text x="56.1" y="1525.3" font-size="20.3" text-anchor="middle" transform="rotate(-90 56.1 1525.3)" class="r k">2</text>
<line x1="63.50" y1="1594.53" x2="72.50" y2="1594.53" stroke="#000" stroke-width="1.6"/>
<text x="56.1" y="1595.5" font-size="20.3" text-anchor="middle" transform="rotate(-90 56.1 1595.5)" class="r k">0</text>
<line x1="63.50" y1="1664.75" x2="72.50" y2="1664.75" stroke="#000" stroke-width="1.6"/>
<text x="56.1" y="1665.7" font-size="20.3" text-anchor="middle" transform="rotate(-90 56.1 1665.7)" class="r k">−2</text>
<line x1="63.50" y1="1735.34" x2="72.50" y2="1735.34" stroke="#000" stroke-width="1.6"/>
<text x="56.1" y="1736.3" font-size="20.3" text-anchor="middle" transform="rotate(-90 56.1 1736.3)" class="r k">−4</text>
<line x1="63.50" y1="1805.56" x2="72.50" y2="1805.56" stroke="#000" stroke-width="1.6"/>
<text x="56.1" y="1806.6" font-size="20.3" text-anchor="middle" transform="rotate(-90 56.1 1806.6)" class="r k">−6</text>
<text x="334.7" y="1904.6" font-size="20.3" text-anchor="middle" class="r k">tsne1</text>
<text x="30.7" y="1605.2" font-size="20" text-anchor="middle" transform="rotate(-90 30.7 1605.2)" class="r k">tsne2</text>
<circle cx="604.3" cy="1400.9" r="6.7" fill="#a6cee3"/>
<text x="620.6" y="1406.6" font-size="20.2" textLength="106.5" lengthAdjust="spacingAndGlyphs" class="r k">ALK (n=24)</text>
<circle cx="604.3" cy="1423.3" r="6.7" fill="#e31a1c"/>
<text x="620.6" y="1429.2" font-size="20.2" textLength="128.6" lengthAdjust="spacingAndGlyphs" class="r k">NTRK (n=12)</text>
<circle cx="604.3" cy="1445.9" r="6.7" fill="#0a1e8c"/>
<text x="620.6" y="1451.8" font-size="20.2" textLength="106.0" lengthAdjust="spacingAndGlyphs" class="r k">MET (n=6)</text>
<circle cx="604.3" cy="1468.5" r="6.7" fill="#33a02c"/>
<text x="620.6" y="1474.4" font-size="20.2" textLength="127.5" lengthAdjust="spacingAndGlyphs" class="r k">ROS1 (n=13)</text>
<text x="0.2" y="1386.4" font-size="37.5" font-weight="bold" textLength="13.2" lengthAdjust="spacingAndGlyphs" class="b">f</text>
</svg></body></html>
